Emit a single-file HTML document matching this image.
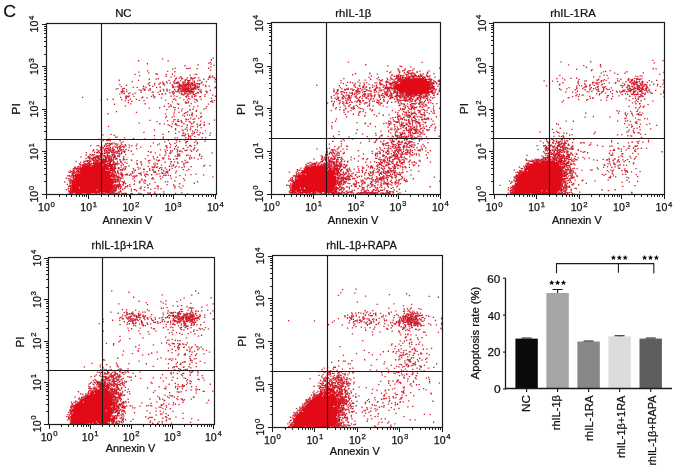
<!DOCTYPE html>
<html><head><meta charset="utf-8"><style>
html,body{margin:0;padding:0;background:#fff;}
svg{display:block;}
text{font-family:"Liberation Sans",sans-serif;fill:#111;stroke:#111;stroke-width:0.25px;}
.tx{opacity:0.999;}
</style></head><body>
<svg width="677" height="469" viewBox="0 0 677 469">
<rect width="677" height="469" fill="#fff"/>
<g class="tx"><path fill="#e30a17" d="M71 193.5L71.5 180L73 175L76 171L80.7 167.6L86 165L91 163.4L96 162L99.3 161.4L103.4 161.5L106 164L108.6 168.5L111 172L113 176L114 183L113 189L110 193.5z"/><path fill="#e30a17" shape-rendering="crispEdges" d="M186 84h1v1h-1zM185 85h2v1h-2zM186 87h1v1h-1zM185 88h3v1h-3zM185 89h3v1h-3zM105 158h1v1h-1zM103 159h3v1h-3zM102 160h4v1h-4zM102 161h4v1h-4zM110 162h1v1h-1zM110 163h1v1h-1zM109 164h4v1h-4zM108 165h5v1h-5zM109 166h3v1h-3zM110 167h2v1h-2zM110 168h3v1h-3zM110 169h3v1h-3zM110 170h3v1h-3zM114 181h2v1h-2z"/><path fill="#d0202f" d="M0 0m212.5 57.4h1.3v1.3h-1.3zm-50.6 0.8h1.3v1.3h-1.3zm48.8 0.9h1.3v1.3h-1.3zm-72.7 1h1.3v1.3h-1.3zm29.5 0.2h1.3v1.3h-1.3zm42.5 1.4h1.3v1.3h-1.3zm-1.8 0.9h1.3v1.3h-1.3zm-61.5 0.5h1.3v1.3h-1.3zm63.8 0.3h1.3v1.3h-1.3zm-13.1 0.9h1.3v1.3h-1.3zm16.1 0.4h1.3v1.3h-1.3zm-29.1 0.4h1.3v1.3h-1.3zm25.9 1.2h1.3v1.3h-1.3zm-35.7 1.5h1.3v1.3h-1.3zm11.4 0h1.3v1.3h-1.3zm3.4 -0.2h1.3v1.3h-1.3zm18.7 0h1.3v1.3h-1.3zm-36 0.9h1.3v1.3h-1.3zm15.4 -0.5h1.3v1.3h-1.3zm9 0h1.3v1.3h-1.3zm13.5 1.5h1.3v1.3h-1.3zm-63 0.8h1.3v1.3h-1.3zm20 0.4h1.3v1.3h-1.3zm-28.7 0.8h1.3v1.3h-1.3zm35.9 -0.4h1.3v1.3h-1.3zm-26.1 1.1h1.3v1.3h-1.3zm-13.8 1.5h1.3v1.3h-1.3zm21.2 -0.6h1.3v1.3h-1.3zm1.3 0.6h1.3v1.3h-1.3zm8.9 0h1.3v1.3h-1.3zm6.1 -0.1h1.3v1.3h-1.3zm22.8 0.2h1.3v1.3h-1.3zm1.6 -0.1h1.3v1.3h-1.3zm-6.7 0.8h1.3v1.3h-1.3zm-50.6 0.5h1.3v1.3h-1.3zm26.5 0.6h1.3v1.3h-1.3zm8.5 -0.1h1.3v1.3h-1.3zm35.5 -0.2h1.3v1.3h-1.3zm2.6 0.1h1.3v1.3h-1.3zm-41.5 1.1h1.3v1.3h-1.3zm9.3 -0.3h1.3v1.3h-1.3zm1 0.3h1.3v1.3h-1.3zm28 -0.4h1.3v1.3h-1.3zm2.7 0.2h1.3v1.3h-1.3zm-35.7 1.3h1.3v1.3h-1.3zm2.7 -0.2h1.3v1.3h-1.3zm8.2 -0.1h1.3v1.3h-1.3zm3.3 -0.2h1.3v1.3h-1.3zm0.6 -0.2h1.3v1.3h-1.3zm1.5 0.9h1.3v1.3h-1.3zm1 0h1.3v1.3h-1.3zm1.3 -0.7h1.3v1.3h-1.3zm3.5 0.2h1.3v1.3h-1.3zm10.5 -0.3h1.3v1.3h-1.3zm1 0h1.3v1.3h-1.3zm4 -0.1h1.3v1.3h-1.3zm0.7 0.6h1.3v1.3h-1.3zm-65.4 1.1h1.3v1.3h-1.3zm6.8 -0.2h1.3v1.3h-1.3zm2.1 -0.3h1.3v1.3h-1.3zm17.5 0h1.3v1.3h-1.3zm5.9 0h1.3v1.3h-1.3zm1 -0.2h1.3v1.3h-1.3zm3.5 0.8h1.3v1.3h-1.3zm5 -0.6h1.3v1.3h-1.3zm12.6 0.5h1.3v1.3h-1.3zm4.5 0.2h1.3v1.3h-1.3zm-89.1 0.8h1.3v1.3h-1.3zm19.4 0.1h1.3v1.3h-1.3zm30.5 0h1.3v1.3h-1.3zm5.8 -0.1h1.3v1.3h-1.3zm10.1 -0.2h1.3v1.3h-1.3zm2.5 0.4h1.3v1.3h-1.3zm2.6 0h1.3v1.3h-1.3zm2.6 -0.6h1.3v1.3h-1.3zm6.9 0.2h1.3v1.3h-1.3zm0.5 0.2h1.3v1.3h-1.3zm15.3 -0.7h1.3v1.3h-1.3zm-34.6 1.4h1.3v1.3h-1.3zm4.6 -0.3h1.3v1.3h-1.3zm2.5 0h1.3v1.3h-1.3zm0.9 -0.1h1.3v1.3h-1.3zm0.3 0.7h1.3v1.3h-1.3zm5.2 -0.1h1.3v1.3h-1.3zm3.5 -0.2h1.3v1.3h-1.3zm-65.5 0.7h1.3v1.3h-1.3zm30.5 0.4h1.3v1.3h-1.3zm3.8 -0.5h1.3v1.3h-1.3zm7.7 0.1h1.3v1.3h-1.3zm3.5 0.2h1.3v1.3h-1.3zm0.6 0.3h1.3v1.3h-1.3zm4.9 -0.3h1.3v1.3h-1.3zm1.2 0.3h1.3v1.3h-1.3zm0.8 0.2h1.3v1.3h-1.3zm2.4 0h1.3v1.3h-1.3zm0.5 -0.5h1.3v1.3h-1.3zm4.6 0.5h1.3v1.3h-1.3zm1.8 -0.4h1.3v1.3h-1.3zm7.4 0.2h1.3v1.3h-1.3zm4.5 -0.6h1.3v1.3h-1.3zm8.5 0.4h1.3v1.3h-1.3zm-65.4 0.8h1.3v1.3h-1.3zm5.2 0.6h1.3v1.3h-1.3zm5.2 -0.2h1.3v1.3h-1.3zm0.5 -0.2h1.3v1.3h-1.3zm3.3 0.2h1.3v1.3h-1.3zm3.4 -0.1h1.3v1.3h-1.3zm3.1 0.1h1.3v1.3h-1.3zm3.6 -0.4h1.3v1.3h-1.3zm2.4 0.4h1.3v1.3h-1.3zm0 -0.5h1.3v1.3h-1.3zm1.2 0.7h1.3v1.3h-1.3zm0.2 -0.2h1.3v1.3h-1.3zm0.1 -0.3h1.3v1.3h-1.3zm1.5 0.2h1.3v1.3h-1.3zm3.7 -0.3h1.3v1.3h-1.3zm0.1 0.1h1.3v1.3h-1.3zm6.2 -0.2h1.3v1.3h-1.3zm1.8 -0.1h1.3v1.3h-1.3zm0.9 0.9h1.3v1.3h-1.3zm2.8 -0.4h1.3v1.3h-1.3zm6.7 -0.3h1.3v1.3h-1.3zm-53.1 1.2h1.3v1.3h-1.3zm10.5 0.5h1.3v1.3h-1.3zm4.2 -0.9h1.3v1.3h-1.3zm11.7 0.1h1.3v1.3h-1.3zm4.6 0.6h1.3v1.3h-1.3zm3.7 -0.5h1.3v1.3h-1.3zm1.3 0.4h1.3v1.3h-1.3zm1.3 0h1.3v1.3h-1.3zm0.3 0.1h1.3v1.3h-1.3zm1.1 -0.4h1.3v1.3h-1.3zm0.1 0.6h1.3v1.3h-1.3zm0 -0.8h1.3v1.3h-1.3zm0.2 0h1.3v1.3h-1.3zm1 0.1h1.3v1.3h-1.3zm0.5 -0.1h1.3v1.3h-1.3zm0.5 0.8h1.3v1.3h-1.3zm1.6 0h1.3v1.3h-1.3zm0.2 -0.7h1.3v1.3h-1.3zm0.5 0.6h1.3v1.3h-1.3zm1.1 -0.8h1.3v1.3h-1.3zm0 0.2h1.3v1.3h-1.3zm2.2 0.7h1.3v1.3h-1.3zm1.9 -0.9h1.3v1.3h-1.3zm1.1 0.2h1.3v1.3h-1.3zm1.4 0.7h1.3v1.3h-1.3zm0.4 -0.7h1.3v1.3h-1.3zm-79.9 0.8h1.3v1.3h-1.3zm6.7 0.7h1.3v1.3h-1.3zm22.8 0.1h1.3v1.3h-1.3zm5.2 -0.4h1.3v1.3h-1.3zm9 -0.3h1.3v1.3h-1.3zm1.2 0.4h1.3v1.3h-1.3zm7.5 -0.2h1.3v1.3h-1.3zm7.8 0.1h1.3v1.3h-1.3zm0.1 -0.4h1.3v1.3h-1.3zm1.3 0.6h1.3v1.3h-1.3zm1.4 -0.5h1.3v1.3h-1.3zm0.2 0.8h1.3v1.3h-1.3zm0.9 -0.1h1.3v1.3h-1.3zm0.4 0.1h1.3v1.3h-1.3zm0.7 -0.6h1.3v1.3h-1.3zm0.8 0h1.3v1.3h-1.3zm1.6 -0.1h1.3v1.3h-1.3zm1.1 0.7h1.3v1.3h-1.3zm0.3 -0.8h1.3v1.3h-1.3zm0.1 0.4h1.3v1.3h-1.3zm1.5 0.3h1.3v1.3h-1.3zm2.6 -0.7h1.3v1.3h-1.3zm1.4 0.6h1.3v1.3h-1.3zm0.1 -0.7h1.3v1.3h-1.3zm0.4 0.4h1.3v1.3h-1.3zm0.7 0.2h1.3v1.3h-1.3zm7.5 -0.2h1.3v1.3h-1.3zm2.4 0.4h1.3v1.3h-1.3zm-62.2 0.7h1.3v1.3h-1.3zm6.5 -0.4h1.3v1.3h-1.3zm2.9 0.7h1.3v1.3h-1.3zm19.9 -0.3h1.3v1.3h-1.3zm0.8 0h1.3v1.3h-1.3zm5.1 -0.1h1.3v1.3h-1.3zm0.3 -0.3h1.3v1.3h-1.3zm0.6 0.8h1.3v1.3h-1.3zm0.6 -0.3h1.3v1.3h-1.3zm0.6 0h1.3v1.3h-1.3zm0.2 0.1h1.3v1.3h-1.3zm0.2 -0.2h1.3v1.3h-1.3zm3.9 0.2h1.3v1.3h-1.3zm3.1 0.1h1.3v1.3h-1.3zm2 -0.4h1.3v1.3h-1.3zm0.7 0.5h1.3v1.3h-1.3zm1.5 -0.5h1.3v1.3h-1.3zm0.6 -0.4h1.3v1.3h-1.3zm1.7 0.9h1.3v1.3h-1.3zm1.1 -0.5h1.3v1.3h-1.3zm1.6 0.2h1.3v1.3h-1.3zm1.9 0h1.3v1.3h-1.3zm10 0h1.3v1.3h-1.3zm-87.8 0.5h1.3v1.3h-1.3zm11.9 0.8h1.3v1.3h-1.3zm3.9 0h1.3v1.3h-1.3zm6.6 -0.7h1.3v1.3h-1.3zm2.3 0.6h1.3v1.3h-1.3zm10.6 0.1h1.3v1.3h-1.3zm3.5 -0.2h1.3v1.3h-1.3zm13.6 0h1.3v1.3h-1.3zm2.2 -0.3h1.3v1.3h-1.3zm1.7 -0.3h1.3v1.3h-1.3zm0.2 0.2h1.3v1.3h-1.3zm1.8 0.3h1.3v1.3h-1.3zm2.4 -0.6h1.3v1.3h-1.3zm0.2 0.4h1.3v1.3h-1.3zm0.5 -0.2h1.3v1.3h-1.3zm1.3 0.5h1.3v1.3h-1.3zm0.5 -0.4h1.3v1.3h-1.3zm0.6 0.2h1.3v1.3h-1.3zm0.2 -0.5h1.3v1.3h-1.3zm1.7 0h1.3v1.3h-1.3zm0.5 0.6h1.3v1.3h-1.3zm1.2 0h1.3v1.3h-1.3zm1.8 0.2h1.3v1.3h-1.3zm4.8 -0.8h1.3v1.3h-1.3zm2.1 0.2h1.3v1.3h-1.3zm1.4 0.7h1.3v1.3h-1.3zm7.2 -0.8h1.3v1.3h-1.3zm9.3 0.6h1.3v1.3h-1.3zm-90.9 1.1h1.3v1.3h-1.3zm48.3 -0.8h1.3v1.3h-1.3zm6.2 0h1.3v1.3h-1.3zm1.2 0.6h1.3v1.3h-1.3zm0.4 0.3h1.3v1.3h-1.3zm1.5 -0.8h1.3v1.3h-1.3zm0.9 0.1h1.3v1.3h-1.3zm1.1 0.1h1.3v1.3h-1.3zm0.8 0.4h1.3v1.3h-1.3zm3.9 -0.1h1.3v1.3h-1.3zm0.8 0.3h1.3v1.3h-1.3zm2 -0.2h1.3v1.3h-1.3zm0.2 0.2h1.3v1.3h-1.3zm0.6 -0.3h1.3v1.3h-1.3zm1.1 0h1.3v1.3h-1.3zm0.2 0.2h1.3v1.3h-1.3zm0.6 -0.8h1.3v1.3h-1.3zm0.6 0.9h1.3v1.3h-1.3zm0.1 -0.3h1.3v1.3h-1.3zm1 -0.5h1.3v1.3h-1.3zm1.5 0.1h1.3v1.3h-1.3zm0 -0.1h1.3v1.3h-1.3zm17.5 0.3h1.3v1.3h-1.3zm-98.8 1.2h1.3v1.3h-1.3zm1.8 -0.6h1.3v1.3h-1.3zm5 0.2h1.3v1.3h-1.3zm20.2 0h1.3v1.3h-1.3zm1.7 0.3h1.3v1.3h-1.3zm5.1 -0.5h1.3v1.3h-1.3zm13.5 0.8h1.3v1.3h-1.3zm3.4 -0.3h1.3v1.3h-1.3zm7.8 0.4h1.3v1.3h-1.3zm4.3 -0.6h1.3v1.3h-1.3zm1.2 0h1.3v1.3h-1.3zm1.8 0.3h1.3v1.3h-1.3zm0.8 -0.1h1.3v1.3h-1.3zm1.3 -0.5h1.3v1.3h-1.3zm0.5 0.9h1.3v1.3h-1.3zm3.7 -0.1h1.3v1.3h-1.3zm1.2 -0.4h1.3v1.3h-1.3zm1.4 0.3h1.3v1.3h-1.3zm0.9 -0.4h1.3v1.3h-1.3zm0.2 0.1h1.3v1.3h-1.3zm0.4 0.5h1.3v1.3h-1.3zm0.5 -0.8h1.3v1.3h-1.3zm0.5 0.6h1.3v1.3h-1.3zm1.3 -0.6h1.3v1.3h-1.3zm1.1 0h1.3v1.3h-1.3zm0 0.5h1.3v1.3h-1.3zm0.2 -0.1h1.3v1.3h-1.3zm3 0.3h1.3v1.3h-1.3zm-76.5 0.9h1.3v1.3h-1.3zm4.1 -0.7h1.3v1.3h-1.3zm12.7 0.3h1.3v1.3h-1.3zm2.1 0.6h1.3v1.3h-1.3zm2.9 -0.2h1.3v1.3h-1.3zm1 -0.3h1.3v1.3h-1.3zm3.5 0.5h1.3v1.3h-1.3zm1.6 -0.7h1.3v1.3h-1.3zm9.9 0.6h1.3v1.3h-1.3zm7.1 0h1.3v1.3h-1.3zm2.2 -0.3h1.3v1.3h-1.3zm5 -0.1h1.3v1.3h-1.3zm3.3 -0.3h1.3v1.3h-1.3zm0.8 0.4h1.3v1.3h-1.3zm2.2 -0.2h1.3v1.3h-1.3zm2.4 0.2h1.3v1.3h-1.3zm0.4 -0.1h1.3v1.3h-1.3zm1.1 0.4h1.3v1.3h-1.3zm0.5 -0.3h1.3v1.3h-1.3zm3 0.1h1.3v1.3h-1.3zm0.9 0.2h1.3v1.3h-1.3zm4.8 -0.5h1.3v1.3h-1.3zm4.4 -0.3h1.3v1.3h-1.3zm2.7 0h1.3v1.3h-1.3zm9.3 0.9h1.3v1.3h-1.3zm-86.3 0.7h1.3v1.3h-1.3zm16.8 -0.5h1.3v1.3h-1.3zm19.4 0.7h1.3v1.3h-1.3zm3.5 -0.4h1.3v1.3h-1.3zm3.4 0h1.3v1.3h-1.3zm8.5 0.2h1.3v1.3h-1.3zm3.1 -0.5h1.3v1.3h-1.3zm0.2 0.8h1.3v1.3h-1.3zm2.5 -0.7h1.3v1.3h-1.3zm0.7 0.3h1.3v1.3h-1.3zm0.4 -0.2h1.3v1.3h-1.3zm0.2 0.4h1.3v1.3h-1.3zm0.8 -0.1h1.3v1.3h-1.3zm1.5 -0.1h1.3v1.3h-1.3zm0.7 0.1h1.3v1.3h-1.3zm0.6 0h1.3v1.3h-1.3zm0.3 -0.4h1.3v1.3h-1.3zm1.1 0.1h1.3v1.3h-1.3zm0.9 0.4h1.3v1.3h-1.3zm0.3 -0.3h1.3v1.3h-1.3zm1 -0.3h1.3v1.3h-1.3zm0.2 0.6h1.3v1.3h-1.3zm0.3 -0.1h1.3v1.3h-1.3zm0.2 -0.6h1.3v1.3h-1.3zm0.4 0.7h1.3v1.3h-1.3zm0.8 -0.2h1.3v1.3h-1.3zm0.1 -0.4h1.3v1.3h-1.3zm8 0.5h1.3v1.3h-1.3zm1.1 0.3h1.3v1.3h-1.3zm5 -0.2h1.3v1.3h-1.3zm-84.9 0.5h1.3v1.3h-1.3zm1.4 0h1.3v1.3h-1.3zm4.1 -0.2h1.3v1.3h-1.3zm14.5 0.8h1.3v1.3h-1.3zm11.1 -0.3h1.3v1.3h-1.3zm1 0.1h1.3v1.3h-1.3zm4.8 0.3h1.3v1.3h-1.3zm14.3 -0.6h1.3v1.3h-1.3zm0.9 -0.3h1.3v1.3h-1.3zm0.1 0.4h1.3v1.3h-1.3zm3.6 -0.4h1.3v1.3h-1.3zm0.7 0h1.3v1.3h-1.3zm0.2 0h1.3v1.3h-1.3zm3.1 0h1.3v1.3h-1.3zm0.6 0.2h1.3v1.3h-1.3zm2.8 0.3h1.3v1.3h-1.3zm0.5 0.3h1.3v1.3h-1.3zm0.7 -0.7h1.3v1.3h-1.3zm0.9 0.2h1.3v1.3h-1.3zm1 0.1h1.3v1.3h-1.3zm2 -0.4h1.3v1.3h-1.3zm2 0h1.3v1.3h-1.3zm0.5 0.2h1.3v1.3h-1.3zm0.1 0.6h1.3v1.3h-1.3zm1 -0.7h1.3v1.3h-1.3zm0.3 0.1h1.3v1.3h-1.3zm0.5 -0.2h1.3v1.3h-1.3zm7.2 0.9h1.3v1.3h-1.3zm6 -0.9h1.3v1.3h-1.3zm-85 1.3h1.3v1.3h-1.3zm2 0.4h1.3v1.3h-1.3zm5.8 -0.3h1.3v1.3h-1.3zm5.3 0.1h1.3v1.3h-1.3zm34.8 -0.3h1.3v1.3h-1.3zm2.9 0h1.3v1.3h-1.3zm1.6 0.1h1.3v1.3h-1.3zm5 0h1.3v1.3h-1.3zm5.7 0.5h1.3v1.3h-1.3zm4 -0.6h1.3v1.3h-1.3zm0.5 -0.2h1.3v1.3h-1.3zm0.4 0.4h1.3v1.3h-1.3zm1.6 -0.4h1.3v1.3h-1.3zm1.7 0.9h1.3v1.3h-1.3zm4 -0.7h1.3v1.3h-1.3zm1 0h1.3v1.3h-1.3zm3 -0.1h1.3v1.3h-1.3zm5.6 0.2h1.3v1.3h-1.3zm-87.1 1.2h1.3v1.3h-1.3zm4.5 -0.5h1.3v1.3h-1.3zm4.2 0.1h1.3v1.3h-1.3zm4.3 0.6h1.3v1.3h-1.3zm26.5 0.2h1.3v1.3h-1.3zm2.6 0h1.3v1.3h-1.3zm0.4 -0.6h1.3v1.3h-1.3zm3.2 -0.1h1.3v1.3h-1.3zm7.7 0.4h1.3v1.3h-1.3zm8.1 -0.5h1.3v1.3h-1.3zm0.4 0.1h1.3v1.3h-1.3zm0 0.2h1.3v1.3h-1.3zm1.3 0.4h1.3v1.3h-1.3zm1.7 -0.2h1.3v1.3h-1.3zm1.2 -0.5h1.3v1.3h-1.3zm1.5 0.3h1.3v1.3h-1.3zm1.4 0.5h1.3v1.3h-1.3zm1.7 -0.8h1.3v1.3h-1.3zm2.6 0.2h1.3v1.3h-1.3zm2.8 -0.3h1.3v1.3h-1.3zm-42.9 1.4h1.3v1.3h-1.3zm28.9 -0.3h1.3v1.3h-1.3zm1.8 0.4h1.3v1.3h-1.3zm3.7 0.4h1.3v1.3h-1.3zm5.8 -0.8h1.3v1.3h-1.3zm1.4 -0.1h1.3v1.3h-1.3zm10.5 0.1h1.3v1.3h-1.3zm7.5 0.5h1.3v1.3h-1.3zm-86.3 0.7h1.3v1.3h-1.3zm0.4 0.5h1.3v1.3h-1.3zm1.2 0.1h1.3v1.3h-1.3zm1.3 -0.5h1.3v1.3h-1.3zm4.7 0.5h1.3v1.3h-1.3zm17.5 0h1.3v1.3h-1.3zm2.1 -0.3h1.3v1.3h-1.3zm17.5 0.1h1.3v1.3h-1.3zm3.2 -0.3h1.3v1.3h-1.3zm2.8 0.5h1.3v1.3h-1.3zm9.7 -0.3h1.3v1.3h-1.3zm1.9 0.3h1.3v1.3h-1.3zm3.3 -0.3h1.3v1.3h-1.3zm2.7 0.1h1.3v1.3h-1.3zm1.4 -0.4h1.3v1.3h-1.3zm8.8 0.6h1.3v1.3h-1.3zm10.5 -0.2h1.3v1.3h-1.3zm-132.8 1.2h1.3v1.3h-1.3zm38.1 0h1.3v1.3h-1.3zm4.9 -0.4h1.3v1.3h-1.3zm3 -0.3h1.3v1.3h-1.3zm14.2 0.5h1.3v1.3h-1.3zm12.3 -0.4h1.3v1.3h-1.3zm30.9 -0.1h1.3v1.3h-1.3zm0.5 0.3h1.3v1.3h-1.3zm5.7 0.2h1.3v1.3h-1.3zm7.7 -0.4h1.3v1.3h-1.3zm0.7 -0.1h1.3v1.3h-1.3zm-74.1 1h1.3v1.3h-1.3zm15.4 0.1h1.3v1.3h-1.3zm5.3 0h1.3v1.3h-1.3zm6.9 0h1.3v1.3h-1.3zm7.4 0.2h1.3v1.3h-1.3zm18.6 -0.2h1.3v1.3h-1.3zm8.4 0.6h1.3v1.3h-1.3zm23.1 0h1.3v1.3h-1.3zm-104.2 0.9h1.3v1.3h-1.3zm5.8 -0.1h1.3v1.3h-1.3zm12.8 -0.3h1.3v1.3h-1.3zm4.4 0.2h1.3v1.3h-1.3zm6 0.3h1.3v1.3h-1.3zm37.1 0h1.3v1.3h-1.3zm1.3 -0.5h1.3v1.3h-1.3zm15 0.2h1.3v1.3h-1.3zm4.8 -0.1h1.3v1.3h-1.3zm6.6 0.4h1.3v1.3h-1.3zm-99.9 0.9h1.3v1.3h-1.3zm20.4 -0.8h1.3v1.3h-1.3zm17.8 0.8h1.3v1.3h-1.3zm26.4 -0.3h1.3v1.3h-1.3zm10 0.4h1.3v1.3h-1.3zm8 -0.5h1.3v1.3h-1.3zm3.4 0.1h1.3v1.3h-1.3zm8.9 -0.5h1.3v1.3h-1.3zm0.7 0.7h1.3v1.3h-1.3zm17.6 0.1h1.3v1.3h-1.3zm-89.3 0.6h1.3v1.3h-1.3zm3.3 -0.4h1.3v1.3h-1.3zm3.4 0.9h1.3v1.3h-1.3zm12.2 -0.9h1.3v1.3h-1.3zm53.3 0.6h1.3v1.3h-1.3zm14.5 -0.4h1.3v1.3h-1.3zm-39.3 1.2h1.3v1.3h-1.3zm12.8 0.1h1.3v1.3h-1.3zm3.3 -0.1h1.3v1.3h-1.3zm6.2 0.2h1.3v1.3h-1.3zm15.9 -0.6h1.3v1.3h-1.3zm1.1 0.1h1.3v1.3h-1.3zm1.1 0.4h1.3v1.3h-1.3zm-84.6 0.5h1.3v1.3h-1.3zm57.6 0.9h1.3v1.3h-1.3zm0.6 -0.8h1.3v1.3h-1.3zm1.5 0.1h1.3v1.3h-1.3zm-73.6 1.5h1.3v1.3h-1.3zm16.2 -0.3h1.3v1.3h-1.3zm14.5 -0.2h1.3v1.3h-1.3zm23.3 -0.1h1.3v1.3h-1.3zm9.1 0.2h1.3v1.3h-1.3zm1.1 0.4h1.3v1.3h-1.3zm12.5 -0.6h1.3v1.3h-1.3zm17.3 0.4h1.3v1.3h-1.3zm-37.9 0.8h1.3v1.3h-1.3zm-45.1 1.3h1.3v1.3h-1.3zm38.8 0.1h1.3v1.3h-1.3zm7.1 0h1.3v1.3h-1.3zm18.1 -0.4h1.3v1.3h-1.3zm8.3 0.2h1.3v1.3h-1.3zm-28.7 0.7h1.3v1.3h-1.3zm4.6 0.7h1.3v1.3h-1.3zm20.2 -0.5h1.3v1.3h-1.3zm13 -0.4h1.3v1.3h-1.3zm-57.6 1.5h1.3v1.3h-1.3zm10.4 -0.3h1.3v1.3h-1.3zm15.6 -0.1h1.3v1.3h-1.3zm3.2 0.5h1.3v1.3h-1.3zm27.4 0.2h1.3v1.3h-1.3zm-23.4 0.5h1.3v1.3h-1.3zm10.6 0.4h1.3v1.3h-1.3zm11 -0.1h1.3v1.3h-1.3zm-37.1 0.5h1.3v1.3h-1.3zm7.9 0.1h1.3v1.3h-1.3zm14.9 -0.2h1.3v1.3h-1.3zm0.4 0.5h1.3v1.3h-1.3zm6.3 0.3h1.3v1.3h-1.3zm-14.8 0.6h1.3v1.3h-1.3zm14.5 0.4h1.3v1.3h-1.3zm-79.7 0.2h1.3v1.3h-1.3zm20 0.9h1.3v1.3h-1.3zm37.8 -0.4h1.3v1.3h-1.3zm4.7 0.4h1.3v1.3h-1.3zm8.7 -0.7h1.3v1.3h-1.3zm-2.5 1.3h1.3v1.3h-1.3zm1 -0.4h1.3v1.3h-1.3zm6 0.3h1.3v1.3h-1.3zm8.8 0.3h1.3v1.3h-1.3zm-93.1 0.5h1.3v1.3h-1.3zm57.7 0.3h1.3v1.3h-1.3zm8.3 0h1.3v1.3h-1.3zm10.3 -0.5h1.3v1.3h-1.3zm8.4 0.5h1.3v1.3h-1.3zm-9.7 1.4h1.3v1.3h-1.3zm4.6 -0.3h1.3v1.3h-1.3zm2.1 -0.1h1.3v1.3h-1.3zm2.1 -0.5h1.3v1.3h-1.3zm-25.2 1.8h1.3v1.3h-1.3zm7.8 0.1h1.3v1.3h-1.3zm10.4 -0.3h1.3v1.3h-1.3zm7.4 -0.2h1.3v1.3h-1.3zm4.5 -0.1h1.3v1.3h-1.3zm5 0.6h1.3v1.3h-1.3zm-29.3 0.6h1.3v1.3h-1.3zm28.4 0.2h1.3v1.3h-1.3zm-34.8 0.4h1.3v1.3h-1.3zm24.8 0.8h1.3v1.3h-1.3zm8.1 -0.1h1.3v1.3h-1.3zm-13 0.8h1.3v1.3h-1.3zm1 0.3h1.3v1.3h-1.3zm6.4 -0.1h1.3v1.3h-1.3zm1.6 -0.6h1.3v1.3h-1.3zm-44.7 1.6h1.3v1.3h-1.3zm23.9 -0.5h1.3v1.3h-1.3zm1 -0.3h1.3v1.3h-1.3zm3.3 0h1.3v1.3h-1.3zm10.3 0h1.3v1.3h-1.3zm25.9 0.6h1.3v1.3h-1.3zm-46.9 0.7h1.3v1.3h-1.3zm10.1 0.5h1.3v1.3h-1.3zm0.4 -0.2h1.3v1.3h-1.3zm3.1 -0.4h1.3v1.3h-1.3zm4.9 0.3h1.3v1.3h-1.3zm14.7 0.1h1.3v1.3h-1.3zm-43.7 0.4h1.3v1.3h-1.3zm16.3 0h1.3v1.3h-1.3zm5.5 0.1h1.3v1.3h-1.3zm2.7 0.3h1.3v1.3h-1.3zm7.8 -0.3h1.3v1.3h-1.3zm1.1 0.8h1.3v1.3h-1.3zm3.7 -0.6h1.3v1.3h-1.3zm10.2 0.5h1.3v1.3h-1.3zm-65.2 0.7h1.3v1.3h-1.3zm36.5 0.3h1.3v1.3h-1.3zm6.4 -0.8h1.3v1.3h-1.3zm11.5 0.1h1.3v1.3h-1.3zm-33.7 1.1h1.3v1.3h-1.3zm4.6 0.2h1.3v1.3h-1.3zm7.7 -0.1h1.3v1.3h-1.3zm3.1 0.5h1.3v1.3h-1.3zm0.7 -0.7h1.3v1.3h-1.3zm8 0.1h1.3v1.3h-1.3zm7.6 0h1.3v1.3h-1.3zm0.3 -0.2h1.3v1.3h-1.3zm5.3 0.7h1.3v1.3h-1.3zm3.6 -0.2h1.3v1.3h-1.3zm8.6 -0.3h1.3v1.3h-1.3zm-41.2 1h1.3v1.3h-1.3zm7.8 -0.1h1.3v1.3h-1.3zm1 0.6h1.3v1.3h-1.3zm10.4 0h1.3v1.3h-1.3zm9.9 -0.7h1.3v1.3h-1.3zm2.1 0.8h1.3v1.3h-1.3zm0.9 0.1h1.3v1.3h-1.3zm4.2 -0.7h1.3v1.3h-1.3zm-95.9 1.6h1.3v1.3h-1.3zm61.3 -0.8h1.3v1.3h-1.3zm9 0.3h1.3v1.3h-1.3zm3.1 0.6h1.3v1.3h-1.3zm9 -0.1h1.3v1.3h-1.3zm13.1 -0.7h1.3v1.3h-1.3zm-32.4 1.1h1.3v1.3h-1.3zm15.3 0.7h1.3v1.3h-1.3zm6 -0.8h1.3v1.3h-1.3zm4.5 0.1h1.3v1.3h-1.3zm-6.7 1.3h1.3v1.3h-1.3zm10.5 -0.5h1.3v1.3h-1.3zm-25.7 1h1.3v1.3h-1.3zm9.6 0.5h1.3v1.3h-1.3zm1.9 0.1h1.3v1.3h-1.3zm-32.6 0.7h1.3v1.3h-1.3zm21.1 0.1h1.3v1.3h-1.3zm6.8 0h1.3v1.3h-1.3zm7.8 -0.2h1.3v1.3h-1.3zm5.4 -0.1h1.3v1.3h-1.3zm1.9 0.6h1.3v1.3h-1.3zm-14.3 0.6h1.3v1.3h-1.3zm4.2 0h1.3v1.3h-1.3zm5.4 0.4h1.3v1.3h-1.3zm12.7 -0.4h1.3v1.3h-1.3zm-61.5 1.5h1.3v1.3h-1.3zm24.7 -0.6h1.3v1.3h-1.3zm10.5 0.1h1.3v1.3h-1.3zm15.3 0.4h1.3v1.3h-1.3zm2.6 0.1h1.3v1.3h-1.3zm-21.5 1.1h1.3v1.3h-1.3zm7.6 -0.2h1.3v1.3h-1.3zm0.8 -0.1h1.3v1.3h-1.3zm8.2 0.2h1.3v1.3h-1.3zm8 -0.6h1.3v1.3h-1.3zm2.5 0.7h1.3v1.3h-1.3zm7.8 -0.3h1.3v1.3h-1.3zm-99.4 1.2h1.3v1.3h-1.3zm52 0.1h1.3v1.3h-1.3zm22.5 -0.2h1.3v1.3h-1.3zm2.5 -0.3h1.3v1.3h-1.3zm5.8 -0.2h1.3v1.3h-1.3zm-90.9 1.2h1.3v1.3h-1.3zm11.3 0.4h1.3v1.3h-1.3zm68.8 -0.2h1.3v1.3h-1.3zm5.7 0.3h1.3v1.3h-1.3zm3.4 -0.4h1.3v1.3h-1.3zm6 -0.4h1.3v1.3h-1.3zm1.1 0.3h1.3v1.3h-1.3zm10.6 0.5h1.3v1.3h-1.3zm-55.4 0.1h1.3v1.3h-1.3zm27.7 0.1h1.3v1.3h-1.3zm2.1 0.1h1.3v1.3h-1.3zm0.6 -0.2h1.3v1.3h-1.3zm5.7 0.6h1.3v1.3h-1.3zm-74.9 1h1.3v1.3h-1.3zm1.4 -0.1h1.3v1.3h-1.3zm46.3 0h1.3v1.3h-1.3zm25.4 -0.3h1.3v1.3h-1.3zm0.3 -0.1h1.3v1.3h-1.3zm1.6 -0.1h1.3v1.3h-1.3zm4.2 0h1.3v1.3h-1.3zm-70.3 1.3h1.3v1.3h-1.3zm38.7 0.2h1.3v1.3h-1.3zm11.8 -0.1h1.3v1.3h-1.3zm2.2 -0.1h1.3v1.3h-1.3zm8.5 -0.1h1.3v1.3h-1.3zm2.6 0.6h1.3v1.3h-1.3zm2.2 0h1.3v1.3h-1.3zm11.6 -0.6h1.3v1.3h-1.3zm3.3 0.1h1.3v1.3h-1.3zm-106.3 1.4h1.3v1.3h-1.3zm10 0h1.3v1.3h-1.3zm0.3 -0.2h1.3v1.3h-1.3zm24 -0.5h1.3v1.3h-1.3zm11.5 0.4h1.3v1.3h-1.3zm9.5 0.2h1.3v1.3h-1.3zm36.7 0.3h1.3v1.3h-1.3zm0.3 -0.4h1.3v1.3h-1.3zm-88.3 0.9h1.3v1.3h-1.3zm3.6 0.5h1.3v1.3h-1.3zm0.2 -0.4h1.3v1.3h-1.3zm1.1 0.3h1.3v1.3h-1.3zm0.3 -0.7h1.3v1.3h-1.3zm0.4 0.4h1.3v1.3h-1.3zm59.7 0.3h1.3v1.3h-1.3zm7.3 -0.7h1.3v1.3h-1.3zm1.1 0.5h1.3v1.3h-1.3zm8 -0.2h1.3v1.3h-1.3zm-81.4 0.7h1.3v1.3h-1.3zm6.8 -0.1h1.3v1.3h-1.3zm9.8 0.2h1.3v1.3h-1.3zm59.6 0.5h1.3v1.3h-1.3zm7.8 0.1h1.3v1.3h-1.3zm8.6 -0.3h1.3v1.3h-1.3zm9 0.2h1.3v1.3h-1.3zm-81.9 0.4h1.3v1.3h-1.3zm41.6 0.3h1.3v1.3h-1.3zm11.8 0.1h1.3v1.3h-1.3zm9.4 0.1h1.3v1.3h-1.3zm0.3 -0.4h1.3v1.3h-1.3zm8.5 0.7h1.3v1.3h-1.3zm-87.2 0.8h1.3v1.3h-1.3zm2.3 0.2h1.3v1.3h-1.3zm2.2 -0.3h1.3v1.3h-1.3zm1.9 -0.2h1.3v1.3h-1.3zm7.3 -0.2h1.3v1.3h-1.3zm32.1 0.1h1.3v1.3h-1.3zm16.3 0.2h1.3v1.3h-1.3zm5.3 0.4h1.3v1.3h-1.3zm10.8 -0.6h1.3v1.3h-1.3zm11.7 -0.1h1.3v1.3h-1.3zm-91.5 0.9h1.3v1.3h-1.3zm0.3 0.8h1.3v1.3h-1.3zm3 -0.8h1.3v1.3h-1.3zm1.2 0.6h1.3v1.3h-1.3zm0.7 -0.4h1.3v1.3h-1.3zm1 0.2h1.3v1.3h-1.3zm3.2 -0.1h1.3v1.3h-1.3zm0.6 0.2h1.3v1.3h-1.3zm0.4 0h1.3v1.3h-1.3zm1.6 -0.1h1.3v1.3h-1.3zm3.8 0.4h1.3v1.3h-1.3zm15.3 -0.4h1.3v1.3h-1.3zm22.4 -0.1h1.3v1.3h-1.3zm37.9 -0.2h1.3v1.3h-1.3zm-92.5 1.7h1.3v1.3h-1.3zm3.2 -0.1h1.3v1.3h-1.3zm1.9 -0.6h1.3v1.3h-1.3zm10.3 0.6h1.3v1.3h-1.3zm5 -0.5h1.3v1.3h-1.3zm0.1 -0.2h1.3v1.3h-1.3zm3.9 0.4h1.3v1.3h-1.3zm28.4 -0.2h1.3v1.3h-1.3zm13 -0.2h1.3v1.3h-1.3zm5.8 0.7h1.3v1.3h-1.3zm9.6 0.1h1.3v1.3h-1.3zm4.2 0h1.3v1.3h-1.3zm4.6 -0.1h1.3v1.3h-1.3zm-104 0.2h1.3v1.3h-1.3zm6.3 0h1.3v1.3h-1.3zm1.5 0h1.3v1.3h-1.3zm3.1 0.6h1.3v1.3h-1.3zm2.7 0.1h1.3v1.3h-1.3zm2.1 0h1.3v1.3h-1.3zm0.4 -0.1h1.3v1.3h-1.3zm2.3 0h1.3v1.3h-1.3zm0.5 -0.6h1.3v1.3h-1.3zm5 0.5h1.3v1.3h-1.3zm2.3 -0.5h1.3v1.3h-1.3zm5.3 0.9h1.3v1.3h-1.3zm1.1 -0.4h1.3v1.3h-1.3zm0 0.4h1.3v1.3h-1.3zm2.5 -0.6h1.3v1.3h-1.3zm5.9 -0.1h1.3v1.3h-1.3zm4.4 0h1.3v1.3h-1.3zm14.4 0.3h1.3v1.3h-1.3zm15.5 -0.3h1.3v1.3h-1.3zm0.5 0.2h1.3v1.3h-1.3zm0.1 0.5h1.3v1.3h-1.3zm23 -0.7h1.3v1.3h-1.3zm1.6 0.6h1.3v1.3h-1.3zm-90.9 0.9h1.3v1.3h-1.3zm0.7 -0.1h1.3v1.3h-1.3zm9.2 0.3h1.3v1.3h-1.3zm2.6 -0.2h1.3v1.3h-1.3zm2.9 0h1.3v1.3h-1.3zm1.5 0.1h1.3v1.3h-1.3zm1.5 -0.6h1.3v1.3h-1.3zm0.4 0.1h1.3v1.3h-1.3zm0.4 -0.3h1.3v1.3h-1.3zm0.4 0.3h1.3v1.3h-1.3zm1.1 0.3h1.3v1.3h-1.3zm2.7 0.1h1.3v1.3h-1.3zm0.3 -0.5h1.3v1.3h-1.3zm5.2 0.6h1.3v1.3h-1.3zm11.4 -0.2h1.3v1.3h-1.3zm29.5 0.1h1.3v1.3h-1.3zm5.3 -0.7h1.3v1.3h-1.3zm2.4 0.8h1.3v1.3h-1.3zm9.9 0.1h1.3v1.3h-1.3zm-85.9 0.6h1.3v1.3h-1.3zm1.2 -0.5h1.3v1.3h-1.3zm0.5 0.5h1.3v1.3h-1.3zm2.1 0.4h1.3v1.3h-1.3zm1.4 -0.2h1.3v1.3h-1.3zm0.8 -0.2h1.3v1.3h-1.3zm0.8 -0.2h1.3v1.3h-1.3zm4.3 0.3h1.3v1.3h-1.3zm7 -0.2h1.3v1.3h-1.3zm46.8 -0.2h1.3v1.3h-1.3zm16.7 0.6h1.3v1.3h-1.3zm11.1 -0.8h1.3v1.3h-1.3zm-94 1.7h1.3v1.3h-1.3zm4.8 -0.4h1.3v1.3h-1.3zm0.5 -0.3h1.3v1.3h-1.3zm3 0.5h1.3v1.3h-1.3zm0.4 0h1.3v1.3h-1.3zm1.4 0.3h1.3v1.3h-1.3zm0.1 -0.5h1.3v1.3h-1.3zm1.8 0.1h1.3v1.3h-1.3zm5 -0.2h1.3v1.3h-1.3zm2 -0.2h1.3v1.3h-1.3zm0.9 0.5h1.3v1.3h-1.3zm3 0.4h1.3v1.3h-1.3zm2.4 0h1.3v1.3h-1.3zm10.8 -0.9h1.3v1.3h-1.3zm37.9 0.2h1.3v1.3h-1.3zm2.4 0.7h1.3v1.3h-1.3zm6 -0.9h1.3v1.3h-1.3zm11.2 0.3h1.3v1.3h-1.3zm-100.6 1.2h1.3v1.3h-1.3zm0.1 -0.4h1.3v1.3h-1.3zm3.3 0.1h1.3v1.3h-1.3zm4 0h1.3v1.3h-1.3zm1 0.5h1.3v1.3h-1.3zm2.2 -0.3h1.3v1.3h-1.3zm0.7 -0.3h1.3v1.3h-1.3zm1.9 0.6h1.3v1.3h-1.3zm1.7 0h1.3v1.3h-1.3zm1.7 -0.1h1.3v1.3h-1.3zm2.8 -0.1h1.3v1.3h-1.3zm0.8 -0.2h1.3v1.3h-1.3zm0.5 -0.3h1.3v1.3h-1.3zm4.7 0.5h1.3v1.3h-1.3zm2.6 -0.5h1.3v1.3h-1.3zm6.8 0.9h1.3v1.3h-1.3zm32 -0.6h1.3v1.3h-1.3zm4.6 0.1h1.3v1.3h-1.3zm2.1 0.4h1.3v1.3h-1.3zm10.5 -0.2h1.3v1.3h-1.3zm7.4 0.3h1.3v1.3h-1.3zm2.1 -0.4h1.3v1.3h-1.3zm3.4 0.1h1.3v1.3h-1.3zm3.1 -0.4h1.3v1.3h-1.3zm4.1 0.2h1.3v1.3h-1.3zm-104.9 0.9h1.3v1.3h-1.3zm5.9 -0.1h1.3v1.3h-1.3zm0.1 0.5h1.3v1.3h-1.3zm2.3 -0.2h1.3v1.3h-1.3zm0.6 -0.2h1.3v1.3h-1.3zm2.6 0.1h1.3v1.3h-1.3zm1.9 -0.2h1.3v1.3h-1.3zm3.4 0.2h1.3v1.3h-1.3zm0.6 0.2h1.3v1.3h-1.3zm0.1 -0.3h1.3v1.3h-1.3zm0.4 -0.3h1.3v1.3h-1.3zm0.3 0.7h1.3v1.3h-1.3zm1.5 -0.7h1.3v1.3h-1.3zm1.2 0.9h1.3v1.3h-1.3zm2.1 -0.3h1.3v1.3h-1.3zm2.2 -0.6h1.3v1.3h-1.3zm0.7 0.6h1.3v1.3h-1.3zm2.2 -0.4h1.3v1.3h-1.3zm0.7 0.2h1.3v1.3h-1.3zm2.4 0.3h1.3v1.3h-1.3zm0.9 -0.2h1.3v1.3h-1.3zm6.3 0.2h1.3v1.3h-1.3zm17.1 0.2h1.3v1.3h-1.3zm22.1 -0.6h1.3v1.3h-1.3zm1.9 0.1h1.3v1.3h-1.3zm7.3 0.3h1.3v1.3h-1.3zm1.2 -0.3h1.3v1.3h-1.3zm5.2 -0.3h1.3v1.3h-1.3zm5.6 0.6h1.3v1.3h-1.3zm5 -0.2h1.3v1.3h-1.3zm-102.1 1.2h1.3v1.3h-1.3zm2.9 -0.1h1.3v1.3h-1.3zm1.8 0.3h1.3v1.3h-1.3zm2.9 -0.5h1.3v1.3h-1.3zm2.6 -0.3h1.3v1.3h-1.3zm2.3 -0.1h1.3v1.3h-1.3zm0.8 0.8h1.3v1.3h-1.3zm0.3 -0.1h1.3v1.3h-1.3zm3.4 0h1.3v1.3h-1.3zm1.3 0h1.3v1.3h-1.3zm1.4 -0.2h1.3v1.3h-1.3zm1.9 -0.4h1.3v1.3h-1.3zm0.9 0.5h1.3v1.3h-1.3zm0.7 -0.3h1.3v1.3h-1.3zm1.5 -0.1h1.3v1.3h-1.3zm4 -0.2h1.3v1.3h-1.3zm1.5 0.8h1.3v1.3h-1.3zm25.8 0h1.3v1.3h-1.3zm0.5 -0.4h1.3v1.3h-1.3zm14.5 -0.3h1.3v1.3h-1.3zm5.7 0.4h1.3v1.3h-1.3zm6.2 -0.1h1.3v1.3h-1.3zm0.1 -0.2h1.3v1.3h-1.3zm4.7 0.2h1.3v1.3h-1.3zm-96 0.8h1.3v1.3h-1.3zm10.4 0.1h1.3v1.3h-1.3zm1.2 -0.3h1.3v1.3h-1.3zm2.6 0.8h1.3v1.3h-1.3zm0.9 -0.6h1.3v1.3h-1.3zm2.8 0.4h1.3v1.3h-1.3zm0.4 0.2h1.3v1.3h-1.3zm1 -0.1h1.3v1.3h-1.3zm1.2 -0.6h1.3v1.3h-1.3zm2.4 -0.1h1.3v1.3h-1.3zm0.2 0.2h1.3v1.3h-1.3zm2.6 0.1h1.3v1.3h-1.3zm2.8 -0.1h1.3v1.3h-1.3zm0.4 0.2h1.3v1.3h-1.3zm1.7 0.5h1.3v1.3h-1.3zm4.8 -0.9h1.3v1.3h-1.3zm33.6 0.4h1.3v1.3h-1.3zm10.8 0.1h1.3v1.3h-1.3zm3.8 -0.2h1.3v1.3h-1.3zm42.3 0h1.3v1.3h-1.3zm-111.5 1.6h1.3v1.3h-1.3zm0.6 -0.4h1.3v1.3h-1.3zm0.9 -0.1h1.3v1.3h-1.3zm0.4 -0.2h1.3v1.3h-1.3zm4.9 0.3h1.3v1.3h-1.3zm1.4 -0.4h1.3v1.3h-1.3zm4.5 0.3h1.3v1.3h-1.3zm5.1 -0.3h1.3v1.3h-1.3zm1.4 -0.1h1.3v1.3h-1.3zm0.1 0.3h1.3v1.3h-1.3zm1.6 -0.3h1.3v1.3h-1.3zm11.4 0.9h1.3v1.3h-1.3zm37.5 -0.9h1.3v1.3h-1.3zm7.4 0.6h1.3v1.3h-1.3zm1.9 -0.3h1.3v1.3h-1.3zm20 0.3h1.3v1.3h-1.3zm-113.6 1h1.3v1.3h-1.3zm3.9 -0.4h1.3v1.3h-1.3zm1.5 0.5h1.3v1.3h-1.3zm1.3 -0.7h1.3v1.3h-1.3zm1.7 0h1.3v1.3h-1.3zm5.9 0.6h1.3v1.3h-1.3zm2 -0.5h1.3v1.3h-1.3zm2.1 0.7h1.3v1.3h-1.3zm2.7 -0.7h1.3v1.3h-1.3zm0.1 0.4h1.3v1.3h-1.3zm4.7 -0.4h1.3v1.3h-1.3zm1.1 0.5h1.3v1.3h-1.3zm1.4 0.2h1.3v1.3h-1.3zm0 -0.6h1.3v1.3h-1.3zm5 0.6h1.3v1.3h-1.3zm6.1 -0.8h1.3v1.3h-1.3zm34.2 0.4h1.3v1.3h-1.3zm5.2 0.3h1.3v1.3h-1.3zm12.9 -0.7h1.3v1.3h-1.3zm1 0h1.3v1.3h-1.3zm7.7 0.9h1.3v1.3h-1.3zm1.2 -0.4h1.3v1.3h-1.3zm11.7 0.2h1.3v1.3h-1.3zm-110.9 1.1h1.3v1.3h-1.3zm4.6 -0.5h1.3v1.3h-1.3zm2.9 0.2h1.3v1.3h-1.3zm0.3 -0.2h1.3v1.3h-1.3zm1.5 -0.1h1.3v1.3h-1.3zm0.8 0.3h1.3v1.3h-1.3zm0.9 0h1.3v1.3h-1.3zm0.4 0.1h1.3v1.3h-1.3zm0.2 0.3h1.3v1.3h-1.3zm0 0h1.3v1.3h-1.3zm3.4 -0.8h1.3v1.3h-1.3zm0.2 0.5h1.3v1.3h-1.3zm1.2 -0.6h1.3v1.3h-1.3zm2.5 0.8h1.3v1.3h-1.3zm0.4 -0.8h1.3v1.3h-1.3zm1.4 0.3h1.3v1.3h-1.3zm0.8 0.1h1.3v1.3h-1.3zm2.1 -0.4h1.3v1.3h-1.3zm2.6 0.3h1.3v1.3h-1.3zm0.5 0.6h1.3v1.3h-1.3zm2.3 -0.4h1.3v1.3h-1.3zm0.2 -0.5h1.3v1.3h-1.3zm30.3 0h1.3v1.3h-1.3zm20.6 0.6h1.3v1.3h-1.3zm6.7 -0.1h1.3v1.3h-1.3zm1.9 0.2h1.3v1.3h-1.3zm1 -0.7h1.3v1.3h-1.3zm1.4 0.2h1.3v1.3h-1.3zm10.5 0h1.3v1.3h-1.3zm11.5 0.6h1.3v1.3h-1.3zm-120.8 0.6h1.3v1.3h-1.3zm6.8 0.4h1.3v1.3h-1.3zm2.2 -0.3h1.3v1.3h-1.3zm4.4 0.4h1.3v1.3h-1.3zm1 -0.6h1.3v1.3h-1.3zm1.3 0.4h1.3v1.3h-1.3zm0.4 -0.7h1.3v1.3h-1.3zm0.4 0.1h1.3v1.3h-1.3zm0.5 0.3h1.3v1.3h-1.3zm0.8 0.5h1.3v1.3h-1.3zm1.9 -0.1h1.3v1.3h-1.3zm0.4 -0.1h1.3v1.3h-1.3zm0.9 -0.4h1.3v1.3h-1.3zm3.1 0.2h1.3v1.3h-1.3zm0.1 0.3h1.3v1.3h-1.3zm1.1 -0.7h1.3v1.3h-1.3zm2.2 0.8h1.3v1.3h-1.3zm0.7 -0.5h1.3v1.3h-1.3zm2 -0.1h1.3v1.3h-1.3zm2 0.1h1.3v1.3h-1.3zm0.8 0h1.3v1.3h-1.3zm0.7 0.4h1.3v1.3h-1.3zm0.1 -0.1h1.3v1.3h-1.3zm4.4 -0.5h1.3v1.3h-1.3zm4.6 -0.2h1.3v1.3h-1.3zm29.6 0.2h1.3v1.3h-1.3zm4 0.5h1.3v1.3h-1.3zm-69.4 0.4h1.3v1.3h-1.3zm1.1 0h1.3v1.3h-1.3zm0.3 0.8h1.3v1.3h-1.3zm1.8 -0.3h1.3v1.3h-1.3zm2.1 -0.5h1.3v1.3h-1.3zm1.4 0.3h1.3v1.3h-1.3zm0.8 0.3h1.3v1.3h-1.3zm0.8 -0.7h1.3v1.3h-1.3zm1.4 0.6h1.3v1.3h-1.3zm2.2 0.1h1.3v1.3h-1.3zm1.9 -0.4h1.3v1.3h-1.3zm1.9 0.5h1.3v1.3h-1.3zm2.2 -0.5h1.3v1.3h-1.3zm0.7 -0.2h1.3v1.3h-1.3zm0.1 0.1h1.3v1.3h-1.3zm0.1 0.4h1.3v1.3h-1.3zm0.3 0.2h1.3v1.3h-1.3zm1.8 0.1h1.3v1.3h-1.3zm0.5 -0.4h1.3v1.3h-1.3zm1.7 -0.4h1.3v1.3h-1.3zm0.4 0.4h1.3v1.3h-1.3zm2.2 -0.3h1.3v1.3h-1.3zm2.1 0.4h1.3v1.3h-1.3zm0.6 -0.1h1.3v1.3h-1.3zm7.3 0.1h1.3v1.3h-1.3zm38.7 0h1.3v1.3h-1.3zm1.6 -0.4h1.3v1.3h-1.3zm25.8 0h1.3v1.3h-1.3zm1.9 0h1.3v1.3h-1.3zm2.7 0.1h1.3v1.3h-1.3zm6.9 0.6h1.3v1.3h-1.3zm-115.2 0.2h1.3v1.3h-1.3zm3.7 0.5h1.3v1.3h-1.3zm0.2 0h1.3v1.3h-1.3zm1.5 -0.6h1.3v1.3h-1.3zm0.6 0.5h1.3v1.3h-1.3zm1 -0.1h1.3v1.3h-1.3zm1 -0.1h1.3v1.3h-1.3zm4.3 -0.2h1.3v1.3h-1.3zm1.3 0.6h1.3v1.3h-1.3zm0.1 -0.1h1.3v1.3h-1.3zm1.2 0.2h1.3v1.3h-1.3zm5.4 -0.6h1.3v1.3h-1.3zm0.1 -0.1h1.3v1.3h-1.3zm2.1 -0.1h1.3v1.3h-1.3zm0.1 0.5h1.3v1.3h-1.3zm0.9 0h1.3v1.3h-1.3zm0.1 -0.3h1.3v1.3h-1.3zm1 0.6h1.3v1.3h-1.3zm1 0.1h1.3v1.3h-1.3zm2.2 -0.4h1.3v1.3h-1.3zm2.1 0.2h1.3v1.3h-1.3zm1.1 -0.7h1.3v1.3h-1.3zm0 0.2h1.3v1.3h-1.3zm6.5 0.7h1.3v1.3h-1.3zm3.3 -0.1h1.3v1.3h-1.3zm18.6 -0.5h1.3v1.3h-1.3zm8.6 -0.1h1.3v1.3h-1.3zm9.2 0.4h1.3v1.3h-1.3zm5.5 -0.4h1.3v1.3h-1.3zm1.6 0.7h1.3v1.3h-1.3zm3.3 -0.1h1.3v1.3h-1.3zm2.6 -0.8h1.3v1.3h-1.3zm0.3 0.3h1.3v1.3h-1.3zm0.5 -0.3h1.3v1.3h-1.3zm0.2 0.3h1.3v1.3h-1.3zm12.5 0h1.3v1.3h-1.3zm0.3 0h1.3v1.3h-1.3zm8 0.2h1.3v1.3h-1.3zm-105.7 0.8h1.3v1.3h-1.3zm1 0.4h1.3v1.3h-1.3zm2.2 -0.5h1.3v1.3h-1.3zm1.4 0.1h1.3v1.3h-1.3zm1.3 0.6h1.3v1.3h-1.3zm0.8 -0.7h1.3v1.3h-1.3zm2.2 0.5h1.3v1.3h-1.3zm0.6 -0.4h1.3v1.3h-1.3zm0.7 -0.1h1.3v1.3h-1.3zm0.4 0.2h1.3v1.3h-1.3zm3.6 -0.3h1.3v1.3h-1.3zm2.1 0.6h1.3v1.3h-1.3zm1.3 -0.7h1.3v1.3h-1.3zm0.9 0.6h1.3v1.3h-1.3zm1 -0.4h1.3v1.3h-1.3zm0.5 0.7h1.3v1.3h-1.3zm0.5 -0.1h1.3v1.3h-1.3zm0.1 -0.2h1.3v1.3h-1.3zm6.8 -0.2h1.3v1.3h-1.3zm0.3 -0.4h1.3v1.3h-1.3zm3.2 0.3h1.3v1.3h-1.3zm1.4 -0.2h1.3v1.3h-1.3zm7 0.6h1.3v1.3h-1.3zm18.3 0.2h1.3v1.3h-1.3zm6.4 -0.6h1.3v1.3h-1.3zm2.6 0.3h1.3v1.3h-1.3zm0.6 0.3h1.3v1.3h-1.3zm25.6 -0.1h1.3v1.3h-1.3zm-109.1 1.1h1.3v1.3h-1.3zm8 -0.1h1.3v1.3h-1.3zm1.3 -0.2h1.3v1.3h-1.3zm1.1 -0.1h1.3v1.3h-1.3zm1 -0.4h1.3v1.3h-1.3zm1 0h1.3v1.3h-1.3zm1.1 0.6h1.3v1.3h-1.3zm0.4 -0.4h1.3v1.3h-1.3zm0.9 0.2h1.3v1.3h-1.3zm3.2 -0.1h1.3v1.3h-1.3zm0.5 -0.4h1.3v1.3h-1.3zm0.2 0.2h1.3v1.3h-1.3zm0 0h1.3v1.3h-1.3zm1.7 0h1.3v1.3h-1.3zm0.1 -0.1h1.3v1.3h-1.3zm0.4 0.1h1.3v1.3h-1.3zm0.8 0.3h1.3v1.3h-1.3zm0.9 0.2h1.3v1.3h-1.3zm0.9 0.1h1.3v1.3h-1.3zm0.9 0h1.3v1.3h-1.3zm0.9 -0.3h1.3v1.3h-1.3zm0.4 -0.2h1.3v1.3h-1.3zm5 0h1.3v1.3h-1.3zm0.7 0.5h1.3v1.3h-1.3zm0.8 -0.1h1.3v1.3h-1.3zm1.3 -0.6h1.3v1.3h-1.3zm0.7 0.4h1.3v1.3h-1.3zm0.9 0.2h1.3v1.3h-1.3zm0.3 0h1.3v1.3h-1.3zm1.9 0.1h1.3v1.3h-1.3zm4.1 0h1.3v1.3h-1.3zm3.5 -0.3h1.3v1.3h-1.3zm16.1 -0.5h1.3v1.3h-1.3zm11.5 0.2h1.3v1.3h-1.3zm9.6 -0.2h1.3v1.3h-1.3zm0 0.5h1.3v1.3h-1.3zm-77.4 1.4h1.3v1.3h-1.3zm3 0h1.3v1.3h-1.3zm3.7 -0.9h1.3v1.3h-1.3zm2.4 0.4h1.3v1.3h-1.3zm1 -0.2h1.3v1.3h-1.3zm2.7 0.7h1.3v1.3h-1.3zm0.3 -0.4h1.3v1.3h-1.3zm1.7 -0.4h1.3v1.3h-1.3zm0.5 0.2h1.3v1.3h-1.3zm0.7 0h1.3v1.3h-1.3zm0.3 -0.1h1.3v1.3h-1.3zm0.5 -0.2h1.3v1.3h-1.3zm7.2 0.8h1.3v1.3h-1.3zm1.4 -0.5h1.3v1.3h-1.3zm0.4 0.1h1.3v1.3h-1.3zm3.2 -0.2h1.3v1.3h-1.3zm1.2 0h1.3v1.3h-1.3zm3.1 0h1.3v1.3h-1.3zm6.6 0.4h1.3v1.3h-1.3zm0.8 0h1.3v1.3h-1.3zm3.6 0h1.3v1.3h-1.3zm15.9 -0.6h1.3v1.3h-1.3zm24.2 0.7h1.3v1.3h-1.3zm5.9 -0.5h1.3v1.3h-1.3zm0.4 -0.2h1.3v1.3h-1.3zm3.1 0.3h1.3v1.3h-1.3zm3 0.3h1.3v1.3h-1.3zm4.6 -0.4h1.3v1.3h-1.3zm4.9 0.2h1.3v1.3h-1.3zm0.8 0.5h1.3v1.3h-1.3zm-100.6 1h1.3v1.3h-1.3zm1.4 -0.7h1.3v1.3h-1.3zm0.5 -0.1h1.3v1.3h-1.3zm16.6 0h1.3v1.3h-1.3zm1.7 0.6h1.3v1.3h-1.3zm1.7 -0.3h1.3v1.3h-1.3zm0.2 -0.4h1.3v1.3h-1.3zm3.7 0.8h1.3v1.3h-1.3zm0.1 -0.3h1.3v1.3h-1.3zm0.4 -0.3h1.3v1.3h-1.3zm0.5 0.1h1.3v1.3h-1.3zm1.8 0.3h1.3v1.3h-1.3zm0.3 0.3h1.3v1.3h-1.3zm1.2 0h1.3v1.3h-1.3zm0.4 -0.4h1.3v1.3h-1.3zm9.2 0h1.3v1.3h-1.3zm9.9 0.1h1.3v1.3h-1.3zm4.2 -0.2h1.3v1.3h-1.3zm8.1 0h1.3v1.3h-1.3zm5.9 0h1.3v1.3h-1.3zm22.9 0.5h1.3v1.3h-1.3zm5.9 -0.1h1.3v1.3h-1.3zm2 -0.6h1.3v1.3h-1.3zm-106.3 1h1.3v1.3h-1.3zm0.8 0.6h1.3v1.3h-1.3zm2.6 0.1h1.3v1.3h-1.3zm1.6 -0.4h1.3v1.3h-1.3zm0.2 -0.5h1.3v1.3h-1.3zm0.5 0h1.3v1.3h-1.3zm0.9 0.6h1.3v1.3h-1.3zm0.8 0h1.3v1.3h-1.3zm1.6 -0.3h1.3v1.3h-1.3zm0.5 0h1.3v1.3h-1.3zm0.5 -0.3h1.3v1.3h-1.3zm18.2 0.5h1.3v1.3h-1.3zm0.9 -0.4h1.3v1.3h-1.3zm0.8 0.1h1.3v1.3h-1.3zm4.6 -0.2h1.3v1.3h-1.3zm0.9 0.9h1.3v1.3h-1.3zm1.7 -0.8h1.3v1.3h-1.3zm2.3 0.3h1.3v1.3h-1.3zm3.2 -0.3h1.3v1.3h-1.3zm15.1 0.6h1.3v1.3h-1.3zm16.5 -0.2h1.3v1.3h-1.3zm3.5 -0.3h1.3v1.3h-1.3zm0.2 0h1.3v1.3h-1.3zm13.1 0.2h1.3v1.3h-1.3zm2.7 0.5h1.3v1.3h-1.3zm-91.2 0.5h1.3v1.3h-1.3zm1.2 0.4h1.3v1.3h-1.3zm0.5 0h1.3v1.3h-1.3zm0.5 -0.3h1.3v1.3h-1.3zm0.6 0.3h1.3v1.3h-1.3zm0.4 -0.7h1.3v1.3h-1.3zm0 0.3h1.3v1.3h-1.3zm0.3 -0.3h1.3v1.3h-1.3zm1 0.1h1.3v1.3h-1.3zm0.1 -0.2h1.3v1.3h-1.3zm19.8 0h1.3v1.3h-1.3zm0.6 0.8h1.3v1.3h-1.3zm0.4 -0.2h1.3v1.3h-1.3zm0.1 0.3h1.3v1.3h-1.3zm0.3 -0.4h1.3v1.3h-1.3zm5.8 -0.5h1.3v1.3h-1.3zm1 0.6h1.3v1.3h-1.3zm0.3 -0.3h1.3v1.3h-1.3zm0.5 -0.3h1.3v1.3h-1.3zm1.7 0.2h1.3v1.3h-1.3zm4 0.7h1.3v1.3h-1.3zm2.1 -0.9h1.3v1.3h-1.3zm0 0.2h1.3v1.3h-1.3zm18.3 0h1.3v1.3h-1.3zm13.7 0.5h1.3v1.3h-1.3zm6.3 -0.2h1.3v1.3h-1.3zm22.4 -0.3h1.3v1.3h-1.3zm20.7 0.7h1.3v1.3h-1.3zm-126.1 0.9h1.3v1.3h-1.3zm1.7 -0.2h1.3v1.3h-1.3zm0.6 -0.2h1.3v1.3h-1.3zm1.9 0.2h1.3v1.3h-1.3zm0.4 0.2h1.3v1.3h-1.3zm24.2 -0.4h1.3v1.3h-1.3zm1.2 0.2h1.3v1.3h-1.3zm6.1 -0.5h1.3v1.3h-1.3zm0.6 0.8h1.3v1.3h-1.3zm13.7 -0.6h1.3v1.3h-1.3zm19.2 0.6h1.3v1.3h-1.3zm21.3 -0.2h1.3v1.3h-1.3zm2.2 -0.2h1.3v1.3h-1.3zm1.8 -0.3h1.3v1.3h-1.3zm2.8 0.3h1.3v1.3h-1.3zm27.5 0h1.3v1.3h-1.3zm6.3 -0.5h1.3v1.3h-1.3zm-135.3 1.7h1.3v1.3h-1.3zm0.4 -0.1h1.3v1.3h-1.3zm2.6 -0.2h1.3v1.3h-1.3zm30.1 -0.1h1.3v1.3h-1.3zm0.2 -0.3h1.3v1.3h-1.3zm0.4 0.2h1.3v1.3h-1.3zm3.8 0.2h1.3v1.3h-1.3zm0.8 -0.3h1.3v1.3h-1.3zm1.9 0.3h1.3v1.3h-1.3zm6.2 0.2h1.3v1.3h-1.3zm4 -0.4h1.3v1.3h-1.3zm1.1 0.1h1.3v1.3h-1.3zm11.7 0.6h1.3v1.3h-1.3zm14.2 -0.5h1.3v1.3h-1.3zm2 -0.3h1.3v1.3h-1.3zm2.1 0.6h1.3v1.3h-1.3zm1.2 -0.4h1.3v1.3h-1.3zm17.8 0.6h1.3v1.3h-1.3zm3.8 -0.6h1.3v1.3h-1.3zm5.2 -0.1h1.3v1.3h-1.3zm7 -0.2h1.3v1.3h-1.3zm-115.7 1.1h1.3v1.3h-1.3zm0.1 0.8h1.3v1.3h-1.3zm2.2 0h1.3v1.3h-1.3zm0 -0.8h1.3v1.3h-1.3zm1.6 0.5h1.3v1.3h-1.3zm0.7 -0.6h1.3v1.3h-1.3zm28.6 0.9h1.3v1.3h-1.3zm4.1 -0.6h1.3v1.3h-1.3zm0.6 0.4h1.3v1.3h-1.3zm0.4 -0.7h1.3v1.3h-1.3zm1.3 0.5h1.3v1.3h-1.3zm0.7 0.2h1.3v1.3h-1.3zm2.7 -0.7h1.3v1.3h-1.3zm0.7 0.6h1.3v1.3h-1.3zm4.3 0h1.3v1.3h-1.3zm16.7 0h1.3v1.3h-1.3zm12.9 -0.5h1.3v1.3h-1.3zm1 -0.1h1.3v1.3h-1.3zm5.2 0.9h1.3v1.3h-1.3zm1.1 -0.9h1.3v1.3h-1.3zm1.3 0.4h1.3v1.3h-1.3zm3.5 0h1.3v1.3h-1.3zm6.8 0.5h1.3v1.3h-1.3zm9.8 -0.9h1.3v1.3h-1.3zm-108.5 1h1.3v1.3h-1.3zm1.2 0.3h1.3v1.3h-1.3zm1.7 0h1.3v1.3h-1.3zm0.4 -0.1h1.3v1.3h-1.3zm2.1 -0.2h1.3v1.3h-1.3zm31.1 0.2h1.3v1.3h-1.3zm3.2 0.4h1.3v1.3h-1.3zm1 0h1.3v1.3h-1.3zm0.6 -0.4h1.3v1.3h-1.3zm3.7 0h1.3v1.3h-1.3zm4.2 0.3h1.3v1.3h-1.3zm2.9 -0.3h1.3v1.3h-1.3zm7.9 -0.2h1.3v1.3h-1.3zm5.2 0.6h1.3v1.3h-1.3zm5 0.1h1.3v1.3h-1.3zm0.9 0.2h1.3v1.3h-1.3zm5.1 -0.9h1.3v1.3h-1.3zm17 0.9h1.3v1.3h-1.3zm3 -0.1h1.3v1.3h-1.3zm19.1 0.1h1.3v1.3h-1.3zm-114.8 0.9h1.3v1.3h-1.3zm0.2 -0.5h1.3v1.3h-1.3zm2.3 0.6h1.3v1.3h-1.3zm0.2 -0.7h1.3v1.3h-1.3zm0.6 0.2h1.3v1.3h-1.3zm36 0.1h1.3v1.3h-1.3zm1.5 0.1h1.3v1.3h-1.3zm5.6 -0.3h1.3v1.3h-1.3zm0.1 0.2h1.3v1.3h-1.3zm0.2 -0.4h1.3v1.3h-1.3zm0.5 -0.1h1.3v1.3h-1.3zm1.2 0.7h1.3v1.3h-1.3zm2.2 -0.5h1.3v1.3h-1.3zm9.5 0.3h1.3v1.3h-1.3zm1.6 0.2h1.3v1.3h-1.3zm14.3 0h1.3v1.3h-1.3zm2.7 -0.5h1.3v1.3h-1.3zm0.3 -0.2h1.3v1.3h-1.3zm8.8 0.2h1.3v1.3h-1.3zm7.7 0.7h1.3v1.3h-1.3zm14.1 -0.8h1.3v1.3h-1.3zm-113.2 1h1.3v1.3h-1.3zm2.7 0h1.3v1.3h-1.3zm39.2 0.7h1.3v1.3h-1.3zm1.6 -0.5h1.3v1.3h-1.3zm0.5 0.2h1.3v1.3h-1.3zm0.3 -0.3h1.3v1.3h-1.3zm3.3 0.2h1.3v1.3h-1.3zm35.8 -0.1h1.3v1.3h-1.3zm4.9 -0.1h1.3v1.3h-1.3zm5.1 0h1.3v1.3h-1.3zm4 0.6h1.3v1.3h-1.3zm8.7 -0.2h1.3v1.3h-1.3zm10.7 -0.6h1.3v1.3h-1.3zm-118 1.7h1.3v1.3h-1.3zm1.7 0h1.3v1.3h-1.3zm0.7 -0.6h1.3v1.3h-1.3zm1.3 0.5h1.3v1.3h-1.3zm1.4 -0.5h1.3v1.3h-1.3zm0.3 0.3h1.3v1.3h-1.3zm38.2 0h1.3v1.3h-1.3zm0.3 0.4h1.3v1.3h-1.3zm1.9 -0.4h1.3v1.3h-1.3zm0.4 0.5h1.3v1.3h-1.3zm0.2 -0.8h1.3v1.3h-1.3zm2 0.1h1.3v1.3h-1.3zm0.1 0h1.3v1.3h-1.3zm0.3 0.4h1.3v1.3h-1.3zm3.3 0.2h1.3v1.3h-1.3zm11.1 -0.6h1.3v1.3h-1.3zm2 0.4h1.3v1.3h-1.3zm9.6 0h1.3v1.3h-1.3zm3.3 -0.6h1.3v1.3h-1.3zm6.9 0.9h1.3v1.3h-1.3zm0.7 -0.2h1.3v1.3h-1.3zm0.8 0h1.3v1.3h-1.3zm0 -0.5h1.3v1.3h-1.3zm10.5 -0.1h1.3v1.3h-1.3zm0.2 0.3h1.3v1.3h-1.3zm1 0h1.3v1.3h-1.3zm-94.3 0.8h1.3v1.3h-1.3zm0.4 0.6h1.3v1.3h-1.3zm0.1 -0.5h1.3v1.3h-1.3zm0.6 0.3h1.3v1.3h-1.3zm37.7 -0.3h1.3v1.3h-1.3zm0.1 0.2h1.3v1.3h-1.3zm1.1 0.4h1.3v1.3h-1.3zm2.2 -0.3h1.3v1.3h-1.3zm3.1 -0.5h1.3v1.3h-1.3zm0 0.5h1.3v1.3h-1.3zm3 -0.2h1.3v1.3h-1.3zm11.4 0.5h1.3v1.3h-1.3zm6.2 0h1.3v1.3h-1.3zm2.1 -0.5h1.3v1.3h-1.3zm20.6 0.1h1.3v1.3h-1.3zm1.1 0.2h1.3v1.3h-1.3zm0.2 -0.4h1.3v1.3h-1.3zm2.3 0.6h1.3v1.3h-1.3zm1.8 -0.8h1.3v1.3h-1.3zm0.7 0.1h1.3v1.3h-1.3zm8.1 0.1h1.3v1.3h-1.3zm-103.7 1h1.3v1.3h-1.3zm0.5 0.4h1.3v1.3h-1.3zm0.8 -0.3h1.3v1.3h-1.3zm38.8 0h1.3v1.3h-1.3zm0.5 -0.2h1.3v1.3h-1.3zm0.3 0.1h1.3v1.3h-1.3zm0.4 0.4h1.3v1.3h-1.3zm0.9 0.2h1.3v1.3h-1.3zm0 -0.2h1.3v1.3h-1.3zm2.3 -0.3h1.3v1.3h-1.3zm2.3 -0.1h1.3v1.3h-1.3zm1.7 0.3h1.3v1.3h-1.3zm1.8 -0.2h1.3v1.3h-1.3zm4.6 0h1.3v1.3h-1.3zm3.6 0.3h1.3v1.3h-1.3zm9.3 -0.4h1.3v1.3h-1.3zm0.9 0.1h1.3v1.3h-1.3zm4.4 0.4h1.3v1.3h-1.3zm1.4 -0.2h1.3v1.3h-1.3zm0.2 0.1h1.3v1.3h-1.3zm10.1 0h1.3v1.3h-1.3zm2.2 -0.4h1.3v1.3h-1.3zm36.9 0.2h1.3v1.3h-1.3zm-124 1.4h1.3v1.3h-1.3zm0.7 0h1.3v1.3h-1.3zm40.1 -0.8h1.3v1.3h-1.3zm0.3 0.1h1.3v1.3h-1.3zm0.6 0.7h1.3v1.3h-1.3zm0.1 -0.3h1.3v1.3h-1.3zm0 0.1h1.3v1.3h-1.3zm1 0h1.3v1.3h-1.3zm1.7 0.1h1.3v1.3h-1.3zm4.9 -0.7h1.3v1.3h-1.3zm0.7 0.7h1.3v1.3h-1.3zm0.7 -0.1h1.3v1.3h-1.3zm0.1 -0.4h1.3v1.3h-1.3zm2.4 -0.3h1.3v1.3h-1.3zm0.7 0.2h1.3v1.3h-1.3zm1.5 0h1.3v1.3h-1.3zm1.9 0.6h1.3v1.3h-1.3zm2 -0.2h1.3v1.3h-1.3zm10 -0.1h1.3v1.3h-1.3zm3.4 0.3h1.3v1.3h-1.3zm3.2 -0.4h1.3v1.3h-1.3zm3.7 -0.2h1.3v1.3h-1.3zm12 0.5h1.3v1.3h-1.3zm1.6 0.1h1.3v1.3h-1.3zm0.9 -0.2h1.3v1.3h-1.3zm2.2 0h1.3v1.3h-1.3zm17.1 -0.2h1.3v1.3h-1.3zm5.5 -0.4h1.3v1.3h-1.3zm12.7 0.3h1.3v1.3h-1.3zm-136 1.1h1.3v1.3h-1.3zm0.3 0h1.3v1.3h-1.3zm1.4 -0.3h1.3v1.3h-1.3zm0.8 0.6h1.3v1.3h-1.3zm44.1 0.2h1.3v1.3h-1.3zm1 -0.9h1.3v1.3h-1.3zm1.9 0.9h1.3v1.3h-1.3zm1.6 -0.2h1.3v1.3h-1.3zm2.9 -0.5h1.3v1.3h-1.3zm12 0.4h1.3v1.3h-1.3zm1.3 -0.1h1.3v1.3h-1.3zm0.8 0h1.3v1.3h-1.3zm1.2 -0.3h1.3v1.3h-1.3zm0.2 -0.1h1.3v1.3h-1.3zm23 0.6h1.3v1.3h-1.3zm10.3 -0.5h1.3v1.3h-1.3zm9.5 -0.1h1.3v1.3h-1.3zm-108.5 1.5h1.3v1.3h-1.3zm41.7 -0.6h1.3v1.3h-1.3zm0.3 0.4h1.3v1.3h-1.3zm0.5 0.2h1.3v1.3h-1.3zm0.2 0.2h1.3v1.3h-1.3zm0.4 -0.7h1.3v1.3h-1.3zm1.2 0.5h1.3v1.3h-1.3zm0.7 -0.1h1.3v1.3h-1.3zm0.5 0.4h1.3v1.3h-1.3zm0.4 -0.4h1.3v1.3h-1.3zm0.5 -0.1h1.3v1.3h-1.3zm2 0.5h1.3v1.3h-1.3zm2.5 -0.9h1.3v1.3h-1.3zm10.8 0h1.3v1.3h-1.3zm12.4 0.1h1.3v1.3h-1.3zm17.1 0.5h1.3v1.3h-1.3zm13.4 0h1.3v1.3h-1.3zm36.8 -0.2h1.3v1.3h-1.3zm-146.6 1.3h1.3v1.3h-1.3zm47.1 0.2h1.3v1.3h-1.3zm5.3 -0.2h1.3v1.3h-1.3zm0.1 0.2h1.3v1.3h-1.3zm0 -0.9h1.3v1.3h-1.3zm1.9 0.7h1.3v1.3h-1.3zm0.6 0.1h1.3v1.3h-1.3zm1.8 -0.3h1.3v1.3h-1.3zm11.5 -0.1h1.3v1.3h-1.3zm18.2 -0.2h1.3v1.3h-1.3zm18.4 0.6h1.3v1.3h-1.3zm-102.8 0.5h1.3v1.3h-1.3zm1.3 0h1.3v1.3h-1.3zm0.8 0.2h1.3v1.3h-1.3zm44.2 -0.5h1.3v1.3h-1.3zm0.3 0.7h1.3v1.3h-1.3zm0.8 -0.2h1.3v1.3h-1.3zm1.8 -0.2h1.3v1.3h-1.3zm0.6 0.4h1.3v1.3h-1.3zm0.1 0.1h1.3v1.3h-1.3zm14.7 -0.5h1.3v1.3h-1.3zm8.9 0.4h1.3v1.3h-1.3zm10.1 -0.5h1.3v1.3h-1.3zm1.6 0.4h1.3v1.3h-1.3zm7.2 -0.4h1.3v1.3h-1.3zm22.9 -0.1h1.3v1.3h-1.3zm-112.4 1.4h1.3v1.3h-1.3zm42.3 -0.5h1.3v1.3h-1.3zm0.4 0.1h1.3v1.3h-1.3zm1.7 0.6h1.3v1.3h-1.3zm0.3 -0.6h1.3v1.3h-1.3zm1.1 0h1.3v1.3h-1.3zm3 0h1.3v1.3h-1.3zm21.9 0.4h1.3v1.3h-1.3zm2.4 0h1.3v1.3h-1.3zm40.2 0.3h1.3v1.3h-1.3zm-115.3 0.2h1.3v1.3h-1.3zm0.7 0.5h1.3v1.3h-1.3zm0.5 0.1h1.3v1.3h-1.3zm0.6 -0.4h1.3v1.3h-1.3zm0.3 -0.1h1.3v1.3h-1.3zm42.6 0.2h1.3v1.3h-1.3zm1.7 -0.1h1.3v1.3h-1.3zm1.7 0.7h1.3v1.3h-1.3zm0.2 -0.5h1.3v1.3h-1.3zm0.2 -0.2h1.3v1.3h-1.3zm0.7 0.1h1.3v1.3h-1.3zm0.5 0.3h1.3v1.3h-1.3zm1.3 -0.5h1.3v1.3h-1.3zm4 0.4h1.3v1.3h-1.3zm10.3 -0.3h1.3v1.3h-1.3zm5.5 0.5h1.3v1.3h-1.3zm5.5 -0.5h1.3v1.3h-1.3zm29.3 0.1h1.3v1.3h-1.3zm-110.2 1.1h1.3v1.3h-1.3zm5.4 0.1h1.3v1.3h-1.3zm44.1 0.3h1.3v1.3h-1.3zm2.8 -0.4h1.3v1.3h-1.3zm2.1 0h1.3v1.3h-1.3zm3 -0.3h1.3v1.3h-1.3zm1.1 0.8h1.3v1.3h-1.3zm1 -0.3h1.3v1.3h-1.3zm15.3 0.1h1.3v1.3h-1.3zm4.3 -0.1h1.3v1.3h-1.3zm11.3 0.2h1.3v1.3h-1.3zm10.4 -0.4h1.3v1.3h-1.3zm2.3 0h1.3v1.3h-1.3zm29.8 -0.2h1.3v1.3h-1.3zm-127.6 1.4h1.3v1.3h-1.3zm1.2 -0.1h1.3v1.3h-1.3zm44.4 -0.5h1.3v1.3h-1.3zm3.7 0.6h1.3v1.3h-1.3zm4.3 0.2h1.3v1.3h-1.3zm1 -0.7h1.3v1.3h-1.3zm15.2 0.2h1.3v1.3h-1.3zm5.3 0.5h1.3v1.3h-1.3zm49.2 -0.1h1.3v1.3h-1.3zm-126.9 1.2h1.3v1.3h-1.3zm52.3 -0.4h1.3v1.3h-1.3zm3.7 0h1.3v1.3h-1.3zm2.3 -0.5h1.3v1.3h-1.3zm8.5 0.7h1.3v1.3h-1.3zm15.5 -0.3h1.3v1.3h-1.3zm30.1 -0.2h1.3v1.3h-1.3zm-109.8 1.3h1.3v1.3h-1.3zm43.9 -0.3h1.3v1.3h-1.3zm0.5 0.6h1.3v1.3h-1.3zm0.6 -0.6h1.3v1.3h-1.3zm0.7 0.6h1.3v1.3h-1.3zm0.2 -0.3h1.3v1.3h-1.3zm1 0.1h1.3v1.3h-1.3zm0.7 -0.3h1.3v1.3h-1.3zm0.3 -0.1h1.3v1.3h-1.3zm1.1 0.1h1.3v1.3h-1.3zm0.7 -0.3h1.3v1.3h-1.3zm0.1 0.4h1.3v1.3h-1.3zm0.7 -0.2h1.3v1.3h-1.3zm2.5 0.4h1.3v1.3h-1.3zm0.2 -0.5h1.3v1.3h-1.3zm6.6 0h1.3v1.3h-1.3zm17.7 0.4h1.3v1.3h-1.3zm0.5 0.2h1.3v1.3h-1.3zm19.2 -0.6h1.3v1.3h-1.3zm6.5 0.2h1.3v1.3h-1.3zm-104.8 1.4h1.3v1.3h-1.3zm0.6 -0.2h1.3v1.3h-1.3zm0.7 0.2h1.3v1.3h-1.3zm0.7 -0.7h1.3v1.3h-1.3zm43.1 0h1.3v1.3h-1.3zm2.4 0.1h1.3v1.3h-1.3zm1.3 0.8h1.3v1.3h-1.3zm0.3 -0.8h1.3v1.3h-1.3zm0.1 0.6h1.3v1.3h-1.3zm1 0.2h1.3v1.3h-1.3zm0.2 -0.6h1.3v1.3h-1.3zm1.1 0.5h1.3v1.3h-1.3zm0.8 0h1.3v1.3h-1.3zm4.4 0.1h1.3v1.3h-1.3zm2.1 -0.7h1.3v1.3h-1.3zm2.5 0.6h1.3v1.3h-1.3zm27.1 -0.1h1.3v1.3h-1.3zm0.9 0h1.3v1.3h-1.3zm15.8 -0.6h1.3v1.3h-1.3zm9 0.2h1.3v1.3h-1.3zm-112.2 0.7h1.3v1.3h-1.3zm42.9 0.7h1.3v1.3h-1.3zm0.8 -0.7h1.3v1.3h-1.3zm0.2 0.8h1.3v1.3h-1.3zm0.8 -0.3h1.3v1.3h-1.3zm1 -0.4h1.3v1.3h-1.3zm0.1 0.7h1.3v1.3h-1.3zm1.1 -0.2h1.3v1.3h-1.3zm3.2 0h1.3v1.3h-1.3zm0.1 0.2h1.3v1.3h-1.3zm4.6 -0.5h1.3v1.3h-1.3zm1.5 0.1h1.3v1.3h-1.3zm14.2 0h1.3v1.3h-1.3zm3.5 0.4h1.3v1.3h-1.3zm30.4 -0.7h1.3v1.3h-1.3zm4 -0.1h1.3v1.3h-1.3zm-110.8 1.7h1.3v1.3h-1.3zm2.5 -0.6h1.3v1.3h-1.3zm0.2 0.3h1.3v1.3h-1.3zm42.8 0.2h1.3v1.3h-1.3zm1.1 0.2h1.3v1.3h-1.3zm0.4 -0.4h1.3v1.3h-1.3zm3.3 -0.2h1.3v1.3h-1.3zm6 0.6h1.3v1.3h-1.3zm15.4 -0.1h1.3v1.3h-1.3zm7.9 -0.7h1.3v1.3h-1.3zm0.4 0h1.3v1.3h-1.3zm6.7 0.8h1.3v1.3h-1.3zm3.1 -0.3h1.3v1.3h-1.3zm16.6 0h1.3v1.3h-1.3zm6.2 0.1h1.3v1.3h-1.3zm-110.8 0.6h1.3v1.3h-1.3zm0.9 -0.1h1.3v1.3h-1.3zm42.1 0.6h1.3v1.3h-1.3zm0.8 -0.3h1.3v1.3h-1.3zm1 0.4h1.3v1.3h-1.3zm0.3 -0.5h1.3v1.3h-1.3zm0.9 0.6h1.3v1.3h-1.3zm0.3 -0.5h1.3v1.3h-1.3zm2.4 -0.2h1.3v1.3h-1.3zm1.8 -0.2h1.3v1.3h-1.3zm2.2 0.7h1.3v1.3h-1.3zm8.5 -0.2h1.3v1.3h-1.3zm9.5 -0.3h1.3v1.3h-1.3zm9.9 0.6h1.3v1.3h-1.3zm7.4 -0.5h1.3v1.3h-1.3zm2.8 -0.3h1.3v1.3h-1.3zm-94.6 1.1h1.3v1.3h-1.3zm2 0.5h1.3v1.3h-1.3zm2.2 -0.5h1.3v1.3h-1.3zm42.4 0.5h1.3v1.3h-1.3zm0.4 0.1h1.3v1.3h-1.3zm0.8 0.2h1.3v1.3h-1.3zm1.2 -0.9h1.3v1.3h-1.3zm0.8 0.7h1.3v1.3h-1.3zm6.6 -0.6h1.3v1.3h-1.3zm11.6 0h1.3v1.3h-1.3zm0.9 0h1.3v1.3h-1.3zm8.9 0.6h1.3v1.3h-1.3zm-74.5 1h1.3v1.3h-1.3zm0.6 -0.3h1.3v1.3h-1.3zm0.5 -0.2h1.3v1.3h-1.3zm41.1 0.5h1.3v1.3h-1.3zm0.6 0.2h1.3v1.3h-1.3zm0.6 -0.2h1.3v1.3h-1.3zm0.4 -0.1h1.3v1.3h-1.3zm0.3 0.2h1.3v1.3h-1.3zm1.2 -0.7h1.3v1.3h-1.3zm0.4 0.5h1.3v1.3h-1.3zm0.1 -0.4h1.3v1.3h-1.3zm5 -0.1h1.3v1.3h-1.3zm10.9 0.3h1.3v1.3h-1.3zm5.2 -0.2h1.3v1.3h-1.3zm-67.6 0.9h1.3v1.3h-1.3zm2 0.3h1.3v1.3h-1.3zm40.4 0.4h1.3v1.3h-1.3zm0.8 -0.2h1.3v1.3h-1.3zm1 -0.3h1.3v1.3h-1.3zm1.1 0.5h1.3v1.3h-1.3zm4.8 -0.1h1.3v1.3h-1.3zm0.9 -0.4h1.3v1.3h-1.3zm1 0h1.3v1.3h-1.3zm33.7 0.3h1.3v1.3h-1.3zm9.1 -0.3h1.3v1.3h-1.3zm-94 0.8h1.3v1.3h-1.3zm0.1 0.8h1.3v1.3h-1.3zm1.2 -0.2h1.3v1.3h-1.3zm39.4 0h1.3v1.3h-1.3zm1.8 -0.1h1.3v1.3h-1.3zm0.5 -0.1h1.3v1.3h-1.3zm1.4 0h1.3v1.3h-1.3zm1.8 0.4h1.3v1.3h-1.3zm1.3 -0.4h1.3v1.3h-1.3zm0.3 0.4h1.3v1.3h-1.3zm4.4 0h1.3v1.3h-1.3zm2.2 -0.1h1.3v1.3h-1.3zm1.2 0.1h1.3v1.3h-1.3zm1.1 -0.1h1.3v1.3h-1.3zm4.7 0.1h1.3v1.3h-1.3zm7.6 -0.3h1.3v1.3h-1.3zm9.1 -0.2h1.3v1.3h-1.3zm2.4 -0.3h1.3v1.3h-1.3zm25.3 0.8h1.3v1.3h-1.3zm6.3 -0.6h1.3v1.3h-1.3zm-113.6 1.3h1.3v1.3h-1.3zm2.1 -0.4h1.3v1.3h-1.3zm2.4 -0.1h1.3v1.3h-1.3zm0.4 0.4h1.3v1.3h-1.3zm2.7 0h1.3v1.3h-1.3zm0.9 -0.3h1.3v1.3h-1.3zm0.3 0h1.3v1.3h-1.3zm0.6 0h1.3v1.3h-1.3zm0.8 0.1h1.3v1.3h-1.3zm0.6 -0.3h1.3v1.3h-1.3zm1.5 0.1h1.3v1.3h-1.3zm1.5 0.1h1.3v1.3h-1.3zm4.3 0.1h1.3v1.3h-1.3zm1.1 -0.3h1.3v1.3h-1.3zm1.1 0.1h1.3v1.3h-1.3zm0.5 0h1.3v1.3h-1.3zm1 0.5h1.3v1.3h-1.3zm3.1 -0.4h1.3v1.3h-1.3zm0.2 0h1.3v1.3h-1.3zm0.2 -0.1h1.3v1.3h-1.3zm2.5 0.1h1.3v1.3h-1.3zm0.2 0h1.3v1.3h-1.3zm0.1 0.3h1.3v1.3h-1.3zm3.5 -0.5h1.3v1.3h-1.3zm0.8 0h1.3v1.3h-1.3zm1.2 0.2h1.3v1.3h-1.3zm0.3 0.3h1.3v1.3h-1.3zm1.6 -0.2h1.3v1.3h-1.3zm0.2 0.2h1.3v1.3h-1.3zm0.3 -0.5h1.3v1.3h-1.3zm0.3 0.5h1.3v1.3h-1.3zm0.4 -0.2h1.3v1.3h-1.3zm3 0.3h1.3v1.3h-1.3zm1.4 0h1.3v1.3h-1.3zm0 -0.5h1.3v1.3h-1.3zm1.9 0.1h1.3v1.3h-1.3zm0.9 -0.1h1.3v1.3h-1.3zm2.4 0.2h1.3v1.3h-1.3zm0.5 0.3h1.3v1.3h-1.3zm0.4 -0.3h1.3v1.3h-1.3zm0 -0.1h1.3v1.3h-1.3zm0.4 0.1h1.3v1.3h-1.3zm0.4 0.2h1.3v1.3h-1.3zm2.4 0.1h1.3v1.3h-1.3zm0.7 -0.2h1.3v1.3h-1.3zm3.5 -0.4h1.3v1.3h-1.3zm9.3 0h1.3v1.3h-1.3zm8.2 0.1h1.3v1.3h-1.3zm1 0.5h1.3v1.3h-1.3zm7.3 -0.1h1.3v1.3h-1.3zm0.9 -0.3h1.3v1.3h-1.3zm4.7 0.1h1.3v1.3h-1.3zm0.7 -0.1h1.3v1.3h-1.3zm1.5 0.4h1.3v1.3h-1.3zm3.5 -0.3h1.3v1.3h-1.3zm4 -0.1h1.3v1.3h-1.3zm23.4 -0.2h1.3v1.3h-1.3z"/><path fill="#fbe6e8" d="M0 0m98.6 161.4h1v1h-1zm-6.8 2.5h1v1h-1zm0.7 0.4h1v1h-1zm9.9 0.1h1v1h-1zm-11.8 1.2h1v1h-1zm-11.4 4.1h1v1h-1zm26.3 0.1h1v1h-1zm1.8 0.1h1v1h-1zm-31 0.4h1v1h-1zm-1.2 2.4h1v1h-1zm1.4 -0.3h1v1h-1zm2.1 0.2h1v1h-1zm-4.7 1.3h1v1h-1zm36 -0.3h1v1h-1zm-35.8 3.1h1v1h-1zm-1.9 1.2h1v1h-1zm38.5 -0.7h1v1h-1zm0.8 0h1v1h-1zm1.2 0.6h1v1h-1zm-40.3 1.5h1v1h-1zm40.4 4.4h1v1h-1zm-33.8 3.5h1v1h-1zm17.4 2.4h1v1h-1zm-23.1 3.2h1v1h-1zm20.1 0.1h1v1h-1zm6.6 -0.4h1v1h-1zm0.6 -0.4h1v1h-1zm3 0.1h1v1h-1z"/><path stroke="#1a1a1a" stroke-width="1.15" fill="none" d="M101.5 23.5V194.5M46.5 139.5H216.5"/><rect x="46.5" y="23.5" width="170" height="171" fill="none" stroke="#1a1a1a" stroke-width="1.2"/><path stroke="#1a1a1a" stroke-width="1" fill="none" d="M46.5 194.5v4.5M46.5 194.5h-4.5M59.5 194.5v2.4M46.5 181.5h-2.4M66.5 194.5v2.4M46.5 174.5h-2.4M71.5 194.5v2.4M46.5 168.5h-2.4M76.5 194.5v2.4M46.5 164.5h-2.4M79.5 194.5v2.4M46.5 161.5h-2.4M82.5 194.5v2.4M46.5 158.5h-2.4M84.5 194.5v2.4M46.5 156.5h-2.4M86.5 194.5v2.4M46.5 153.5h-2.4M88.5 194.5v4.5M46.5 151.5h-4.5M101.5 194.5v2.4M46.5 139.5h-2.4M108.5 194.5v2.4M46.5 131.5h-2.4M114.5 194.5v2.4M46.5 126.5h-2.4M118.5 194.5v2.4M46.5 122.5h-2.4M121.5 194.5v2.4M46.5 118.5h-2.4M124.5 194.5v2.4M46.5 115.5h-2.4M126.5 194.5v2.4M46.5 113.5h-2.4M129.5 194.5v2.4M46.5 111.5h-2.4M130.5 194.5v4.5M46.5 109.5h-4.5M143.5 194.5v2.4M46.5 96.5h-2.4M151.5 194.5v2.4M46.5 89.5h-2.4M156.5 194.5v2.4M46.5 83.5h-2.4M160.5 194.5v2.4M46.5 79.5h-2.4M163.5 194.5v2.4M46.5 76.5h-2.4M166.5 194.5v2.4M46.5 73.5h-2.4M169.5 194.5v2.4M46.5 70.5h-2.4M171.5 194.5v2.4M46.5 68.5h-2.4M173.5 194.5v4.5M46.5 66.5h-4.5M185.5 194.5v2.4M46.5 54.5h-2.4M193.5 194.5v2.4M46.5 46.5h-2.4M198.5 194.5v2.4M46.5 41.5h-2.4M202.5 194.5v2.4M46.5 37.5h-2.4M206.5 194.5v2.4M46.5 33.5h-2.4M208.5 194.5v2.4M46.5 30.5h-2.4M211.5 194.5v2.4M46.5 28.5h-2.4M213.5 194.5v2.4M46.5 26.5h-2.4M215.5 194.5v4.5M46.5 24.5h-4.5"/><text x="46.5" y="211" font-size="10.6" text-anchor="middle">10<tspan font-size="7.8" dx="0.7" dy="-4.4">0</tspan></text><text x="88.7" y="211" font-size="10.6" text-anchor="middle">10<tspan font-size="7.8" dx="0.7" dy="-4.4">1</tspan></text><text x="130.9" y="211" font-size="10.6" text-anchor="middle">10<tspan font-size="7.8" dx="0.7" dy="-4.4">2</tspan></text><text x="173.2" y="211" font-size="10.6" text-anchor="middle">10<tspan font-size="7.8" dx="0.7" dy="-4.4">3</tspan></text><text x="215.4" y="211" font-size="10.6" text-anchor="middle">10<tspan font-size="7.8" dx="0.7" dy="-4.4">4</tspan></text><g transform="translate(38 194.5) rotate(-90)"><text x="0.3" y="0" font-size="10.6" text-anchor="middle">10<tspan font-size="7.8" dx="0.7" dy="-4.4">0</tspan></text></g><g transform="translate(38 151.9) rotate(-90)"><text x="0.3" y="0" font-size="10.6" text-anchor="middle">10<tspan font-size="7.8" dx="0.7" dy="-4.4">1</tspan></text></g><g transform="translate(38 109.4) rotate(-90)"><text x="0.3" y="0" font-size="10.6" text-anchor="middle">10<tspan font-size="7.8" dx="0.7" dy="-4.4">2</tspan></text></g><g transform="translate(38 66.9) rotate(-90)"><text x="0.3" y="0" font-size="10.6" text-anchor="middle">10<tspan font-size="7.8" dx="0.7" dy="-4.4">3</tspan></text></g><g transform="translate(38 24.3) rotate(-90)"><text x="0.3" y="0" font-size="10.6" text-anchor="middle">10<tspan font-size="7.8" dx="0.7" dy="-4.4">4</tspan></text></g>
<path fill="#e30a17" d="M291 193.5L291.5 186L293.5 181L297.5 175.5L302 171L306.5 167.5L312 166L318 165.5L326 165.8L331 167.5L335 171L336.5 177L336 185L334 190L330 193.5z"/><path fill="#e30a17" shape-rendering="crispEdges" d="M413 77h1v1h-1zM406 78h4v1h-4zM413 78h3v1h-3zM419 78h5v1h-5zM399 79h1v1h-1zM403 79h24v1h-24zM401 80h26v1h-26zM401 81h27v1h-27zM400 82h29v1h-29zM400 83h30v1h-30zM396 84h34v1h-34zM395 85h35v1h-35zM394 86h36v1h-36zM394 87h37v1h-37zM396 88h34v1h-34zM398 89h32v1h-32zM398 90h31v1h-31zM399 91h30v1h-30zM400 92h3v1h-3zM405 92h23v1h-23zM406 93h17v1h-17zM426 93h2v1h-2zM406 94h7v1h-7zM415 94h2v1h-2zM407 95h1v1h-1zM409 95h3v1h-3zM335 168h3v1h-3zM334 169h4v1h-4zM336 170h3v1h-3zM337 171h2v1h-2zM337 172h2v1h-2zM336 173h3v1h-3zM337 174h1v1h-1zM337 182h1v1h-1zM334 191h2v1h-2zM333 192h3v1h-3zM333 193h2v1h-2z"/><path fill="#d0202f" d="M0 0m347.8 61.4h1.3v1.3h-1.3zm73.6 0.4h1.3v1.3h-1.3zm-56.3 2.3h1.3v1.3h-1.3zm22.1 1.1h1.3v1.3h-1.3zm12.3 0.4h1.3v1.3h-1.3zm1.5 0.4h1.3v1.3h-1.3zm9.1 0.3h1.3v1.3h-1.3zm29 1.3h1.3v1.3h-1.3zm-41.8 0.3h1.3v1.3h-1.3zm7.4 0.3h1.3v1.3h-1.3zm8.6 0.1h1.3v1.3h-1.3zm-15.1 1h1.3v1.3h-1.3zm5.9 -0.1h1.3v1.3h-1.3zm7.8 0.4h1.3v1.3h-1.3zm-25.4 1.1h1.3v1.3h-1.3zm11.3 -0.7h1.3v1.3h-1.3zm4.3 0.1h1.3v1.3h-1.3zm1.4 -0.2h1.3v1.3h-1.3zm3.4 0.9h1.3v1.3h-1.3zm1.5 -0.7h1.3v1.3h-1.3zm0.9 0h1.3v1.3h-1.3zm10 0.4h1.3v1.3h-1.3zm9.2 -0.2h1.3v1.3h-1.3zm-38.3 0.9h1.3v1.3h-1.3zm8.8 -0.1h1.3v1.3h-1.3zm7.7 0.5h1.3v1.3h-1.3zm0.7 0.1h1.3v1.3h-1.3zm8.9 0h1.3v1.3h-1.3zm0.2 -0.6h1.3v1.3h-1.3zm10.3 0.5h1.3v1.3h-1.3zm0.3 0.2h1.3v1.3h-1.3zm-57.9 0.7h1.3v1.3h-1.3zm20 -0.4h1.3v1.3h-1.3zm9.6 0.1h1.3v1.3h-1.3zm0.2 -0.2h1.3v1.3h-1.3zm4.7 0.1h1.3v1.3h-1.3zm4.3 0.5h1.3v1.3h-1.3zm1.1 -0.1h1.3v1.3h-1.3zm2.2 -0.6h1.3v1.3h-1.3zm1.1 0.7h1.3v1.3h-1.3zm0.9 -0.2h1.3v1.3h-1.3zm13.5 0.4h1.3v1.3h-1.3zm-71.9 0.3h1.3v1.3h-1.3zm14.4 -0.1h1.3v1.3h-1.3zm7.4 0.5h1.3v1.3h-1.3zm28.4 -0.1h1.3v1.3h-1.3zm0.5 0.4h1.3v1.3h-1.3zm1.8 -0.2h1.3v1.3h-1.3zm2.5 -0.2h1.3v1.3h-1.3zm0.4 -0.3h1.3v1.3h-1.3zm4.2 0.4h1.3v1.3h-1.3zm5.4 0h1.3v1.3h-1.3zm2.7 -0.2h1.3v1.3h-1.3zm10.6 -0.3h1.3v1.3h-1.3zm-81.2 0.9h1.3v1.3h-1.3zm38.8 0.5h1.3v1.3h-1.3zm1 -0.1h1.3v1.3h-1.3zm4.1 0.4h1.3v1.3h-1.3zm2.4 -0.7h1.3v1.3h-1.3zm1.6 0.7h1.3v1.3h-1.3zm3.2 0h1.3v1.3h-1.3zm3.1 -0.1h1.3v1.3h-1.3zm5.2 -0.4h1.3v1.3h-1.3zm1.8 0.2h1.3v1.3h-1.3zm1.5 0.1h1.3v1.3h-1.3zm5.3 0h1.3v1.3h-1.3zm1.5 0.3h1.3v1.3h-1.3zm4.4 -0.6h1.3v1.3h-1.3zm0.5 0.6h1.3v1.3h-1.3zm-55.7 0.7h1.3v1.3h-1.3zm23 0.1h1.3v1.3h-1.3zm2.8 -0.2h1.3v1.3h-1.3zm0.8 -0.5h1.3v1.3h-1.3zm0.6 0.4h1.3v1.3h-1.3zm1.8 0.4h1.3v1.3h-1.3zm0.9 -0.7h1.3v1.3h-1.3zm0.6 -0.1h1.3v1.3h-1.3zm5 0.6h1.3v1.3h-1.3zm1.7 0h1.3v1.3h-1.3zm1.7 0.3h1.3v1.3h-1.3zm1.1 -0.6h1.3v1.3h-1.3zm0.6 -0.2h1.3v1.3h-1.3zm0 0.8h1.3v1.3h-1.3zm1.2 -0.1h1.3v1.3h-1.3zm1.5 -0.3h1.3v1.3h-1.3zm1.1 -0.4h1.3v1.3h-1.3zm0.4 0h1.3v1.3h-1.3zm2.6 0.1h1.3v1.3h-1.3zm0 0.4h1.3v1.3h-1.3zm0.7 -0.1h1.3v1.3h-1.3zm0.1 0.4h1.3v1.3h-1.3zm1.3 -0.4h1.3v1.3h-1.3zm0.6 0.3h1.3v1.3h-1.3zm5.5 0.1h1.3v1.3h-1.3zm2.9 -0.5h1.3v1.3h-1.3zm-60.8 1.5h1.3v1.3h-1.3zm9.5 0h1.3v1.3h-1.3zm12.2 -0.2h1.3v1.3h-1.3zm5.4 -0.6h1.3v1.3h-1.3zm1.4 0.4h1.3v1.3h-1.3zm1.1 -0.3h1.3v1.3h-1.3zm3.9 -0.2h1.3v1.3h-1.3zm1.1 0.8h1.3v1.3h-1.3zm2.8 0.1h1.3v1.3h-1.3zm1.7 -0.2h1.3v1.3h-1.3zm1 0h1.3v1.3h-1.3zm0.5 0.2h1.3v1.3h-1.3zm3.6 -0.7h1.3v1.3h-1.3zm0.2 0.1h1.3v1.3h-1.3zm0.4 -0.1h1.3v1.3h-1.3zm1.2 0.1h1.3v1.3h-1.3zm1.6 -0.2h1.3v1.3h-1.3zm1.3 0.2h1.3v1.3h-1.3zm1.5 0.1h1.3v1.3h-1.3zm3.2 0.4h1.3v1.3h-1.3zm0.2 -0.3h1.3v1.3h-1.3zm0.5 0.4h1.3v1.3h-1.3zm0.2 -0.5h1.3v1.3h-1.3zm1.1 0.1h1.3v1.3h-1.3zm0.4 0.3h1.3v1.3h-1.3zm2.7 -0.7h1.3v1.3h-1.3zm1.4 0.1h1.3v1.3h-1.3zm5.9 0.3h1.3v1.3h-1.3zm-47.8 1.4h1.3v1.3h-1.3zm9.5 -0.7h1.3v1.3h-1.3zm0.1 0.5h1.3v1.3h-1.3zm0.5 -0.4h1.3v1.3h-1.3zm1.2 0.1h1.3v1.3h-1.3zm1.2 0.2h1.3v1.3h-1.3zm0.8 -0.4h1.3v1.3h-1.3zm1.9 -0.2h1.3v1.3h-1.3zm0.3 0.7h1.3v1.3h-1.3zm0.8 -0.3h1.3v1.3h-1.3zm0.5 -0.1h1.3v1.3h-1.3zm1.5 0.6h1.3v1.3h-1.3zm0 -0.8h1.3v1.3h-1.3zm4.2 0.1h1.3v1.3h-1.3zm1.4 0.3h1.3v1.3h-1.3zm0.8 0h1.3v1.3h-1.3zm0.8 -0.4h1.3v1.3h-1.3zm0.1 0h1.3v1.3h-1.3zm3.8 0.7h1.3v1.3h-1.3zm1.6 0.1h1.3v1.3h-1.3zm0 0h1.3v1.3h-1.3zm1.7 -0.7h1.3v1.3h-1.3zm3.9 -0.2h1.3v1.3h-1.3zm1.2 0.8h1.3v1.3h-1.3zm-81.2 0.3h1.3v1.3h-1.3zm26.9 0.6h1.3v1.3h-1.3zm6.3 -0.7h1.3v1.3h-1.3zm14.1 0h1.3v1.3h-1.3zm0.7 0.5h1.3v1.3h-1.3zm0.5 0h1.3v1.3h-1.3zm3.3 -0.3h1.3v1.3h-1.3zm3.1 0.2h1.3v1.3h-1.3zm0.1 -0.2h1.3v1.3h-1.3zm1.4 0.6h1.3v1.3h-1.3zm0.4 -0.4h1.3v1.3h-1.3zm1.3 -0.3h1.3v1.3h-1.3zm15.9 0.2h1.3v1.3h-1.3zm7.2 0h1.3v1.3h-1.3zm0.4 -0.3h1.3v1.3h-1.3zm2.4 0.8h1.3v1.3h-1.3zm0.7 -0.1h1.3v1.3h-1.3zm1.5 -0.6h1.3v1.3h-1.3zm1.4 0.8h1.3v1.3h-1.3zm-72.2 0.7h1.3v1.3h-1.3zm6 -0.1h1.3v1.3h-1.3zm13.9 -0.3h1.3v1.3h-1.3zm3.1 0h1.3v1.3h-1.3zm5.3 -0.2h1.3v1.3h-1.3zm2.4 0.6h1.3v1.3h-1.3zm4 -0.5h1.3v1.3h-1.3zm0.2 0.8h1.3v1.3h-1.3zm3.1 -0.6h1.3v1.3h-1.3zm0.4 0.6h1.3v1.3h-1.3zm0.9 -0.8h1.3v1.3h-1.3zm0.2 0.3h1.3v1.3h-1.3zm1.9 0.4h1.3v1.3h-1.3zm1.4 -0.7h1.3v1.3h-1.3zm0.9 0.1h1.3v1.3h-1.3zm26.5 0h1.3v1.3h-1.3zm1 0h1.3v1.3h-1.3zm1.3 -0.1h1.3v1.3h-1.3zm2 0.7h1.3v1.3h-1.3zm4.6 0.1h1.3v1.3h-1.3zm1.4 -0.2h1.3v1.3h-1.3zm0.4 0.2h1.3v1.3h-1.3zm-99.2 0.1h1.3v1.3h-1.3zm39.7 0.1h1.3v1.3h-1.3zm1.1 0.3h1.3v1.3h-1.3zm4.9 0.2h1.3v1.3h-1.3zm0.4 0.2h1.3v1.3h-1.3zm11.5 -0.6h1.3v1.3h-1.3zm0.8 0.5h1.3v1.3h-1.3zm0.6 -0.3h1.3v1.3h-1.3zm28.7 0.4h1.3v1.3h-1.3zm0.2 0h1.3v1.3h-1.3zm0.6 0.1h1.3v1.3h-1.3zm1.4 -0.8h1.3v1.3h-1.3zm0.1 0.7h1.3v1.3h-1.3zm0.1 -0.5h1.3v1.3h-1.3zm7.3 0.6h1.3v1.3h-1.3zm-90.7 1h1.3v1.3h-1.3zm2.8 -0.2h1.3v1.3h-1.3zm7.6 -0.1h1.3v1.3h-1.3zm21.6 -0.1h1.3v1.3h-1.3zm6.3 -0.5h1.3v1.3h-1.3zm1.6 0.8h1.3v1.3h-1.3zm0.7 -0.3h1.3v1.3h-1.3zm4.6 -0.2h1.3v1.3h-1.3zm0.3 0.4h1.3v1.3h-1.3zm0.9 0.1h1.3v1.3h-1.3zm0.6 -0.5h1.3v1.3h-1.3zm1.1 0.1h1.3v1.3h-1.3zm0.3 -0.3h1.3v1.3h-1.3zm1.1 0.6h1.3v1.3h-1.3zm0.6 -0.1h1.3v1.3h-1.3zm0.4 0.2h1.3v1.3h-1.3zm2.3 -0.4h1.3v1.3h-1.3zm29.3 0.3h1.3v1.3h-1.3zm0.5 -0.2h1.3v1.3h-1.3zm0.6 0.3h1.3v1.3h-1.3zm2.3 0.1h1.3v1.3h-1.3zm0.9 -0.5h1.3v1.3h-1.3zm1.2 -0.3h1.3v1.3h-1.3zm0.6 0.7h1.3v1.3h-1.3zm3.8 -0.7h1.3v1.3h-1.3zm-98.7 1.2h1.3v1.3h-1.3zm11.6 0h1.3v1.3h-1.3zm2.6 0.6h1.3v1.3h-1.3zm5 -0.4h1.3v1.3h-1.3zm3.8 0h1.3v1.3h-1.3zm2.6 -0.4h1.3v1.3h-1.3zm8.6 0.2h1.3v1.3h-1.3zm1.8 0h1.3v1.3h-1.3zm3.1 0h1.3v1.3h-1.3zm6.2 -0.1h1.3v1.3h-1.3zm3.1 0.5h1.3v1.3h-1.3zm1.2 -0.3h1.3v1.3h-1.3zm1.2 0.5h1.3v1.3h-1.3zm0.6 -0.4h1.3v1.3h-1.3zm2.5 0.4h1.3v1.3h-1.3zm0.1 -0.7h1.3v1.3h-1.3zm0.7 -0.1h1.3v1.3h-1.3zm0.8 0.4h1.3v1.3h-1.3zm0.7 -0.1h1.3v1.3h-1.3zm0.8 -0.1h1.3v1.3h-1.3zm34.3 0h1.3v1.3h-1.3zm1 0h1.3v1.3h-1.3zm3.4 0.6h1.3v1.3h-1.3zm3.8 -0.4h1.3v1.3h-1.3zm-97 0.5h1.3v1.3h-1.3zm25.6 0.9h1.3v1.3h-1.3zm10.4 -0.4h1.3v1.3h-1.3zm0.9 0.1h1.3v1.3h-1.3zm1.3 0h1.3v1.3h-1.3zm0.6 0.3h1.3v1.3h-1.3zm7.1 -0.1h1.3v1.3h-1.3zm0.8 0.1h1.3v1.3h-1.3zm1.3 -0.9h1.3v1.3h-1.3zm0.1 0.4h1.3v1.3h-1.3zm0.1 0.4h1.3v1.3h-1.3zm1.5 -0.5h1.3v1.3h-1.3zm2.2 0.6h1.3v1.3h-1.3zm0.1 -0.6h1.3v1.3h-1.3zm1.4 -0.1h1.3v1.3h-1.3zm3.1 0h1.3v1.3h-1.3zm30.7 0.2h1.3v1.3h-1.3zm0.6 -0.2h1.3v1.3h-1.3zm0.4 0.1h1.3v1.3h-1.3zm0.3 -0.1h1.3v1.3h-1.3zm0.5 -0.1h1.3v1.3h-1.3zm0.5 0.1h1.3v1.3h-1.3zm0.9 0h1.3v1.3h-1.3zm2.9 0.2h1.3v1.3h-1.3zm2.4 -0.1h1.3v1.3h-1.3zm0.2 0.5h1.3v1.3h-1.3zm0.6 -0.1h1.3v1.3h-1.3zm-123.2 1h1.3v1.3h-1.3zm29.7 0.1h1.3v1.3h-1.3zm7.7 -0.4h1.3v1.3h-1.3zm0.7 -0.1h1.3v1.3h-1.3zm4.7 0.6h1.3v1.3h-1.3zm4.9 -0.7h1.3v1.3h-1.3zm7.8 0.4h1.3v1.3h-1.3zm4.3 0.1h1.3v1.3h-1.3zm4.3 -0.5h1.3v1.3h-1.3zm2.8 0.6h1.3v1.3h-1.3zm2.8 -0.6h1.3v1.3h-1.3zm4.3 0.7h1.3v1.3h-1.3zm0.3 -0.4h1.3v1.3h-1.3zm0.4 -0.1h1.3v1.3h-1.3zm2.4 0.2h1.3v1.3h-1.3zm1.1 -0.5h1.3v1.3h-1.3zm35.3 0.3h1.3v1.3h-1.3zm0.5 -0.1h1.3v1.3h-1.3zm0.3 0.1h1.3v1.3h-1.3zm1.1 -0.3h1.3v1.3h-1.3zm-92.8 0.9h1.3v1.3h-1.3zm14.7 0.4h1.3v1.3h-1.3zm5.1 -0.3h1.3v1.3h-1.3zm0.7 0.5h1.3v1.3h-1.3zm3.5 0.1h1.3v1.3h-1.3zm10.7 -0.2h1.3v1.3h-1.3zm2.2 -0.1h1.3v1.3h-1.3zm8.5 0h1.3v1.3h-1.3zm1.9 -0.1h1.3v1.3h-1.3zm6.3 0.1h1.3v1.3h-1.3zm0.7 0.2h1.3v1.3h-1.3zm0.2 -0.3h1.3v1.3h-1.3zm36.3 -0.1h1.3v1.3h-1.3zm2 0.2h1.3v1.3h-1.3zm0.8 0.2h1.3v1.3h-1.3zm5 -0.1h1.3v1.3h-1.3zm2.2 0h1.3v1.3h-1.3zm-84.9 1.2h1.3v1.3h-1.3zm7.5 0.1h1.3v1.3h-1.3zm1 -0.7h1.3v1.3h-1.3zm0 0.8h1.3v1.3h-1.3zm2.3 -0.1h1.3v1.3h-1.3zm0.6 -0.5h1.3v1.3h-1.3zm5.9 0.5h1.3v1.3h-1.3zm4.3 -0.4h1.3v1.3h-1.3zm6.4 0.3h1.3v1.3h-1.3zm2.4 0.1h1.3v1.3h-1.3zm0.5 0.1h1.3v1.3h-1.3zm1.3 -0.3h1.3v1.3h-1.3zm2 0h1.3v1.3h-1.3zm0.9 -0.1h1.3v1.3h-1.3zm1.1 0.2h1.3v1.3h-1.3zm39.9 -0.7h1.3v1.3h-1.3zm0.2 0.6h1.3v1.3h-1.3zm0.6 0.1h1.3v1.3h-1.3zm1.2 -0.1h1.3v1.3h-1.3zm0.8 -0.5h1.3v1.3h-1.3zm-93.9 0.9h1.3v1.3h-1.3zm8 0.6h1.3v1.3h-1.3zm9 -0.2h1.3v1.3h-1.3zm3.1 0.5h1.3v1.3h-1.3zm9.6 -0.9h1.3v1.3h-1.3zm5.8 0.9h1.3v1.3h-1.3zm0.7 -0.3h1.3v1.3h-1.3zm1.3 -0.2h1.3v1.3h-1.3zm1.6 -0.1h1.3v1.3h-1.3zm0.7 0.3h1.3v1.3h-1.3zm4.6 0h1.3v1.3h-1.3zm2.1 -0.2h1.3v1.3h-1.3zm1.4 -0.2h1.3v1.3h-1.3zm1.6 -0.2h1.3v1.3h-1.3zm0.1 0.7h1.3v1.3h-1.3zm1.3 -0.5h1.3v1.3h-1.3zm1.3 0.7h1.3v1.3h-1.3zm1 -0.5h1.3v1.3h-1.3zm0.1 -0.4h1.3v1.3h-1.3zm0 0.8h1.3v1.3h-1.3zm1.4 -0.1h1.3v1.3h-1.3zm0.1 0h1.3v1.3h-1.3zm0.2 0h1.3v1.3h-1.3zm36.3 -0.7h1.3v1.3h-1.3zm0.2 0.9h1.3v1.3h-1.3zm0.1 -0.5h1.3v1.3h-1.3zm1.3 0.5h1.3v1.3h-1.3zm0.5 -0.2h1.3v1.3h-1.3zm0.5 0.2h1.3v1.3h-1.3zm5.7 -0.3h1.3v1.3h-1.3zm-105.8 0.9h1.3v1.3h-1.3zm7.8 -0.1h1.3v1.3h-1.3zm2.8 0.5h1.3v1.3h-1.3zm2 -0.3h1.3v1.3h-1.3zm0.7 0.1h1.3v1.3h-1.3zm1 -0.2h1.3v1.3h-1.3zm2.5 0.1h1.3v1.3h-1.3zm1.1 -0.2h1.3v1.3h-1.3zm6.6 -0.2h1.3v1.3h-1.3zm4.4 0.4h1.3v1.3h-1.3zm2 -0.3h1.3v1.3h-1.3zm4.8 -0.3h1.3v1.3h-1.3zm5.6 0.7h1.3v1.3h-1.3zm10.5 -0.6h1.3v1.3h-1.3zm1.3 0.2h1.3v1.3h-1.3zm0.2 -0.3h1.3v1.3h-1.3zm0.4 0.8h1.3v1.3h-1.3zm0.8 -0.8h1.3v1.3h-1.3zm0.6 0h1.3v1.3h-1.3zm2.4 0h1.3v1.3h-1.3zm0.5 0h1.3v1.3h-1.3zm2.1 0.7h1.3v1.3h-1.3zm1.2 -0.7h1.3v1.3h-1.3zm0.5 0.7h1.3v1.3h-1.3zm1.4 0.2h1.3v1.3h-1.3zm0.4 -0.1h1.3v1.3h-1.3zm32.7 -0.7h1.3v1.3h-1.3zm0.4 0.5h1.3v1.3h-1.3zm3 0.2h1.3v1.3h-1.3zm0.9 -0.6h1.3v1.3h-1.3zm1.6 0.7h1.3v1.3h-1.3zm3.6 -0.7h1.3v1.3h-1.3zm-102.5 1.5h1.3v1.3h-1.3zm0.6 -0.5h1.3v1.3h-1.3zm0.5 0.4h1.3v1.3h-1.3zm6.3 0h1.3v1.3h-1.3zm0.9 -0.5h1.3v1.3h-1.3zm7.1 0.5h1.3v1.3h-1.3zm0.3 0.3h1.3v1.3h-1.3zm1 -0.8h1.3v1.3h-1.3zm3.3 0.6h1.3v1.3h-1.3zm0.3 -0.6h1.3v1.3h-1.3zm4.2 0.4h1.3v1.3h-1.3zm4.7 0.4h1.3v1.3h-1.3zm0 -0.6h1.3v1.3h-1.3zm0.6 0.1h1.3v1.3h-1.3zm7 -0.3h1.3v1.3h-1.3zm0.4 0.6h1.3v1.3h-1.3zm1.3 0.2h1.3v1.3h-1.3zm3.4 0h1.3v1.3h-1.3zm1.8 -0.9h1.3v1.3h-1.3zm2.4 0.4h1.3v1.3h-1.3zm0.7 0h1.3v1.3h-1.3zm3.3 0.3h1.3v1.3h-1.3zm1.6 0.1h1.3v1.3h-1.3zm0.2 -0.6h1.3v1.3h-1.3zm2.8 -0.1h1.3v1.3h-1.3zm2.2 0.8h1.3v1.3h-1.3zm1.1 -0.5h1.3v1.3h-1.3zm2 0.2h1.3v1.3h-1.3zm34.1 0.1h1.3v1.3h-1.3zm0.5 -0.2h1.3v1.3h-1.3zm1 0h1.3v1.3h-1.3zm6.2 0.3h1.3v1.3h-1.3zm-105.3 0.4h1.3v1.3h-1.3zm3.5 0.6h1.3v1.3h-1.3zm18.5 -0.8h1.3v1.3h-1.3zm1.7 0.5h1.3v1.3h-1.3zm0.6 -0.4h1.3v1.3h-1.3zm1.6 0.8h1.3v1.3h-1.3zm0.1 -0.1h1.3v1.3h-1.3zm4.1 0.1h1.3v1.3h-1.3zm1.5 -0.1h1.3v1.3h-1.3zm3 -0.5h1.3v1.3h-1.3zm1.3 0.1h1.3v1.3h-1.3zm1.1 -0.1h1.3v1.3h-1.3zm10.1 0h1.3v1.3h-1.3zm0.7 -0.3h1.3v1.3h-1.3zm8.5 0.9h1.3v1.3h-1.3zm0.1 -0.4h1.3v1.3h-1.3zm3.8 0.2h1.3v1.3h-1.3zm0.6 0.2h1.3v1.3h-1.3zm0.3 0h1.3v1.3h-1.3zm2.3 -0.1h1.3v1.3h-1.3zm32 0.1h1.3v1.3h-1.3zm1.5 -0.6h1.3v1.3h-1.3zm0.1 0h1.3v1.3h-1.3zm0.9 -0.1h1.3v1.3h-1.3zm0.6 0.3h1.3v1.3h-1.3zm0.3 0.3h1.3v1.3h-1.3zm2.8 -0.7h1.3v1.3h-1.3zm3.9 0.6h1.3v1.3h-1.3zm-105.2 0.5h1.3v1.3h-1.3zm6.7 0.3h1.3v1.3h-1.3zm0.9 -0.5h1.3v1.3h-1.3zm1.3 0.2h1.3v1.3h-1.3zm9.2 0.6h1.3v1.3h-1.3zm4 -0.7h1.3v1.3h-1.3zm0.9 0.1h1.3v1.3h-1.3zm1.5 -0.2h1.3v1.3h-1.3zm4.1 0.5h1.3v1.3h-1.3zm1.7 -0.3h1.3v1.3h-1.3zm6.8 -0.2h1.3v1.3h-1.3zm3.1 0.8h1.3v1.3h-1.3zm0.3 -0.1h1.3v1.3h-1.3zm1.9 -0.4h1.3v1.3h-1.3zm2.4 0.2h1.3v1.3h-1.3zm5.8 -0.3h1.3v1.3h-1.3zm1.6 0.1h1.3v1.3h-1.3zm0.8 0.1h1.3v1.3h-1.3zm1.1 -0.1h1.3v1.3h-1.3zm2.6 0.5h1.3v1.3h-1.3zm3.2 -0.5h1.3v1.3h-1.3zm1.3 -0.3h1.3v1.3h-1.3zm0 0.7h1.3v1.3h-1.3zm1.4 -0.2h1.3v1.3h-1.3zm1 0.2h1.3v1.3h-1.3zm0 -0.4h1.3v1.3h-1.3zm6.5 0.2h1.3v1.3h-1.3zm0.3 0.1h1.3v1.3h-1.3zm24.9 0h1.3v1.3h-1.3zm1.3 0.1h1.3v1.3h-1.3zm0.7 -0.4h1.3v1.3h-1.3zm0.4 0.3h1.3v1.3h-1.3zm0.4 -0.2h1.3v1.3h-1.3zm2.7 0.3h1.3v1.3h-1.3zm-98.5 0.3h1.3v1.3h-1.3zm8.1 0.2h1.3v1.3h-1.3zm1.9 0h1.3v1.3h-1.3zm3.1 0.2h1.3v1.3h-1.3zm1.6 0.4h1.3v1.3h-1.3zm1.4 -0.1h1.3v1.3h-1.3zm2.2 0.1h1.3v1.3h-1.3zm1.5 -0.4h1.3v1.3h-1.3zm1 -0.3h1.3v1.3h-1.3zm2.7 0.3h1.3v1.3h-1.3zm22.9 0.4h1.3v1.3h-1.3zm2.6 -0.8h1.3v1.3h-1.3zm1.1 0.3h1.3v1.3h-1.3zm3.9 0.2h1.3v1.3h-1.3zm2.9 0.3h1.3v1.3h-1.3zm0.7 -0.5h1.3v1.3h-1.3zm2.4 0.3h1.3v1.3h-1.3zm0.6 -0.1h1.3v1.3h-1.3zm0.4 0.1h1.3v1.3h-1.3zm1.9 -0.3h1.3v1.3h-1.3zm0.8 0.5h1.3v1.3h-1.3zm1.7 0.1h1.3v1.3h-1.3zm0.9 -0.3h1.3v1.3h-1.3zm0.8 -0.3h1.3v1.3h-1.3zm20.1 0.2h1.3v1.3h-1.3zm4.6 -0.1h1.3v1.3h-1.3zm0.1 -0.3h1.3v1.3h-1.3zm0.5 0.3h1.3v1.3h-1.3zm2.9 -0.3h1.3v1.3h-1.3zm1 0.2h1.3v1.3h-1.3zm1.1 0.4h1.3v1.3h-1.3zm4.2 0.2h1.3v1.3h-1.3zm-102.2 0.3h1.3v1.3h-1.3zm2 0h1.3v1.3h-1.3zm3.8 0.3h1.3v1.3h-1.3zm11 0.2h1.3v1.3h-1.3zm2.1 0.2h1.3v1.3h-1.3zm4.1 -0.9h1.3v1.3h-1.3zm5.3 0.6h1.3v1.3h-1.3zm0.7 -0.6h1.3v1.3h-1.3zm0.4 0.2h1.3v1.3h-1.3zm2.8 -0.2h1.3v1.3h-1.3zm2.2 0.3h1.3v1.3h-1.3zm0.9 -0.2h1.3v1.3h-1.3zm6.9 0.4h1.3v1.3h-1.3zm4.5 -0.5h1.3v1.3h-1.3zm2.3 0.4h1.3v1.3h-1.3zm0.4 0.3h1.3v1.3h-1.3zm1.8 0h1.3v1.3h-1.3zm0.8 -0.4h1.3v1.3h-1.3zm3.5 -0.2h1.3v1.3h-1.3zm0 0.6h1.3v1.3h-1.3zm0.4 0.2h1.3v1.3h-1.3zm5.8 0h1.3v1.3h-1.3zm2.1 -0.9h1.3v1.3h-1.3zm1.3 0.5h1.3v1.3h-1.3zm0.7 0.4h1.3v1.3h-1.3zm0.7 -0.9h1.3v1.3h-1.3zm0.4 0.7h1.3v1.3h-1.3zm0.5 -0.3h1.3v1.3h-1.3zm0.6 -0.4h1.3v1.3h-1.3zm1.3 0.4h1.3v1.3h-1.3zm9.5 0.2h1.3v1.3h-1.3zm6.2 0.3h1.3v1.3h-1.3zm1 -0.4h1.3v1.3h-1.3zm1.2 -0.5h1.3v1.3h-1.3zm1.5 0.1h1.3v1.3h-1.3zm0.8 0.4h1.3v1.3h-1.3zm1.5 0.4h1.3v1.3h-1.3zm1.9 -0.3h1.3v1.3h-1.3zm3.8 -0.5h1.3v1.3h-1.3zm4.7 0.7h1.3v1.3h-1.3zm0.3 0h1.3v1.3h-1.3zm-103.5 1.1h1.3v1.3h-1.3zm8.1 -0.9h1.3v1.3h-1.3zm4.9 0.3h1.3v1.3h-1.3zm1.7 0.4h1.3v1.3h-1.3zm8.4 -0.6h1.3v1.3h-1.3zm6 -0.1h1.3v1.3h-1.3zm1.7 0.6h1.3v1.3h-1.3zm0.6 -0.5h1.3v1.3h-1.3zm2.9 0.6h1.3v1.3h-1.3zm1.7 -0.4h1.3v1.3h-1.3zm1.1 0.6h1.3v1.3h-1.3zm3.3 0h1.3v1.3h-1.3zm0.7 -0.6h1.3v1.3h-1.3zm4.5 0.4h1.3v1.3h-1.3zm1.8 0h1.3v1.3h-1.3zm1.4 0.1h1.3v1.3h-1.3zm3.7 -0.7h1.3v1.3h-1.3zm0.6 0h1.3v1.3h-1.3zm2.5 0.5h1.3v1.3h-1.3zm1.2 -0.1h1.3v1.3h-1.3zm1.2 0.3h1.3v1.3h-1.3zm4.3 -0.2h1.3v1.3h-1.3zm0.3 -0.6h1.3v1.3h-1.3zm1.4 0.8h1.3v1.3h-1.3zm2.8 -0.3h1.3v1.3h-1.3zm0.1 0.4h1.3v1.3h-1.3zm1.8 -0.2h1.3v1.3h-1.3zm2.8 -0.2h1.3v1.3h-1.3zm0.2 -0.4h1.3v1.3h-1.3zm0.2 0.3h1.3v1.3h-1.3zm0.4 0.2h1.3v1.3h-1.3zm0.4 0.1h1.3v1.3h-1.3zm1.7 -0.2h1.3v1.3h-1.3zm5.2 -0.4h1.3v1.3h-1.3zm1.3 0.4h1.3v1.3h-1.3zm0.6 0h1.3v1.3h-1.3zm0.3 0.1h1.3v1.3h-1.3zm0.9 0h1.3v1.3h-1.3zm1 -0.3h1.3v1.3h-1.3zm0.1 -0.1h1.3v1.3h-1.3zm1.9 -0.1h1.3v1.3h-1.3zm1.8 0.2h1.3v1.3h-1.3zm0.5 -0.3h1.3v1.3h-1.3zm3.7 0.8h1.3v1.3h-1.3zm0.9 -0.8h1.3v1.3h-1.3zm0.1 0.6h1.3v1.3h-1.3zm2.7 -0.4h1.3v1.3h-1.3zm4.2 0.6h1.3v1.3h-1.3zm0.6 -0.3h1.3v1.3h-1.3zm-97.1 1h1.3v1.3h-1.3zm6.4 -0.3h1.3v1.3h-1.3zm2.5 0.1h1.3v1.3h-1.3zm2.4 -0.2h1.3v1.3h-1.3zm0.6 0.5h1.3v1.3h-1.3zm0.5 -0.2h1.3v1.3h-1.3zm2 -0.2h1.3v1.3h-1.3zm3.6 0.5h1.3v1.3h-1.3zm1.1 -0.2h1.3v1.3h-1.3zm6.3 -0.5h1.3v1.3h-1.3zm2.1 0.3h1.3v1.3h-1.3zm2.8 0.2h1.3v1.3h-1.3zm0.8 -0.3h1.3v1.3h-1.3zm0 0.7h1.3v1.3h-1.3zm0.1 -0.4h1.3v1.3h-1.3zm3.9 -0.2h1.3v1.3h-1.3zm2.2 0.6h1.3v1.3h-1.3zm4.3 -0.5h1.3v1.3h-1.3zm5.1 0.2h1.3v1.3h-1.3zm2.6 -0.6h1.3v1.3h-1.3zm1 0h1.3v1.3h-1.3zm2.4 0.2h1.3v1.3h-1.3zm2 0.4h1.3v1.3h-1.3zm3.1 0.2h1.3v1.3h-1.3zm0.5 -0.3h1.3v1.3h-1.3zm1.3 -0.3h1.3v1.3h-1.3zm1.7 0.5h1.3v1.3h-1.3zm0.4 0.2h1.3v1.3h-1.3zm0.3 -0.7h1.3v1.3h-1.3zm0.2 0.7h1.3v1.3h-1.3zm0.1 -0.3h1.3v1.3h-1.3zm1.2 -0.4h1.3v1.3h-1.3zm2.6 0h1.3v1.3h-1.3zm1 0.3h1.3v1.3h-1.3zm0.9 0h1.3v1.3h-1.3zm0.4 -0.4h1.3v1.3h-1.3zm0.6 0.4h1.3v1.3h-1.3zm1.5 0.1h1.3v1.3h-1.3zm0.3 -0.1h1.3v1.3h-1.3zm0.6 -0.3h1.3v1.3h-1.3zm2.5 0.5h1.3v1.3h-1.3zm0.4 -0.1h1.3v1.3h-1.3zm0.5 0h1.3v1.3h-1.3zm0.7 0h1.3v1.3h-1.3zm0.6 -0.2h1.3v1.3h-1.3zm1.1 0.1h1.3v1.3h-1.3zm0.7 -0.3h1.3v1.3h-1.3zm1.5 0.2h1.3v1.3h-1.3zm1.9 -0.4h1.3v1.3h-1.3zm0.7 0.3h1.3v1.3h-1.3zm0.3 0.1h1.3v1.3h-1.3zm1 -0.1h1.3v1.3h-1.3zm0.5 0.2h1.3v1.3h-1.3zm2.9 -0.5h1.3v1.3h-1.3zm0.1 0.7h1.3v1.3h-1.3zm2.4 -0.7h1.3v1.3h-1.3zm0.4 0.6h1.3v1.3h-1.3zm0.1 0.1h1.3v1.3h-1.3zm1.2 -0.3h1.3v1.3h-1.3zm-96.7 0.7h1.3v1.3h-1.3zm7.3 0.8h1.3v1.3h-1.3zm3.8 -0.4h1.3v1.3h-1.3zm1.3 -0.4h1.3v1.3h-1.3zm1 0.7h1.3v1.3h-1.3zm3.9 -0.7h1.3v1.3h-1.3zm1.2 0.3h1.3v1.3h-1.3zm5.9 0.4h1.3v1.3h-1.3zm4.5 -0.6h1.3v1.3h-1.3zm2.6 -0.2h1.3v1.3h-1.3zm2.1 0h1.3v1.3h-1.3zm6.2 0.2h1.3v1.3h-1.3zm3.2 0h1.3v1.3h-1.3zm5.3 0h1.3v1.3h-1.3zm3 0.6h1.3v1.3h-1.3zm1.9 -0.1h1.3v1.3h-1.3zm4 -0.7h1.3v1.3h-1.3zm2.1 0.6h1.3v1.3h-1.3zm0.4 0.3h1.3v1.3h-1.3zm0.6 -0.2h1.3v1.3h-1.3zm1.4 0.2h1.3v1.3h-1.3zm3.3 0h1.3v1.3h-1.3zm0.3 -0.9h1.3v1.3h-1.3zm3.1 0.6h1.3v1.3h-1.3zm1.5 -0.2h1.3v1.3h-1.3zm1.2 -0.1h1.3v1.3h-1.3zm1.7 0.2h1.3v1.3h-1.3zm3.5 -0.1h1.3v1.3h-1.3zm0.7 0.2h1.3v1.3h-1.3zm2.1 -0.4h1.3v1.3h-1.3zm2.5 -0.1h1.3v1.3h-1.3zm0.9 0.4h1.3v1.3h-1.3zm5.6 -0.3h1.3v1.3h-1.3zm1.2 0.6h1.3v1.3h-1.3zm0.6 -0.1h1.3v1.3h-1.3zm0.1 -0.6h1.3v1.3h-1.3zm1.9 0.2h1.3v1.3h-1.3zm1.6 0.1h1.3v1.3h-1.3zm0.4 -0.4h1.3v1.3h-1.3zm0.6 0.1h1.3v1.3h-1.3zm0.3 0.3h1.3v1.3h-1.3zm4.6 0.3h1.3v1.3h-1.3zm3.7 0.1h1.3v1.3h-1.3zm-102.8 0.8h1.3v1.3h-1.3zm3.5 -0.1h1.3v1.3h-1.3zm2.5 0.1h1.3v1.3h-1.3zm4.9 0.1h1.3v1.3h-1.3zm5.3 -0.2h1.3v1.3h-1.3zm1 -0.2h1.3v1.3h-1.3zm0.7 0.5h1.3v1.3h-1.3zm1.4 -0.4h1.3v1.3h-1.3zm5.8 0.4h1.3v1.3h-1.3zm0.8 -0.2h1.3v1.3h-1.3zm1.9 -0.3h1.3v1.3h-1.3zm6.5 0.1h1.3v1.3h-1.3zm0.5 0.5h1.3v1.3h-1.3zm0.4 -0.9h1.3v1.3h-1.3zm13 0.1h1.3v1.3h-1.3zm11 0.7h1.3v1.3h-1.3zm1.7 -0.4h1.3v1.3h-1.3zm4.7 0.1h1.3v1.3h-1.3zm2.9 0.1h1.3v1.3h-1.3zm0.8 -0.3h1.3v1.3h-1.3zm2.9 0.5h1.3v1.3h-1.3zm0.5 -0.8h1.3v1.3h-1.3zm0.5 0.9h1.3v1.3h-1.3zm0.4 -0.9h1.3v1.3h-1.3zm1.6 0h1.3v1.3h-1.3zm2.7 0.5h1.3v1.3h-1.3zm0.7 -0.3h1.3v1.3h-1.3zm0.4 0.5h1.3v1.3h-1.3zm0.5 -0.4h1.3v1.3h-1.3zm0.1 -0.3h1.3v1.3h-1.3zm6.1 0.6h1.3v1.3h-1.3zm0.3 -0.5h1.3v1.3h-1.3zm0.7 0.3h1.3v1.3h-1.3zm0.5 0h1.3v1.3h-1.3zm1.8 -0.1h1.3v1.3h-1.3zm2.1 0h1.3v1.3h-1.3zm1.3 0.2h1.3v1.3h-1.3zm3.5 -0.2h1.3v1.3h-1.3zm5.1 0.4h1.3v1.3h-1.3zm-96.1 1h1.3v1.3h-1.3zm0.2 -0.1h1.3v1.3h-1.3zm1.6 -0.4h1.3v1.3h-1.3zm3.8 0.1h1.3v1.3h-1.3zm0.9 -0.1h1.3v1.3h-1.3zm0.2 -0.1h1.3v1.3h-1.3zm2.5 0h1.3v1.3h-1.3zm4.2 0.2h1.3v1.3h-1.3zm12.2 -0.3h1.3v1.3h-1.3zm6.3 0.3h1.3v1.3h-1.3zm2.5 -0.3h1.3v1.3h-1.3zm2.3 0.2h1.3v1.3h-1.3zm7.1 0.7h1.3v1.3h-1.3zm3.3 0h1.3v1.3h-1.3zm6.1 -0.7h1.3v1.3h-1.3zm5 0.5h1.3v1.3h-1.3zm2.3 0.2h1.3v1.3h-1.3zm9.5 -0.6h1.3v1.3h-1.3zm2.6 0.2h1.3v1.3h-1.3zm0.8 -0.1h1.3v1.3h-1.3zm1.6 -0.1h1.3v1.3h-1.3zm0.9 0.6h1.3v1.3h-1.3zm0.8 -0.4h1.3v1.3h-1.3zm3.2 -0.1h1.3v1.3h-1.3zm0.5 0h1.3v1.3h-1.3zm0.8 0.5h1.3v1.3h-1.3zm0.4 -0.3h1.3v1.3h-1.3zm2.4 -0.2h1.3v1.3h-1.3zm5.8 -0.3h1.3v1.3h-1.3zm1.4 0.6h1.3v1.3h-1.3zm-89 1.2h1.3v1.3h-1.3zm8.5 -0.7h1.3v1.3h-1.3zm1.2 0.3h1.3v1.3h-1.3zm2 0.3h1.3v1.3h-1.3zm7.7 0.1h1.3v1.3h-1.3zm0.6 -0.7h1.3v1.3h-1.3zm0.9 0.7h1.3v1.3h-1.3zm10.6 -0.5h1.3v1.3h-1.3zm0.3 -0.2h1.3v1.3h-1.3zm6.6 0.3h1.3v1.3h-1.3zm7 0.3h1.3v1.3h-1.3zm13.6 -0.4h1.3v1.3h-1.3zm1.1 0h1.3v1.3h-1.3zm1.3 0.5h1.3v1.3h-1.3zm1 0h1.3v1.3h-1.3zm1.7 -0.2h1.3v1.3h-1.3zm1.2 0.1h1.3v1.3h-1.3zm0.9 -0.6h1.3v1.3h-1.3zm0.7 0.6h1.3v1.3h-1.3zm0.5 -0.3h1.3v1.3h-1.3zm2.3 -0.5h1.3v1.3h-1.3zm0.3 0.1h1.3v1.3h-1.3zm1.4 0.1h1.3v1.3h-1.3zm2.3 0.1h1.3v1.3h-1.3zm3.2 0.4h1.3v1.3h-1.3zm0.3 0.2h1.3v1.3h-1.3zm3.7 -0.1h1.3v1.3h-1.3zm1 -0.7h1.3v1.3h-1.3zm4.7 0.8h1.3v1.3h-1.3zm2.2 0h1.3v1.3h-1.3zm2.3 -0.5h1.3v1.3h-1.3zm-98.2 1.3h1.3v1.3h-1.3zm8.5 -0.5h1.3v1.3h-1.3zm5.8 0.1h1.3v1.3h-1.3zm9 0.6h1.3v1.3h-1.3zm2.4 -0.4h1.3v1.3h-1.3zm1.9 0h1.3v1.3h-1.3zm1.3 -0.2h1.3v1.3h-1.3zm2.2 -0.3h1.3v1.3h-1.3zm0.9 0.4h1.3v1.3h-1.3zm0 -0.4h1.3v1.3h-1.3zm5.7 0.7h1.3v1.3h-1.3zm3.3 0.1h1.3v1.3h-1.3zm1.7 -0.2h1.3v1.3h-1.3zm3.6 -0.5h1.3v1.3h-1.3zm1.2 0.3h1.3v1.3h-1.3zm4.8 0.4h1.3v1.3h-1.3zm4.2 -0.3h1.3v1.3h-1.3zm9 0.1h1.3v1.3h-1.3zm1.9 0.2h1.3v1.3h-1.3zm6.3 0.1h1.3v1.3h-1.3zm1.2 -0.9h1.3v1.3h-1.3zm1 0.1h1.3v1.3h-1.3zm0.4 0.4h1.3v1.3h-1.3zm2.4 -0.4h1.3v1.3h-1.3zm1.9 0h1.3v1.3h-1.3zm2.6 0.4h1.3v1.3h-1.3zm0.4 0.2h1.3v1.3h-1.3zm0.1 0.1h1.3v1.3h-1.3zm0 -0.6h1.3v1.3h-1.3zm4.2 0.1h1.3v1.3h-1.3zm11.1 -0.2h1.3v1.3h-1.3zm-96.3 1.1h1.3v1.3h-1.3zm8.4 -0.1h1.3v1.3h-1.3zm4 0.4h1.3v1.3h-1.3zm0.1 0.2h1.3v1.3h-1.3zm2.7 0.1h1.3v1.3h-1.3zm1.8 -0.2h1.3v1.3h-1.3zm0.8 0.3h1.3v1.3h-1.3zm4.7 -0.3h1.3v1.3h-1.3zm2.9 -0.4h1.3v1.3h-1.3zm0.3 -0.2h1.3v1.3h-1.3zm16.6 0.8h1.3v1.3h-1.3zm2.2 0h1.3v1.3h-1.3zm8.5 0h1.3v1.3h-1.3zm4.4 0h1.3v1.3h-1.3zm3.5 -0.4h1.3v1.3h-1.3zm5.6 0.1h1.3v1.3h-1.3zm9.2 0h1.3v1.3h-1.3zm1.6 -0.5h1.3v1.3h-1.3zm0.2 0h1.3v1.3h-1.3zm8.3 0.6h1.3v1.3h-1.3zm0.6 -0.2h1.3v1.3h-1.3zm1.4 -0.1h1.3v1.3h-1.3zm2.5 -0.2h1.3v1.3h-1.3zm4 0.3h1.3v1.3h-1.3zm-101 1.2h1.3v1.3h-1.3zm12.3 -0.5h1.3v1.3h-1.3zm2.8 0.7h1.3v1.3h-1.3zm1.1 -0.4h1.3v1.3h-1.3zm2.4 0.5h1.3v1.3h-1.3zm0.4 -0.7h1.3v1.3h-1.3zm14.2 -0.1h1.3v1.3h-1.3zm4.6 0.1h1.3v1.3h-1.3zm0.6 0.1h1.3v1.3h-1.3zm1 0.1h1.3v1.3h-1.3zm2.6 0.1h1.3v1.3h-1.3zm8 -0.3h1.3v1.3h-1.3zm2.9 0.4h1.3v1.3h-1.3zm1.2 0.1h1.3v1.3h-1.3zm5.5 0h1.3v1.3h-1.3zm11.1 -0.5h1.3v1.3h-1.3zm16.1 0.7h1.3v1.3h-1.3zm1.7 -0.2h1.3v1.3h-1.3zm3.2 -0.3h1.3v1.3h-1.3zm1.5 -0.4h1.3v1.3h-1.3zm2.9 0.2h1.3v1.3h-1.3zm4.6 0h1.3v1.3h-1.3zm2.5 0.2h1.3v1.3h-1.3zm-97.3 0.8h1.3v1.3h-1.3zm5.7 0h1.3v1.3h-1.3zm8.3 -0.1h1.3v1.3h-1.3zm12.2 0.6h1.3v1.3h-1.3zm4.8 -0.3h1.3v1.3h-1.3zm14.3 -0.1h1.3v1.3h-1.3zm21.1 0h1.3v1.3h-1.3zm1.7 -0.1h1.3v1.3h-1.3zm1.8 0.1h1.3v1.3h-1.3zm0.7 0.5h1.3v1.3h-1.3zm0.2 -0.1h1.3v1.3h-1.3zm3.2 -0.4h1.3v1.3h-1.3zm3.9 0h1.3v1.3h-1.3zm0.7 -0.3h1.3v1.3h-1.3zm0.6 0.3h1.3v1.3h-1.3zm1.1 -0.3h1.3v1.3h-1.3zm1.3 0.6h1.3v1.3h-1.3zm3.6 -0.4h1.3v1.3h-1.3zm1 -0.2h1.3v1.3h-1.3zm0 0.7h1.3v1.3h-1.3zm2 -0.2h1.3v1.3h-1.3zm0.9 0.2h1.3v1.3h-1.3zm2.6 0.1h1.3v1.3h-1.3zm7.5 -0.8h1.3v1.3h-1.3zm4.2 0h1.3v1.3h-1.3zm-103.9 1.3h1.3v1.3h-1.3zm10.8 0.1h1.3v1.3h-1.3zm6.6 -0.3h1.3v1.3h-1.3zm5.7 0.8h1.3v1.3h-1.3zm13.3 -0.9h1.3v1.3h-1.3zm10.7 0.6h1.3v1.3h-1.3zm0.1 -0.2h1.3v1.3h-1.3zm19.6 0.5h1.3v1.3h-1.3zm10.4 -0.9h1.3v1.3h-1.3zm0.2 0h1.3v1.3h-1.3zm0.6 0.8h1.3v1.3h-1.3zm15.5 -0.2h1.3v1.3h-1.3zm-93.3 0.8h1.3v1.3h-1.3zm11.9 0.2h1.3v1.3h-1.3zm4.1 -0.5h1.3v1.3h-1.3zm4.6 0.5h1.3v1.3h-1.3zm3.7 0.2h1.3v1.3h-1.3zm10.1 -0.3h1.3v1.3h-1.3zm1.7 -0.3h1.3v1.3h-1.3zm3.7 0.1h1.3v1.3h-1.3zm10.1 0h1.3v1.3h-1.3zm15.9 -0.2h1.3v1.3h-1.3zm4.8 0.6h1.3v1.3h-1.3zm2.1 -0.6h1.3v1.3h-1.3zm4.8 0.4h1.3v1.3h-1.3zm1.7 0.1h1.3v1.3h-1.3zm0.8 -0.3h1.3v1.3h-1.3zm7.1 0.4h1.3v1.3h-1.3zm3 -0.7h1.3v1.3h-1.3zm1.7 0.7h1.3v1.3h-1.3zm1.5 -0.7h1.3v1.3h-1.3zm7.2 0.5h1.3v1.3h-1.3zm-93.7 1.1h1.3v1.3h-1.3zm8.8 -0.6h1.3v1.3h-1.3zm4.8 0.8h1.3v1.3h-1.3zm33.3 -0.2h1.3v1.3h-1.3zm18.6 0h1.3v1.3h-1.3zm2.2 -0.5h1.3v1.3h-1.3zm3.8 0.5h1.3v1.3h-1.3zm2.8 0.1h1.3v1.3h-1.3zm2.4 0h1.3v1.3h-1.3zm2.9 -0.5h1.3v1.3h-1.3zm0.4 -0.1h1.3v1.3h-1.3zm1.8 0.4h1.3v1.3h-1.3zm0.8 0h1.3v1.3h-1.3zm-86.4 0.5h1.3v1.3h-1.3zm9.7 0.7h1.3v1.3h-1.3zm5.3 0h1.3v1.3h-1.3zm0.8 -0.6h1.3v1.3h-1.3zm2.3 0.8h1.3v1.3h-1.3zm4.5 -0.6h1.3v1.3h-1.3zm1.5 0.6h1.3v1.3h-1.3zm40.1 0h1.3v1.3h-1.3zm4.6 -0.4h1.3v1.3h-1.3zm3.7 0.2h1.3v1.3h-1.3zm2.7 0.2h1.3v1.3h-1.3zm0.9 -0.7h1.3v1.3h-1.3zm0.7 0.4h1.3v1.3h-1.3zm1.1 -0.4h1.3v1.3h-1.3zm0.3 -0.2h1.3v1.3h-1.3zm0.9 0h1.3v1.3h-1.3zm0.5 0.4h1.3v1.3h-1.3zm12.1 0.1h1.3v1.3h-1.3zm1 -0.4h1.3v1.3h-1.3zm4.3 0.4h1.3v1.3h-1.3zm6.4 0.4h1.3v1.3h-1.3zm-104 0.5h1.3v1.3h-1.3zm9.8 0.1h1.3v1.3h-1.3zm7.6 0.1h1.3v1.3h-1.3zm0.6 -0.4h1.3v1.3h-1.3zm8.4 -0.1h1.3v1.3h-1.3zm8.1 0.6h1.3v1.3h-1.3zm32.5 -0.5h1.3v1.3h-1.3zm0.5 0.6h1.3v1.3h-1.3zm1.3 0.1h1.3v1.3h-1.3zm5.3 -0.1h1.3v1.3h-1.3zm4.1 -0.6h1.3v1.3h-1.3zm8.1 0.6h1.3v1.3h-1.3zm1.6 0h1.3v1.3h-1.3zm-83.7 0.3h1.3v1.3h-1.3zm4 0.6h1.3v1.3h-1.3zm19.7 -0.4h1.3v1.3h-1.3zm8.9 0.4h1.3v1.3h-1.3zm28.5 -0.7h1.3v1.3h-1.3zm1.7 0.1h1.3v1.3h-1.3zm8.7 0h1.3v1.3h-1.3zm3.2 0.3h1.3v1.3h-1.3zm3.6 0.3h1.3v1.3h-1.3zm6.4 0h1.3v1.3h-1.3zm2.5 0.2h1.3v1.3h-1.3zm6.7 -0.5h1.3v1.3h-1.3zm-102.6 0.6h1.3v1.3h-1.3zm19.9 0.1h1.3v1.3h-1.3zm20.7 0.2h1.3v1.3h-1.3zm20.6 -0.3h1.3v1.3h-1.3zm6.6 0.1h1.3v1.3h-1.3zm9.1 0h1.3v1.3h-1.3zm10 -0.1h1.3v1.3h-1.3zm1.3 0.6h1.3v1.3h-1.3zm0.8 -0.4h1.3v1.3h-1.3zm4.9 0.2h1.3v1.3h-1.3zm6.2 0.4h1.3v1.3h-1.3zm2.7 -0.3h1.3v1.3h-1.3zm-89.9 1.2h1.3v1.3h-1.3zm4.1 -0.5h1.3v1.3h-1.3zm11.1 0.5h1.3v1.3h-1.3zm1 -0.5h1.3v1.3h-1.3zm2.9 -0.1h1.3v1.3h-1.3zm32.5 0.5h1.3v1.3h-1.3zm7.8 -0.6h1.3v1.3h-1.3zm1.5 0.7h1.3v1.3h-1.3zm1.6 -0.1h1.3v1.3h-1.3zm2.2 0.1h1.3v1.3h-1.3zm2.6 -0.2h1.3v1.3h-1.3zm3.2 0h1.3v1.3h-1.3zm5.4 0h1.3v1.3h-1.3zm7.2 0.3h1.3v1.3h-1.3zm-61.4 0.5h1.3v1.3h-1.3zm13.4 0.6h1.3v1.3h-1.3zm18.8 -0.7h1.3v1.3h-1.3zm8.2 0.6h1.3v1.3h-1.3zm0.5 -0.8h1.3v1.3h-1.3zm2.7 0.1h1.3v1.3h-1.3zm3.3 0.7h1.3v1.3h-1.3zm1.2 -0.1h1.3v1.3h-1.3zm0.2 -0.3h1.3v1.3h-1.3zm0.6 0.2h1.3v1.3h-1.3zm4.3 -0.6h1.3v1.3h-1.3zm5.3 0h1.3v1.3h-1.3zm8.7 0.5h1.3v1.3h-1.3zm1.5 0.2h1.3v1.3h-1.3zm-89 1.1h1.3v1.3h-1.3zm7.9 -0.1h1.3v1.3h-1.3zm5.3 -0.4h1.3v1.3h-1.3zm44 0.3h1.3v1.3h-1.3zm8.7 -0.5h1.3v1.3h-1.3zm0.2 0.4h1.3v1.3h-1.3zm4.2 -0.5h1.3v1.3h-1.3zm5.1 0.3h1.3v1.3h-1.3zm3.3 0.3h1.3v1.3h-1.3zm5.2 -0.5h1.3v1.3h-1.3zm-70.6 1.8h1.3v1.3h-1.3zm15.6 -0.9h1.3v1.3h-1.3zm9 0.7h1.3v1.3h-1.3zm5.7 -0.4h1.3v1.3h-1.3zm8.4 -0.3h1.3v1.3h-1.3zm1.4 0.8h1.3v1.3h-1.3zm5.9 -0.4h1.3v1.3h-1.3zm1.8 0.3h1.3v1.3h-1.3zm0.7 -0.3h1.3v1.3h-1.3zm1.7 -0.2h1.3v1.3h-1.3zm0.1 0.7h1.3v1.3h-1.3zm2.8 -0.8h1.3v1.3h-1.3zm4.4 0.3h1.3v1.3h-1.3zm4.8 -0.3h1.3v1.3h-1.3zm1.3 0h1.3v1.3h-1.3zm0.7 0.5h1.3v1.3h-1.3zm1.9 -0.3h1.3v1.3h-1.3zm-60.2 0.8h1.3v1.3h-1.3zm0.1 0.5h1.3v1.3h-1.3zm11.9 0h1.3v1.3h-1.3zm23.4 -0.1h1.3v1.3h-1.3zm6 -0.2h1.3v1.3h-1.3zm2.1 -0.2h1.3v1.3h-1.3zm1.7 0.2h1.3v1.3h-1.3zm0.4 -0.3h1.3v1.3h-1.3zm0 0.8h1.3v1.3h-1.3zm0.2 -0.3h1.3v1.3h-1.3zm3.7 -0.2h1.3v1.3h-1.3zm10.4 -0.1h1.3v1.3h-1.3zm-78.1 1.2h1.3v1.3h-1.3zm48.8 0.5h1.3v1.3h-1.3zm2.1 -0.2h1.3v1.3h-1.3zm0.6 -0.7h1.3v1.3h-1.3zm1 0.1h1.3v1.3h-1.3zm4.6 0.8h1.3v1.3h-1.3zm0.5 -0.1h1.3v1.3h-1.3zm3.2 -0.4h1.3v1.3h-1.3zm1.2 0.2h1.3v1.3h-1.3zm1.5 -0.5h1.3v1.3h-1.3zm3.5 0.8h1.3v1.3h-1.3zm0.3 -0.7h1.3v1.3h-1.3zm0.9 0h1.3v1.3h-1.3zm2.4 0.2h1.3v1.3h-1.3zm1.9 -0.3h1.3v1.3h-1.3zm1.6 0.4h1.3v1.3h-1.3zm1.2 0.2h1.3v1.3h-1.3zm14.6 -0.5h1.3v1.3h-1.3zm-45.9 1.7h1.3v1.3h-1.3zm2.4 -0.7h1.3v1.3h-1.3zm8 0.2h1.3v1.3h-1.3zm8.6 -0.3h1.3v1.3h-1.3zm2.3 0.4h1.3v1.3h-1.3zm2.4 -0.3h1.3v1.3h-1.3zm10.6 0.6h1.3v1.3h-1.3zm3.2 -0.7h1.3v1.3h-1.3zm-91.6 1.3h1.3v1.3h-1.3zm61.4 0h1.3v1.3h-1.3zm0.6 0.3h1.3v1.3h-1.3zm1.7 -0.1h1.3v1.3h-1.3zm1.2 -0.2h1.3v1.3h-1.3zm1.2 0.4h1.3v1.3h-1.3zm0.2 -0.6h1.3v1.3h-1.3zm2 0.7h1.3v1.3h-1.3zm10.5 -0.9h1.3v1.3h-1.3zm6.5 0.9h1.3v1.3h-1.3zm0.9 0h1.3v1.3h-1.3zm1.6 -0.2h1.3v1.3h-1.3zm1.5 0.2h1.3v1.3h-1.3zm0.3 -0.2h1.3v1.3h-1.3zm1.1 -0.4h1.3v1.3h-1.3zm0.7 0.3h1.3v1.3h-1.3zm1 -0.2h1.3v1.3h-1.3zm2.5 0.1h1.3v1.3h-1.3zm-38 0.8h1.3v1.3h-1.3zm11.3 0.1h1.3v1.3h-1.3zm1.6 0.4h1.3v1.3h-1.3zm0.5 -0.3h1.3v1.3h-1.3zm1.9 -0.3h1.3v1.3h-1.3zm0.4 0.6h1.3v1.3h-1.3zm2.6 -0.5h1.3v1.3h-1.3zm1.2 0.5h1.3v1.3h-1.3zm3.2 -0.6h1.3v1.3h-1.3zm2.8 0.1h1.3v1.3h-1.3zm3.2 0.3h1.3v1.3h-1.3zm-86.5 1.1h1.3v1.3h-1.3zm53 -0.2h1.3v1.3h-1.3zm1.3 0.3h1.3v1.3h-1.3zm4.4 -0.1h1.3v1.3h-1.3zm4.8 -0.5h1.3v1.3h-1.3zm9.6 0.6h1.3v1.3h-1.3zm3.7 0.1h1.3v1.3h-1.3zm1.9 -0.8h1.3v1.3h-1.3zm0.1 0.3h1.3v1.3h-1.3zm0.5 -0.1h1.3v1.3h-1.3zm1 0.5h1.3v1.3h-1.3zm17.3 -0.2h1.3v1.3h-1.3zm-42.3 1.1h1.3v1.3h-1.3zm4.8 -0.7h1.3v1.3h-1.3zm0.6 0.8h1.3v1.3h-1.3zm1.2 -0.7h1.3v1.3h-1.3zm0.1 0.6h1.3v1.3h-1.3zm1 -0.4h1.3v1.3h-1.3zm3.3 0.3h1.3v1.3h-1.3zm7.9 -0.2h1.3v1.3h-1.3zm6.2 0.1h1.3v1.3h-1.3zm1.1 -0.5h1.3v1.3h-1.3zm0.7 0.7h1.3v1.3h-1.3zm0.5 0.2h1.3v1.3h-1.3zm0.5 0h1.3v1.3h-1.3zm4.6 -0.6h1.3v1.3h-1.3zm2.4 0.2h1.3v1.3h-1.3zm-93.5 0.6h1.3v1.3h-1.3zm24.8 -0.1h1.3v1.3h-1.3zm8.5 0.7h1.3v1.3h-1.3zm5 0.1h1.3v1.3h-1.3zm15.8 -0.3h1.3v1.3h-1.3zm2 0h1.3v1.3h-1.3zm11.2 0h1.3v1.3h-1.3zm2.3 0.2h1.3v1.3h-1.3zm1.7 -0.1h1.3v1.3h-1.3zm2.8 0.2h1.3v1.3h-1.3zm1.9 -0.4h1.3v1.3h-1.3zm1 -0.1h1.3v1.3h-1.3zm3.4 -0.2h1.3v1.3h-1.3zm3.2 0.4h1.3v1.3h-1.3zm2.4 0.1h1.3v1.3h-1.3zm0.2 0.2h1.3v1.3h-1.3zm0.3 -0.1h1.3v1.3h-1.3zm0.7 -0.1h1.3v1.3h-1.3zm0.3 -0.4h1.3v1.3h-1.3zm5.2 -0.1h1.3v1.3h-1.3zm0.4 0.1h1.3v1.3h-1.3zm-60.4 0.9h1.3v1.3h-1.3zm5.2 0.4h1.3v1.3h-1.3zm13.6 -0.5h1.3v1.3h-1.3zm5.9 0.1h1.3v1.3h-1.3zm1.4 0.2h1.3v1.3h-1.3zm10.3 0.6h1.3v1.3h-1.3zm5.6 0h1.3v1.3h-1.3zm2.9 -0.4h1.3v1.3h-1.3zm0.1 -0.3h1.3v1.3h-1.3zm0.4 -0.2h1.3v1.3h-1.3zm2 0.5h1.3v1.3h-1.3zm20 0.4h1.3v1.3h-1.3zm2.2 -0.3h1.3v1.3h-1.3zm-45.5 0.6h1.3v1.3h-1.3zm0.1 0.6h1.3v1.3h-1.3zm5 -0.5h1.3v1.3h-1.3zm0.4 -0.1h1.3v1.3h-1.3zm5.5 0.4h1.3v1.3h-1.3zm1.2 0h1.3v1.3h-1.3zm0.9 -0.6h1.3v1.3h-1.3zm1.4 0.9h1.3v1.3h-1.3zm2.4 -0.5h1.3v1.3h-1.3zm1.3 0h1.3v1.3h-1.3zm9.5 0.2h1.3v1.3h-1.3zm3 -0.5h1.3v1.3h-1.3zm0.6 0.3h1.3v1.3h-1.3zm2.7 -0.3h1.3v1.3h-1.3zm-91.3 1.6h1.3v1.3h-1.3zm36.3 -0.1h1.3v1.3h-1.3zm34 -0.5h1.3v1.3h-1.3zm1.5 0.6h1.3v1.3h-1.3zm1 -0.7h1.3v1.3h-1.3zm3.9 0.4h1.3v1.3h-1.3zm1.8 0.4h1.3v1.3h-1.3zm2.2 -0.5h1.3v1.3h-1.3zm7.3 0.3h1.3v1.3h-1.3zm6.6 0.1h1.3v1.3h-1.3zm4.8 -0.5h1.3v1.3h-1.3zm-55.7 0.9h1.3v1.3h-1.3zm12.7 0.6h1.3v1.3h-1.3zm6.5 -0.3h1.3v1.3h-1.3zm2.7 0.1h1.3v1.3h-1.3zm3.4 -0.4h1.3v1.3h-1.3zm2.2 0.7h1.3v1.3h-1.3zm0.8 -0.8h1.3v1.3h-1.3zm4.9 0h1.3v1.3h-1.3zm1.8 0.4h1.3v1.3h-1.3zm0.5 0.2h1.3v1.3h-1.3zm2.9 0.1h1.3v1.3h-1.3zm1.1 -0.3h1.3v1.3h-1.3zm1.7 0.2h1.3v1.3h-1.3zm0.5 -0.3h1.3v1.3h-1.3zm3.2 -0.2h1.3v1.3h-1.3zm3.4 0.3h1.3v1.3h-1.3zm6 0.5h1.3v1.3h-1.3zm5.9 -0.3h1.3v1.3h-1.3zm-103.7 0.9h1.3v1.3h-1.3zm59.8 0h1.3v1.3h-1.3zm14.3 -0.4h1.3v1.3h-1.3zm0.4 0h1.3v1.3h-1.3zm5.5 0.4h1.3v1.3h-1.3zm0.6 0.3h1.3v1.3h-1.3zm1.8 -0.8h1.3v1.3h-1.3zm7.9 0.6h1.3v1.3h-1.3zm2 0.3h1.3v1.3h-1.3zm10.9 -0.2h1.3v1.3h-1.3zm-44.8 1.1h1.3v1.3h-1.3zm4.9 -0.8h1.3v1.3h-1.3zm2.9 0.1h1.3v1.3h-1.3zm0 0.6h1.3v1.3h-1.3zm0.8 0.1h1.3v1.3h-1.3zm2 -0.8h1.3v1.3h-1.3zm4.3 0h1.3v1.3h-1.3zm1.4 0.6h1.3v1.3h-1.3zm2.5 0h1.3v1.3h-1.3zm1.2 -0.3h1.3v1.3h-1.3zm1 0.6h1.3v1.3h-1.3zm2.2 -0.4h1.3v1.3h-1.3zm1.8 0.2h1.3v1.3h-1.3zm1 -0.3h1.3v1.3h-1.3zm0.6 0.5h1.3v1.3h-1.3zm3.4 -0.4h1.3v1.3h-1.3zm0.7 -0.5h1.3v1.3h-1.3zm3.3 0.1h1.3v1.3h-1.3zm-67.2 1.1h1.3v1.3h-1.3zm34.7 -0.2h1.3v1.3h-1.3zm2.6 0.4h1.3v1.3h-1.3zm2.5 0.1h1.3v1.3h-1.3zm9.6 0.4h1.3v1.3h-1.3zm1.9 0h1.3v1.3h-1.3zm1.2 -0.4h1.3v1.3h-1.3zm1.6 -0.1h1.3v1.3h-1.3zm0.6 0.1h1.3v1.3h-1.3zm2 -0.5h1.3v1.3h-1.3zm0.8 0.4h1.3v1.3h-1.3zm0.2 -0.1h1.3v1.3h-1.3zm0.7 0.4h1.3v1.3h-1.3zm0.3 -0.7h1.3v1.3h-1.3zm2.2 0.6h1.3v1.3h-1.3zm5 0.2h1.3v1.3h-1.3zm3.7 -0.6h1.3v1.3h-1.3zm0.1 0.4h1.3v1.3h-1.3zm1.3 0.3h1.3v1.3h-1.3zm1.1 -0.8h1.3v1.3h-1.3zm5.6 0.7h1.3v1.3h-1.3zm-53.9 0.7h1.3v1.3h-1.3zm7.5 -0.1h1.3v1.3h-1.3zm7.6 0.4h1.3v1.3h-1.3zm0.2 -0.1h1.3v1.3h-1.3zm7.5 -0.5h1.3v1.3h-1.3zm0.3 0.2h1.3v1.3h-1.3zm3.9 -0.1h1.3v1.3h-1.3zm3.1 -0.2h1.3v1.3h-1.3zm3.9 0.3h1.3v1.3h-1.3zm1.5 0h1.3v1.3h-1.3zm3 -0.1h1.3v1.3h-1.3zm-80.4 0.8h1.3v1.3h-1.3zm49.8 0.3h1.3v1.3h-1.3zm8.4 0.1h1.3v1.3h-1.3zm5.2 0.4h1.3v1.3h-1.3zm6.2 -0.1h1.3v1.3h-1.3zm0.7 -0.4h1.3v1.3h-1.3zm1.2 -0.1h1.3v1.3h-1.3zm5.4 0.1h1.3v1.3h-1.3zm0.9 -0.4h1.3v1.3h-1.3zm2.9 0.2h1.3v1.3h-1.3zm1.2 0.6h1.3v1.3h-1.3zm2 -0.4h1.3v1.3h-1.3zm-66.9 1.5h1.3v1.3h-1.3zm19.7 0h1.3v1.3h-1.3zm15 -0.3h1.3v1.3h-1.3zm4.6 -0.6h1.3v1.3h-1.3zm4.6 0.1h1.3v1.3h-1.3zm4.3 0.8h1.3v1.3h-1.3zm0.3 -0.5h1.3v1.3h-1.3zm4.3 0h1.3v1.3h-1.3zm1.7 -0.2h1.3v1.3h-1.3zm2 -0.1h1.3v1.3h-1.3zm2.4 0.6h1.3v1.3h-1.3zm0.3 -0.3h1.3v1.3h-1.3zm0.7 0.4h1.3v1.3h-1.3zm1.6 -0.5h1.3v1.3h-1.3zm0.9 0h1.3v1.3h-1.3zm3.3 0.2h1.3v1.3h-1.3zm-59.2 1h1.3v1.3h-1.3zm32.9 0.3h1.3v1.3h-1.3zm5 0.1h1.3v1.3h-1.3zm0.3 -0.5h1.3v1.3h-1.3zm0.5 0h1.3v1.3h-1.3zm0.2 0.5h1.3v1.3h-1.3zm1.1 -0.7h1.3v1.3h-1.3zm0.2 0.3h1.3v1.3h-1.3zm2.3 -0.2h1.3v1.3h-1.3zm5.4 0.4h1.3v1.3h-1.3zm2.7 -0.5h1.3v1.3h-1.3zm1.4 -0.1h1.3v1.3h-1.3zm5.9 0.4h1.3v1.3h-1.3zm2.6 0.1h1.3v1.3h-1.3zm1.5 0.2h1.3v1.3h-1.3zm-85.5 0.3h1.3v1.3h-1.3zm37 0.7h1.3v1.3h-1.3zm6 -0.4h1.3v1.3h-1.3zm15.8 0.5h1.3v1.3h-1.3zm3.5 0h1.3v1.3h-1.3zm7.2 -0.3h1.3v1.3h-1.3zm2.6 -0.2h1.3v1.3h-1.3zm8.9 -0.2h1.3v1.3h-1.3zm-86.7 1.5h1.3v1.3h-1.3zm47.7 -0.5h1.3v1.3h-1.3zm0.9 0.1h1.3v1.3h-1.3zm6.2 0.5h1.3v1.3h-1.3zm4.2 -0.2h1.3v1.3h-1.3zm3.2 -0.5h1.3v1.3h-1.3zm0.8 0.4h1.3v1.3h-1.3zm0.1 -0.3h1.3v1.3h-1.3zm1.5 0.1h1.3v1.3h-1.3zm1.3 0.2h1.3v1.3h-1.3zm1.4 -0.5h1.3v1.3h-1.3zm0.2 0.2h1.3v1.3h-1.3zm3.8 0.4h1.3v1.3h-1.3zm1.9 0.2h1.3v1.3h-1.3zm3.9 -0.5h1.3v1.3h-1.3zm1.6 -0.1h1.3v1.3h-1.3zm0.7 0.4h1.3v1.3h-1.3zm5.3 0h1.3v1.3h-1.3zm1 0.2h1.3v1.3h-1.3zm20.2 -0.1h1.3v1.3h-1.3zm-90.2 0.6h1.3v1.3h-1.3zm18.2 -0.2h1.3v1.3h-1.3zm12.3 0.4h1.3v1.3h-1.3zm13.8 -0.3h1.3v1.3h-1.3zm3.9 0.1h1.3v1.3h-1.3zm0 0.4h1.3v1.3h-1.3zm4.1 -0.3h1.3v1.3h-1.3zm0.7 0.1h1.3v1.3h-1.3zm0.9 -0.3h1.3v1.3h-1.3zm0.9 0.3h1.3v1.3h-1.3zm1.6 0h1.3v1.3h-1.3zm1.4 -0.2h1.3v1.3h-1.3zm1.6 -0.2h1.3v1.3h-1.3zm2.5 0.7h1.3v1.3h-1.3zm3.5 -0.2h1.3v1.3h-1.3zm6.7 -0.3h1.3v1.3h-1.3zm5.3 0h1.3v1.3h-1.3zm-91.9 1h1.3v1.3h-1.3zm56.6 0.3h1.3v1.3h-1.3zm7.9 -0.6h1.3v1.3h-1.3zm1.3 0.4h1.3v1.3h-1.3zm1.1 0.3h1.3v1.3h-1.3zm4.1 0.2h1.3v1.3h-1.3zm1.1 -0.4h1.3v1.3h-1.3zm0.3 -0.1h1.3v1.3h-1.3zm3.3 0.5h1.3v1.3h-1.3zm1.8 -0.8h1.3v1.3h-1.3zm0 0.7h1.3v1.3h-1.3zm3 -0.6h1.3v1.3h-1.3zm1.9 -0.2h1.3v1.3h-1.3zm-73.9 1.8h1.3v1.3h-1.3zm9.4 -0.3h1.3v1.3h-1.3zm16.7 0.1h1.3v1.3h-1.3zm2.4 -0.5h1.3v1.3h-1.3zm17.2 -0.1h1.3v1.3h-1.3zm3.4 0.5h1.3v1.3h-1.3zm3.5 -0.5h1.3v1.3h-1.3zm9.2 0.5h1.3v1.3h-1.3zm1.6 0.3h1.3v1.3h-1.3zm0 -0.2h1.3v1.3h-1.3zm0.9 0.3h1.3v1.3h-1.3zm4.7 -0.2h1.3v1.3h-1.3zm1.2 -0.5h1.3v1.3h-1.3zm1.3 0h1.3v1.3h-1.3zm1.2 -0.1h1.3v1.3h-1.3zm3.5 0.8h1.3v1.3h-1.3zm2.5 -0.5h1.3v1.3h-1.3zm0.1 0.4h1.3v1.3h-1.3zm3.6 -0.7h1.3v1.3h-1.3zm2.5 0.1h1.3v1.3h-1.3zm-51.3 1h1.3v1.3h-1.3zm13.6 0.3h1.3v1.3h-1.3zm2.2 -0.1h1.3v1.3h-1.3zm4 -0.3h1.3v1.3h-1.3zm8 0.4h1.3v1.3h-1.3zm2.3 -0.4h1.3v1.3h-1.3zm13.1 0.3h1.3v1.3h-1.3zm-87.2 1.4h1.3v1.3h-1.3zm8.6 -0.1h1.3v1.3h-1.3zm3 -0.7h1.3v1.3h-1.3zm25.1 0.9h1.3v1.3h-1.3zm6.5 -0.7h1.3v1.3h-1.3zm8 0h1.3v1.3h-1.3zm8.1 0.7h1.3v1.3h-1.3zm1 -0.3h1.3v1.3h-1.3zm1.3 -0.1h1.3v1.3h-1.3zm4.1 0.2h1.3v1.3h-1.3zm0.9 0h1.3v1.3h-1.3zm7.6 -0.1h1.3v1.3h-1.3zm2.5 0h1.3v1.3h-1.3zm10 0h1.3v1.3h-1.3zm-44.9 1.3h1.3v1.3h-1.3zm0.7 0h1.3v1.3h-1.3zm5.7 -0.7h1.3v1.3h-1.3zm10.3 0.5h1.3v1.3h-1.3zm0.3 -0.1h1.3v1.3h-1.3zm0.4 0h1.3v1.3h-1.3zm1.7 -0.4h1.3v1.3h-1.3zm6 -0.1h1.3v1.3h-1.3zm0.1 0.3h1.3v1.3h-1.3zm1.6 0.2h1.3v1.3h-1.3zm0.2 0.3h1.3v1.3h-1.3zm1 -0.8h1.3v1.3h-1.3zm3 0.8h1.3v1.3h-1.3zm3.4 -0.2h1.3v1.3h-1.3zm0.1 -0.6h1.3v1.3h-1.3zm1.7 0.3h1.3v1.3h-1.3zm0.1 -0.4h1.3v1.3h-1.3zm0.1 0.9h1.3v1.3h-1.3zm1.2 -0.8h1.3v1.3h-1.3zm-51.5 1.3h1.3v1.3h-1.3zm22.4 0.3h1.3v1.3h-1.3zm3.7 0h1.3v1.3h-1.3zm0.9 0.2h1.3v1.3h-1.3zm0.5 -0.9h1.3v1.3h-1.3zm10 0.3h1.3v1.3h-1.3zm0.6 -0.2h1.3v1.3h-1.3zm3.5 0h1.3v1.3h-1.3zm2.7 0.6h1.3v1.3h-1.3zm0.5 0.1h1.3v1.3h-1.3zm0.1 -0.4h1.3v1.3h-1.3zm1.1 0.4h1.3v1.3h-1.3zm2.4 0h1.3v1.3h-1.3zm0.4 -0.3h1.3v1.3h-1.3zm4.6 -0.4h1.3v1.3h-1.3zm14 -0.1h1.3v1.3h-1.3zm-98.6 1.5h1.3v1.3h-1.3zm12.1 -0.1h1.3v1.3h-1.3zm41.1 0.1h1.3v1.3h-1.3zm1.1 0.2h1.3v1.3h-1.3zm1.6 -0.3h1.3v1.3h-1.3zm6.6 -0.1h1.3v1.3h-1.3zm0.7 0h1.3v1.3h-1.3zm4.7 0h1.3v1.3h-1.3zm2.7 0.4h1.3v1.3h-1.3zm0.9 0.2h1.3v1.3h-1.3zm6.8 -0.3h1.3v1.3h-1.3zm4.5 0.2h1.3v1.3h-1.3zm5.9 -0.7h1.3v1.3h-1.3zm4.9 0.8h1.3v1.3h-1.3zm-39.3 0.8h1.3v1.3h-1.3zm2.5 0.2h1.3v1.3h-1.3zm2.9 -0.1h1.3v1.3h-1.3zm3.9 -0.7h1.3v1.3h-1.3zm0.8 -0.1h1.3v1.3h-1.3zm1.4 0h1.3v1.3h-1.3zm3.3 0.7h1.3v1.3h-1.3zm0.2 -0.7h1.3v1.3h-1.3zm5.2 0.5h1.3v1.3h-1.3zm2.5 0.1h1.3v1.3h-1.3zm0.9 -0.1h1.3v1.3h-1.3zm2.4 0.1h1.3v1.3h-1.3zm4.3 -0.3h1.3v1.3h-1.3zm1.1 0.3h1.3v1.3h-1.3zm-73.8 1h1.3v1.3h-1.3zm5.5 0.1h1.3v1.3h-1.3zm0.8 0.1h1.3v1.3h-1.3zm40.6 -0.6h1.3v1.3h-1.3zm4.7 0.6h1.3v1.3h-1.3zm0.9 -0.1h1.3v1.3h-1.3zm2.4 -0.6h1.3v1.3h-1.3zm2.7 0.8h1.3v1.3h-1.3zm0.1 -0.7h1.3v1.3h-1.3zm5.1 -0.2h1.3v1.3h-1.3zm0.2 0.6h1.3v1.3h-1.3zm5.9 -0.3h1.3v1.3h-1.3zm1.2 0.3h1.3v1.3h-1.3zm0.4 -0.6h1.3v1.3h-1.3zm9.5 0.6h1.3v1.3h-1.3zm2.7 0h1.3v1.3h-1.3zm0.4 -0.2h1.3v1.3h-1.3zm-89.6 0.6h1.3v1.3h-1.3zm4.4 0.4h1.3v1.3h-1.3zm51.6 -0.3h1.3v1.3h-1.3zm1.9 0.5h1.3v1.3h-1.3zm2.8 -0.3h1.3v1.3h-1.3zm2.4 0.3h1.3v1.3h-1.3zm2.2 0.3h1.3v1.3h-1.3zm3 -0.7h1.3v1.3h-1.3zm1.4 0.1h1.3v1.3h-1.3zm0.6 0h1.3v1.3h-1.3zm1.5 0h1.3v1.3h-1.3zm1.3 0.3h1.3v1.3h-1.3zm1.4 0.3h1.3v1.3h-1.3zm2.1 -0.9h1.3v1.3h-1.3zm0.8 0.6h1.3v1.3h-1.3zm1.6 0.1h1.3v1.3h-1.3zm-84.3 1.1h1.3v1.3h-1.3zm9 -0.2h1.3v1.3h-1.3zm41.5 -0.4h1.3v1.3h-1.3zm4.6 0.6h1.3v1.3h-1.3zm4.2 -0.8h1.3v1.3h-1.3zm5.3 0.8h1.3v1.3h-1.3zm1.8 -0.3h1.3v1.3h-1.3zm0.2 -0.4h1.3v1.3h-1.3zm1.9 0.5h1.3v1.3h-1.3zm1 -0.6h1.3v1.3h-1.3zm0.6 0.3h1.3v1.3h-1.3zm4.2 0.1h1.3v1.3h-1.3zm13.2 -0.4h1.3v1.3h-1.3zm5 0.7h1.3v1.3h-1.3zm3.8 -0.3h1.3v1.3h-1.3zm-108.7 1h1.3v1.3h-1.3zm10.1 -0.1h1.3v1.3h-1.3zm10.3 0.4h1.3v1.3h-1.3zm5.7 -0.1h1.3v1.3h-1.3zm3.7 -0.1h1.3v1.3h-1.3zm30 -0.1h1.3v1.3h-1.3zm10.4 -0.1h1.3v1.3h-1.3zm1.7 -0.3h1.3v1.3h-1.3zm1.9 0.1h1.3v1.3h-1.3zm5.5 0.4h1.3v1.3h-1.3zm3.9 0h1.3v1.3h-1.3zm3.2 0.1h1.3v1.3h-1.3zm3.1 0.2h1.3v1.3h-1.3zm4 0h1.3v1.3h-1.3zm-79.1 0.6h1.3v1.3h-1.3zm1 -0.4h1.3v1.3h-1.3zm1.4 0.3h1.3v1.3h-1.3zm0.7 0h1.3v1.3h-1.3zm46.1 -0.2h1.3v1.3h-1.3zm1.8 0.7h1.3v1.3h-1.3zm5.8 0h1.3v1.3h-1.3zm7 0.1h1.3v1.3h-1.3zm1.5 -0.5h1.3v1.3h-1.3zm0.1 0.5h1.3v1.3h-1.3zm1.2 -0.5h1.3v1.3h-1.3zm1.5 0h1.3v1.3h-1.3zm0.1 -0.4h1.3v1.3h-1.3zm1.8 0.4h1.3v1.3h-1.3zm4.5 0.5h1.3v1.3h-1.3zm2 -0.6h1.3v1.3h-1.3zm6.8 -0.2h1.3v1.3h-1.3zm3.1 0.8h1.3v1.3h-1.3zm1 -0.2h1.3v1.3h-1.3zm1.4 -0.7h1.3v1.3h-1.3zm2 0.2h1.3v1.3h-1.3zm-95.4 0.8h1.3v1.3h-1.3zm5.8 0.4h1.3v1.3h-1.3zm3.1 0h1.3v1.3h-1.3zm5 0.1h1.3v1.3h-1.3zm17.6 -0.5h1.3v1.3h-1.3zm13.9 0.8h1.3v1.3h-1.3zm6.8 0.1h1.3v1.3h-1.3zm4.5 -0.4h1.3v1.3h-1.3zm3.8 0.3h1.3v1.3h-1.3zm0.1 -0.5h1.3v1.3h-1.3zm4.6 0.1h1.3v1.3h-1.3zm2.9 -0.4h1.3v1.3h-1.3zm0.5 0.8h1.3v1.3h-1.3zm3.3 -0.6h1.3v1.3h-1.3zm1.5 -0.1h1.3v1.3h-1.3zm3.4 0.6h1.3v1.3h-1.3zm4.1 -0.7h1.3v1.3h-1.3zm0.3 0.4h1.3v1.3h-1.3zm2.1 -0.4h1.3v1.3h-1.3zm0.5 0.6h1.3v1.3h-1.3zm1.7 -0.5h1.3v1.3h-1.3zm7.8 0.5h1.3v1.3h-1.3zm5.8 -0.3h1.3v1.3h-1.3zm4.5 -0.1h1.3v1.3h-1.3zm-103.8 0.8h1.3v1.3h-1.3zm0.6 0.3h1.3v1.3h-1.3zm2.9 0.4h1.3v1.3h-1.3zm1.1 0.1h1.3v1.3h-1.3zm0.4 0.1h1.3v1.3h-1.3zm1.7 -0.4h1.3v1.3h-1.3zm4 0h1.3v1.3h-1.3zm1.4 0.4h1.3v1.3h-1.3zm5.5 -0.1h1.3v1.3h-1.3zm35.6 -0.3h1.3v1.3h-1.3zm3.6 -0.3h1.3v1.3h-1.3zm2.3 0.3h1.3v1.3h-1.3zm3.1 -0.4h1.3v1.3h-1.3zm4.7 0.7h1.3v1.3h-1.3zm1.2 -0.3h1.3v1.3h-1.3zm0.3 0.3h1.3v1.3h-1.3zm2.5 -0.6h1.3v1.3h-1.3zm0.6 0.3h1.3v1.3h-1.3zm0.3 0h1.3v1.3h-1.3zm0.4 -0.5h1.3v1.3h-1.3zm2.7 0.4h1.3v1.3h-1.3zm5.2 0.5h1.3v1.3h-1.3zm0.9 -0.9h1.3v1.3h-1.3zm1.9 0.9h1.3v1.3h-1.3zm-82 0.1h1.3v1.3h-1.3zm2.2 0.8h1.3v1.3h-1.3zm3.6 -0.2h1.3v1.3h-1.3zm1.4 0.3h1.3v1.3h-1.3zm0 -0.4h1.3v1.3h-1.3zm9.2 0.4h1.3v1.3h-1.3zm28.4 -0.1h1.3v1.3h-1.3zm3.5 0.1h1.3v1.3h-1.3zm1.4 -0.2h1.3v1.3h-1.3zm2.4 0.1h1.3v1.3h-1.3zm0.1 -0.3h1.3v1.3h-1.3zm0.7 0.3h1.3v1.3h-1.3zm5.6 -0.6h1.3v1.3h-1.3zm0.2 -0.1h1.3v1.3h-1.3zm2.7 0.5h1.3v1.3h-1.3zm9.6 -0.1h1.3v1.3h-1.3zm3.9 0.1h1.3v1.3h-1.3zm0.2 -0.4h1.3v1.3h-1.3zm2.8 0.2h1.3v1.3h-1.3zm2.6 0h1.3v1.3h-1.3zm1.7 0.4h1.3v1.3h-1.3zm0.5 -0.1h1.3v1.3h-1.3zm2.3 -0.7h1.3v1.3h-1.3zm15.5 0.2h1.3v1.3h-1.3zm-102.2 1.4h1.3v1.3h-1.3zm3.4 0.3h1.3v1.3h-1.3zm2.4 -0.9h1.3v1.3h-1.3zm3 0.4h1.3v1.3h-1.3zm1.9 0.2h1.3v1.3h-1.3zm1 -0.2h1.3v1.3h-1.3zm1.7 -0.3h1.3v1.3h-1.3zm0 0.3h1.3v1.3h-1.3zm3.9 0h1.3v1.3h-1.3zm20.3 0h1.3v1.3h-1.3zm12.3 0.5h1.3v1.3h-1.3zm2 -0.5h1.3v1.3h-1.3zm9.6 0.3h1.3v1.3h-1.3zm0.3 -0.5h1.3v1.3h-1.3zm0.2 0.1h1.3v1.3h-1.3zm0.8 -0.3h1.3v1.3h-1.3zm2.6 0.1h1.3v1.3h-1.3zm2.9 0h1.3v1.3h-1.3zm2.1 0.1h1.3v1.3h-1.3zm0.2 0.4h1.3v1.3h-1.3zm3.6 -0.1h1.3v1.3h-1.3zm1.4 0.1h1.3v1.3h-1.3zm1.6 0h1.3v1.3h-1.3zm2 -0.3h1.3v1.3h-1.3zm0.5 0.2h1.3v1.3h-1.3zm0.5 -0.1h1.3v1.3h-1.3zm1.1 0.5h1.3v1.3h-1.3zm2.9 -0.7h1.3v1.3h-1.3zm4.4 0.3h1.3v1.3h-1.3zm2 -0.5h1.3v1.3h-1.3zm2.5 0.5h1.3v1.3h-1.3zm-93.3 1h1.3v1.3h-1.3zm1.1 0.2h1.3v1.3h-1.3zm0.6 -0.5h1.3v1.3h-1.3zm5.4 0.4h1.3v1.3h-1.3zm6.1 0.3h1.3v1.3h-1.3zm36.5 -0.5h1.3v1.3h-1.3zm7.9 -0.2h1.3v1.3h-1.3zm0.3 0h1.3v1.3h-1.3zm9.9 0.4h1.3v1.3h-1.3zm0.2 -0.4h1.3v1.3h-1.3zm0.7 0.5h1.3v1.3h-1.3zm1.3 -0.2h1.3v1.3h-1.3zm0.2 -0.4h1.3v1.3h-1.3zm1.7 0.1h1.3v1.3h-1.3zm3.9 -0.1h1.3v1.3h-1.3zm0.9 0h1.3v1.3h-1.3zm8.6 0.3h1.3v1.3h-1.3zm1.1 0.2h1.3v1.3h-1.3zm0.7 -0.3h1.3v1.3h-1.3zm3.7 0.2h1.3v1.3h-1.3zm9.9 -0.1h1.3v1.3h-1.3zm-105.1 1h1.3v1.3h-1.3zm1.3 0.4h1.3v1.3h-1.3zm10.3 -0.5h1.3v1.3h-1.3zm2 0.5h1.3v1.3h-1.3zm0.9 -0.8h1.3v1.3h-1.3zm1.6 0.4h1.3v1.3h-1.3zm21.5 0h1.3v1.3h-1.3zm16.8 0h1.3v1.3h-1.3zm1.8 0.1h1.3v1.3h-1.3zm5 0h1.3v1.3h-1.3zm1.1 0.4h1.3v1.3h-1.3zm0.8 -0.8h1.3v1.3h-1.3zm7.7 0.1h1.3v1.3h-1.3zm1.7 0.3h1.3v1.3h-1.3zm2.7 0.2h1.3v1.3h-1.3zm1.2 0h1.3v1.3h-1.3zm3.4 -0.7h1.3v1.3h-1.3zm18.4 0.4h1.3v1.3h-1.3zm-97.2 1.4h1.3v1.3h-1.3zm0.3 0h1.3v1.3h-1.3zm2.2 0h1.3v1.3h-1.3zm0.7 -0.5h1.3v1.3h-1.3zm2.6 0.5h1.3v1.3h-1.3zm0.9 -0.4h1.3v1.3h-1.3zm5 -0.3h1.3v1.3h-1.3zm0.2 0.7h1.3v1.3h-1.3zm5.7 0h1.3v1.3h-1.3zm1.8 0h1.3v1.3h-1.3zm9.5 -0.3h1.3v1.3h-1.3zm34.7 -0.1h1.3v1.3h-1.3zm0.6 -0.4h1.3v1.3h-1.3zm3.1 0.5h1.3v1.3h-1.3zm0.7 -0.2h1.3v1.3h-1.3zm1.5 0.6h1.3v1.3h-1.3zm3.2 -0.7h1.3v1.3h-1.3zm2 0.4h1.3v1.3h-1.3zm0.7 -0.2h1.3v1.3h-1.3zm2.2 0.4h1.3v1.3h-1.3zm0.8 -0.8h1.3v1.3h-1.3zm0.6 0h1.3v1.3h-1.3zm0.8 0.5h1.3v1.3h-1.3zm2.2 0.2h1.3v1.3h-1.3zm5.4 -0.6h1.3v1.3h-1.3zm-87.6 1.5h1.3v1.3h-1.3zm8.7 0.2h1.3v1.3h-1.3zm0.9 -0.4h1.3v1.3h-1.3zm3.3 0.3h1.3v1.3h-1.3zm0.4 0.2h1.3v1.3h-1.3zm2 -0.5h1.3v1.3h-1.3zm0.7 -0.3h1.3v1.3h-1.3zm1 0h1.3v1.3h-1.3zm2.7 0.4h1.3v1.3h-1.3zm33.9 0.4h1.3v1.3h-1.3zm1.2 -0.1h1.3v1.3h-1.3zm3.2 -0.8h1.3v1.3h-1.3zm5.4 0h1.3v1.3h-1.3zm2.2 0.5h1.3v1.3h-1.3zm1.6 0.4h1.3v1.3h-1.3zm1.1 -0.7h1.3v1.3h-1.3zm5.5 0.1h1.3v1.3h-1.3zm2.2 0.1h1.3v1.3h-1.3zm3.6 -0.3h1.3v1.3h-1.3zm25.7 0.4h1.3v1.3h-1.3zm0 -0.5h1.3v1.3h-1.3zm-113.4 1.6h1.3v1.3h-1.3zm7.6 0.3h1.3v1.3h-1.3zm0.3 -0.3h1.3v1.3h-1.3zm2.2 -0.3h1.3v1.3h-1.3zm0.6 0.3h1.3v1.3h-1.3zm0.9 -0.4h1.3v1.3h-1.3zm0.4 0.5h1.3v1.3h-1.3zm2.4 -0.5h1.3v1.3h-1.3zm3.2 0.2h1.3v1.3h-1.3zm0.7 0h1.3v1.3h-1.3zm1.2 0.3h1.3v1.3h-1.3zm0.7 -0.2h1.3v1.3h-1.3zm0.2 0.2h1.3v1.3h-1.3zm0.1 -0.7h1.3v1.3h-1.3zm0.1 0.5h1.3v1.3h-1.3zm3.1 0.3h1.3v1.3h-1.3zm3.3 0h1.3v1.3h-1.3zm1.8 0.1h1.3v1.3h-1.3zm11.6 -0.8h1.3v1.3h-1.3zm8.4 -0.1h1.3v1.3h-1.3zm0.7 0.2h1.3v1.3h-1.3zm4.2 -0.1h1.3v1.3h-1.3zm11.2 0.6h1.3v1.3h-1.3zm5.3 -0.2h1.3v1.3h-1.3zm3.2 -0.2h1.3v1.3h-1.3zm7 0.4h1.3v1.3h-1.3zm0.2 -0.6h1.3v1.3h-1.3zm1.2 -0.1h1.3v1.3h-1.3zm0.6 0.1h1.3v1.3h-1.3zm1.6 0.5h1.3v1.3h-1.3zm0.1 0.3h1.3v1.3h-1.3zm0.7 -0.7h1.3v1.3h-1.3zm5.1 0.4h1.3v1.3h-1.3zm1.7 -0.6h1.3v1.3h-1.3zm1.3 0.5h1.3v1.3h-1.3zm-84.3 1.3h1.3v1.3h-1.3zm0.5 0h1.3v1.3h-1.3zm2.5 -0.5h1.3v1.3h-1.3zm2.6 0.3h1.3v1.3h-1.3zm1.7 -0.2h1.3v1.3h-1.3zm0.5 0h1.3v1.3h-1.3zm2.5 -0.3h1.3v1.3h-1.3zm3.7 -0.1h1.3v1.3h-1.3zm0.2 0.8h1.3v1.3h-1.3zm1.5 -0.4h1.3v1.3h-1.3zm12.8 0h1.3v1.3h-1.3zm15.7 -0.3h1.3v1.3h-1.3zm13.5 0.1h1.3v1.3h-1.3zm1.5 0h1.3v1.3h-1.3zm1.9 0.5h1.3v1.3h-1.3zm1.2 -0.1h1.3v1.3h-1.3zm0.3 0.2h1.3v1.3h-1.3zm2.5 -0.1h1.3v1.3h-1.3zm1.9 0h1.3v1.3h-1.3zm3 -0.5h1.3v1.3h-1.3zm0.7 0.1h1.3v1.3h-1.3zm6.4 0.1h1.3v1.3h-1.3zm2.4 -0.2h1.3v1.3h-1.3zm2.1 0.7h1.3v1.3h-1.3zm6 -0.2h1.3v1.3h-1.3zm9.1 0.2h1.3v1.3h-1.3zm-97 0.6h1.3v1.3h-1.3zm3.2 -0.1h1.3v1.3h-1.3zm0.9 -0.3h1.3v1.3h-1.3zm2.7 0.4h1.3v1.3h-1.3zm0.1 -0.3h1.3v1.3h-1.3zm1 0h1.3v1.3h-1.3zm0.9 0.4h1.3v1.3h-1.3zm1 0.1h1.3v1.3h-1.3zm4.4 -0.1h1.3v1.3h-1.3zm5 -0.6h1.3v1.3h-1.3zm0.2 0.7h1.3v1.3h-1.3zm2.8 0h1.3v1.3h-1.3zm3.5 -0.1h1.3v1.3h-1.3zm10.4 -0.1h1.3v1.3h-1.3zm22.3 0.4h1.3v1.3h-1.3zm2.6 -0.2h1.3v1.3h-1.3zm6.9 0.2h1.3v1.3h-1.3zm2.9 -0.1h1.3v1.3h-1.3zm6 -0.8h1.3v1.3h-1.3zm1.3 0.7h1.3v1.3h-1.3zm3.9 0.2h1.3v1.3h-1.3zm5.3 -0.1h1.3v1.3h-1.3zm10.6 -0.1h1.3v1.3h-1.3zm-109.9 1.1h1.3v1.3h-1.3zm6.6 -0.3h1.3v1.3h-1.3zm4.3 -0.4h1.3v1.3h-1.3zm1.4 0.1h1.3v1.3h-1.3zm3.8 0h1.3v1.3h-1.3zm2 0.1h1.3v1.3h-1.3zm1.4 0.3h1.3v1.3h-1.3zm1.4 -0.4h1.3v1.3h-1.3zm2 0.1h1.3v1.3h-1.3zm0.1 0.4h1.3v1.3h-1.3zm0.8 -0.4h1.3v1.3h-1.3zm0.6 0.1h1.3v1.3h-1.3zm1.8 -0.4h1.3v1.3h-1.3zm0 0.3h1.3v1.3h-1.3zm0.7 -0.1h1.3v1.3h-1.3zm1.3 0.1h1.3v1.3h-1.3zm2.3 0.3h1.3v1.3h-1.3zm6.9 -0.1h1.3v1.3h-1.3zm18.1 0.3h1.3v1.3h-1.3zm4.7 -0.3h1.3v1.3h-1.3zm4.3 -0.2h1.3v1.3h-1.3zm10.1 -0.3h1.3v1.3h-1.3zm1.8 0.5h1.3v1.3h-1.3zm2.4 -0.2h1.3v1.3h-1.3zm2.8 -0.1h1.3v1.3h-1.3zm5.2 -0.2h1.3v1.3h-1.3zm2.5 0.8h1.3v1.3h-1.3zm0.4 -0.4h1.3v1.3h-1.3zm3.6 0.5h1.3v1.3h-1.3zm5.3 -0.3h1.3v1.3h-1.3zm5 -0.2h1.3v1.3h-1.3zm0.9 0.3h1.3v1.3h-1.3zm15.7 -0.2h1.3v1.3h-1.3zm-122.4 1.2h1.3v1.3h-1.3zm3.8 -0.2h1.3v1.3h-1.3zm1.9 0.4h1.3v1.3h-1.3zm0.9 -0.1h1.3v1.3h-1.3zm0.7 -0.2h1.3v1.3h-1.3zm1.2 -0.2h1.3v1.3h-1.3zm2.3 0.2h1.3v1.3h-1.3zm1.4 -0.6h1.3v1.3h-1.3zm3.8 0.5h1.3v1.3h-1.3zm3.4 -0.3h1.3v1.3h-1.3zm1.9 -0.1h1.3v1.3h-1.3zm0.6 0.6h1.3v1.3h-1.3zm1.9 -0.6h1.3v1.3h-1.3zm2 0.8h1.3v1.3h-1.3zm0.5 -0.2h1.3v1.3h-1.3zm0.5 -0.2h1.3v1.3h-1.3zm1.7 -0.5h1.3v1.3h-1.3zm2.9 0.6h1.3v1.3h-1.3zm0.7 -0.1h1.3v1.3h-1.3zm0.4 -0.5h1.3v1.3h-1.3zm36.1 0.1h1.3v1.3h-1.3zm2.2 -0.1h1.3v1.3h-1.3zm0.6 0.8h1.3v1.3h-1.3zm1.5 -0.8h1.3v1.3h-1.3zm0.4 0.2h1.3v1.3h-1.3zm1.1 0h1.3v1.3h-1.3zm2.3 0.2h1.3v1.3h-1.3zm2.9 -0.2h1.3v1.3h-1.3zm4.2 0.2h1.3v1.3h-1.3zm1.3 0.5h1.3v1.3h-1.3zm3.7 -0.5h1.3v1.3h-1.3zm0.3 -0.3h1.3v1.3h-1.3zm4.4 0h1.3v1.3h-1.3zm0.3 0.6h1.3v1.3h-1.3zm0.4 -0.7h1.3v1.3h-1.3zm1.9 0.1h1.3v1.3h-1.3zm7.8 0.1h1.3v1.3h-1.3zm4.3 0.3h1.3v1.3h-1.3zm-110.1 1.3h1.3v1.3h-1.3zm2.9 -0.8h1.3v1.3h-1.3zm3.1 0.5h1.3v1.3h-1.3zm0.1 0.4h1.3v1.3h-1.3zm1.8 -0.7h1.3v1.3h-1.3zm0.5 0.5h1.3v1.3h-1.3zm1.5 -0.7h1.3v1.3h-1.3zm2.2 0.9h1.3v1.3h-1.3zm0.6 -0.1h1.3v1.3h-1.3zm2.4 0.1h1.3v1.3h-1.3zm0.7 0h1.3v1.3h-1.3zm1.6 -0.4h1.3v1.3h-1.3zm1.4 0h1.3v1.3h-1.3zm0.3 -0.4h1.3v1.3h-1.3zm0.9 0.1h1.3v1.3h-1.3zm2.3 0.4h1.3v1.3h-1.3zm0.5 -0.3h1.3v1.3h-1.3zm2.7 0.4h1.3v1.3h-1.3zm1.6 -0.2h1.3v1.3h-1.3zm0.4 -0.5h1.3v1.3h-1.3zm0.4 0.9h1.3v1.3h-1.3zm2.3 -0.4h1.3v1.3h-1.3zm0.5 0.1h1.3v1.3h-1.3zm3 -0.1h1.3v1.3h-1.3zm1 0.3h1.3v1.3h-1.3zm0.9 -0.5h1.3v1.3h-1.3zm2.3 0.5h1.3v1.3h-1.3zm37 -0.3h1.3v1.3h-1.3zm7.2 -0.1h1.3v1.3h-1.3zm0.6 0.5h1.3v1.3h-1.3zm0.1 -0.9h1.3v1.3h-1.3zm1.1 0.8h1.3v1.3h-1.3zm2.4 -0.7h1.3v1.3h-1.3zm3.5 0.5h1.3v1.3h-1.3zm0.6 0.3h1.3v1.3h-1.3zm4.3 -0.6h1.3v1.3h-1.3zm1.9 0.6h1.3v1.3h-1.3zm-92.4 0.6h1.3v1.3h-1.3zm0.9 0.3h1.3v1.3h-1.3zm0.3 -0.2h1.3v1.3h-1.3zm2 -0.5h1.3v1.3h-1.3zm0.5 -0.1h1.3v1.3h-1.3zm1.3 0.2h1.3v1.3h-1.3zm2.1 0.4h1.3v1.3h-1.3zm1.4 -0.2h1.3v1.3h-1.3zm2.2 0.4h1.3v1.3h-1.3zm0.6 -0.2h1.3v1.3h-1.3zm2.2 0.3h1.3v1.3h-1.3zm0.4 0h1.3v1.3h-1.3zm0.1 -0.6h1.3v1.3h-1.3zm0.9 0.6h1.3v1.3h-1.3zm0.2 -0.2h1.3v1.3h-1.3zm1.4 -0.6h1.3v1.3h-1.3zm0.9 0.5h1.3v1.3h-1.3zm1.9 -0.5h1.3v1.3h-1.3zm0.2 0.4h1.3v1.3h-1.3zm1.5 0.1h1.3v1.3h-1.3zm3.7 0.1h1.3v1.3h-1.3zm0.7 -0.3h1.3v1.3h-1.3zm0.7 0.1h1.3v1.3h-1.3zm0.6 0.4h1.3v1.3h-1.3zm1.1 -0.5h1.3v1.3h-1.3zm1.9 0h1.3v1.3h-1.3zm1.4 0.5h1.3v1.3h-1.3zm3.2 -0.7h1.3v1.3h-1.3zm2.1 0.2h1.3v1.3h-1.3zm20.2 0.2h1.3v1.3h-1.3zm10.9 -0.1h1.3v1.3h-1.3zm1.3 -0.4h1.3v1.3h-1.3zm1.2 0h1.3v1.3h-1.3zm1.1 0.8h1.3v1.3h-1.3zm4.1 -0.3h1.3v1.3h-1.3zm1.2 -0.4h1.3v1.3h-1.3zm7.6 -0.1h1.3v1.3h-1.3zm3.3 0.2h1.3v1.3h-1.3zm1 0.4h1.3v1.3h-1.3zm10.8 -0.6h1.3v1.3h-1.3zm3.6 0.2h1.3v1.3h-1.3zm1.7 0.1h1.3v1.3h-1.3zm-108.6 1.2h1.3v1.3h-1.3zm0.5 0h1.3v1.3h-1.3zm0.2 -0.1h1.3v1.3h-1.3zm0.3 -0.3h1.3v1.3h-1.3zm1.8 0.2h1.3v1.3h-1.3zm1.2 -0.3h1.3v1.3h-1.3zm1.9 0.1h1.3v1.3h-1.3zm2.2 -0.1h1.3v1.3h-1.3zm1 0h1.3v1.3h-1.3zm7.8 -0.1h1.3v1.3h-1.3zm3.2 0.3h1.3v1.3h-1.3zm2 -0.3h1.3v1.3h-1.3zm0.1 0.9h1.3v1.3h-1.3zm0.9 -0.7h1.3v1.3h-1.3zm1.1 -0.1h1.3v1.3h-1.3zm0.9 0.1h1.3v1.3h-1.3zm0.2 0.4h1.3v1.3h-1.3zm2.5 0.2h1.3v1.3h-1.3zm0.2 -0.8h1.3v1.3h-1.3zm0.3 0h1.3v1.3h-1.3zm1.4 0.6h1.3v1.3h-1.3zm0.9 0.1h1.3v1.3h-1.3zm1.1 0h1.3v1.3h-1.3zm0.8 -0.4h1.3v1.3h-1.3zm0.2 -0.1h1.3v1.3h-1.3zm1.2 0.4h1.3v1.3h-1.3zm1.3 -0.2h1.3v1.3h-1.3zm1.7 0.1h1.3v1.3h-1.3zm2.5 0.2h1.3v1.3h-1.3zm1.2 -0.3h1.3v1.3h-1.3zm0.2 -0.1h1.3v1.3h-1.3zm24.5 -0.1h1.3v1.3h-1.3zm5.4 0h1.3v1.3h-1.3zm6.1 0.2h1.3v1.3h-1.3zm0 0.5h1.3v1.3h-1.3zm3.1 -0.5h1.3v1.3h-1.3zm2 -0.1h1.3v1.3h-1.3zm6.3 -0.2h1.3v1.3h-1.3zm0.8 0.5h1.3v1.3h-1.3zm2 -0.2h1.3v1.3h-1.3zm2.9 -0.1h1.3v1.3h-1.3zm5 0.5h1.3v1.3h-1.3zm8.5 -0.7h1.3v1.3h-1.3zm5.1 0.1h1.3v1.3h-1.3zm-113.4 1.3h1.3v1.3h-1.3zm0.7 -0.2h1.3v1.3h-1.3zm0.6 0.4h1.3v1.3h-1.3zm0.6 -0.2h1.3v1.3h-1.3zm0.7 -0.4h1.3v1.3h-1.3zm22.6 -0.1h1.3v1.3h-1.3zm0.7 0h1.3v1.3h-1.3zm0.9 0h1.3v1.3h-1.3zm1.7 0.9h1.3v1.3h-1.3zm0.9 -0.6h1.3v1.3h-1.3zm0.2 0.6h1.3v1.3h-1.3zm1.2 -0.5h1.3v1.3h-1.3zm0.3 -0.1h1.3v1.3h-1.3zm1.4 0h1.3v1.3h-1.3zm2 -0.2h1.3v1.3h-1.3zm1.1 0.1h1.3v1.3h-1.3zm17 -0.2h1.3v1.3h-1.3zm4.5 0.4h1.3v1.3h-1.3zm6 -0.2h1.3v1.3h-1.3zm2.1 0.1h1.3v1.3h-1.3zm0.4 0.4h1.3v1.3h-1.3zm0.9 -0.5h1.3v1.3h-1.3zm1 0.3h1.3v1.3h-1.3zm4.8 -0.3h1.3v1.3h-1.3zm1.7 0.7h1.3v1.3h-1.3zm4.8 -0.7h1.3v1.3h-1.3zm8.8 0.2h1.3v1.3h-1.3zm0.9 0h1.3v1.3h-1.3zm1.8 -0.1h1.3v1.3h-1.3zm0 -0.3h1.3v1.3h-1.3zm5.2 0.1h1.3v1.3h-1.3zm1.9 0.2h1.3v1.3h-1.3zm2.3 0h1.3v1.3h-1.3zm0.4 0.3h1.3v1.3h-1.3zm4 0.3h1.3v1.3h-1.3zm-108.6 0.7h1.3v1.3h-1.3zm3.5 0.3h1.3v1.3h-1.3zm1.5 -0.4h1.3v1.3h-1.3zm26.4 0h1.3v1.3h-1.3zm0.9 0h1.3v1.3h-1.3zm1.3 0.1h1.3v1.3h-1.3zm2.7 -0.4h1.3v1.3h-1.3zm2.3 0.4h1.3v1.3h-1.3zm0.9 -0.3h1.3v1.3h-1.3zm3.4 -0.3h1.3v1.3h-1.3zm0.6 0.2h1.3v1.3h-1.3zm1.1 0.2h1.3v1.3h-1.3zm4.1 0.2h1.3v1.3h-1.3zm13.3 0.2h1.3v1.3h-1.3zm1.1 -0.5h1.3v1.3h-1.3zm6.6 0.3h1.3v1.3h-1.3zm2.1 -0.1h1.3v1.3h-1.3zm8.7 -0.1h1.3v1.3h-1.3zm0.4 0.4h1.3v1.3h-1.3zm2.9 0.1h1.3v1.3h-1.3zm4.1 -0.6h1.3v1.3h-1.3zm0.4 -0.2h1.3v1.3h-1.3zm2.2 0.7h1.3v1.3h-1.3zm3 -0.4h1.3v1.3h-1.3zm1.2 0.4h1.3v1.3h-1.3zm2.5 -0.1h1.3v1.3h-1.3zm5 -0.5h1.3v1.3h-1.3zm3.1 0h1.3v1.3h-1.3zm-73.3 1.1h1.3v1.3h-1.3zm0.3 0.4h1.3v1.3h-1.3zm0.8 0.2h1.3v1.3h-1.3zm0.3 -0.7h1.3v1.3h-1.3zm3.9 0.6h1.3v1.3h-1.3zm0.4 -0.5h1.3v1.3h-1.3zm0.7 0.4h1.3v1.3h-1.3zm3 0.2h1.3v1.3h-1.3zm5.2 0h1.3v1.3h-1.3zm0.6 -0.3h1.3v1.3h-1.3zm6.2 -0.1h1.3v1.3h-1.3zm4.4 -0.2h1.3v1.3h-1.3zm16 0.1h1.3v1.3h-1.3zm2.3 0.2h1.3v1.3h-1.3zm1 -0.2h1.3v1.3h-1.3zm5.1 0.3h1.3v1.3h-1.3zm0.7 -0.2h1.3v1.3h-1.3zm5.9 -0.2h1.3v1.3h-1.3zm0.4 0h1.3v1.3h-1.3zm1.3 -0.2h1.3v1.3h-1.3zm2.4 0.2h1.3v1.3h-1.3zm1.1 0.1h1.3v1.3h-1.3zm-97.4 0.8h1.3v1.3h-1.3zm1.7 0.4h1.3v1.3h-1.3zm0.9 0.1h1.3v1.3h-1.3zm34 -0.5h1.3v1.3h-1.3zm1.3 0.6h1.3v1.3h-1.3zm3.4 -0.7h1.3v1.3h-1.3zm2.5 0.4h1.3v1.3h-1.3zm0 -0.5h1.3v1.3h-1.3zm5.4 0.3h1.3v1.3h-1.3zm3.1 -0.1h1.3v1.3h-1.3zm9.3 0.7h1.3v1.3h-1.3zm3.2 -0.2h1.3v1.3h-1.3zm4.2 0h1.3v1.3h-1.3zm13 -0.7h1.3v1.3h-1.3zm8.7 0.9h1.3v1.3h-1.3zm2.3 0h1.3v1.3h-1.3zm2.7 -0.1h1.3v1.3h-1.3zm9.5 -0.5h1.3v1.3h-1.3zm8.5 0.3h1.3v1.3h-1.3zm-113.6 1.3h1.3v1.3h-1.3zm4.7 -0.9h1.3v1.3h-1.3zm33.5 0.3h1.3v1.3h-1.3zm1.2 0.2h1.3v1.3h-1.3zm3.7 -0.4h1.3v1.3h-1.3zm0 0.8h1.3v1.3h-1.3zm0.4 -0.4h1.3v1.3h-1.3zm7 -0.3h1.3v1.3h-1.3zm2.9 0.4h1.3v1.3h-1.3zm11.6 0.1h1.3v1.3h-1.3zm10.6 0.2h1.3v1.3h-1.3zm0.7 -0.8h1.3v1.3h-1.3zm3.9 0.8h1.3v1.3h-1.3zm1.5 -0.5h1.3v1.3h-1.3zm4.7 -0.3h1.3v1.3h-1.3zm1.8 0.8h1.3v1.3h-1.3zm1.9 -0.2h1.3v1.3h-1.3zm1.2 -0.2h1.3v1.3h-1.3zm1.5 -0.3h1.3v1.3h-1.3zm1.6 0h1.3v1.3h-1.3zm2.2 0.6h1.3v1.3h-1.3zm1.2 -0.8h1.3v1.3h-1.3zm23.5 0.8h1.3v1.3h-1.3zm-129.4 0.8h1.3v1.3h-1.3zm6.9 0.3h1.3v1.3h-1.3zm39.9 -0.1h1.3v1.3h-1.3zm7.2 0h1.3v1.3h-1.3zm0 -0.5h1.3v1.3h-1.3zm3.8 -0.1h1.3v1.3h-1.3zm1 0h1.3v1.3h-1.3zm0.3 0.2h1.3v1.3h-1.3zm8.7 0.5h1.3v1.3h-1.3zm2 -0.2h1.3v1.3h-1.3zm3.4 0.1h1.3v1.3h-1.3zm3.3 0.1h1.3v1.3h-1.3zm4.3 -0.5h1.3v1.3h-1.3zm2.2 -0.1h1.3v1.3h-1.3zm0.6 0.3h1.3v1.3h-1.3zm3 0.2h1.3v1.3h-1.3zm1.6 -0.5h1.3v1.3h-1.3zm0.9 0.3h1.3v1.3h-1.3zm3.3 -0.2h1.3v1.3h-1.3zm1.9 0.4h1.3v1.3h-1.3zm0 -0.5h1.3v1.3h-1.3zm0.1 -0.1h1.3v1.3h-1.3zm2.4 0.4h1.3v1.3h-1.3zm1.6 -0.5h1.3v1.3h-1.3zm0.1 0.5h1.3v1.3h-1.3zm0.3 0.3h1.3v1.3h-1.3zm0.1 -0.2h1.3v1.3h-1.3zm0.3 -0.1h1.3v1.3h-1.3zm2.7 -0.2h1.3v1.3h-1.3zm0.3 -0.4h1.3v1.3h-1.3zm1.8 0.9h1.3v1.3h-1.3zm2.3 -0.3h1.3v1.3h-1.3zm3.9 0.3h1.3v1.3h-1.3zm3.4 -0.2h1.3v1.3h-1.3zm4 -0.7h1.3v1.3h-1.3zm-108.2 1h1.3v1.3h-1.3zm37 0.6h1.3v1.3h-1.3zm3.6 -0.6h1.3v1.3h-1.3zm0.3 0.6h1.3v1.3h-1.3zm5.7 -0.2h1.3v1.3h-1.3zm0.9 0.1h1.3v1.3h-1.3zm7 0h1.3v1.3h-1.3zm11.6 0.3h1.3v1.3h-1.3zm3.8 0h1.3v1.3h-1.3zm2 -0.3h1.3v1.3h-1.3zm0.6 -0.1h1.3v1.3h-1.3zm2.3 0h1.3v1.3h-1.3zm6.4 0.5h1.3v1.3h-1.3zm0.8 -0.6h1.3v1.3h-1.3zm0.5 0.6h1.3v1.3h-1.3zm0.1 -0.8h1.3v1.3h-1.3zm2.1 0.3h1.3v1.3h-1.3zm1.1 0.5h1.3v1.3h-1.3zm0.2 0h1.3v1.3h-1.3zm1.7 -0.8h1.3v1.3h-1.3zm0.6 0.1h1.3v1.3h-1.3zm1.5 0.1h1.3v1.3h-1.3zm0.7 -0.2h1.3v1.3h-1.3zm5 0h1.3v1.3h-1.3zm0.4 0.2h1.3v1.3h-1.3zm0.1 -0.2h1.3v1.3h-1.3zm2.3 0.5h1.3v1.3h-1.3zm4.8 -0.6h1.3v1.3h-1.3zm-105.4 1.3h1.3v1.3h-1.3zm0.3 0.6h1.3v1.3h-1.3zm1.3 -0.6h1.3v1.3h-1.3zm0.9 0.2h1.3v1.3h-1.3zm37.2 0h1.3v1.3h-1.3zm4.7 0.1h1.3v1.3h-1.3zm1.6 0.3h1.3v1.3h-1.3zm0.9 -0.5h1.3v1.3h-1.3zm1.8 0h1.3v1.3h-1.3zm0.2 0.2h1.3v1.3h-1.3zm0.6 -0.3h1.3v1.3h-1.3zm3 -0.1h1.3v1.3h-1.3zm3.1 0.1h1.3v1.3h-1.3zm20.8 0.4h1.3v1.3h-1.3zm6.4 -0.1h1.3v1.3h-1.3zm2.5 0.3h1.3v1.3h-1.3zm3.8 -0.7h1.3v1.3h-1.3zm5 0.5h1.3v1.3h-1.3zm2 0h1.3v1.3h-1.3zm2 -0.7h1.3v1.3h-1.3zm2.8 0.6h1.3v1.3h-1.3zm1.2 0.1h1.3v1.3h-1.3zm0.9 0.1h1.3v1.3h-1.3zm1.3 -0.4h1.3v1.3h-1.3zm-106.6 1.4h1.3v1.3h-1.3zm42.4 -0.8h1.3v1.3h-1.3zm0.9 0.7h1.3v1.3h-1.3zm0.7 -0.3h1.3v1.3h-1.3zm1.3 0.4h1.3v1.3h-1.3zm0.6 -0.7h1.3v1.3h-1.3zm0.9 -0.1h1.3v1.3h-1.3zm0.8 0.3h1.3v1.3h-1.3zm2.7 -0.2h1.3v1.3h-1.3zm3.8 0.5h1.3v1.3h-1.3zm2.6 0.1h1.3v1.3h-1.3zm4.5 -0.1h1.3v1.3h-1.3zm0.6 -0.5h1.3v1.3h-1.3zm8.8 0.2h1.3v1.3h-1.3zm4.3 -0.2h1.3v1.3h-1.3zm0.4 0.5h1.3v1.3h-1.3zm10 0.3h1.3v1.3h-1.3zm7.3 -0.6h1.3v1.3h-1.3zm7.9 0.2h1.3v1.3h-1.3zm1.2 0.1h1.3v1.3h-1.3zm4.3 0.1h1.3v1.3h-1.3zm10.9 -0.1h1.3v1.3h-1.3zm-117.6 0.9h1.3v1.3h-1.3zm1.4 -0.2h1.3v1.3h-1.3zm0.9 0.2h1.3v1.3h-1.3zm0.1 0.1h1.3v1.3h-1.3zm0.4 0.1h1.3v1.3h-1.3zm0.1 -0.6h1.3v1.3h-1.3zm0.5 0.1h1.3v1.3h-1.3zm43.3 -0.2h1.3v1.3h-1.3zm3.5 0h1.3v1.3h-1.3zm4 0.7h1.3v1.3h-1.3zm0.2 -0.2h1.3v1.3h-1.3zm1.7 0.2h1.3v1.3h-1.3zm1.2 -0.4h1.3v1.3h-1.3zm1.3 0.5h1.3v1.3h-1.3zm7.1 0.1h1.3v1.3h-1.3zm2.5 -0.2h1.3v1.3h-1.3zm8.6 -0.6h1.3v1.3h-1.3zm1.8 0.1h1.3v1.3h-1.3zm11.7 0h1.3v1.3h-1.3zm2.5 0.1h1.3v1.3h-1.3zm1.4 -0.1h1.3v1.3h-1.3zm1.4 0h1.3v1.3h-1.3zm1 0.2h1.3v1.3h-1.3zm1 0.3h1.3v1.3h-1.3zm5.4 -0.1h1.3v1.3h-1.3zm-101.1 1.2h1.3v1.3h-1.3zm42.2 -0.3h1.3v1.3h-1.3zm1.5 -0.5h1.3v1.3h-1.3zm2.1 0.4h1.3v1.3h-1.3zm1.7 0.3h1.3v1.3h-1.3zm0.2 -0.1h1.3v1.3h-1.3zm0.7 -0.1h1.3v1.3h-1.3zm2.4 0.4h1.3v1.3h-1.3zm0.8 -0.5h1.3v1.3h-1.3zm1.9 -0.4h1.3v1.3h-1.3zm8.2 0.4h1.3v1.3h-1.3zm2.3 -0.4h1.3v1.3h-1.3zm17.1 0.2h1.3v1.3h-1.3zm4.5 0.6h1.3v1.3h-1.3zm0 -0.3h1.3v1.3h-1.3zm1.9 -0.4h1.3v1.3h-1.3zm0.8 0.3h1.3v1.3h-1.3zm0.5 0.1h1.3v1.3h-1.3zm2 0.3h1.3v1.3h-1.3zm5.6 -0.7h1.3v1.3h-1.3zm3.4 0.6h1.3v1.3h-1.3zm0.9 0.1h1.3v1.3h-1.3zm5.7 -0.7h1.3v1.3h-1.3zm0.9 0.7h1.3v1.3h-1.3zm31.8 -0.3h1.3v1.3h-1.3zm-142.3 0.6h1.3v1.3h-1.3zm0.2 -0.1h1.3v1.3h-1.3zm3.2 0.3h1.3v1.3h-1.3zm41.6 0h1.3v1.3h-1.3zm0.2 0.5h1.3v1.3h-1.3zm0.9 -0.8h1.3v1.3h-1.3zm0.5 0.9h1.3v1.3h-1.3zm0.1 -0.6h1.3v1.3h-1.3zm2.2 -0.2h1.3v1.3h-1.3zm0.3 0h1.3v1.3h-1.3zm1.3 0.2h1.3v1.3h-1.3zm0.7 -0.2h1.3v1.3h-1.3zm1.3 0.4h1.3v1.3h-1.3zm0.3 0.2h1.3v1.3h-1.3zm1 -0.5h1.3v1.3h-1.3zm2.1 0.5h1.3v1.3h-1.3zm1.2 -0.3h1.3v1.3h-1.3zm4.7 0.3h1.3v1.3h-1.3zm3.3 -0.6h1.3v1.3h-1.3zm7.5 0.4h1.3v1.3h-1.3zm2.6 0.2h1.3v1.3h-1.3zm1.4 -0.4h1.3v1.3h-1.3zm3.6 0h1.3v1.3h-1.3zm5.4 0.1h1.3v1.3h-1.3zm1.7 0.3h1.3v1.3h-1.3zm1.2 -0.3h1.3v1.3h-1.3zm1 0.1h1.3v1.3h-1.3zm1.1 -0.5h1.3v1.3h-1.3zm0.3 0.8h1.3v1.3h-1.3zm3 0h1.3v1.3h-1.3zm1.1 -0.4h1.3v1.3h-1.3zm1.1 -0.3h1.3v1.3h-1.3zm3.5 0.1h1.3v1.3h-1.3zm0.4 -0.2h1.3v1.3h-1.3zm0.3 0.3h1.3v1.3h-1.3zm3.3 -0.1h1.3v1.3h-1.3zm6.4 0.4h1.3v1.3h-1.3zm-111.6 0.6h1.3v1.3h-1.3zm2 0h1.3v1.3h-1.3zm45 0.1h1.3v1.3h-1.3zm2.2 -0.1h1.3v1.3h-1.3zm0.2 0.2h1.3v1.3h-1.3zm0.9 -0.2h1.3v1.3h-1.3zm1.2 -0.2h1.3v1.3h-1.3zm0.3 0.6h1.3v1.3h-1.3zm0.6 0.2h1.3v1.3h-1.3zm0.6 -0.2h1.3v1.3h-1.3zm0.2 0.2h1.3v1.3h-1.3zm1.8 -0.1h1.3v1.3h-1.3zm0.2 0.1h1.3v1.3h-1.3zm0.9 -0.5h1.3v1.3h-1.3zm2.4 0.4h1.3v1.3h-1.3zm0 -0.4h1.3v1.3h-1.3zm1.3 0.6h1.3v1.3h-1.3zm2.2 -0.7h1.3v1.3h-1.3zm1.9 0.1h1.3v1.3h-1.3zm0.3 -0.3h1.3v1.3h-1.3zm11.4 0.8h1.3v1.3h-1.3zm3.2 -0.8h1.3v1.3h-1.3zm1.8 0.2h1.3v1.3h-1.3zm5.4 0.4h1.3v1.3h-1.3zm0.3 -0.4h1.3v1.3h-1.3zm0.3 0h1.3v1.3h-1.3zm2.9 0.5h1.3v1.3h-1.3zm1.2 0h1.3v1.3h-1.3zm1.1 -0.4h1.3v1.3h-1.3zm1.7 -0.2h1.3v1.3h-1.3zm16.9 0.7h1.3v1.3h-1.3zm3.5 -0.8h1.3v1.3h-1.3zm8.9 0.2h1.3v1.3h-1.3zm-123.3 1.6h1.3v1.3h-1.3zm1 0h1.3v1.3h-1.3zm1.3 -0.8h1.3v1.3h-1.3zm44.1 0.9h1.3v1.3h-1.3zm1.2 -0.9h1.3v1.3h-1.3zm1 0.6h1.3v1.3h-1.3zm3.3 0h1.3v1.3h-1.3zm1.1 -0.1h1.3v1.3h-1.3zm0.5 -0.5h1.3v1.3h-1.3zm3.6 0.1h1.3v1.3h-1.3zm0.3 0h1.3v1.3h-1.3zm1.4 0.7h1.3v1.3h-1.3zm12.3 0.1h1.3v1.3h-1.3zm1.9 -0.2h1.3v1.3h-1.3zm9.2 -0.2h1.3v1.3h-1.3zm0.9 -0.4h1.3v1.3h-1.3zm2.4 0h1.3v1.3h-1.3zm2.6 0.4h1.3v1.3h-1.3zm1 -0.5h1.3v1.3h-1.3zm4.6 0.3h1.3v1.3h-1.3zm3.6 -0.2h1.3v1.3h-1.3zm3.8 0.7h1.3v1.3h-1.3zm5.1 -0.2h1.3v1.3h-1.3zm2.9 -0.4h1.3v1.3h-1.3zm5 0.5h1.3v1.3h-1.3zm2.4 -0.3h1.3v1.3h-1.3zm-118 1.1h1.3v1.3h-1.3zm3.3 0.1h1.3v1.3h-1.3zm0.7 -0.5h1.3v1.3h-1.3zm0.3 -0.1h1.3v1.3h-1.3zm0.2 0.9h1.3v1.3h-1.3zm0.1 -0.5h1.3v1.3h-1.3zm45 -0.1h1.3v1.3h-1.3zm2.3 0.2h1.3v1.3h-1.3zm0.4 -0.1h1.3v1.3h-1.3zm0.5 0.3h1.3v1.3h-1.3zm1.8 0.1h1.3v1.3h-1.3zm1.5 0h1.3v1.3h-1.3zm1.5 -0.1h1.3v1.3h-1.3zm9.7 -0.6h1.3v1.3h-1.3zm0.2 0.8h1.3v1.3h-1.3zm6.4 -0.3h1.3v1.3h-1.3zm11.6 0h1.3v1.3h-1.3zm1.5 -0.1h1.3v1.3h-1.3zm1.6 0.2h1.3v1.3h-1.3zm3.7 -0.3h1.3v1.3h-1.3zm1.1 0h1.3v1.3h-1.3zm2.2 0.4h1.3v1.3h-1.3zm3.3 -0.5h1.3v1.3h-1.3zm3.2 0.5h1.3v1.3h-1.3zm7.6 -0.4h1.3v1.3h-1.3zm0.9 -0.1h1.3v1.3h-1.3zm6.2 -0.2h1.3v1.3h-1.3zm1.9 0.8h1.3v1.3h-1.3zm32.4 -0.4h1.3v1.3h-1.3zm-103.3 0.9h1.3v1.3h-1.3zm0.2 -0.3h1.3v1.3h-1.3zm1 0h1.3v1.3h-1.3zm1.7 0.2h1.3v1.3h-1.3zm0.1 0.4h1.3v1.3h-1.3zm0.6 -0.3h1.3v1.3h-1.3zm0.1 -0.3h1.3v1.3h-1.3zm5.2 0.8h1.3v1.3h-1.3zm0.1 -0.8h1.3v1.3h-1.3zm0.7 0.2h1.3v1.3h-1.3zm10.7 0.5h1.3v1.3h-1.3zm4.6 -0.5h1.3v1.3h-1.3zm2.5 0.3h1.3v1.3h-1.3zm0.9 0.1h1.3v1.3h-1.3zm6.5 -0.6h1.3v1.3h-1.3zm0.7 0.2h1.3v1.3h-1.3zm0 -0.3h1.3v1.3h-1.3zm4.8 0.6h1.3v1.3h-1.3zm1.7 -0.1h1.3v1.3h-1.3zm17 0.3h1.3v1.3h-1.3zm0.4 -0.7h1.3v1.3h-1.3zm10.1 0.3h1.3v1.3h-1.3zm-115.2 1.4h1.3v1.3h-1.3zm2 -0.7h1.3v1.3h-1.3zm44.2 0.2h1.3v1.3h-1.3zm0.5 0.4h1.3v1.3h-1.3zm1.4 -0.4h1.3v1.3h-1.3zm0.8 0.2h1.3v1.3h-1.3zm0.8 -0.3h1.3v1.3h-1.3zm0.6 -0.2h1.3v1.3h-1.3zm0.6 0.9h1.3v1.3h-1.3zm1.8 -0.7h1.3v1.3h-1.3zm0.7 -0.2h1.3v1.3h-1.3zm1 0.5h1.3v1.3h-1.3zm2.9 0.3h1.3v1.3h-1.3zm0 -0.2h1.3v1.3h-1.3zm6 0.2h1.3v1.3h-1.3zm2.8 -0.4h1.3v1.3h-1.3zm1.8 -0.2h1.3v1.3h-1.3zm3.9 0.6h1.3v1.3h-1.3zm0.4 -0.3h1.3v1.3h-1.3zm1.7 0.1h1.3v1.3h-1.3zm0.4 -0.1h1.3v1.3h-1.3zm6.3 -0.4h1.3v1.3h-1.3zm4.1 0.4h1.3v1.3h-1.3zm5.7 0.2h1.3v1.3h-1.3zm3 -0.5h1.3v1.3h-1.3zm1.4 0.3h1.3v1.3h-1.3zm0.2 -0.2h1.3v1.3h-1.3zm1.5 0.3h1.3v1.3h-1.3zm1.3 -0.1h1.3v1.3h-1.3zm3.1 -0.4h1.3v1.3h-1.3zm0.8 0.2h1.3v1.3h-1.3zm2.4 -0.1h1.3v1.3h-1.3zm2 0.2h1.3v1.3h-1.3zm1.4 -0.2h1.3v1.3h-1.3zm-61.4 0.9h1.3v1.3h-1.3zm1.2 0h1.3v1.3h-1.3zm0.8 0.8h1.3v1.3h-1.3zm0.5 -0.2h1.3v1.3h-1.3zm0.5 -0.3h1.3v1.3h-1.3zm3.9 0.4h1.3v1.3h-1.3zm6.1 -0.7h1.3v1.3h-1.3zm3.6 0.5h1.3v1.3h-1.3zm2.2 0.2h1.3v1.3h-1.3zm0.5 -0.5h1.3v1.3h-1.3zm0.2 0.1h1.3v1.3h-1.3zm5.6 0.5h1.3v1.3h-1.3zm8.4 -0.7h1.3v1.3h-1.3zm1.5 0.5h1.3v1.3h-1.3zm11.5 -0.4h1.3v1.3h-1.3zm0.7 0.1h1.3v1.3h-1.3zm1.8 -0.1h1.3v1.3h-1.3zm1.1 -0.2h1.3v1.3h-1.3zm0.2 0.1h1.3v1.3h-1.3zm0.9 0.7h1.3v1.3h-1.3zm2 -0.1h1.3v1.3h-1.3zm5.5 -0.3h1.3v1.3h-1.3zm3.4 0.1h1.3v1.3h-1.3zm1.6 -0.6h1.3v1.3h-1.3zm-113.9 1.6h1.3v1.3h-1.3zm0.4 0.3h1.3v1.3h-1.3zm1.9 0h1.3v1.3h-1.3zm1.7 -0.6h1.3v1.3h-1.3zm1 0.3h1.3v1.3h-1.3zm44.6 -0.5h1.3v1.3h-1.3zm0.1 -0.1h1.3v1.3h-1.3zm1.9 0.6h1.3v1.3h-1.3zm0.3 0.2h1.3v1.3h-1.3zm1.8 -0.5h1.3v1.3h-1.3zm0.5 0h1.3v1.3h-1.3zm1.6 0.1h1.3v1.3h-1.3zm12.1 -0.3h1.3v1.3h-1.3zm0.3 0.7h1.3v1.3h-1.3zm13 -0.2h1.3v1.3h-1.3zm1 0.3h1.3v1.3h-1.3zm2.8 -0.5h1.3v1.3h-1.3zm0.2 -0.2h1.3v1.3h-1.3zm1 -0.1h1.3v1.3h-1.3zm5 0.2h1.3v1.3h-1.3zm3 -0.1h1.3v1.3h-1.3zm6.4 0.2h1.3v1.3h-1.3zm4.4 0.1h1.3v1.3h-1.3zm-101.9 0.9h1.3v1.3h-1.3zm49.3 -0.1h1.3v1.3h-1.3zm1.1 0.5h1.3v1.3h-1.3zm11.4 -0.6h1.3v1.3h-1.3zm4.3 0.4h1.3v1.3h-1.3zm3.6 -0.6h1.3v1.3h-1.3zm2.3 0.4h1.3v1.3h-1.3zm10.2 0.3h1.3v1.3h-1.3zm2.2 -0.2h1.3v1.3h-1.3zm0.8 -0.4h1.3v1.3h-1.3zm6.3 -0.1h1.3v1.3h-1.3zm0.3 0h1.3v1.3h-1.3zm6.3 0.7h1.3v1.3h-1.3zm9.7 -0.4h1.3v1.3h-1.3zm-107.4 1.4h1.3v1.3h-1.3zm0.6 -0.2h1.3v1.3h-1.3zm45.5 -0.3h1.3v1.3h-1.3zm3.9 0.1h1.3v1.3h-1.3zm0.6 -0.2h1.3v1.3h-1.3zm5.8 0.5h1.3v1.3h-1.3zm0.6 -0.4h1.3v1.3h-1.3zm2.3 0.5h1.3v1.3h-1.3zm5.6 -0.7h1.3v1.3h-1.3zm1.4 0h1.3v1.3h-1.3zm3.4 0.1h1.3v1.3h-1.3zm7.4 0.1h1.3v1.3h-1.3zm2.8 0.6h1.3v1.3h-1.3zm5.4 0h1.3v1.3h-1.3zm4.4 -0.2h1.3v1.3h-1.3zm1.9 0.3h1.3v1.3h-1.3zm6.8 -0.3h1.3v1.3h-1.3zm8.2 -0.2h1.3v1.3h-1.3zm33.4 -0.2h1.3v1.3h-1.3zm-139.9 1.2h1.3v1.3h-1.3zm0.6 -0.4h1.3v1.3h-1.3zm44.1 0.1h1.3v1.3h-1.3zm0.2 0.6h1.3v1.3h-1.3zm0.1 -0.7h1.3v1.3h-1.3zm0.7 0.5h1.3v1.3h-1.3zm0.3 0h1.3v1.3h-1.3zm0.8 0.2h1.3v1.3h-1.3zm0.1 -0.6h1.3v1.3h-1.3zm0.2 0h1.3v1.3h-1.3zm0.5 0.7h1.3v1.3h-1.3zm0.8 0.1h1.3v1.3h-1.3zm0.7 -0.8h1.3v1.3h-1.3zm2.1 0.5h1.3v1.3h-1.3zm0.5 -0.4h1.3v1.3h-1.3zm0.3 0.3h1.3v1.3h-1.3zm0.7 -0.3h1.3v1.3h-1.3zm0.8 0.3h1.3v1.3h-1.3zm18.8 -0.3h1.3v1.3h-1.3zm0.6 -0.2h1.3v1.3h-1.3zm0.8 0.2h1.3v1.3h-1.3zm12.1 0.3h1.3v1.3h-1.3zm1.5 -0.2h1.3v1.3h-1.3zm7.3 0.3h1.3v1.3h-1.3zm6.4 0.2h1.3v1.3h-1.3zm1.7 -0.7h1.3v1.3h-1.3zm-101.9 1.5h1.3v1.3h-1.3zm44.8 0.3h1.3v1.3h-1.3zm0.8 -0.1h1.3v1.3h-1.3zm0.5 -0.5h1.3v1.3h-1.3zm0.9 0h1.3v1.3h-1.3zm3.1 0.6h1.3v1.3h-1.3zm0.4 -0.7h1.3v1.3h-1.3zm2.8 0.2h1.3v1.3h-1.3zm5 0h1.3v1.3h-1.3zm8.8 -0.3h1.3v1.3h-1.3zm4.1 0.6h1.3v1.3h-1.3zm1.6 0.2h1.3v1.3h-1.3zm3.7 -0.3h1.3v1.3h-1.3zm10.1 0h1.3v1.3h-1.3zm21.8 0.1h1.3v1.3h-1.3zm-109.1 0.8h1.3v1.3h-1.3zm0.8 0.3h1.3v1.3h-1.3zm43 -0.4h1.3v1.3h-1.3zm0.3 0.5h1.3v1.3h-1.3zm0.2 -0.5h1.3v1.3h-1.3zm0.5 -0.2h1.3v1.3h-1.3zm0.3 0.7h1.3v1.3h-1.3zm1.2 -0.7h1.3v1.3h-1.3zm2.8 0.5h1.3v1.3h-1.3zm0.5 -0.7h1.3v1.3h-1.3zm1.4 0.2h1.3v1.3h-1.3zm2.2 0.4h1.3v1.3h-1.3zm8.7 -0.1h1.3v1.3h-1.3zm2.1 0.3h1.3v1.3h-1.3zm18.9 -0.6h1.3v1.3h-1.3zm1.1 0.1h1.3v1.3h-1.3zm2 0.4h1.3v1.3h-1.3zm4.4 0h1.3v1.3h-1.3zm0.7 -0.1h1.3v1.3h-1.3zm0.8 0.2h1.3v1.3h-1.3zm1.9 -0.6h1.3v1.3h-1.3zm10 0.2h1.3v1.3h-1.3zm-104.1 0.9h1.3v1.3h-1.3zm43.4 0h1.3v1.3h-1.3zm2.6 0.1h1.3v1.3h-1.3zm0.5 -0.2h1.3v1.3h-1.3zm6 0.6h1.3v1.3h-1.3zm3.6 -0.1h1.3v1.3h-1.3zm1.8 -0.2h1.3v1.3h-1.3zm13.4 -0.5h1.3v1.3h-1.3zm3 0.1h1.3v1.3h-1.3zm1 0.4h1.3v1.3h-1.3zm1.2 -0.4h1.3v1.3h-1.3zm1.8 0h1.3v1.3h-1.3zm4.2 0.3h1.3v1.3h-1.3zm2.9 -0.4h1.3v1.3h-1.3zm2.8 0.1h1.3v1.3h-1.3zm0 0.6h1.3v1.3h-1.3zm1.3 0.1h1.3v1.3h-1.3zm7.3 -0.6h1.3v1.3h-1.3zm0.8 -0.1h1.3v1.3h-1.3zm9.2 0.8h1.3v1.3h-1.3zm8.7 -0.3h1.3v1.3h-1.3zm-116.3 0.8h1.3v1.3h-1.3zm1.8 0.4h1.3v1.3h-1.3zm41.5 -0.5h1.3v1.3h-1.3zm0.4 0h1.3v1.3h-1.3zm3.8 -0.1h1.3v1.3h-1.3zm0.3 0.1h1.3v1.3h-1.3zm1.7 0.6h1.3v1.3h-1.3zm2.8 -0.3h1.3v1.3h-1.3zm8.1 -0.1h1.3v1.3h-1.3zm1 -0.1h1.3v1.3h-1.3zm0.7 -0.3h1.3v1.3h-1.3zm1 0.3h1.3v1.3h-1.3zm9.5 0.4h1.3v1.3h-1.3zm2.3 -0.6h1.3v1.3h-1.3zm1.7 -0.2h1.3v1.3h-1.3zm0.1 0.5h1.3v1.3h-1.3zm3.5 0.3h1.3v1.3h-1.3zm2.3 -0.4h1.3v1.3h-1.3zm0.9 -0.4h1.3v1.3h-1.3zm14.1 0.6h1.3v1.3h-1.3zm0.5 -0.6h1.3v1.3h-1.3zm2.2 0h1.3v1.3h-1.3zm0.4 0.9h1.3v1.3h-1.3zm1 -0.8h1.3v1.3h-1.3zm2.1 0h1.3v1.3h-1.3zm0.4 0.4h1.3v1.3h-1.3zm-103.3 0.6h1.3v1.3h-1.3zm0.5 0.5h1.3v1.3h-1.3zm40.8 -0.5h1.3v1.3h-1.3zm0.5 -0.1h1.3v1.3h-1.3zm0.1 0.8h1.3v1.3h-1.3zm0.4 -0.5h1.3v1.3h-1.3zm0 -0.3h1.3v1.3h-1.3zm0.5 0.7h1.3v1.3h-1.3zm2.9 -0.2h1.3v1.3h-1.3zm0.2 0.1h1.3v1.3h-1.3zm0.4 -0.6h1.3v1.3h-1.3zm1.7 0.6h1.3v1.3h-1.3zm1.6 -0.5h1.3v1.3h-1.3zm1.8 0.1h1.3v1.3h-1.3zm0.7 0.3h1.3v1.3h-1.3zm1.5 -0.5h1.3v1.3h-1.3zm0.9 0.4h1.3v1.3h-1.3zm2.1 0.3h1.3v1.3h-1.3zm0.7 -0.3h1.3v1.3h-1.3zm0.2 -0.4h1.3v1.3h-1.3zm0.9 0h1.3v1.3h-1.3zm2.6 0h1.3v1.3h-1.3zm0.8 0.2h1.3v1.3h-1.3zm1.7 0.4h1.3v1.3h-1.3zm3.4 0.2h1.3v1.3h-1.3zm1.3 -0.7h1.3v1.3h-1.3zm1.4 0.7h1.3v1.3h-1.3zm0.1 -0.3h1.3v1.3h-1.3zm0.4 0.1h1.3v1.3h-1.3zm0.3 -0.5h1.3v1.3h-1.3zm0.6 0.7h1.3v1.3h-1.3zm0 -0.7h1.3v1.3h-1.3zm0.7 0h1.3v1.3h-1.3zm1.2 0.1h1.3v1.3h-1.3zm1.1 0.1h1.3v1.3h-1.3zm0 -0.3h1.3v1.3h-1.3zm1.1 0.1h1.3v1.3h-1.3zm0.3 0.7h1.3v1.3h-1.3zm0.9 0h1.3v1.3h-1.3zm0.5 -0.4h1.3v1.3h-1.3zm1.2 -0.3h1.3v1.3h-1.3zm1.1 0.3h1.3v1.3h-1.3zm0.5 0.1h1.3v1.3h-1.3zm0.3 0.2h1.3v1.3h-1.3zm0.5 0.1h1.3v1.3h-1.3zm0.1 -0.6h1.3v1.3h-1.3zm0.6 0.7h1.3v1.3h-1.3zm0.7 -0.8h1.3v1.3h-1.3zm1.4 0.1h1.3v1.3h-1.3zm0.1 0.6h1.3v1.3h-1.3zm0.2 -0.8h1.3v1.3h-1.3zm0.6 0.5h1.3v1.3h-1.3zm0.2 0h1.3v1.3h-1.3zm0.2 0.4h1.3v1.3h-1.3zm0.3 -0.5h1.3v1.3h-1.3zm0.8 -0.3h1.3v1.3h-1.3zm0.1 0.6h1.3v1.3h-1.3zm0.9 -0.3h1.3v1.3h-1.3zm0.9 -0.4h1.3v1.3h-1.3zm0.4 0.8h1.3v1.3h-1.3zm2.4 -0.2h1.3v1.3h-1.3zm1.3 -0.1h1.3v1.3h-1.3zm1.1 -0.1h1.3v1.3h-1.3zm0.5 0.4h1.3v1.3h-1.3zm0 -0.2h1.3v1.3h-1.3zm2.1 -0.1h1.3v1.3h-1.3zm0.9 0.2h1.3v1.3h-1.3zm1.4 -0.3h1.3v1.3h-1.3zm0.6 0h1.3v1.3h-1.3zm0.1 -0.2h1.3v1.3h-1.3zm0.1 0.6h1.3v1.3h-1.3zm1 -0.4h1.3v1.3h-1.3zm0.6 0.4h1.3v1.3h-1.3zm3 -0.3h1.3v1.3h-1.3zm5.1 0.3h1.3v1.3h-1.3zm1.9 -0.4h1.3v1.3h-1.3zm-107.8 0.7h1.3v1.3h-1.3zm2.7 0h1.3v1.3h-1.3zm1.9 -0.1h1.3v1.3h-1.3zm0.5 0h1.3v1.3h-1.3zm0.6 0h1.3v1.3h-1.3zm2.4 0.2h1.3v1.3h-1.3zm1.9 -0.1h1.3v1.3h-1.3zm3 0h1.3v1.3h-1.3zm1.5 0.1h1.3v1.3h-1.3zm3.3 -0.2h1.3v1.3h-1.3zm1.9 0.2h1.3v1.3h-1.3zm1 0h1.3v1.3h-1.3zm0.5 -0.1h1.3v1.3h-1.3zm1.5 0.1h1.3v1.3h-1.3zm6.3 -0.2h1.3v1.3h-1.3zm0.3 0h1.3v1.3h-1.3zm2.7 0.1h1.3v1.3h-1.3zm1.2 0h1.3v1.3h-1.3zm3.1 0.1h1.3v1.3h-1.3zm3.1 -0.1h1.3v1.3h-1.3zm4.9 0.1h1.3v1.3h-1.3zm0.6 -0.1h1.3v1.3h-1.3zm0.9 -0.1h1.3v1.3h-1.3zm0.7 0.2h1.3v1.3h-1.3zm0.9 -0.2h1.3v1.3h-1.3zm1.2 0.1h1.3v1.3h-1.3zm4.2 -0.1h1.3v1.3h-1.3zm12.7 0.1h1.3v1.3h-1.3zm2.1 0h1.3v1.3h-1.3zm3.2 -0.1h1.3v1.3h-1.3zm3 0.2h1.3v1.3h-1.3zm1.5 -0.2h1.3v1.3h-1.3zm3.9 0.2h1.3v1.3h-1.3zm0.8 -0.1h1.3v1.3h-1.3zm0.1 -0.1h1.3v1.3h-1.3zm0.6 0.1h1.3v1.3h-1.3zm2.2 0.1h1.3v1.3h-1.3zm7 -0.1h1.3v1.3h-1.3zm2.1 -0.1h1.3v1.3h-1.3zm0.1 0.2h1.3v1.3h-1.3zm0.6 0h1.3v1.3h-1.3zm4.2 -0.2h1.3v1.3h-1.3z"/><path fill="#fbe6e8" d="M0 0m326.4 166.3h1v1h-1zm1.7 2.2h1v1h-1zm3.6 0.3h1v1h-1zm-5 1h1v1h-1zm-27 3.6h1v1h-1zm1.7 0.1h1v1h-1zm3.5 0.2h1v1h-1zm29.5 1.4h1v1h-1zm-37.8 3h1v1h-1zm-2.6 2.2h1v1h-1zm5.9 7.5h1v1h-1zm4 0.1h1v1h-1zm0.2 -0.1h1v1h-1zm-8.5 2.6h1v1h-1zm5.5 0.3h1v1h-1zm10.1 1.2h1v1h-1zm4.8 -0.3h1v1h-1zm7.1 0.4h1v1h-1zm-26.3 0.2h1v1h-1zm7.6 0.8h1v1h-1zm13.2 -0.5h1v1h-1zm4.5 -0.2h1v1h-1zm4.9 0.6h1v1h-1z"/><path stroke="#1a1a1a" stroke-width="1.15" fill="none" d="M326.5 22.5V194.5M271.5 138.5H440.5"/><rect x="271.5" y="22.5" width="169" height="172" fill="none" stroke="#1a1a1a" stroke-width="1.2"/><path stroke="#1a1a1a" stroke-width="1" fill="none" d="M271.5 194.5v4.5M271.5 194.5h-4.5M284.5 194.5v2.4M271.5 181.5h-2.4M291.5 194.5v2.4M271.5 173.5h-2.4M296.5 194.5v2.4M271.5 168.5h-2.4M300.5 194.5v2.4M271.5 164.5h-2.4M304.5 194.5v2.4M271.5 160.5h-2.4M307.5 194.5v2.4M271.5 158.5h-2.4M309.5 194.5v2.4M271.5 155.5h-2.4M311.5 194.5v2.4M271.5 153.5h-2.4M313.5 194.5v4.5M271.5 151.5h-4.5M326.5 194.5v2.4M271.5 138.5h-2.4M333.5 194.5v2.4M271.5 131.5h-2.4M338.5 194.5v2.4M271.5 125.5h-2.4M343.5 194.5v2.4M271.5 121.5h-2.4M346.5 194.5v2.4M271.5 118.5h-2.4M349.5 194.5v2.4M271.5 115.5h-2.4M351.5 194.5v2.4M271.5 112.5h-2.4M353.5 194.5v2.4M271.5 110.5h-2.4M355.5 194.5v4.5M271.5 108.5h-4.5M368.5 194.5v2.4M271.5 95.5h-2.4M375.5 194.5v2.4M271.5 88.5h-2.4M381.5 194.5v2.4M271.5 83.5h-2.4M385.5 194.5v2.4M271.5 78.5h-2.4M388.5 194.5v2.4M271.5 75.5h-2.4M391.5 194.5v2.4M271.5 72.5h-2.4M393.5 194.5v2.4M271.5 70.5h-2.4M396.5 194.5v2.4M271.5 68.5h-2.4M398.5 194.5v4.5M271.5 66.5h-4.5M410.5 194.5v2.4M271.5 53.5h-2.4M418.5 194.5v2.4M271.5 45.5h-2.4M423.5 194.5v2.4M271.5 40.5h-2.4M427.5 194.5v2.4M271.5 36.5h-2.4M430.5 194.5v2.4M271.5 32.5h-2.4M433.5 194.5v2.4M271.5 30.5h-2.4M436.5 194.5v2.4M271.5 27.5h-2.4M438.5 194.5v2.4M271.5 25.5h-2.4M440.5 194.5v4.5M271.5 23.5h-4.5"/><text x="271.3" y="210.6" font-size="10.6" text-anchor="middle">10<tspan font-size="7.8" dx="0.7" dy="-4.4">0</tspan></text><text x="313.6" y="210.6" font-size="10.6" text-anchor="middle">10<tspan font-size="7.8" dx="0.7" dy="-4.4">1</tspan></text><text x="355.8" y="210.6" font-size="10.6" text-anchor="middle">10<tspan font-size="7.8" dx="0.7" dy="-4.4">2</tspan></text><text x="398" y="210.6" font-size="10.6" text-anchor="middle">10<tspan font-size="7.8" dx="0.7" dy="-4.4">3</tspan></text><text x="440.3" y="210.6" font-size="10.6" text-anchor="middle">10<tspan font-size="7.8" dx="0.7" dy="-4.4">4</tspan></text><g transform="translate(262.8 194.1) rotate(-90)"><text x="0.3" y="0" font-size="10.6" text-anchor="middle">10<tspan font-size="7.8" dx="0.7" dy="-4.4">0</tspan></text></g><g transform="translate(262.8 151.4) rotate(-90)"><text x="0.3" y="0" font-size="10.6" text-anchor="middle">10<tspan font-size="7.8" dx="0.7" dy="-4.4">1</tspan></text></g><g transform="translate(262.8 108.8) rotate(-90)"><text x="0.3" y="0" font-size="10.6" text-anchor="middle">10<tspan font-size="7.8" dx="0.7" dy="-4.4">2</tspan></text></g><g transform="translate(262.8 66.2) rotate(-90)"><text x="0.3" y="0" font-size="10.6" text-anchor="middle">10<tspan font-size="7.8" dx="0.7" dy="-4.4">3</tspan></text></g><g transform="translate(262.8 23.5) rotate(-90)"><text x="0.3" y="0" font-size="10.6" text-anchor="middle">10<tspan font-size="7.8" dx="0.7" dy="-4.4">4</tspan></text></g>
<path fill="#e30a17" d="M513 194.5L513.5 188L516 180L520 174L525 168L530 164L536 161.5L542 160.5L549 160.3L555 161L560 164L562 170L562 182L560 190L556 194.5z"/><path fill="#e30a17" shape-rendering="crispEdges" d="M558 154h1v1h-1zM559 155h1v1h-1zM560 156h1v1h-1zM548 157h1v1h-1zM549 158h1v1h-1zM560 158h1v1h-1zM559 159h2v1h-2zM559 160h3v1h-3zM558 161h4v1h-4zM559 162h3v1h-3zM563 179h1v1h-1z"/><path fill="#d0202f" d="M0 0m652.3 59.7h1.3v1.3h-1.3zm10 0.3h1.3v1.3h-1.3zm-101.9 1.2h1.3v1.3h-1.3zm29.7 -0.1h1.3v1.3h-1.3zm63.6 1.2h1.3v1.3h-1.3zm-85.8 2h1.3v1.3h-1.3zm31.8 0.4h1.3v1.3h-1.3zm0.2 -0.8h1.3v1.3h-1.3zm-16.8 1h1.3v1.3h-1.3zm2.7 1.7h1.3v1.3h-1.3zm14.4 -0.4h1.3v1.3h-1.3zm-24.2 2.6h1.3v1.3h-1.3zm76.6 -0.7h1.3v1.3h-1.3zm2.9 0.2h1.3v1.3h-1.3zm-64.1 0.8h1.3v1.3h-1.3zm-0.7 0.8h1.3v1.3h-1.3zm14.3 0.9h1.3v1.3h-1.3zm4.6 -0.8h1.3v1.3h-1.3zm-6.8 1.3h1.3v1.3h-1.3zm23.4 -0.2h1.3v1.3h-1.3zm36.9 0.7h1.3v1.3h-1.3zm-62.5 0.6h1.3v1.3h-1.3zm13.4 0.1h1.3v1.3h-1.3zm10.4 0.1h1.3v1.3h-1.3zm18.2 -0.4h1.3v1.3h-1.3zm-25.4 1.6h1.3v1.3h-1.3zm41.9 0h1.3v1.3h-1.3zm-99.9 1h1.3v1.3h-1.3zm44.2 -0.3h1.3v1.3h-1.3zm3 0.3h1.3v1.3h-1.3zm28.8 0.6h1.3v1.3h-1.3zm4.4 -0.1h1.3v1.3h-1.3zm1.8 0.2h1.3v1.3h-1.3zm-48.3 0.8h1.3v1.3h-1.3zm6.1 -0.4h1.3v1.3h-1.3zm38 0h1.3v1.3h-1.3zm-75.1 1.8h1.3v1.3h-1.3zm8.2 0h1.3v1.3h-1.3zm5.8 -0.1h1.3v1.3h-1.3zm31.4 -0.1h1.3v1.3h-1.3zm26.4 0.2h1.3v1.3h-1.3zm-77.8 0.2h1.3v1.3h-1.3zm22.4 0.9h1.3v1.3h-1.3zm19.5 -0.2h1.3v1.3h-1.3zm18.9 -0.6h1.3v1.3h-1.3zm3.2 0.8h1.3v1.3h-1.3zm7.9 -0.9h1.3v1.3h-1.3zm4.1 0.8h1.3v1.3h-1.3zm3.7 -0.7h1.3v1.3h-1.3zm0.8 0.1h1.3v1.3h-1.3zm0.9 0.5h1.3v1.3h-1.3zm0.7 -0.1h1.3v1.3h-1.3zm1.3 0.1h1.3v1.3h-1.3zm1.6 -0.6h1.3v1.3h-1.3zm-77.1 1.2h1.3v1.3h-1.3zm32.3 0.2h1.3v1.3h-1.3zm0.9 0.2h1.3v1.3h-1.3zm6.5 -0.7h1.3v1.3h-1.3zm1.8 0.8h1.3v1.3h-1.3zm21.9 -0.5h1.3v1.3h-1.3zm0.1 -0.1h1.3v1.3h-1.3zm0.1 0.6h1.3v1.3h-1.3zm1.9 -0.4h1.3v1.3h-1.3zm1.6 -0.1h1.3v1.3h-1.3zm0.8 0.4h1.3v1.3h-1.3zm4.1 -0.3h1.3v1.3h-1.3zm3 -0.2h1.3v1.3h-1.3zm17 0.6h1.3v1.3h-1.3zm6.6 -0.3h1.3v1.3h-1.3zm-119.1 0.8h1.3v1.3h-1.3zm8.4 0.2h1.3v1.3h-1.3zm25.7 0.1h1.3v1.3h-1.3zm6.6 -0.1h1.3v1.3h-1.3zm1.4 -0.1h1.3v1.3h-1.3zm15 -0.3h1.3v1.3h-1.3zm1.8 0.1h1.3v1.3h-1.3zm14.6 0.2h1.3v1.3h-1.3zm1.6 0.2h1.3v1.3h-1.3zm12.1 0h1.3v1.3h-1.3zm3.3 -0.3h1.3v1.3h-1.3zm8 0.5h1.3v1.3h-1.3zm6.6 -0.8h1.3v1.3h-1.3zm-91.7 1h1.3v1.3h-1.3zm20.5 0.8h1.3v1.3h-1.3zm14.7 0.1h1.3v1.3h-1.3zm1.1 -0.1h1.3v1.3h-1.3zm3.1 0.1h1.3v1.3h-1.3zm4.2 -0.6h1.3v1.3h-1.3zm24.9 -0.1h1.3v1.3h-1.3zm3.4 0.3h1.3v1.3h-1.3zm0.9 0.2h1.3v1.3h-1.3zm2.6 0.2h1.3v1.3h-1.3zm1.4 -0.6h1.3v1.3h-1.3zm0.2 -0.3h1.3v1.3h-1.3zm1.9 0.1h1.3v1.3h-1.3zm0.2 0.7h1.3v1.3h-1.3zm1 -0.1h1.3v1.3h-1.3zm1.7 -0.6h1.3v1.3h-1.3zm2.8 0h1.3v1.3h-1.3zm0.6 0.8h1.3v1.3h-1.3zm0.3 -0.4h1.3v1.3h-1.3zm4.2 0.4h1.3v1.3h-1.3zm4.6 -0.6h1.3v1.3h-1.3zm12.2 0.4h1.3v1.3h-1.3zm-101.2 0.5h1.3v1.3h-1.3zm33 0.5h1.3v1.3h-1.3zm3.3 -0.6h1.3v1.3h-1.3zm10.2 0.3h1.3v1.3h-1.3zm5.9 0.4h1.3v1.3h-1.3zm0.6 -0.7h1.3v1.3h-1.3zm6.9 0.4h1.3v1.3h-1.3zm8.9 0h1.3v1.3h-1.3zm1.5 0h1.3v1.3h-1.3zm0.7 0.3h1.3v1.3h-1.3zm1.5 -0.7h1.3v1.3h-1.3zm0.8 0.5h1.3v1.3h-1.3zm0.4 0.3h1.3v1.3h-1.3zm3.7 -0.2h1.3v1.3h-1.3zm1.9 -0.3h1.3v1.3h-1.3zm-82.2 1.2h1.3v1.3h-1.3zm18.4 -0.4h1.3v1.3h-1.3zm6.3 0h1.3v1.3h-1.3zm7.9 0.2h1.3v1.3h-1.3zm4.5 0h1.3v1.3h-1.3zm1 0.5h1.3v1.3h-1.3zm4.2 0h1.3v1.3h-1.3zm2 -0.8h1.3v1.3h-1.3zm20.4 0.6h1.3v1.3h-1.3zm7.3 -0.4h1.3v1.3h-1.3zm2.1 0h1.3v1.3h-1.3zm0.4 0.4h1.3v1.3h-1.3zm1.6 0.2h1.3v1.3h-1.3zm1.2 -0.1h1.3v1.3h-1.3zm4.6 -0.5h1.3v1.3h-1.3zm1 0.5h1.3v1.3h-1.3zm2.6 0h1.3v1.3h-1.3zm8.3 -0.1h1.3v1.3h-1.3zm3.9 0.2h1.3v1.3h-1.3zm5.3 -0.4h1.3v1.3h-1.3zm-103.5 0.7h1.3v1.3h-1.3zm26.3 0.5h1.3v1.3h-1.3zm4.1 -0.3h1.3v1.3h-1.3zm0.5 -0.1h1.3v1.3h-1.3zm4 0.6h1.3v1.3h-1.3zm7.3 -0.7h1.3v1.3h-1.3zm19.2 0.7h1.3v1.3h-1.3zm6.9 -0.3h1.3v1.3h-1.3zm0.5 0.3h1.3v1.3h-1.3zm0.8 0h1.3v1.3h-1.3zm4.8 -0.9h1.3v1.3h-1.3zm7 0.2h1.3v1.3h-1.3zm0.5 0.4h1.3v1.3h-1.3zm0.4 0h1.3v1.3h-1.3zm0 -0.4h1.3v1.3h-1.3zm2.7 -0.2h1.3v1.3h-1.3zm0.1 0.3h1.3v1.3h-1.3zm2.3 0h1.3v1.3h-1.3zm2.9 0.5h1.3v1.3h-1.3zm-103.3 0.5h1.3v1.3h-1.3zm30.2 0.2h1.3v1.3h-1.3zm2.7 -0.4h1.3v1.3h-1.3zm2.3 0.2h1.3v1.3h-1.3zm7.9 0.2h1.3v1.3h-1.3zm8.8 0.4h1.3v1.3h-1.3zm23.7 -0.9h1.3v1.3h-1.3zm1.8 0.1h1.3v1.3h-1.3zm5.2 0.7h1.3v1.3h-1.3zm2.7 -0.2h1.3v1.3h-1.3zm2.3 -0.2h1.3v1.3h-1.3zm0 -0.3h1.3v1.3h-1.3zm2.8 0.3h1.3v1.3h-1.3zm1.3 -0.4h1.3v1.3h-1.3zm0.8 0.4h1.3v1.3h-1.3zm0 -0.3h1.3v1.3h-1.3zm0.8 0.6h1.3v1.3h-1.3zm2.9 0.2h1.3v1.3h-1.3zm1.1 -0.4h1.3v1.3h-1.3zm0.2 0.4h1.3v1.3h-1.3zm2.3 -0.8h1.3v1.3h-1.3zm11.1 0.2h1.3v1.3h-1.3zm-72.1 0.9h1.3v1.3h-1.3zm1.2 0h1.3v1.3h-1.3zm10.7 0.4h1.3v1.3h-1.3zm0.5 0.3h1.3v1.3h-1.3zm5.2 -0.2h1.3v1.3h-1.3zm1.4 0.1h1.3v1.3h-1.3zm1.1 -0.8h1.3v1.3h-1.3zm17 0.9h1.3v1.3h-1.3zm4.5 0h1.3v1.3h-1.3zm0.4 -0.4h1.3v1.3h-1.3zm2.4 -0.2h1.3v1.3h-1.3zm2.8 -0.1h1.3v1.3h-1.3zm4.7 0h1.3v1.3h-1.3zm0.4 0h1.3v1.3h-1.3zm1.7 -0.1h1.3v1.3h-1.3zm3.1 0.7h1.3v1.3h-1.3zm0.1 -0.6h1.3v1.3h-1.3zm0.7 -0.2h1.3v1.3h-1.3zm3.5 0.1h1.3v1.3h-1.3zm0.7 0.4h1.3v1.3h-1.3zm13.3 -0.4h1.3v1.3h-1.3zm3.6 0.8h1.3v1.3h-1.3zm-95.1 0.2h1.3v1.3h-1.3zm7.8 -0.1h1.3v1.3h-1.3zm7 0.1h1.3v1.3h-1.3zm6.3 0.7h1.3v1.3h-1.3zm1 -0.8h1.3v1.3h-1.3zm4.2 0.5h1.3v1.3h-1.3zm8.2 0.3h1.3v1.3h-1.3zm7.6 -0.4h1.3v1.3h-1.3zm16.2 -0.1h1.3v1.3h-1.3zm2 0.5h1.3v1.3h-1.3zm4.1 0h1.3v1.3h-1.3zm0.8 -0.8h1.3v1.3h-1.3zm0.6 0.1h1.3v1.3h-1.3zm0.6 0.8h1.3v1.3h-1.3zm1.8 -0.1h1.3v1.3h-1.3zm0.9 -0.8h1.3v1.3h-1.3zm1.3 0.4h1.3v1.3h-1.3zm1.2 0.2h1.3v1.3h-1.3zm0.7 0.1h1.3v1.3h-1.3zm0.4 -0.1h1.3v1.3h-1.3zm1.2 0.3h1.3v1.3h-1.3zm2.5 -0.2h1.3v1.3h-1.3zm0.2 0.1h1.3v1.3h-1.3zm1.4 -0.4h1.3v1.3h-1.3zm0.7 -0.1h1.3v1.3h-1.3zm-88.2 0.9h1.3v1.3h-1.3zm7.2 0.1h1.3v1.3h-1.3zm10 -0.1h1.3v1.3h-1.3zm5.9 -0.1h1.3v1.3h-1.3zm10.8 0.1h1.3v1.3h-1.3zm4.9 0.2h1.3v1.3h-1.3zm5.1 0.5h1.3v1.3h-1.3zm0.2 -0.4h1.3v1.3h-1.3zm2.7 -0.5h1.3v1.3h-1.3zm2.7 0.8h1.3v1.3h-1.3zm18.8 0h1.3v1.3h-1.3zm0.3 0.1h1.3v1.3h-1.3zm2.2 -0.7h1.3v1.3h-1.3zm1.4 0.6h1.3v1.3h-1.3zm2.7 -0.3h1.3v1.3h-1.3zm1.3 -0.5h1.3v1.3h-1.3zm1.6 0.2h1.3v1.3h-1.3zm0.3 0.7h1.3v1.3h-1.3zm0.8 -0.5h1.3v1.3h-1.3zm3.4 0.4h1.3v1.3h-1.3zm0.2 -0.4h1.3v1.3h-1.3zm1 0.3h1.3v1.3h-1.3zm2.6 -0.4h1.3v1.3h-1.3zm0.7 0h1.3v1.3h-1.3zm2.6 0.6h1.3v1.3h-1.3zm-87.9 0.5h1.3v1.3h-1.3zm14 -0.2h1.3v1.3h-1.3zm10 0h1.3v1.3h-1.3zm4.7 0h1.3v1.3h-1.3zm7 0h1.3v1.3h-1.3zm1.4 -0.1h1.3v1.3h-1.3zm9.3 -0.1h1.3v1.3h-1.3zm5.1 0.9h1.3v1.3h-1.3zm10.9 -0.3h1.3v1.3h-1.3zm1.6 -0.1h1.3v1.3h-1.3zm4.8 -0.2h1.3v1.3h-1.3zm1.4 0.6h1.3v1.3h-1.3zm1.7 -0.9h1.3v1.3h-1.3zm5.8 0.4h1.3v1.3h-1.3zm0.7 -0.3h1.3v1.3h-1.3zm0.6 0.6h1.3v1.3h-1.3zm1.4 0.2h1.3v1.3h-1.3zm1.6 -0.9h1.3v1.3h-1.3zm1.2 0.5h1.3v1.3h-1.3zm1.6 -0.4h1.3v1.3h-1.3zm0.2 0.7h1.3v1.3h-1.3zm9.6 0h1.3v1.3h-1.3zm8.3 0h1.3v1.3h-1.3zm-86.5 0.9h1.3v1.3h-1.3zm14.3 0h1.3v1.3h-1.3zm6.3 0.2h1.3v1.3h-1.3zm0.9 -0.1h1.3v1.3h-1.3zm4.5 -0.6h1.3v1.3h-1.3zm13 0.4h1.3v1.3h-1.3zm3.1 0.3h1.3v1.3h-1.3zm2.9 -0.5h1.3v1.3h-1.3zm0.3 0.2h1.3v1.3h-1.3zm1.4 0.3h1.3v1.3h-1.3zm3 0h1.3v1.3h-1.3zm1.7 -0.7h1.3v1.3h-1.3zm0.2 0.4h1.3v1.3h-1.3zm1.2 0.1h1.3v1.3h-1.3zm3.4 -0.2h1.3v1.3h-1.3zm0.6 0.4h1.3v1.3h-1.3zm1.6 -0.9h1.3v1.3h-1.3zm4.7 0.7h1.3v1.3h-1.3zm6.2 -0.5h1.3v1.3h-1.3zm2.2 -0.1h1.3v1.3h-1.3zm-83.2 1.3h1.3v1.3h-1.3zm6.8 0.2h1.3v1.3h-1.3zm14.5 -0.6h1.3v1.3h-1.3zm1.7 0.4h1.3v1.3h-1.3zm13.1 -0.2h1.3v1.3h-1.3zm0.7 -0.1h1.3v1.3h-1.3zm8 0h1.3v1.3h-1.3zm6.6 0.8h1.3v1.3h-1.3zm4.5 -0.9h1.3v1.3h-1.3zm0.3 0.2h1.3v1.3h-1.3zm4.7 0h1.3v1.3h-1.3zm3.9 0.2h1.3v1.3h-1.3zm2.7 -0.3h1.3v1.3h-1.3zm0.9 0.6h1.3v1.3h-1.3zm0.9 -0.7h1.3v1.3h-1.3zm2.4 0.6h1.3v1.3h-1.3zm1.9 -0.6h1.3v1.3h-1.3zm2.5 0.8h1.3v1.3h-1.3zm0.1 -0.7h1.3v1.3h-1.3zm5.7 0.6h1.3v1.3h-1.3zm2.2 -0.3h1.3v1.3h-1.3zm13.6 0h1.3v1.3h-1.3zm-87.6 1h1.3v1.3h-1.3zm25.5 0h1.3v1.3h-1.3zm4.2 0h1.3v1.3h-1.3zm14.9 0h1.3v1.3h-1.3zm12.8 0.2h1.3v1.3h-1.3zm0.4 -0.6h1.3v1.3h-1.3zm9.4 0.8h1.3v1.3h-1.3zm2.2 -0.1h1.3v1.3h-1.3zm5.8 -0.2h1.3v1.3h-1.3zm1 0.2h1.3v1.3h-1.3zm11.7 0h1.3v1.3h-1.3zm-67.2 0.4h1.3v1.3h-1.3zm3.2 -0.1h1.3v1.3h-1.3zm12.5 0h1.3v1.3h-1.3zm13.2 0.3h1.3v1.3h-1.3zm2.1 0.5h1.3v1.3h-1.3zm4 -0.1h1.3v1.3h-1.3zm1.3 0.1h1.3v1.3h-1.3zm2.2 0.1h1.3v1.3h-1.3zm1.7 -0.3h1.3v1.3h-1.3zm0.2 0.2h1.3v1.3h-1.3zm0.9 -0.4h1.3v1.3h-1.3zm0.3 0.3h1.3v1.3h-1.3zm3.7 -0.7h1.3v1.3h-1.3zm2.7 0.8h1.3v1.3h-1.3zm0.4 -0.3h1.3v1.3h-1.3zm15.7 0h1.3v1.3h-1.3zm-83.7 0.8h1.3v1.3h-1.3zm2.3 -0.3h1.3v1.3h-1.3zm2.9 0.5h1.3v1.3h-1.3zm0.9 0h1.3v1.3h-1.3zm16.2 -0.3h1.3v1.3h-1.3zm22.8 -0.2h1.3v1.3h-1.3zm12 0.4h1.3v1.3h-1.3zm0.3 -0.3h1.3v1.3h-1.3zm2.1 0.1h1.3v1.3h-1.3zm3.8 0h1.3v1.3h-1.3zm0.8 0.5h1.3v1.3h-1.3zm-65.2 0.5h1.3v1.3h-1.3zm13.8 0.6h1.3v1.3h-1.3zm17.8 -0.8h1.3v1.3h-1.3zm1 0.1h1.3v1.3h-1.3zm4.1 0.8h1.3v1.3h-1.3zm6.3 -0.5h1.3v1.3h-1.3zm10.7 0.3h1.3v1.3h-1.3zm0.4 -0.2h1.3v1.3h-1.3zm11.8 -0.4h1.3v1.3h-1.3zm1.4 0.4h1.3v1.3h-1.3zm-70.7 0.5h1.3v1.3h-1.3zm6 0.1h1.3v1.3h-1.3zm28.5 0.5h1.3v1.3h-1.3zm28.4 -0.2h1.3v1.3h-1.3zm3 0.1h1.3v1.3h-1.3zm1 -0.3h1.3v1.3h-1.3zm0.2 -0.2h1.3v1.3h-1.3zm1.1 0h1.3v1.3h-1.3zm1.9 0h1.3v1.3h-1.3zm21.5 0.2h1.3v1.3h-1.3zm-95.9 1.2h1.3v1.3h-1.3zm0.6 -0.3h1.3v1.3h-1.3zm21.6 0.6h1.3v1.3h-1.3zm2.2 0.2h1.3v1.3h-1.3zm0.6 -0.9h1.3v1.3h-1.3zm13.6 0.1h1.3v1.3h-1.3zm4.8 1.1h1.3v1.3h-1.3zm14.5 0.1h1.3v1.3h-1.3zm6.9 -0.2h1.3v1.3h-1.3zm2.5 0h1.3v1.3h-1.3zm2.5 0.8h1.3v1.3h-1.3zm0.2 -0.7h1.3v1.3h-1.3zm6.5 0.5h1.3v1.3h-1.3zm-66.1 0.3h1.3v1.3h-1.3zm8.1 0.5h1.3v1.3h-1.3zm1.1 -0.5h1.3v1.3h-1.3zm13.2 0.5h1.3v1.3h-1.3zm5.4 0h1.3v1.3h-1.3zm22.9 0.3h1.3v1.3h-1.3zm7 0h1.3v1.3h-1.3zm-72.9 0.3h1.3v1.3h-1.3zm77.6 0.1h1.3v1.3h-1.3zm11.8 0.4h1.3v1.3h-1.3zm-90.6 1h1.3v1.3h-1.3zm72.8 -0.3h1.3v1.3h-1.3zm2.8 -0.3h1.3v1.3h-1.3zm-5.4 1.4h1.3v1.3h-1.3zm3.4 0.8h1.3v1.3h-1.3zm3.6 0.2h1.3v1.3h-1.3zm0.5 -0.3h1.3v1.3h-1.3zm8.1 0.9h1.3v1.3h-1.3zm-19 1.8h1.3v1.3h-1.3zm11.5 -0.1h1.3v1.3h-1.3zm3.5 0h1.3v1.3h-1.3zm-0.7 1h1.3v1.3h-1.3zm-7.5 0.5h1.3v1.3h-1.3zm3.6 0h1.3v1.3h-1.3zm-1.5 1.9h1.3v1.3h-1.3zm-20.9 1.1h1.3v1.3h-1.3zm2.3 0.7h1.3v1.3h-1.3zm11.3 0h1.3v1.3h-1.3zm6.2 -0.1h1.3v1.3h-1.3zm0.4 0.1h1.3v1.3h-1.3zm2.7 0.9h1.3v1.3h-1.3zm-54.3 0.7h1.3v1.3h-1.3zm32.9 0.2h1.3v1.3h-1.3zm6.7 -0.4h1.3v1.3h-1.3zm6.4 0.4h1.3v1.3h-1.3zm11.1 -0.2h1.3v1.3h-1.3zm-17.4 1.4h1.3v1.3h-1.3zm2.2 -0.5h1.3v1.3h-1.3zm4.8 0.2h1.3v1.3h-1.3zm4.8 0.2h1.3v1.3h-1.3zm1.3 -0.6h1.3v1.3h-1.3zm0.2 1.2h1.3v1.3h-1.3zm1.3 -0.1h1.3v1.3h-1.3zm1.4 -0.1h1.3v1.3h-1.3zm-15 1h1.3v1.3h-1.3zm6.5 0.2h1.3v1.3h-1.3zm-47.7 1.1h1.3v1.3h-1.3zm8.2 -0.4h1.3v1.3h-1.3zm16.5 0.5h1.3v1.3h-1.3zm16.2 1h1.3v1.3h-1.3zm9.4 0h1.3v1.3h-1.3zm-10.5 0.4h1.3v1.3h-1.3zm19.7 0h1.3v1.3h-1.3zm2.8 0.3h1.3v1.3h-1.3zm-9.1 0.7h1.3v1.3h-1.3zm1.6 0.4h1.3v1.3h-1.3zm-73.8 1.1h1.3v1.3h-1.3zm7.2 0.2h1.3v1.3h-1.3zm44.3 -0.1h1.3v1.3h-1.3zm7.7 0h1.3v1.3h-1.3zm2.1 -0.4h1.3v1.3h-1.3zm2.9 0.6h1.3v1.3h-1.3zm5.1 1h1.3v1.3h-1.3zm1.2 -0.6h1.3v1.3h-1.3zm-0.7 1.2h1.3v1.3h-1.3zm-79.3 0.8h1.3v1.3h-1.3zm68 -0.2h1.3v1.3h-1.3zm12.2 0h1.3v1.3h-1.3zm3.5 0.5h1.3v1.3h-1.3zm9.4 -0.4h1.3v1.3h-1.3zm-91.3 0.9h1.3v1.3h-1.3zm70.6 0.3h1.3v1.3h-1.3zm2.5 0.1h1.3v1.3h-1.3zm15.3 -0.4h1.3v1.3h-1.3zm9.8 0.9h1.3v1.3h-1.3zm-24.3 0.9h1.3v1.3h-1.3zm-5.2 1.1h1.3v1.3h-1.3zm4.3 -0.4h1.3v1.3h-1.3zm8.1 -0.3h1.3v1.3h-1.3zm-79.3 1.5h1.3v1.3h-1.3zm76.9 -0.2h1.3v1.3h-1.3zm-84.7 1.3h1.3v1.3h-1.3zm19.6 0h1.3v1.3h-1.3zm61.9 -0.6h1.3v1.3h-1.3zm16.8 0.1h1.3v1.3h-1.3zm-21.6 1.1h1.3v1.3h-1.3zm11.1 -0.3h1.3v1.3h-1.3zm-83.5 1.7h1.3v1.3h-1.3zm71.7 0h1.3v1.3h-1.3zm4.8 -0.8h1.3v1.3h-1.3zm-93.4 1.5h1.3v1.3h-1.3zm17.9 0.4h1.3v1.3h-1.3zm37.3 -0.2h1.3v1.3h-1.3zm31.8 -0.2h1.3v1.3h-1.3zm6.7 0h1.3v1.3h-1.3zm-79.8 0.6h1.3v1.3h-1.3zm5.3 0.2h1.3v1.3h-1.3zm4.9 0.2h1.3v1.3h-1.3zm2.7 0.4h1.3v1.3h-1.3zm67.9 -0.7h1.3v1.3h-1.3zm3.6 0h1.3v1.3h-1.3zm0.9 0.1h1.3v1.3h-1.3zm-45 1.1h1.3v1.3h-1.3zm46.6 0.2h1.3v1.3h-1.3zm4.8 0.2h1.3v1.3h-1.3zm-75.8 0.7h1.3v1.3h-1.3zm2.4 -0.5h1.3v1.3h-1.3zm45.5 0.3h1.3v1.3h-1.3zm4.3 -0.3h1.3v1.3h-1.3zm-67.9 1.9h1.3v1.3h-1.3zm5.3 -0.3h1.3v1.3h-1.3zm3.8 -0.6h1.3v1.3h-1.3zm0.2 0.9h1.3v1.3h-1.3zm64.6 -0.7h1.3v1.3h-1.3zm2.8 0.2h1.3v1.3h-1.3zm1.1 0.1h1.3v1.3h-1.3zm-70.3 0.6h1.3v1.3h-1.3zm2.3 0.2h1.3v1.3h-1.3zm77.8 0.6h1.3v1.3h-1.3zm-78.4 0.7h1.3v1.3h-1.3zm-11.3 1.1h1.3v1.3h-1.3zm4.9 -0.1h1.3v1.3h-1.3zm2.8 -0.5h1.3v1.3h-1.3zm2 0.7h1.3v1.3h-1.3zm0.7 -0.2h1.3v1.3h-1.3zm0.1 0.1h1.3v1.3h-1.3zm4.5 -0.7h1.3v1.3h-1.3zm3 0.7h1.3v1.3h-1.3zm-23.4 0.5h1.3v1.3h-1.3zm6.3 -0.2h1.3v1.3h-1.3zm11.8 0.8h1.3v1.3h-1.3zm9.1 -0.8h1.3v1.3h-1.3zm74.9 0.9h1.3v1.3h-1.3zm-108 0.7h1.3v1.3h-1.3zm6.6 0.3h1.3v1.3h-1.3zm2.6 -0.3h1.3v1.3h-1.3zm3.8 -0.6h1.3v1.3h-1.3zm0.5 0.4h1.3v1.3h-1.3zm2.1 0.2h1.3v1.3h-1.3zm0.6 0h1.3v1.3h-1.3zm3.7 0.1h1.3v1.3h-1.3zm1.6 -0.3h1.3v1.3h-1.3zm4.9 -0.2h1.3v1.3h-1.3zm0.7 0.4h1.3v1.3h-1.3zm43.9 -0.6h1.3v1.3h-1.3zm27.3 0.5h1.3v1.3h-1.3zm-90.4 1.3h1.3v1.3h-1.3zm4.2 0h1.3v1.3h-1.3zm3.7 -0.7h1.3v1.3h-1.3zm2.3 0h1.3v1.3h-1.3zm0.2 0.6h1.3v1.3h-1.3zm0.5 0.2h1.3v1.3h-1.3zm5.5 -0.6h1.3v1.3h-1.3zm0.4 0.5h1.3v1.3h-1.3zm46.4 -0.3h1.3v1.3h-1.3zm20.4 0h1.3v1.3h-1.3zm0.2 0.2h1.3v1.3h-1.3zm4.9 -0.7h1.3v1.3h-1.3zm5.7 0.6h1.3v1.3h-1.3zm5.7 -0.2h1.3v1.3h-1.3zm-105.3 1h1.3v1.3h-1.3zm4.9 0.1h1.3v1.3h-1.3zm4.8 -0.1h1.3v1.3h-1.3zm0.1 -0.4h1.3v1.3h-1.3zm0.3 0.9h1.3v1.3h-1.3zm3.7 -0.5h1.3v1.3h-1.3zm1.1 0.2h1.3v1.3h-1.3zm3.2 0.2h1.3v1.3h-1.3zm0 -0.5h1.3v1.3h-1.3zm1.1 0.2h1.3v1.3h-1.3zm1.8 -0.1h1.3v1.3h-1.3zm0.6 -0.4h1.3v1.3h-1.3zm0.5 0.8h1.3v1.3h-1.3zm0.8 -0.1h1.3v1.3h-1.3zm6.5 -0.6h1.3v1.3h-1.3zm7.9 0.2h1.3v1.3h-1.3zm0.8 0.1h1.3v1.3h-1.3zm2 -0.4h1.3v1.3h-1.3zm1 0.4h1.3v1.3h-1.3zm6.5 -0.1h1.3v1.3h-1.3zm27 0.5h1.3v1.3h-1.3zm10.7 -0.5h1.3v1.3h-1.3zm9.6 0.4h1.3v1.3h-1.3zm-82.7 0.7h1.3v1.3h-1.3zm3.5 0h1.3v1.3h-1.3zm1.1 0.3h1.3v1.3h-1.3zm0.8 0.2h1.3v1.3h-1.3zm2.5 -0.5h1.3v1.3h-1.3zm1.1 0.4h1.3v1.3h-1.3zm0 -0.4h1.3v1.3h-1.3zm0.2 -0.4h1.3v1.3h-1.3zm3.7 0.7h1.3v1.3h-1.3zm-22.9 1.2h1.3v1.3h-1.3zm3 -0.1h1.3v1.3h-1.3zm1.6 0.1h1.3v1.3h-1.3zm1.4 -0.3h1.3v1.3h-1.3zm6.6 0.2h1.3v1.3h-1.3zm0.3 -0.3h1.3v1.3h-1.3zm1.1 0.4h1.3v1.3h-1.3zm0 -0.8h1.3v1.3h-1.3zm0.5 0.2h1.3v1.3h-1.3zm3.9 0.4h1.3v1.3h-1.3zm1 0.2h1.3v1.3h-1.3zm3.4 0h1.3v1.3h-1.3zm0.8 -0.2h1.3v1.3h-1.3zm20.3 0.2h1.3v1.3h-1.3zm1.2 -0.9h1.3v1.3h-1.3zm6.8 0.9h1.3v1.3h-1.3zm-60.2 0.1h1.3v1.3h-1.3zm6.5 0.5h1.3v1.3h-1.3zm0.2 -0.4h1.3v1.3h-1.3zm1.2 -0.1h1.3v1.3h-1.3zm5.6 0.6h1.3v1.3h-1.3zm2.1 0.1h1.3v1.3h-1.3zm1.9 0h1.3v1.3h-1.3zm2.9 -0.4h1.3v1.3h-1.3zm0.1 -0.2h1.3v1.3h-1.3zm0.5 0.8h1.3v1.3h-1.3zm0.3 -0.5h1.3v1.3h-1.3zm1.1 0.4h1.3v1.3h-1.3zm2.6 -0.7h1.3v1.3h-1.3zm10.4 0.2h1.3v1.3h-1.3zm30.2 0.6h1.3v1.3h-1.3zm7 -0.4h1.3v1.3h-1.3zm2.2 0.2h1.3v1.3h-1.3zm17.1 -0.3h1.3v1.3h-1.3zm0.6 0.3h1.3v1.3h-1.3zm5.2 0h1.3v1.3h-1.3zm1.2 0h1.3v1.3h-1.3zm1.3 -0.7h1.3v1.3h-1.3zm-91.1 1.2h1.3v1.3h-1.3zm0.6 0.4h1.3v1.3h-1.3zm6.6 -0.2h1.3v1.3h-1.3zm3.9 -0.2h1.3v1.3h-1.3zm3.2 0.3h1.3v1.3h-1.3zm0.2 0.3h1.3v1.3h-1.3zm0.4 -0.4h1.3v1.3h-1.3zm1.2 -0.3h1.3v1.3h-1.3zm0.9 0.7h1.3v1.3h-1.3zm0 0.1h1.3v1.3h-1.3zm0 -0.5h1.3v1.3h-1.3zm0.9 0.1h1.3v1.3h-1.3zm0.3 0h1.3v1.3h-1.3zm1 0.4h1.3v1.3h-1.3zm0.7 -0.1h1.3v1.3h-1.3zm5.2 -0.1h1.3v1.3h-1.3zm1.5 -0.7h1.3v1.3h-1.3zm51.1 0.1h1.3v1.3h-1.3zm-78.4 0.9h1.3v1.3h-1.3zm0.7 0.8h1.3v1.3h-1.3zm1.4 0.1h1.3v1.3h-1.3zm0.9 -0.6h1.3v1.3h-1.3zm4.5 -0.2h1.3v1.3h-1.3zm0.6 0.1h1.3v1.3h-1.3zm2 0.2h1.3v1.3h-1.3zm0.9 0h1.3v1.3h-1.3zm0.7 0.1h1.3v1.3h-1.3zm0.2 -0.2h1.3v1.3h-1.3zm5.1 -0.3h1.3v1.3h-1.3zm0.9 0.3h1.3v1.3h-1.3zm1.5 0h1.3v1.3h-1.3zm2 -0.2h1.3v1.3h-1.3zm1.1 0.7h1.3v1.3h-1.3zm4.2 -0.1h1.3v1.3h-1.3zm46 0h1.3v1.3h-1.3zm0.1 0.1h1.3v1.3h-1.3zm9.8 -0.3h1.3v1.3h-1.3zm5.3 -0.2h1.3v1.3h-1.3zm0.1 0.4h1.3v1.3h-1.3zm7.8 0h1.3v1.3h-1.3zm5.2 0.1h1.3v1.3h-1.3zm-101.5 0.8h1.3v1.3h-1.3zm1.3 0.1h1.3v1.3h-1.3zm3 -0.3h1.3v1.3h-1.3zm5.7 0.2h1.3v1.3h-1.3zm2.7 0.1h1.3v1.3h-1.3zm2.6 -0.1h1.3v1.3h-1.3zm2.7 -0.3h1.3v1.3h-1.3zm1.9 0.3h1.3v1.3h-1.3zm0.5 -0.2h1.3v1.3h-1.3zm2.2 -0.1h1.3v1.3h-1.3zm2 0.2h1.3v1.3h-1.3zm1.4 -0.1h1.3v1.3h-1.3zm1.2 0.5h1.3v1.3h-1.3zm0.4 -0.7h1.3v1.3h-1.3zm0.4 0.1h1.3v1.3h-1.3zm0.4 0h1.3v1.3h-1.3zm40.5 0.5h1.3v1.3h-1.3zm5.2 -0.5h1.3v1.3h-1.3zm2.2 0.3h1.3v1.3h-1.3zm7.5 -0.6h1.3v1.3h-1.3zm6.9 0.9h1.3v1.3h-1.3zm2.2 -0.8h1.3v1.3h-1.3zm-99.9 0.9h1.3v1.3h-1.3zm10.1 0.1h1.3v1.3h-1.3zm0.7 0.1h1.3v1.3h-1.3zm1.5 0.7h1.3v1.3h-1.3zm0.6 0h1.3v1.3h-1.3zm1.5 -0.6h1.3v1.3h-1.3zm0.5 0.5h1.3v1.3h-1.3zm0.3 -0.3h1.3v1.3h-1.3zm2.1 -0.3h1.3v1.3h-1.3zm1.6 0.3h1.3v1.3h-1.3zm0.2 -0.4h1.3v1.3h-1.3zm1.9 0.2h1.3v1.3h-1.3zm1.2 -0.3h1.3v1.3h-1.3zm0.8 0.9h1.3v1.3h-1.3zm1 -0.3h1.3v1.3h-1.3zm0.4 0.3h1.3v1.3h-1.3zm0.6 -0.6h1.3v1.3h-1.3zm0.4 -0.3h1.3v1.3h-1.3zm2.8 0.3h1.3v1.3h-1.3zm11.9 -0.1h1.3v1.3h-1.3zm0.4 0.6h1.3v1.3h-1.3zm34.7 0h1.3v1.3h-1.3zm1.2 0.1h1.3v1.3h-1.3zm11.7 -0.5h1.3v1.3h-1.3zm-80.5 0.6h1.3v1.3h-1.3zm1.7 0.2h1.3v1.3h-1.3zm2.4 0.3h1.3v1.3h-1.3zm3 -0.1h1.3v1.3h-1.3zm1.8 0.2h1.3v1.3h-1.3zm0.5 -0.5h1.3v1.3h-1.3zm1.9 0h1.3v1.3h-1.3zm0.4 0.8h1.3v1.3h-1.3zm0.9 -0.6h1.3v1.3h-1.3zm1.4 0.2h1.3v1.3h-1.3zm3.3 -0.1h1.3v1.3h-1.3zm0.9 -0.3h1.3v1.3h-1.3zm3.3 0.4h1.3v1.3h-1.3zm1 0.4h1.3v1.3h-1.3zm12.7 0h1.3v1.3h-1.3zm29.4 -0.9h1.3v1.3h-1.3zm11 0.9h1.3v1.3h-1.3zm13.4 -0.7h1.3v1.3h-1.3zm0.9 0.6h1.3v1.3h-1.3zm-91.9 0.4h1.3v1.3h-1.3zm6.5 0.2h1.3v1.3h-1.3zm0.1 -0.4h1.3v1.3h-1.3zm3.5 0.8h1.3v1.3h-1.3zm0.7 -0.3h1.3v1.3h-1.3zm5 0.3h1.3v1.3h-1.3zm1.2 -0.6h1.3v1.3h-1.3zm0.7 0.6h1.3v1.3h-1.3zm0.7 0.1h1.3v1.3h-1.3zm2.1 -0.1h1.3v1.3h-1.3zm0.2 -0.7h1.3v1.3h-1.3zm1.8 0.2h1.3v1.3h-1.3zm0.8 0.6h1.3v1.3h-1.3zm0.1 -0.6h1.3v1.3h-1.3zm16.1 0.4h1.3v1.3h-1.3zm1.7 -0.5h1.3v1.3h-1.3zm77.1 0h1.3v1.3h-1.3zm-117.3 1.4h1.3v1.3h-1.3zm3.5 0.2h1.3v1.3h-1.3zm0.4 -0.4h1.3v1.3h-1.3zm2.4 -0.3h1.3v1.3h-1.3zm0.8 0.5h1.3v1.3h-1.3zm4.8 -0.2h1.3v1.3h-1.3zm0.1 0.4h1.3v1.3h-1.3zm0.9 -0.1h1.3v1.3h-1.3zm0.6 -0.6h1.3v1.3h-1.3zm0.8 0.5h1.3v1.3h-1.3zm8.9 -0.2h1.3v1.3h-1.3zm3.2 -0.3h1.3v1.3h-1.3zm16.6 0.1h1.3v1.3h-1.3zm21.9 0.5h1.3v1.3h-1.3zm3.2 -0.1h1.3v1.3h-1.3zm19.9 0.2h1.3v1.3h-1.3zm-86.4 0.2h1.3v1.3h-1.3zm1.2 0h1.3v1.3h-1.3zm3.3 0.8h1.3v1.3h-1.3zm1.6 -0.8h1.3v1.3h-1.3zm0.9 0.4h1.3v1.3h-1.3zm1.2 0.3h1.3v1.3h-1.3zm0.3 -0.4h1.3v1.3h-1.3zm1.4 0h1.3v1.3h-1.3zm1 0.6h1.3v1.3h-1.3zm0.3 -0.2h1.3v1.3h-1.3zm1.3 -0.5h1.3v1.3h-1.3zm1.2 0.3h1.3v1.3h-1.3zm3.4 0.4h1.3v1.3h-1.3zm3.3 -0.4h1.3v1.3h-1.3zm1.9 0.3h1.3v1.3h-1.3zm2.4 -0.8h1.3v1.3h-1.3zm1.3 0.6h1.3v1.3h-1.3zm4 -0.5h1.3v1.3h-1.3zm0.8 0.7h1.3v1.3h-1.3zm32.4 -0.7h1.3v1.3h-1.3zm12.4 0.4h1.3v1.3h-1.3zm1 -0.3h1.3v1.3h-1.3zm15.4 0.3h1.3v1.3h-1.3zm-111.2 1.4h1.3v1.3h-1.3zm18.5 -0.4h1.3v1.3h-1.3zm3.6 -0.3h1.3v1.3h-1.3zm2.7 -0.2h1.3v1.3h-1.3zm1.7 0h1.3v1.3h-1.3zm0.6 0.5h1.3v1.3h-1.3zm1.5 0.1h1.3v1.3h-1.3zm0.3 -0.4h1.3v1.3h-1.3zm3.3 0h1.3v1.3h-1.3zm0.2 -0.1h1.3v1.3h-1.3zm1.3 -0.1h1.3v1.3h-1.3zm0.6 0.9h1.3v1.3h-1.3zm0.6 0h1.3v1.3h-1.3zm5.7 -0.8h1.3v1.3h-1.3zm2 0.5h1.3v1.3h-1.3zm0.3 -0.4h1.3v1.3h-1.3zm2.8 0.3h1.3v1.3h-1.3zm38.2 0.3h1.3v1.3h-1.3zm1 -0.1h1.3v1.3h-1.3zm0.7 -0.3h1.3v1.3h-1.3zm-70.8 0.9h1.3v1.3h-1.3zm5.7 -0.3h1.3v1.3h-1.3zm1.4 0h1.3v1.3h-1.3zm4.8 0h1.3v1.3h-1.3zm1.2 0.3h1.3v1.3h-1.3zm0.3 0.4h1.3v1.3h-1.3zm1.9 -0.4h1.3v1.3h-1.3zm1.2 -0.3h1.3v1.3h-1.3zm0.5 0.7h1.3v1.3h-1.3zm2.9 -0.1h1.3v1.3h-1.3zm1.8 -0.4h1.3v1.3h-1.3zm0.1 -0.1h1.3v1.3h-1.3zm0.6 0h1.3v1.3h-1.3zm0.2 0.7h1.3v1.3h-1.3zm1.8 0.1h1.3v1.3h-1.3zm1.4 0h1.3v1.3h-1.3zm0.1 -0.6h1.3v1.3h-1.3zm0.3 0.5h1.3v1.3h-1.3zm0.9 -0.8h1.3v1.3h-1.3zm6.3 0.9h1.3v1.3h-1.3zm45.9 -0.6h1.3v1.3h-1.3zm8.9 0.6h1.3v1.3h-1.3zm-86.6 0.5h1.3v1.3h-1.3zm3 0.4h1.3v1.3h-1.3zm0.8 0.1h1.3v1.3h-1.3zm0.8 -0.9h1.3v1.3h-1.3zm1.4 0.6h1.3v1.3h-1.3zm0.1 0.1h1.3v1.3h-1.3zm0.3 -0.7h1.3v1.3h-1.3zm1.1 0.1h1.3v1.3h-1.3zm1.6 0.6h1.3v1.3h-1.3zm1.7 -0.4h1.3v1.3h-1.3zm0.7 -0.2h1.3v1.3h-1.3zm2.4 0.4h1.3v1.3h-1.3zm2.3 -0.5h1.3v1.3h-1.3zm1.2 0.5h1.3v1.3h-1.3zm0.1 0.2h1.3v1.3h-1.3zm0.3 -0.5h1.3v1.3h-1.3zm0.6 -0.1h1.3v1.3h-1.3zm0.8 0.4h1.3v1.3h-1.3zm0.4 0.4h1.3v1.3h-1.3zm0.1 -0.7h1.3v1.3h-1.3zm3.4 0.5h1.3v1.3h-1.3zm1.8 -0.1h1.3v1.3h-1.3zm1 0.3h1.3v1.3h-1.3zm0.1 -0.6h1.3v1.3h-1.3zm13.7 0.5h1.3v1.3h-1.3zm35.7 -0.2h1.3v1.3h-1.3zm3.8 -0.5h1.3v1.3h-1.3zm13.6 0h1.3v1.3h-1.3zm-93.2 1.4h1.3v1.3h-1.3zm0.9 -0.1h1.3v1.3h-1.3zm1.3 -0.4h1.3v1.3h-1.3zm0.5 0.3h1.3v1.3h-1.3zm0.5 0.1h1.3v1.3h-1.3zm1.3 0.4h1.3v1.3h-1.3zm5.5 -0.5h1.3v1.3h-1.3zm0.8 0.2h1.3v1.3h-1.3zm0.8 0h1.3v1.3h-1.3zm1.5 -0.4h1.3v1.3h-1.3zm0 0.8h1.3v1.3h-1.3zm0 -0.6h1.3v1.3h-1.3zm0.5 0.6h1.3v1.3h-1.3zm0.6 -0.9h1.3v1.3h-1.3zm1.2 0.9h1.3v1.3h-1.3zm0.7 -0.5h1.3v1.3h-1.3zm0.2 0.1h1.3v1.3h-1.3zm3.3 0.3h1.3v1.3h-1.3zm1.5 -0.4h1.3v1.3h-1.3zm1.3 0.3h1.3v1.3h-1.3zm1.1 -0.1h1.3v1.3h-1.3zm1.1 0.2h1.3v1.3h-1.3zm3.7 -0.2h1.3v1.3h-1.3zm3.2 0.2h1.3v1.3h-1.3zm3.6 -0.4h1.3v1.3h-1.3zm11 0.1h1.3v1.3h-1.3zm19.9 0.3h1.3v1.3h-1.3zm21.9 -0.3h1.3v1.3h-1.3zm4.4 0.1h1.3v1.3h-1.3zm-109.2 1.1h1.3v1.3h-1.3zm8.7 -0.1h1.3v1.3h-1.3zm2 0.3h1.3v1.3h-1.3zm1.3 -0.1h1.3v1.3h-1.3zm0.6 0.1h1.3v1.3h-1.3zm2.6 -0.3h1.3v1.3h-1.3zm1.7 0.3h1.3v1.3h-1.3zm0.1 -0.9h1.3v1.3h-1.3zm1.8 0.4h1.3v1.3h-1.3zm0.2 0.3h1.3v1.3h-1.3zm0.3 -0.3h1.3v1.3h-1.3zm2.5 -0.1h1.3v1.3h-1.3zm0.9 0.1h1.3v1.3h-1.3zm0.2 0.4h1.3v1.3h-1.3zm1 -0.6h1.3v1.3h-1.3zm1 0.3h1.3v1.3h-1.3zm1.9 -0.3h1.3v1.3h-1.3zm0.6 0.1h1.3v1.3h-1.3zm0.1 -0.2h1.3v1.3h-1.3zm1.2 0.8h1.3v1.3h-1.3zm0.3 -0.6h1.3v1.3h-1.3zm0.9 0.3h1.3v1.3h-1.3zm0.7 0h1.3v1.3h-1.3zm4.8 -0.5h1.3v1.3h-1.3zm0.2 0.6h1.3v1.3h-1.3zm2.4 -0.6h1.3v1.3h-1.3zm2.8 0.1h1.3v1.3h-1.3zm1.6 0.7h1.3v1.3h-1.3zm0.4 -0.3h1.3v1.3h-1.3zm6.3 0h1.3v1.3h-1.3zm9.3 -0.2h1.3v1.3h-1.3zm18.6 0.4h1.3v1.3h-1.3zm11.5 -0.7h1.3v1.3h-1.3zm0.4 0.5h1.3v1.3h-1.3zm19.4 0h1.3v1.3h-1.3zm-108.1 1.2h1.3v1.3h-1.3zm5.8 -0.1h1.3v1.3h-1.3zm3.5 -0.1h1.3v1.3h-1.3zm0.9 -0.1h1.3v1.3h-1.3zm1.7 0h1.3v1.3h-1.3zm0.6 -0.1h1.3v1.3h-1.3zm1.1 0.2h1.3v1.3h-1.3zm0.6 0.1h1.3v1.3h-1.3zm0.2 0h1.3v1.3h-1.3zm1.7 -0.5h1.3v1.3h-1.3zm0.7 0.7h1.3v1.3h-1.3zm0.5 -0.1h1.3v1.3h-1.3zm1.9 -0.8h1.3v1.3h-1.3zm0.8 0.2h1.3v1.3h-1.3zm0.2 0.1h1.3v1.3h-1.3zm2 0.4h1.3v1.3h-1.3zm0.6 0h1.3v1.3h-1.3zm0.3 -0.2h1.3v1.3h-1.3zm0.3 0.1h1.3v1.3h-1.3zm0.9 -0.4h1.3v1.3h-1.3zm0 0h1.3v1.3h-1.3zm0.3 0.2h1.3v1.3h-1.3zm1.8 0.3h1.3v1.3h-1.3zm0.3 -0.2h1.3v1.3h-1.3zm1.1 -0.2h1.3v1.3h-1.3zm0.8 0.4h1.3v1.3h-1.3zm0.4 -0.5h1.3v1.3h-1.3zm0.7 -0.1h1.3v1.3h-1.3zm2.2 0.3h1.3v1.3h-1.3zm2.8 -0.3h1.3v1.3h-1.3zm0.7 -0.1h1.3v1.3h-1.3zm2.8 0.3h1.3v1.3h-1.3zm1.6 0.3h1.3v1.3h-1.3zm3.9 -0.5h1.3v1.3h-1.3zm1.1 0.3h1.3v1.3h-1.3zm1.9 -0.3h1.3v1.3h-1.3zm3 0h1.3v1.3h-1.3zm1.1 0.2h1.3v1.3h-1.3zm16.6 0.1h1.3v1.3h-1.3zm3.5 0.4h1.3v1.3h-1.3zm9.2 -0.2h1.3v1.3h-1.3zm1 -0.4h1.3v1.3h-1.3zm1.9 -0.2h1.3v1.3h-1.3zm4 0.5h1.3v1.3h-1.3zm5 0.3h1.3v1.3h-1.3zm0.3 -0.8h1.3v1.3h-1.3zm4.4 0.3h1.3v1.3h-1.3zm4.4 -0.3h1.3v1.3h-1.3zm-99.5 1.1h1.3v1.3h-1.3zm1.5 0.6h1.3v1.3h-1.3zm1.1 -0.1h1.3v1.3h-1.3zm0.5 0.1h1.3v1.3h-1.3zm2.5 -0.6h1.3v1.3h-1.3zm0.2 0.6h1.3v1.3h-1.3zm1.3 -0.2h1.3v1.3h-1.3zm1.7 0.3h1.3v1.3h-1.3zm0.5 -0.8h1.3v1.3h-1.3zm1.8 0.4h1.3v1.3h-1.3zm0.9 -0.3h1.3v1.3h-1.3zm15.7 0.1h1.3v1.3h-1.3zm0.2 0.3h1.3v1.3h-1.3zm0.3 0.3h1.3v1.3h-1.3zm0.1 -0.7h1.3v1.3h-1.3zm0.3 0h1.3v1.3h-1.3zm0.5 0.6h1.3v1.3h-1.3zm1.8 -0.5h1.3v1.3h-1.3zm3.8 -0.1h1.3v1.3h-1.3zm1.8 -0.1h1.3v1.3h-1.3zm0.3 0.9h1.3v1.3h-1.3zm0.7 -0.2h1.3v1.3h-1.3zm2.9 0h1.3v1.3h-1.3zm3.6 -0.5h1.3v1.3h-1.3zm2.5 0.2h1.3v1.3h-1.3zm34.9 0.5h1.3v1.3h-1.3zm3.6 -0.6h1.3v1.3h-1.3zm5 0h1.3v1.3h-1.3zm7.4 -0.2h1.3v1.3h-1.3zm-92.9 1.1h1.3v1.3h-1.3zm0.8 0.2h1.3v1.3h-1.3zm0.7 0.4h1.3v1.3h-1.3zm0.4 -0.5h1.3v1.3h-1.3zm0.2 -0.2h1.3v1.3h-1.3zm22.2 0.1h1.3v1.3h-1.3zm0.1 0.1h1.3v1.3h-1.3zm0.9 0.1h1.3v1.3h-1.3zm0.7 0.1h1.3v1.3h-1.3zm4.7 -0.5h1.3v1.3h-1.3zm0.7 0h1.3v1.3h-1.3zm4.1 0.6h1.3v1.3h-1.3zm1.3 -0.3h1.3v1.3h-1.3zm4 -0.2h1.3v1.3h-1.3zm44 0.5h1.3v1.3h-1.3zm2.2 -0.2h1.3v1.3h-1.3zm4.6 -0.1h1.3v1.3h-1.3zm5.4 -0.3h1.3v1.3h-1.3zm-102.9 1.8h1.3v1.3h-1.3zm1.4 0h1.3v1.3h-1.3zm0.4 -0.5h1.3v1.3h-1.3zm29.4 -0.3h1.3v1.3h-1.3zm1 0.3h1.3v1.3h-1.3zm0.2 -0.2h1.3v1.3h-1.3zm1.3 0.6h1.3v1.3h-1.3zm0.1 0h1.3v1.3h-1.3zm0.4 -0.1h1.3v1.3h-1.3zm2 -0.2h1.3v1.3h-1.3zm0 -0.3h1.3v1.3h-1.3zm0.9 0h1.3v1.3h-1.3zm0.2 0.8h1.3v1.3h-1.3zm0.6 -0.3h1.3v1.3h-1.3zm2.3 -0.4h1.3v1.3h-1.3zm0.7 0.5h1.3v1.3h-1.3zm1 0h1.3v1.3h-1.3zm2.4 0h1.3v1.3h-1.3zm39 -0.2h1.3v1.3h-1.3zm4.1 -0.2h1.3v1.3h-1.3zm19.7 0.1h1.3v1.3h-1.3zm-104.5 1.2h1.3v1.3h-1.3zm0.7 -0.2h1.3v1.3h-1.3zm30.3 0h1.3v1.3h-1.3zm0.5 0.4h1.3v1.3h-1.3zm0.7 0.1h1.3v1.3h-1.3zm0.8 -0.4h1.3v1.3h-1.3zm2 0.2h1.3v1.3h-1.3zm0.9 -0.2h1.3v1.3h-1.3zm0.3 -0.5h1.3v1.3h-1.3zm0.5 0.9h1.3v1.3h-1.3zm0.5 -0.7h1.3v1.3h-1.3zm0.4 0h1.3v1.3h-1.3zm4 0.5h1.3v1.3h-1.3zm1.1 0h1.3v1.3h-1.3zm2 -0.5h1.3v1.3h-1.3zm34.2 0.2h1.3v1.3h-1.3zm5.7 0h1.3v1.3h-1.3zm1.3 0.1h1.3v1.3h-1.3zm18.4 -0.3h1.3v1.3h-1.3zm-107.7 1.6h1.3v1.3h-1.3zm0.1 -0.3h1.3v1.3h-1.3zm1.6 -0.4h1.3v1.3h-1.3zm0.5 -0.1h1.3v1.3h-1.3zm32.4 0.5h1.3v1.3h-1.3zm1 -0.2h1.3v1.3h-1.3zm1.4 -0.3h1.3v1.3h-1.3zm2 0.6h1.3v1.3h-1.3zm1.4 -0.2h1.3v1.3h-1.3zm0.9 0.5h1.3v1.3h-1.3zm1.9 -0.1h1.3v1.3h-1.3zm0.8 0h1.3v1.3h-1.3zm5.2 -0.4h1.3v1.3h-1.3zm29.1 -0.3h1.3v1.3h-1.3zm0.7 0.8h1.3v1.3h-1.3zm5.7 -0.5h1.3v1.3h-1.3zm4.4 -0.1h1.3v1.3h-1.3zm5 -0.3h1.3v1.3h-1.3zm0.3 0.3h1.3v1.3h-1.3zm3.5 0.3h1.3v1.3h-1.3zm2.9 0.2h1.3v1.3h-1.3zm-102.7 0.7h1.3v1.3h-1.3zm2.5 -0.4h1.3v1.3h-1.3zm0.1 0.3h1.3v1.3h-1.3zm0.1 0.4h1.3v1.3h-1.3zm0.3 -0.1h1.3v1.3h-1.3zm0.2 -0.7h1.3v1.3h-1.3zm36.4 0.5h1.3v1.3h-1.3zm0.6 0.4h1.3v1.3h-1.3zm0.8 -0.2h1.3v1.3h-1.3zm1.8 -0.3h1.3v1.3h-1.3zm1.7 -0.2h1.3v1.3h-1.3zm49.6 -0.2h1.3v1.3h-1.3zm0.2 0.4h1.3v1.3h-1.3zm-98.8 1.2h1.3v1.3h-1.3zm5.1 0.2h1.3v1.3h-1.3zm1.5 -0.8h1.3v1.3h-1.3zm35.3 0.1h1.3v1.3h-1.3zm0.1 0.1h1.3v1.3h-1.3zm0.9 0h1.3v1.3h-1.3zm1.7 0.4h1.3v1.3h-1.3zm2.4 -0.2h1.3v1.3h-1.3zm0.3 -0.4h1.3v1.3h-1.3zm3.1 0.4h1.3v1.3h-1.3zm0.4 0.5h1.3v1.3h-1.3zm33.5 -0.1h1.3v1.3h-1.3zm3.9 -0.7h1.3v1.3h-1.3zm4.3 0.6h1.3v1.3h-1.3zm3.3 -0.4h1.3v1.3h-1.3zm-94 1.5h1.3v1.3h-1.3zm3.3 0.1h1.3v1.3h-1.3zm37.4 -0.3h1.3v1.3h-1.3zm0.9 0.3h1.3v1.3h-1.3zm0 -0.6h1.3v1.3h-1.3zm0.3 -0.3h1.3v1.3h-1.3zm0.6 0.1h1.3v1.3h-1.3zm0.4 0.5h1.3v1.3h-1.3zm0.5 -0.6h1.3v1.3h-1.3zm3.3 0.2h1.3v1.3h-1.3zm6.4 0.5h1.3v1.3h-1.3zm23 -0.4h1.3v1.3h-1.3zm21.2 0.3h1.3v1.3h-1.3zm1.1 0.1h1.3v1.3h-1.3zm-97.2 0.5h1.3v1.3h-1.3zm39.6 0.2h1.3v1.3h-1.3zm0.1 -0.4h1.3v1.3h-1.3zm0.4 0.8h1.3v1.3h-1.3zm3 -0.2h1.3v1.3h-1.3zm2.5 -0.6h1.3v1.3h-1.3zm2.5 0.2h1.3v1.3h-1.3zm2.3 -0.2h1.3v1.3h-1.3zm4.4 0.1h1.3v1.3h-1.3zm20.9 0.4h1.3v1.3h-1.3zm26.9 -0.2h1.3v1.3h-1.3zm11.1 -0.3h1.3v1.3h-1.3zm-121.8 1.3h1.3v1.3h-1.3zm47.6 -0.3h1.3v1.3h-1.3zm0.7 0.6h1.3v1.3h-1.3zm0.3 0.1h1.3v1.3h-1.3zm2.8 -0.2h1.3v1.3h-1.3zm0.5 -0.3h1.3v1.3h-1.3zm1.1 0.4h1.3v1.3h-1.3zm0 -0.6h1.3v1.3h-1.3zm0.8 0.6h1.3v1.3h-1.3zm0.8 -0.6h1.3v1.3h-1.3zm1.3 0.7h1.3v1.3h-1.3zm1.3 -0.4h1.3v1.3h-1.3zm10.6 0.3h1.3v1.3h-1.3zm8.7 -0.1h1.3v1.3h-1.3zm1.4 -0.2h1.3v1.3h-1.3zm18.8 0.3h1.3v1.3h-1.3zm2.6 -0.1h1.3v1.3h-1.3zm11.2 0.4h1.3v1.3h-1.3zm-105 0.3h1.3v1.3h-1.3zm0.6 0.5h1.3v1.3h-1.3zm1.1 -0.7h1.3v1.3h-1.3zm41 0h1.3v1.3h-1.3zm0.4 0.7h1.3v1.3h-1.3zm0.8 -0.4h1.3v1.3h-1.3zm0.4 0.1h1.3v1.3h-1.3zm6 0.3h1.3v1.3h-1.3zm1.7 -0.1h1.3v1.3h-1.3zm1.1 -0.2h1.3v1.3h-1.3zm0.4 0.3h1.3v1.3h-1.3zm34 -0.6h1.3v1.3h-1.3zm5.2 0.6h1.3v1.3h-1.3zm9.6 -0.6h1.3v1.3h-1.3zm4.2 0.1h1.3v1.3h-1.3zm1 0.3h1.3v1.3h-1.3zm-111.2 1.4h1.3v1.3h-1.3zm1.6 -0.4h1.3v1.3h-1.3zm0.9 0.3h1.3v1.3h-1.3zm1.2 0h1.3v1.3h-1.3zm1.3 0.1h1.3v1.3h-1.3zm0.8 -0.7h1.3v1.3h-1.3zm40.4 0.1h1.3v1.3h-1.3zm0.6 -0.2h1.3v1.3h-1.3zm1.5 0.5h1.3v1.3h-1.3zm0.8 0.3h1.3v1.3h-1.3zm0.5 -0.5h1.3v1.3h-1.3zm1 -0.3h1.3v1.3h-1.3zm3 0.2h1.3v1.3h-1.3zm0.9 -0.3h1.3v1.3h-1.3zm0.3 0.4h1.3v1.3h-1.3zm2.7 0.5h1.3v1.3h-1.3zm35.2 -0.6h1.3v1.3h-1.3zm16.8 0.1h1.3v1.3h-1.3zm2 0.5h1.3v1.3h-1.3zm3.9 -0.6h1.3v1.3h-1.3zm8.6 -0.2h1.3v1.3h-1.3zm-121.1 1.5h1.3v1.3h-1.3zm1 -0.3h1.3v1.3h-1.3zm43.1 0.2h1.3v1.3h-1.3zm0.6 0h1.3v1.3h-1.3zm1.2 -0.1h1.3v1.3h-1.3zm0.2 0.3h1.3v1.3h-1.3zm0.7 -0.1h1.3v1.3h-1.3zm1.1 -0.2h1.3v1.3h-1.3zm2.1 0.3h1.3v1.3h-1.3zm1.3 -0.5h1.3v1.3h-1.3zm1.9 0.7h1.3v1.3h-1.3zm2.9 -0.5h1.3v1.3h-1.3zm37.2 0.2h1.3v1.3h-1.3zm-93.5 0.6h1.3v1.3h-1.3zm0.2 0.2h1.3v1.3h-1.3zm0.5 0.1h1.3v1.3h-1.3zm42.7 -0.1h1.3v1.3h-1.3zm0.6 0h1.3v1.3h-1.3zm0.1 0.2h1.3v1.3h-1.3zm0.6 -0.4h1.3v1.3h-1.3zm0.1 -0.2h1.3v1.3h-1.3zm0.9 0h1.3v1.3h-1.3zm2.8 0.7h1.3v1.3h-1.3zm0.3 -0.3h1.3v1.3h-1.3zm3.6 -0.3h1.3v1.3h-1.3zm4.7 0.5h1.3v1.3h-1.3zm26.6 0.3h1.3v1.3h-1.3zm3.3 0h1.3v1.3h-1.3zm7.1 -0.4h1.3v1.3h-1.3zm9.9 0.4h1.3v1.3h-1.3zm2.8 0h1.3v1.3h-1.3zm-109.1 0.4h1.3v1.3h-1.3zm1.3 0.6h1.3v1.3h-1.3zm0.2 -0.3h1.3v1.3h-1.3zm1 0.1h1.3v1.3h-1.3zm0 -0.7h1.3v1.3h-1.3zm0.5 0h1.3v1.3h-1.3zm43.1 0h1.3v1.3h-1.3zm2 0.1h1.3v1.3h-1.3zm0 0.3h1.3v1.3h-1.3zm0.3 0.5h1.3v1.3h-1.3zm1.3 -0.9h1.3v1.3h-1.3zm0.2 0.3h1.3v1.3h-1.3zm3.7 0.5h1.3v1.3h-1.3zm2.1 -0.1h1.3v1.3h-1.3zm0.2 -0.4h1.3v1.3h-1.3zm31.7 0.5h1.3v1.3h-1.3zm32.4 -0.7h1.3v1.3h-1.3zm-121 1.7h1.3v1.3h-1.3zm0.8 -0.8h1.3v1.3h-1.3zm1.3 0.7h1.3v1.3h-1.3zm0.4 -0.7h1.3v1.3h-1.3zm0.2 0.9h1.3v1.3h-1.3zm44.1 -0.8h1.3v1.3h-1.3zm0.1 0.7h1.3v1.3h-1.3zm0.2 -0.3h1.3v1.3h-1.3zm0.3 -0.4h1.3v1.3h-1.3zm0.2 0.2h1.3v1.3h-1.3zm0.4 -0.1h1.3v1.3h-1.3zm0 0.5h1.3v1.3h-1.3zm0.9 0h1.3v1.3h-1.3zm0.7 -0.3h1.3v1.3h-1.3zm1.2 0.3h1.3v1.3h-1.3zm2.2 -0.2h1.3v1.3h-1.3zm3 0.2h1.3v1.3h-1.3zm1.1 -0.2h1.3v1.3h-1.3zm4.4 -0.4h1.3v1.3h-1.3zm33.7 0.8h1.3v1.3h-1.3zm3 -0.6h1.3v1.3h-1.3zm-99.6 1.6h1.3v1.3h-1.3zm0.2 -0.2h1.3v1.3h-1.3zm2.1 -0.3h1.3v1.3h-1.3zm45.7 0.1h1.3v1.3h-1.3zm12.2 0.2h1.3v1.3h-1.3zm2.9 -0.6h1.3v1.3h-1.3zm33.3 0.4h1.3v1.3h-1.3zm5.2 -0.1h1.3v1.3h-1.3zm11.2 0.4h1.3v1.3h-1.3zm10.9 -0.8h1.3v1.3h-1.3zm-122.7 1.9h1.3v1.3h-1.3zm1 -0.9h1.3v1.3h-1.3zm1.3 0h1.3v1.3h-1.3zm44.7 0.6h1.3v1.3h-1.3zm2.6 0h1.3v1.3h-1.3zm0.5 0.3h1.3v1.3h-1.3zm1.9 -0.2h1.3v1.3h-1.3zm0.1 -0.7h1.3v1.3h-1.3zm0.1 0.4h1.3v1.3h-1.3zm3.6 -0.4h1.3v1.3h-1.3zm0.6 0.8h1.3v1.3h-1.3zm0.9 -0.6h1.3v1.3h-1.3zm0.8 0.2h1.3v1.3h-1.3zm0.6 -0.2h1.3v1.3h-1.3zm35.4 -0.2h1.3v1.3h-1.3zm1.2 0.4h1.3v1.3h-1.3zm18.4 -0.1h1.3v1.3h-1.3zm-112.3 1.5h1.3v1.3h-1.3zm0.3 -0.6h1.3v1.3h-1.3zm45.4 -0.2h1.3v1.3h-1.3zm0.9 0.2h1.3v1.3h-1.3zm0.4 0.1h1.3v1.3h-1.3zm0.7 0.4h1.3v1.3h-1.3zm1.9 -0.7h1.3v1.3h-1.3zm3.2 0.1h1.3v1.3h-1.3zm0.5 0.2h1.3v1.3h-1.3zm-55.9 1h1.3v1.3h-1.3zm2.2 0.1h1.3v1.3h-1.3zm46.1 -0.4h1.3v1.3h-1.3zm0.1 0.1h1.3v1.3h-1.3zm0.7 0.3h1.3v1.3h-1.3zm2.2 -0.1h1.3v1.3h-1.3zm3.2 0.6h1.3v1.3h-1.3zm1.6 -0.3h1.3v1.3h-1.3zm0.4 0.3h1.3v1.3h-1.3zm4.7 -0.4h1.3v1.3h-1.3zm7.8 0.2h1.3v1.3h-1.3zm25.3 -0.4h1.3v1.3h-1.3zm19 0.3h1.3v1.3h-1.3zm-117.6 0.9h1.3v1.3h-1.3zm4.8 -0.1h1.3v1.3h-1.3zm1.2 0.5h1.3v1.3h-1.3zm46.8 -0.8h1.3v1.3h-1.3zm0.2 0.2h1.3v1.3h-1.3zm1 -0.3h1.3v1.3h-1.3zm0.6 0.8h1.3v1.3h-1.3zm1.8 0h1.3v1.3h-1.3zm1.6 -0.7h1.3v1.3h-1.3zm14.6 -0.1h1.3v1.3h-1.3zm12.8 0.4h1.3v1.3h-1.3zm42.7 0.5h1.3v1.3h-1.3zm-125.8 0.9h1.3v1.3h-1.3zm0.1 -0.8h1.3v1.3h-1.3zm3.3 0.3h1.3v1.3h-1.3zm48 0.3h1.3v1.3h-1.3zm1 0.3h1.3v1.3h-1.3zm0.5 -0.3h1.3v1.3h-1.3zm0.7 -0.3h1.3v1.3h-1.3zm0.2 -0.3h1.3v1.3h-1.3zm0.3 0.6h1.3v1.3h-1.3zm3.5 0.1h1.3v1.3h-1.3zm1.8 0h1.3v1.3h-1.3zm50.8 0.1h1.3v1.3h-1.3zm7.3 -0.4h1.3v1.3h-1.3zm-118.6 1.5h1.3v1.3h-1.3zm51.4 0h1.3v1.3h-1.3zm0.8 -0.4h1.3v1.3h-1.3zm0.9 -0.3h1.3v1.3h-1.3zm1 -0.2h1.3v1.3h-1.3zm0.9 0.6h1.3v1.3h-1.3zm1.9 0.3h1.3v1.3h-1.3zm5.6 -0.1h1.3v1.3h-1.3zm13.1 0.1h1.3v1.3h-1.3zm-24.8 0.9h1.3v1.3h-1.3zm0.2 -0.7h1.3v1.3h-1.3zm0 0.3h1.3v1.3h-1.3zm4.2 0.4h1.3v1.3h-1.3zm7.8 -0.6h1.3v1.3h-1.3zm-73.7 1.7h1.3v1.3h-1.3zm61.7 0h1.3v1.3h-1.3zm0.6 -0.9h1.3v1.3h-1.3zm2.7 0.2h1.3v1.3h-1.3zm0 0.4h1.3v1.3h-1.3zm0.3 0.1h1.3v1.3h-1.3zm0.9 -0.2h1.3v1.3h-1.3zm0.5 0.1h1.3v1.3h-1.3zm5.2 -0.2h1.3v1.3h-1.3zm1 -0.2h1.3v1.3h-1.3zm5.8 0h1.3v1.3h-1.3zm-65.7 0.8h1.3v1.3h-1.3zm0.2 0.7h1.3v1.3h-1.3zm0.6 -0.4h1.3v1.3h-1.3zm47.7 0.6h1.3v1.3h-1.3zm0.2 -0.7h1.3v1.3h-1.3zm0 0.7h1.3v1.3h-1.3zm0.5 -0.5h1.3v1.3h-1.3zm2.1 0h1.3v1.3h-1.3zm1.6 -0.1h1.3v1.3h-1.3zm3.6 0.2h1.3v1.3h-1.3zm53.2 0.4h1.3v1.3h-1.3zm12.2 -0.8h1.3v1.3h-1.3zm-123.6 1.5h1.3v1.3h-1.3zm1.3 -0.6h1.3v1.3h-1.3zm0.9 0.5h1.3v1.3h-1.3zm48.1 0.3h1.3v1.3h-1.3zm0.7 -0.7h1.3v1.3h-1.3zm1.3 0.4h1.3v1.3h-1.3zm2 0h1.3v1.3h-1.3zm0.9 -0.5h1.3v1.3h-1.3zm0.1 0.3h1.3v1.3h-1.3zm1.5 -0.3h1.3v1.3h-1.3zm0.3 0.2h1.3v1.3h-1.3zm1.2 0.5h1.3v1.3h-1.3zm-61.2 0.5h1.3v1.3h-1.3zm2.1 0.5h1.3v1.3h-1.3zm2.3 -0.3h1.3v1.3h-1.3zm0.1 0.5h1.3v1.3h-1.3zm0.1 -0.8h1.3v1.3h-1.3zm47.6 0.5h1.3v1.3h-1.3zm0.4 -0.2h1.3v1.3h-1.3zm0.6 -0.2h1.3v1.3h-1.3zm2.2 0.7h1.3v1.3h-1.3zm0.5 -0.7h1.3v1.3h-1.3zm0.6 0.3h1.3v1.3h-1.3zm2 0h1.3v1.3h-1.3zm8.1 0.4h1.3v1.3h-1.3zm-63.2 1h1.3v1.3h-1.3zm0.6 -0.2h1.3v1.3h-1.3zm0.7 0h1.3v1.3h-1.3zm0.2 0h1.3v1.3h-1.3zm47.2 -0.6h1.3v1.3h-1.3zm0.4 0.7h1.3v1.3h-1.3zm0.6 -0.6h1.3v1.3h-1.3zm0.1 0.2h1.3v1.3h-1.3zm1.9 0h1.3v1.3h-1.3zm2.1 0h1.3v1.3h-1.3zm5.5 0.2h1.3v1.3h-1.3zm5.3 -0.5h1.3v1.3h-1.3zm-68 1.3h1.3v1.3h-1.3zm2.7 0.4h1.3v1.3h-1.3zm1.3 -0.6h1.3v1.3h-1.3zm0 0.2h1.3v1.3h-1.3zm48 0.5h1.3v1.3h-1.3zm0.1 -0.5h1.3v1.3h-1.3zm0.9 0.1h1.3v1.3h-1.3zm0.4 -0.4h1.3v1.3h-1.3zm0.2 0.8h1.3v1.3h-1.3zm0.2 -0.2h1.3v1.3h-1.3zm0.2 -0.7h1.3v1.3h-1.3zm0.4 0.4h1.3v1.3h-1.3zm0.7 -0.3h1.3v1.3h-1.3zm2.6 -0.1h1.3v1.3h-1.3zm0.7 0.3h1.3v1.3h-1.3zm4.3 0.6h1.3v1.3h-1.3zm30.9 -0.7h1.3v1.3h-1.3zm13.1 0h1.3v1.3h-1.3zm-104.9 1h1.3v1.3h-1.3zm0.2 0.6h1.3v1.3h-1.3zm0.7 -0.4h1.3v1.3h-1.3zm1.1 -0.4h1.3v1.3h-1.3zm48.6 0.6h1.3v1.3h-1.3zm2.8 0.2h1.3v1.3h-1.3zm1.2 -0.6h1.3v1.3h-1.3zm1.1 -0.1h1.3v1.3h-1.3zm42.4 -0.1h1.3v1.3h-1.3zm-95.8 1.4h1.3v1.3h-1.3zm0.4 -0.3h1.3v1.3h-1.3zm0 0.2h1.3v1.3h-1.3zm45.6 0.4h1.3v1.3h-1.3zm0.2 -0.7h1.3v1.3h-1.3zm2.6 0.2h1.3v1.3h-1.3zm0.2 0.7h1.3v1.3h-1.3zm0.7 -0.1h1.3v1.3h-1.3zm2.9 -0.2h1.3v1.3h-1.3zm0.4 -0.6h1.3v1.3h-1.3zm0.3 0.8h1.3v1.3h-1.3zm5.3 -0.1h1.3v1.3h-1.3zm8.6 -0.2h1.3v1.3h-1.3zm51.9 0.3h1.3v1.3h-1.3zm-123.6 0.8h1.3v1.3h-1.3zm0.5 0h1.3v1.3h-1.3zm2.1 -0.4h1.3v1.3h-1.3zm1.3 0h1.3v1.3h-1.3zm0.9 0.3h1.3v1.3h-1.3zm46.2 -0.3h1.3v1.3h-1.3zm0.6 0.3h1.3v1.3h-1.3zm0.4 0.2h1.3v1.3h-1.3zm1.1 0.1h1.3v1.3h-1.3zm0.5 -0.3h1.3v1.3h-1.3zm0.2 0h1.3v1.3h-1.3zm2.4 0.4h1.3v1.3h-1.3zm0.8 -0.7h1.3v1.3h-1.3zm0.2 0.7h1.3v1.3h-1.3zm2 -0.4h1.3v1.3h-1.3zm0.3 0.2h1.3v1.3h-1.3zm0.2 -0.7h1.3v1.3h-1.3zm1.5 0.1h1.3v1.3h-1.3zm3.1 0.7h1.3v1.3h-1.3zm59.7 -0.3h1.3v1.3h-1.3zm-121.9 1h1.3v1.3h-1.3zm1.5 -0.4h1.3v1.3h-1.3zm0.9 0.4h1.3v1.3h-1.3zm44.4 0.1h1.3v1.3h-1.3zm0.2 -0.5h1.3v1.3h-1.3zm0.5 0.5h1.3v1.3h-1.3zm0.3 -0.5h1.3v1.3h-1.3zm0.2 0.4h1.3v1.3h-1.3zm0.4 0h1.3v1.3h-1.3zm0.6 0.2h1.3v1.3h-1.3zm1.1 -0.6h1.3v1.3h-1.3zm0.9 0.3h1.3v1.3h-1.3zm1.4 0.4h1.3v1.3h-1.3zm0 -0.5h1.3v1.3h-1.3zm0.6 -0.3h1.3v1.3h-1.3zm11 0.6h1.3v1.3h-1.3z"/><path fill="#fbe6e8" d="M0 0m539.3 161.6h1v1h-1zm15.7 -0.5h1v1h-1zm-23.2 2h1v1h-1zm27.5 1.5h1v1h-1zm-35.7 4h1v1h-1zm-1 1.6h1v1h-1zm0.7 0.1h1v1h-1zm3.7 -0.1h1v1h-1zm-11.3 11.7h1v1h-1zm25.8 8.3h1v1h-1zm4.7 0.3h1v1h-1zm11.1 1h1v1h-1zm-26.7 1.8h1v1h-1zm1.3 0.7h1v1h-1z"/><path stroke="#1a1a1a" stroke-width="1.15" fill="none" d="M549.5 22.5V194.5M493.5 138.5H664.5"/><rect x="493.5" y="22.5" width="171" height="172" fill="none" stroke="#1a1a1a" stroke-width="1.2"/><path stroke="#1a1a1a" stroke-width="1" fill="none" d="M494.5 194.5v4.5M493.5 194.5h-4.5M506.5 194.5v2.4M493.5 181.5h-2.4M514.5 194.5v2.4M493.5 174.5h-2.4M519.5 194.5v2.4M493.5 168.5h-2.4M523.5 194.5v2.4M493.5 164.5h-2.4M527.5 194.5v2.4M493.5 161.5h-2.4M529.5 194.5v2.4M493.5 158.5h-2.4M532.5 194.5v2.4M493.5 156.5h-2.4M534.5 194.5v2.4M493.5 153.5h-2.4M536.5 194.5v4.5M493.5 151.5h-4.5M549.5 194.5v2.4M493.5 138.5h-2.4M556.5 194.5v2.4M493.5 131.5h-2.4M562.5 194.5v2.4M493.5 126.5h-2.4M566.5 194.5v2.4M493.5 121.5h-2.4M569.5 194.5v2.4M493.5 118.5h-2.4M572.5 194.5v2.4M493.5 115.5h-2.4M574.5 194.5v2.4M493.5 113.5h-2.4M577.5 194.5v2.4M493.5 110.5h-2.4M579.5 194.5v4.5M493.5 109.5h-4.5M591.5 194.5v2.4M493.5 96.5h-2.4M599.5 194.5v2.4M493.5 88.5h-2.4M604.5 194.5v2.4M493.5 83.5h-2.4M608.5 194.5v2.4M493.5 79.5h-2.4M612.5 194.5v2.4M493.5 75.5h-2.4M614.5 194.5v2.4M493.5 72.5h-2.4M617.5 194.5v2.4M493.5 70.5h-2.4M619.5 194.5v2.4M493.5 68.5h-2.4M621.5 194.5v4.5M493.5 66.5h-4.5M634.5 194.5v2.4M493.5 53.5h-2.4M641.5 194.5v2.4M493.5 45.5h-2.4M647.5 194.5v2.4M493.5 40.5h-2.4M651.5 194.5v2.4M493.5 36.5h-2.4M654.5 194.5v2.4M493.5 32.5h-2.4M657.5 194.5v2.4M493.5 29.5h-2.4M659.5 194.5v2.4M493.5 27.5h-2.4M662.5 194.5v2.4M493.5 25.5h-2.4M664.5 194.5v4.5M493.5 23.5h-4.5"/><text x="494.1" y="211.2" font-size="10.6" text-anchor="middle">10<tspan font-size="7.8" dx="0.7" dy="-4.4">0</tspan></text><text x="536.6" y="211.2" font-size="10.6" text-anchor="middle">10<tspan font-size="7.8" dx="0.7" dy="-4.4">1</tspan></text><text x="579.1" y="211.2" font-size="10.6" text-anchor="middle">10<tspan font-size="7.8" dx="0.7" dy="-4.4">2</tspan></text><text x="621.5" y="211.2" font-size="10.6" text-anchor="middle">10<tspan font-size="7.8" dx="0.7" dy="-4.4">3</tspan></text><text x="664" y="211.2" font-size="10.6" text-anchor="middle">10<tspan font-size="7.8" dx="0.7" dy="-4.4">4</tspan></text><g transform="translate(485.6 194.7) rotate(-90)"><text x="0.3" y="0" font-size="10.6" text-anchor="middle">10<tspan font-size="7.8" dx="0.7" dy="-4.4">0</tspan></text></g><g transform="translate(485.6 151.8) rotate(-90)"><text x="0.3" y="0" font-size="10.6" text-anchor="middle">10<tspan font-size="7.8" dx="0.7" dy="-4.4">1</tspan></text></g><g transform="translate(485.6 109) rotate(-90)"><text x="0.3" y="0" font-size="10.6" text-anchor="middle">10<tspan font-size="7.8" dx="0.7" dy="-4.4">2</tspan></text></g><g transform="translate(485.6 66.2) rotate(-90)"><text x="0.3" y="0" font-size="10.6" text-anchor="middle">10<tspan font-size="7.8" dx="0.7" dy="-4.4">3</tspan></text></g><g transform="translate(485.6 23.3) rotate(-90)"><text x="0.3" y="0" font-size="10.6" text-anchor="middle">10<tspan font-size="7.8" dx="0.7" dy="-4.4">4</tspan></text></g>
<path fill="#e30a17" d="M70.5 424L71 416L72 408L75.5 404L80 400.5L85 397L90 393.5L95 390.5L99.5 388L103 387.5L107 388.5L110 391L112 396L112.5 410L111 420L108 424z"/><path fill="#e30a17" shape-rendering="crispEdges" d="M182 317h2v1h-2zM181 318h3v1h-3zM182 319h1v1h-1zM99 384h6v1h-6zM99 385h10v1h-10zM100 386h9v1h-9zM106 387h3v1h-3zM111 390h2v1h-2zM112 402h2v1h-2zM112 403h3v1h-3zM113 404h2v1h-2zM113 405h2v1h-2zM113 406h2v1h-2zM113 407h2v1h-2zM113 408h2v1h-2zM113 409h2v1h-2zM113 417h2v1h-2zM112 418h3v1h-3zM112 419h2v1h-2zM112 420h2v1h-2z"/><path fill="#d0202f" d="M0 0m111.1 290.3h1.3v1.3h-1.3zm83.9 0.1h1.3v1.3h-1.3zm-66.7 1.2h1.3v1.3h-1.3zm69.5 1.1h1.3v1.3h-1.3zm-36.2 1.5h1.3v1.3h-1.3zm29.5 0.3h1.3v1.3h-1.3zm-58.1 2.1h1.3v1.3h-1.3zm50.5 0.8h1.3v1.3h-1.3zm26.9 -0.3h1.3v1.3h-1.3zm-30.5 2.1h1.3v1.3h-1.3zm-41.4 1.4h1.3v1.3h-1.3zm26.9 -0.3h1.3v1.3h-1.3zm-5.1 0.7h1.3v1.3h-1.3zm16.2 -0.1h1.3v1.3h-1.3zm-30.8 1.1h1.3v1.3h-1.3zm16.8 0.4h1.3v1.3h-1.3zm27.6 0.3h1.3v1.3h-1.3zm-71.9 0.6h1.3v1.3h-1.3zm47 0.2h1.3v1.3h-1.3zm47.3 -0.2h1.3v1.3h-1.3zm-65.5 0.7h1.3v1.3h-1.3zm59.4 0.4h1.3v1.3h-1.3zm-33.9 0.8h1.3v1.3h-1.3zm4.6 0.4h1.3v1.3h-1.3zm4 -0.6h1.3v1.3h-1.3zm5.2 1.1h1.3v1.3h-1.3zm15 0.5h1.3v1.3h-1.3zm-40.6 1h1.3v1.3h-1.3zm2 -0.1h1.3v1.3h-1.3zm3.7 -0.5h1.3v1.3h-1.3zm22.1 0.4h1.3v1.3h-1.3zm1.3 -0.4h1.3v1.3h-1.3zm1.3 0.5h1.3v1.3h-1.3zm1.3 0h1.3v1.3h-1.3zm-12.2 1.3h1.3v1.3h-1.3zm1.1 0h1.3v1.3h-1.3zm9.3 -0.4h1.3v1.3h-1.3zm-68.8 0.5h1.3v1.3h-1.3zm4.2 0.3h1.3v1.3h-1.3zm9 0.2h1.3v1.3h-1.3zm11.7 -0.5h1.3v1.3h-1.3zm40.6 0.9h1.3v1.3h-1.3zm19.7 -0.4h1.3v1.3h-1.3zm-58.6 0.9h1.3v1.3h-1.3zm19.1 -0.2h1.3v1.3h-1.3zm11.5 0.7h1.3v1.3h-1.3zm1.7 -0.1h1.3v1.3h-1.3zm10.4 -0.7h1.3v1.3h-1.3zm4.4 0.2h1.3v1.3h-1.3zm2.2 0.4h1.3v1.3h-1.3zm3.4 -0.4h1.3v1.3h-1.3zm11.2 0h1.3v1.3h-1.3zm-102 1.3h1.3v1.3h-1.3zm15.4 -0.3h1.3v1.3h-1.3zm6.5 0.2h1.3v1.3h-1.3zm6 -0.1h1.3v1.3h-1.3zm3.9 0.2h1.3v1.3h-1.3zm2.2 0h1.3v1.3h-1.3zm25.1 0.3h1.3v1.3h-1.3zm3.5 0h1.3v1.3h-1.3zm1.8 -0.1h1.3v1.3h-1.3zm3.6 0.1h1.3v1.3h-1.3zm3.3 -0.8h1.3v1.3h-1.3zm0.3 0h1.3v1.3h-1.3zm8.6 0.1h1.3v1.3h-1.3zm1.4 0.7h1.3v1.3h-1.3zm3 -0.7h1.3v1.3h-1.3zm-77.4 1.5h1.3v1.3h-1.3zm6.1 -0.7h1.3v1.3h-1.3zm2.9 0h1.3v1.3h-1.3zm4.8 0.4h1.3v1.3h-1.3zm31.1 0.2h1.3v1.3h-1.3zm4.7 0.1h1.3v1.3h-1.3zm3.2 0.1h1.3v1.3h-1.3zm0.7 -0.6h1.3v1.3h-1.3zm1.4 0.2h1.3v1.3h-1.3zm4.3 0.3h1.3v1.3h-1.3zm0.6 -0.4h1.3v1.3h-1.3zm2 0.4h1.3v1.3h-1.3zm6.9 -0.1h1.3v1.3h-1.3zm3.6 0.1h1.3v1.3h-1.3zm20.1 0.1h1.3v1.3h-1.3zm-84 0.5h1.3v1.3h-1.3zm1.4 0.2h1.3v1.3h-1.3zm1.5 -0.3h1.3v1.3h-1.3zm0.7 0.2h1.3v1.3h-1.3zm1.5 -0.2h1.3v1.3h-1.3zm1.1 0.3h1.3v1.3h-1.3zm0.6 -0.1h1.3v1.3h-1.3zm5.1 -0.4h1.3v1.3h-1.3zm0.3 0.9h1.3v1.3h-1.3zm1.9 -0.3h1.3v1.3h-1.3zm32.2 -0.5h1.3v1.3h-1.3zm5.7 0h1.3v1.3h-1.3zm1.6 0.8h1.3v1.3h-1.3zm0.5 -0.9h1.3v1.3h-1.3zm3.1 0.3h1.3v1.3h-1.3zm0.9 0.5h1.3v1.3h-1.3zm0.5 0h1.3v1.3h-1.3zm1.1 0.1h1.3v1.3h-1.3zm1.2 -0.7h1.3v1.3h-1.3zm0.3 0h1.3v1.3h-1.3zm1.6 -0.2h1.3v1.3h-1.3zm1.6 0.7h1.3v1.3h-1.3zm2.2 -0.6h1.3v1.3h-1.3zm2.2 0.5h1.3v1.3h-1.3zm0.7 -0.4h1.3v1.3h-1.3zm-73.2 1.3h1.3v1.3h-1.3zm4.1 0.1h1.3v1.3h-1.3zm7.9 -0.2h1.3v1.3h-1.3zm3.8 0.5h1.3v1.3h-1.3zm0.3 -0.8h1.3v1.3h-1.3zm1 0.7h1.3v1.3h-1.3zm3.2 -0.1h1.3v1.3h-1.3zm8.4 -0.6h1.3v1.3h-1.3zm11.8 0.2h1.3v1.3h-1.3zm6 0.2h1.3v1.3h-1.3zm3.6 0.3h1.3v1.3h-1.3zm0.4 -0.1h1.3v1.3h-1.3zm4.6 -0.7h1.3v1.3h-1.3zm0.1 0.4h1.3v1.3h-1.3zm0.5 -0.1h1.3v1.3h-1.3zm5.5 -0.1h1.3v1.3h-1.3zm0.5 0.7h1.3v1.3h-1.3zm0.5 -0.6h1.3v1.3h-1.3zm1.4 0.6h1.3v1.3h-1.3zm0.3 -0.4h1.3v1.3h-1.3zm0.7 -0.1h1.3v1.3h-1.3zm2.8 0h1.3v1.3h-1.3zm0.9 0.1h1.3v1.3h-1.3zm0.6 -0.1h1.3v1.3h-1.3zm1 0.1h1.3v1.3h-1.3zm0.3 -0.2h1.3v1.3h-1.3zm0.4 0.3h1.3v1.3h-1.3zm0.4 0.3h1.3v1.3h-1.3zm5.9 -0.6h1.3v1.3h-1.3zm0.6 0.5h1.3v1.3h-1.3zm4.5 -0.2h1.3v1.3h-1.3zm-79.5 0.7h1.3v1.3h-1.3zm4.9 0.6h1.3v1.3h-1.3zm0.7 -0.2h1.3v1.3h-1.3zm0.9 -0.1h1.3v1.3h-1.3zm1.8 -0.6h1.3v1.3h-1.3zm1.3 0.8h1.3v1.3h-1.3zm1.4 -0.7h1.3v1.3h-1.3zm6.4 0.7h1.3v1.3h-1.3zm1.3 0.1h1.3v1.3h-1.3zm1.3 -0.7h1.3v1.3h-1.3zm23.2 -0.2h1.3v1.3h-1.3zm1.6 0.2h1.3v1.3h-1.3zm2 -0.1h1.3v1.3h-1.3zm0.4 0.5h1.3v1.3h-1.3zm1.2 0.1h1.3v1.3h-1.3zm1.5 0h1.3v1.3h-1.3zm0.7 -0.6h1.3v1.3h-1.3zm1.5 0.5h1.3v1.3h-1.3zm1.3 -0.2h1.3v1.3h-1.3zm3.4 0.5h1.3v1.3h-1.3zm0.5 0h1.3v1.3h-1.3zm0.4 0h1.3v1.3h-1.3zm0.7 -0.5h1.3v1.3h-1.3zm0 -0.3h1.3v1.3h-1.3zm1.4 0.3h1.3v1.3h-1.3zm1.3 0.5h1.3v1.3h-1.3zm2.6 -0.1h1.3v1.3h-1.3zm0.1 -0.4h1.3v1.3h-1.3zm0.5 0.3h1.3v1.3h-1.3zm0.2 0h1.3v1.3h-1.3zm1.6 -0.2h1.3v1.3h-1.3zm0.7 -0.4h1.3v1.3h-1.3zm0.8 0.5h1.3v1.3h-1.3zm3.7 -0.5h1.3v1.3h-1.3zm-74.6 1.2h1.3v1.3h-1.3zm4.4 0.5h1.3v1.3h-1.3zm2 -0.3h1.3v1.3h-1.3zm1.1 0.2h1.3v1.3h-1.3zm1.2 -0.4h1.3v1.3h-1.3zm5.9 0.5h1.3v1.3h-1.3zm0 -0.4h1.3v1.3h-1.3zm0.3 0.5h1.3v1.3h-1.3zm0 -0.5h1.3v1.3h-1.3zm0.4 -0.2h1.3v1.3h-1.3zm0.8 0.1h1.3v1.3h-1.3zm0.2 0h1.3v1.3h-1.3zm0.8 0.5h1.3v1.3h-1.3zm0.5 -0.2h1.3v1.3h-1.3zm10.8 -0.3h1.3v1.3h-1.3zm12.2 0.6h1.3v1.3h-1.3zm4.6 0h1.3v1.3h-1.3zm0.2 -0.8h1.3v1.3h-1.3zm7 0.6h1.3v1.3h-1.3zm1.9 0.1h1.3v1.3h-1.3zm1.3 -0.2h1.3v1.3h-1.3zm0.4 -0.1h1.3v1.3h-1.3zm1.5 0h1.3v1.3h-1.3zm0.1 -0.4h1.3v1.3h-1.3zm1.6 0.4h1.3v1.3h-1.3zm2.1 -0.5h1.3v1.3h-1.3zm1.5 0.9h1.3v1.3h-1.3zm2.5 -0.6h1.3v1.3h-1.3zm0 0.5h1.3v1.3h-1.3zm0.8 -0.4h1.3v1.3h-1.3zm0.6 0h1.3v1.3h-1.3zm1.6 0.2h1.3v1.3h-1.3zm0.7 -0.3h1.3v1.3h-1.3zm0.1 0.4h1.3v1.3h-1.3zm0.2 -0.4h1.3v1.3h-1.3zm0.7 0.1h1.3v1.3h-1.3zm0.3 -0.3h1.3v1.3h-1.3zm1.2 0h1.3v1.3h-1.3zm0.8 0.2h1.3v1.3h-1.3zm3.3 0.6h1.3v1.3h-1.3zm0.8 -0.1h1.3v1.3h-1.3zm0.6 -0.8h1.3v1.3h-1.3zm0.9 0.1h1.3v1.3h-1.3zm4.8 0.7h1.3v1.3h-1.3zm-85.2 0.8h1.3v1.3h-1.3zm1.1 -0.6h1.3v1.3h-1.3zm6.4 0.5h1.3v1.3h-1.3zm1.1 0.2h1.3v1.3h-1.3zm12.5 -0.6h1.3v1.3h-1.3zm3 0.5h1.3v1.3h-1.3zm0.9 -0.4h1.3v1.3h-1.3zm2.6 0.4h1.3v1.3h-1.3zm0.6 -0.4h1.3v1.3h-1.3zm7.3 -0.1h1.3v1.3h-1.3zm4.3 0.5h1.3v1.3h-1.3zm2.1 -0.2h1.3v1.3h-1.3zm4.2 -0.2h1.3v1.3h-1.3zm3.5 0.3h1.3v1.3h-1.3zm0.1 -0.5h1.3v1.3h-1.3zm4.8 0.5h1.3v1.3h-1.3zm1.9 0.1h1.3v1.3h-1.3zm4.2 0h1.3v1.3h-1.3zm0.4 -0.1h1.3v1.3h-1.3zm4.9 0h1.3v1.3h-1.3zm0.7 -0.2h1.3v1.3h-1.3zm0.4 -0.3h1.3v1.3h-1.3zm0.8 0.5h1.3v1.3h-1.3zm0.5 -0.1h1.3v1.3h-1.3zm1.2 -0.2h1.3v1.3h-1.3zm1.4 0.3h1.3v1.3h-1.3zm2.1 0.3h1.3v1.3h-1.3zm0.1 -0.6h1.3v1.3h-1.3zm3.1 0.2h1.3v1.3h-1.3zm0.2 -0.2h1.3v1.3h-1.3zm2.2 0.5h1.3v1.3h-1.3zm-95.3 1h1.3v1.3h-1.3zm19.7 -0.5h1.3v1.3h-1.3zm0.8 0.2h1.3v1.3h-1.3zm4.7 0.4h1.3v1.3h-1.3zm2 -0.7h1.3v1.3h-1.3zm0.4 0.8h1.3v1.3h-1.3zm1 -0.8h1.3v1.3h-1.3zm0.3 0.2h1.3v1.3h-1.3zm0.2 -0.2h1.3v1.3h-1.3zm1.6 0.3h1.3v1.3h-1.3zm1.6 0.5h1.3v1.3h-1.3zm0.9 -0.7h1.3v1.3h-1.3zm1.4 0.7h1.3v1.3h-1.3zm2.3 0h1.3v1.3h-1.3zm8.2 -0.3h1.3v1.3h-1.3zm3.4 -0.5h1.3v1.3h-1.3zm0.2 0.4h1.3v1.3h-1.3zm3.8 0.3h1.3v1.3h-1.3zm17.9 -0.1h1.3v1.3h-1.3zm0.4 0.1h1.3v1.3h-1.3zm4.1 -0.7h1.3v1.3h-1.3zm0.9 0.1h1.3v1.3h-1.3zm0.4 0.4h1.3v1.3h-1.3zm2 0.1h1.3v1.3h-1.3zm2.1 0.1h1.3v1.3h-1.3zm2.8 -0.1h1.3v1.3h-1.3zm0.8 -0.7h1.3v1.3h-1.3zm0.8 0.8h1.3v1.3h-1.3zm0.2 -0.5h1.3v1.3h-1.3zm0.4 -0.2h1.3v1.3h-1.3zm0.2 0.1h1.3v1.3h-1.3zm0.8 0.2h1.3v1.3h-1.3zm0.5 0.5h1.3v1.3h-1.3zm2.1 0h1.3v1.3h-1.3zm0.4 -0.5h1.3v1.3h-1.3zm0.7 0.2h1.3v1.3h-1.3zm0.3 0.2h1.3v1.3h-1.3zm1.1 -0.6h1.3v1.3h-1.3zm1.3 0.1h1.3v1.3h-1.3zm1.3 -0.1h1.3v1.3h-1.3zm2.5 0.3h1.3v1.3h-1.3zm13.6 0h1.3v1.3h-1.3zm0.6 0.1h1.3v1.3h-1.3zm-100.9 1.1h1.3v1.3h-1.3zm7.1 0.2h1.3v1.3h-1.3zm11.4 -0.1h1.3v1.3h-1.3zm1.7 -0.1h1.3v1.3h-1.3zm1.8 -0.3h1.3v1.3h-1.3zm2.4 0h1.3v1.3h-1.3zm7.8 -0.3h1.3v1.3h-1.3zm7.4 0.8h1.3v1.3h-1.3zm0.3 -0.1h1.3v1.3h-1.3zm9.5 -0.2h1.3v1.3h-1.3zm1.3 -0.6h1.3v1.3h-1.3zm9.8 0.5h1.3v1.3h-1.3zm1.7 0.3h1.3v1.3h-1.3zm3.2 -0.2h1.3v1.3h-1.3zm0.2 -0.1h1.3v1.3h-1.3zm1.2 -0.5h1.3v1.3h-1.3zm1.1 0.4h1.3v1.3h-1.3zm0.7 0.4h1.3v1.3h-1.3zm6 -0.8h1.3v1.3h-1.3zm0.6 0.8h1.3v1.3h-1.3zm1.2 0h1.3v1.3h-1.3zm1.1 -0.5h1.3v1.3h-1.3zm0.6 -0.2h1.3v1.3h-1.3zm0.2 0.6h1.3v1.3h-1.3zm1.3 0.2h1.3v1.3h-1.3zm0.8 -0.6h1.3v1.3h-1.3zm1.1 -0.1h1.3v1.3h-1.3zm-65.6 1.7h1.3v1.3h-1.3zm0.5 -0.4h1.3v1.3h-1.3zm0.3 -0.5h1.3v1.3h-1.3zm1.3 0.9h1.3v1.3h-1.3zm1.8 -0.1h1.3v1.3h-1.3zm1 -0.7h1.3v1.3h-1.3zm1.8 0.1h1.3v1.3h-1.3zm3 -0.2h1.3v1.3h-1.3zm3.1 0.2h1.3v1.3h-1.3zm12.1 0.1h1.3v1.3h-1.3zm11.1 0.5h1.3v1.3h-1.3zm6 -0.3h1.3v1.3h-1.3zm2.4 -0.4h1.3v1.3h-1.3zm1.1 -0.1h1.3v1.3h-1.3zm0.7 0.7h1.3v1.3h-1.3zm0.8 -0.2h1.3v1.3h-1.3zm0.3 -0.3h1.3v1.3h-1.3zm4.1 0.3h1.3v1.3h-1.3zm1.2 -0.2h1.3v1.3h-1.3zm1.8 0.2h1.3v1.3h-1.3zm1 -0.4h1.3v1.3h-1.3zm2.4 0.1h1.3v1.3h-1.3zm0.2 0.5h1.3v1.3h-1.3zm1.5 0h1.3v1.3h-1.3zm2.5 0.2h1.3v1.3h-1.3zm1.1 -0.2h1.3v1.3h-1.3zm0 -0.5h1.3v1.3h-1.3zm0.6 0.7h1.3v1.3h-1.3zm2.4 -0.3h1.3v1.3h-1.3zm2.4 -0.6h1.3v1.3h-1.3zm-93.9 1.1h1.3v1.3h-1.3zm21.2 0.1h1.3v1.3h-1.3zm8.4 0.6h1.3v1.3h-1.3zm0.1 -0.5h1.3v1.3h-1.3zm8.7 0.4h1.3v1.3h-1.3zm0.8 0h1.3v1.3h-1.3zm11.6 0.1h1.3v1.3h-1.3zm1.6 -0.2h1.3v1.3h-1.3zm2.1 -0.5h1.3v1.3h-1.3zm4.6 0.1h1.3v1.3h-1.3zm5.2 0.3h1.3v1.3h-1.3zm0.9 -0.3h1.3v1.3h-1.3zm2.5 0.7h1.3v1.3h-1.3zm3.9 -0.9h1.3v1.3h-1.3zm0.3 0h1.3v1.3h-1.3zm1.6 0.3h1.3v1.3h-1.3zm0.8 -0.3h1.3v1.3h-1.3zm1 0h1.3v1.3h-1.3zm0.3 0.9h1.3v1.3h-1.3zm1.3 -0.7h1.3v1.3h-1.3zm3.7 0.2h1.3v1.3h-1.3zm1.2 -0.1h1.3v1.3h-1.3zm2.1 -0.2h1.3v1.3h-1.3zm2.8 0.6h1.3v1.3h-1.3zm3.9 0h1.3v1.3h-1.3zm1.9 0.2h1.3v1.3h-1.3zm8.5 -0.1h1.3v1.3h-1.3zm-76.7 0.2h1.3v1.3h-1.3zm5.2 0.5h1.3v1.3h-1.3zm0.5 0.4h1.3v1.3h-1.3zm0.2 0h1.3v1.3h-1.3zm2.6 -0.7h1.3v1.3h-1.3zm5.8 0.5h1.3v1.3h-1.3zm0.1 -0.3h1.3v1.3h-1.3zm5.2 0h1.3v1.3h-1.3zm8.3 -0.3h1.3v1.3h-1.3zm2.6 0.6h1.3v1.3h-1.3zm2.3 -0.7h1.3v1.3h-1.3zm13.1 0.5h1.3v1.3h-1.3zm4.1 0.4h1.3v1.3h-1.3zm2.4 -0.8h1.3v1.3h-1.3zm4.1 0h1.3v1.3h-1.3zm0.6 0.1h1.3v1.3h-1.3zm1 0.7h1.3v1.3h-1.3zm6.8 -0.9h1.3v1.3h-1.3zm1.4 0.5h1.3v1.3h-1.3zm0.5 0.2h1.3v1.3h-1.3zm-95 0.3h1.3v1.3h-1.3zm27.8 0.8h1.3v1.3h-1.3zm2.3 -0.6h1.3v1.3h-1.3zm4.4 0h1.3v1.3h-1.3zm1.7 -0.2h1.3v1.3h-1.3zm4.1 0.5h1.3v1.3h-1.3zm3.6 0.3h1.3v1.3h-1.3zm4.5 -0.1h1.3v1.3h-1.3zm3 -0.3h1.3v1.3h-1.3zm15.6 0.5h1.3v1.3h-1.3zm4.2 -0.3h1.3v1.3h-1.3zm2.2 0.2h1.3v1.3h-1.3zm8.8 -0.4h1.3v1.3h-1.3zm2.5 0h1.3v1.3h-1.3zm1.7 0h1.3v1.3h-1.3zm5.9 -0.3h1.3v1.3h-1.3zm2.9 0.7h1.3v1.3h-1.3zm-74.4 0.2h1.3v1.3h-1.3zm22.2 0.5h1.3v1.3h-1.3zm31.9 -0.4h1.3v1.3h-1.3zm0.9 0.3h1.3v1.3h-1.3zm6.2 -0.1h1.3v1.3h-1.3zm3 0.5h1.3v1.3h-1.3zm0.6 -0.7h1.3v1.3h-1.3zm1.3 0.7h1.3v1.3h-1.3zm4.9 -0.1h1.3v1.3h-1.3zm0.8 -0.1h1.3v1.3h-1.3zm1.9 -0.1h1.3v1.3h-1.3zm3.3 -0.1h1.3v1.3h-1.3zm3.6 -0.2h1.3v1.3h-1.3zm-66.9 0.9h1.3v1.3h-1.3zm1.9 0.2h1.3v1.3h-1.3zm7.6 -0.1h1.3v1.3h-1.3zm2.1 -0.1h1.3v1.3h-1.3zm33.1 0.3h1.3v1.3h-1.3zm5.5 0h1.3v1.3h-1.3zm1.9 0.3h1.3v1.3h-1.3zm2 -0.3h1.3v1.3h-1.3zm0.1 0.5h1.3v1.3h-1.3zm-21.8 0.2h1.3v1.3h-1.3zm4.8 0.6h1.3v1.3h-1.3zm10.7 0h1.3v1.3h-1.3zm4.9 -0.4h1.3v1.3h-1.3zm-58.5 1.2h1.3v1.3h-1.3zm12.2 0h1.3v1.3h-1.3zm11.1 -0.1h1.3v1.3h-1.3zm12.1 -0.2h1.3v1.3h-1.3zm9.5 -0.1h1.3v1.3h-1.3zm7.2 0.1h1.3v1.3h-1.3zm5 -0.2h1.3v1.3h-1.3zm5.8 0h1.3v1.3h-1.3zm8.6 0.8h1.3v1.3h-1.3zm5.9 -0.7h1.3v1.3h-1.3zm-73.8 1.1h1.3v1.3h-1.3zm21.8 0.1h1.3v1.3h-1.3zm1 -0.3h1.3v1.3h-1.3zm26.4 0.5h1.3v1.3h-1.3zm6.7 -0.4h1.3v1.3h-1.3zm0.3 0.3h1.3v1.3h-1.3zm12.5 0.5h1.3v1.3h-1.3zm1.8 -0.8h1.3v1.3h-1.3zm6.3 0.2h1.3v1.3h-1.3zm-40.4 0.8h1.3v1.3h-1.3zm5 0.6h1.3v1.3h-1.3zm8.5 -0.7h1.3v1.3h-1.3zm2.4 0.3h1.3v1.3h-1.3zm10.2 0h1.3v1.3h-1.3zm2.8 0.5h1.3v1.3h-1.3zm7.1 -0.5h1.3v1.3h-1.3zm-100.8 1.2h1.3v1.3h-1.3zm25.6 -0.4h1.3v1.3h-1.3zm9.9 0.2h1.3v1.3h-1.3zm17.1 0.1h1.3v1.3h-1.3zm37.8 0.4h1.3v1.3h-1.3zm-45.4 0.2h1.3v1.3h-1.3zm23.7 0.9h1.3v1.3h-1.3zm18.7 -0.4h1.3v1.3h-1.3zm-21.2 1h1.3v1.3h-1.3zm7.1 -0.4h1.3v1.3h-1.3zm3.1 0.7h1.3v1.3h-1.3zm-39.7 0.6h1.3v1.3h-1.3zm9.2 0.1h1.3v1.3h-1.3zm23.6 0.4h1.3v1.3h-1.3zm9.4 -0.1h1.3v1.3h-1.3zm6 -0.8h1.3v1.3h-1.3zm6.7 0.3h1.3v1.3h-1.3zm6.7 1.4h1.3v1.3h-1.3zm-81.6 1.2h1.3v1.3h-1.3zm78.5 -0.4h1.3v1.3h-1.3zm-32.8 1h1.3v1.3h-1.3zm-22.6 0.9h1.3v1.3h-1.3zm43.4 -0.1h1.3v1.3h-1.3zm-56.8 0.8h1.3v1.3h-1.3zm42.6 0.7h1.3v1.3h-1.3zm-51.9 1.1h1.3v1.3h-1.3zm47.1 0h1.3v1.3h-1.3zm1.6 -0.3h1.3v1.3h-1.3zm6.3 0.1h1.3v1.3h-1.3zm2.3 0.3h1.3v1.3h-1.3zm2.4 0.2h1.3v1.3h-1.3zm-61.1 1h1.3v1.3h-1.3zm-12.5 1.7h1.3v1.3h-1.3zm55.1 -0.4h1.3v1.3h-1.3zm5.1 -0.3h1.3v1.3h-1.3zm5.7 0.6h1.3v1.3h-1.3zm5.4 0.1h1.3v1.3h-1.3zm9.6 -0.5h1.3v1.3h-1.3zm-73.7 0.8h1.3v1.3h-1.3zm55.3 0.5h1.3v1.3h-1.3zm4.4 -0.7h1.3v1.3h-1.3zm1 0.3h1.3v1.3h-1.3zm5.3 0h1.3v1.3h-1.3zm0.4 0.2h1.3v1.3h-1.3zm2.6 -0.2h1.3v1.3h-1.3zm1.1 0.6h1.3v1.3h-1.3zm-70.2 0.7h1.3v1.3h-1.3zm25.7 -0.1h1.3v1.3h-1.3zm14.2 -0.1h1.3v1.3h-1.3zm25.4 0.2h1.3v1.3h-1.3zm1.4 -0.5h1.3v1.3h-1.3zm5.8 0.3h1.3v1.3h-1.3zm0.1 -0.3h1.3v1.3h-1.3zm9.1 0.2h1.3v1.3h-1.3zm-25.1 0.8h1.3v1.3h-1.3zm8.2 0.5h1.3v1.3h-1.3zm-42.6 0.6h1.3v1.3h-1.3zm38.9 -0.2h1.3v1.3h-1.3zm3.1 0.7h1.3v1.3h-1.3zm6.5 -0.3h1.3v1.3h-1.3zm4.7 0.2h1.3v1.3h-1.3zm3.1 -0.2h1.3v1.3h-1.3zm4.6 0h1.3v1.3h-1.3zm1 -0.4h1.3v1.3h-1.3zm3.7 0.5h1.3v1.3h-1.3zm-23.3 1.3h1.3v1.3h-1.3zm1.4 -0.8h1.3v1.3h-1.3zm4.3 0.1h1.3v1.3h-1.3zm7.7 0.3h1.3v1.3h-1.3zm8 0.1h1.3v1.3h-1.3zm-60.5 0.5h1.3v1.3h-1.3zm33.2 0.7h1.3v1.3h-1.3zm6.5 0.2h1.3v1.3h-1.3zm11.2 -0.4h1.3v1.3h-1.3zm8 0.2h1.3v1.3h-1.3zm5.1 0h1.3v1.3h-1.3zm-15.9 1h1.3v1.3h-1.3zm10.9 -0.3h1.3v1.3h-1.3zm8.6 0.4h1.3v1.3h-1.3zm-83 0.8h1.3v1.3h-1.3zm14.4 -0.6h1.3v1.3h-1.3zm0.5 0.6h1.3v1.3h-1.3zm29.8 -0.4h1.3v1.3h-1.3zm7.4 -0.2h1.3v1.3h-1.3zm14.6 0.3h1.3v1.3h-1.3zm4.3 0.3h1.3v1.3h-1.3zm-37.5 1h1.3v1.3h-1.3zm32.5 -0.5h1.3v1.3h-1.3zm2.6 0.5h1.3v1.3h-1.3zm17.4 -0.1h1.3v1.3h-1.3zm-57.9 1.2h1.3v1.3h-1.3zm20.3 -0.7h1.3v1.3h-1.3zm-39.5 1h1.3v1.3h-1.3zm16.2 0.7h1.3v1.3h-1.3zm30.1 -0.3h1.3v1.3h-1.3zm6.4 -0.4h1.3v1.3h-1.3zm11.6 0.3h1.3v1.3h-1.3zm7.4 0h1.3v1.3h-1.3zm-81.5 1.1h1.3v1.3h-1.3zm20 -0.1h1.3v1.3h-1.3zm35.3 0.5h1.3v1.3h-1.3zm6.3 -0.6h1.3v1.3h-1.3zm0.2 0h1.3v1.3h-1.3zm1 0h1.3v1.3h-1.3zm6.2 -0.1h1.3v1.3h-1.3zm3.9 0.6h1.3v1.3h-1.3zm-5.5 1.1h1.3v1.3h-1.3zm-72.3 1.9h1.3v1.3h-1.3zm43.2 -0.4h1.3v1.3h-1.3zm29 0.4h1.3v1.3h-1.3zm-32.4 0.8h1.3v1.3h-1.3zm8.2 -0.1h1.3v1.3h-1.3zm3.4 0.5h1.3v1.3h-1.3zm1.3 -0.6h1.3v1.3h-1.3zm2.3 0h1.3v1.3h-1.3zm2.9 0.3h1.3v1.3h-1.3zm18.6 -0.2h1.3v1.3h-1.3zm1.9 -0.4h1.3v1.3h-1.3zm-92.7 1.2h1.3v1.3h-1.3zm1.1 0.3h1.3v1.3h-1.3zm67.1 0.3h1.3v1.3h-1.3zm19 -0.6h1.3v1.3h-1.3zm-51.6 1.3h1.3v1.3h-1.3zm51.3 -0.5h1.3v1.3h-1.3zm1.7 0h1.3v1.3h-1.3zm8.2 0.9h1.3v1.3h-1.3zm-22.9 1h1.3v1.3h-1.3zm5.6 -0.2h1.3v1.3h-1.3zm1.6 -0.1h1.3v1.3h-1.3zm0.6 -0.4h1.3v1.3h-1.3zm6.8 0.6h1.3v1.3h-1.3zm-99.9 1.1h1.3v1.3h-1.3zm24.4 -0.3h1.3v1.3h-1.3zm64.5 0.3h1.3v1.3h-1.3zm15.3 -0.4h1.3v1.3h-1.3zm8.7 -0.2h1.3v1.3h-1.3zm-76 0.7h1.3v1.3h-1.3zm17.4 0.2h1.3v1.3h-1.3zm22 -0.1h1.3v1.3h-1.3zm8 0.2h1.3v1.3h-1.3zm3.7 0.5h1.3v1.3h-1.3zm9.6 -0.1h1.3v1.3h-1.3zm-89.3 0.7h1.3v1.3h-1.3zm6.3 -0.3h1.3v1.3h-1.3zm10.5 0.2h1.3v1.3h-1.3zm63.5 -0.3h1.3v1.3h-1.3zm-63.5 1.2h1.3v1.3h-1.3zm36.1 0.7h1.3v1.3h-1.3zm23 0h1.3v1.3h-1.3zm-91.9 0.4h1.3v1.3h-1.3zm15.9 0h1.3v1.3h-1.3zm10 0.1h1.3v1.3h-1.3zm8 -0.2h1.3v1.3h-1.3zm55.5 -0.2h1.3v1.3h-1.3zm0.8 0.6h1.3v1.3h-1.3zm2.6 -0.3h1.3v1.3h-1.3zm6.3 0.6h1.3v1.3h-1.3zm0.6 -0.6h1.3v1.3h-1.3zm5 -0.1h1.3v1.3h-1.3zm7.2 -0.1h1.3v1.3h-1.3zm-93.1 1.3h1.3v1.3h-1.3zm65.4 0.1h1.3v1.3h-1.3zm4.3 -0.3h1.3v1.3h-1.3zm17.9 0.2h1.3v1.3h-1.3zm-79.7 1.4h1.3v1.3h-1.3zm8.8 -0.4h1.3v1.3h-1.3zm1.2 0.1h1.3v1.3h-1.3zm7 -0.1h1.3v1.3h-1.3zm50.8 -0.4h1.3v1.3h-1.3zm1.8 0.9h1.3v1.3h-1.3zm6.5 -0.2h1.3v1.3h-1.3zm-86.4 0.5h1.3v1.3h-1.3zm3.6 0h1.3v1.3h-1.3zm1.8 0.6h1.3v1.3h-1.3zm0.2 -0.6h1.3v1.3h-1.3zm2.9 0.3h1.3v1.3h-1.3zm8.9 -0.3h1.3v1.3h-1.3zm2 0.6h1.3v1.3h-1.3zm1.9 -0.2h1.3v1.3h-1.3zm52.3 0.1h1.3v1.3h-1.3zm0.6 -0.4h1.3v1.3h-1.3zm4.7 0.3h1.3v1.3h-1.3zm4.1 -0.1h1.3v1.3h-1.3zm1.7 -0.4h1.3v1.3h-1.3zm-78.5 0.9h1.3v1.3h-1.3zm8.3 0.1h1.3v1.3h-1.3zm4.3 0.8h1.3v1.3h-1.3zm5.4 -0.3h1.3v1.3h-1.3zm2.5 0.1h1.3v1.3h-1.3zm51.9 -0.2h1.3v1.3h-1.3zm10.2 0.3h1.3v1.3h-1.3zm3.2 0h1.3v1.3h-1.3zm-95.2 0.8h1.3v1.3h-1.3zm1.8 0.2h1.3v1.3h-1.3zm1.6 0h1.3v1.3h-1.3zm0.4 0.1h1.3v1.3h-1.3zm6.2 0h1.3v1.3h-1.3zm0.4 -0.9h1.3v1.3h-1.3zm4.3 0.9h1.3v1.3h-1.3zm2 0h1.3v1.3h-1.3zm0.6 -0.6h1.3v1.3h-1.3zm5.9 0.3h1.3v1.3h-1.3zm7.6 0.1h1.3v1.3h-1.3zm11.5 -0.2h1.3v1.3h-1.3zm31.3 0.3h1.3v1.3h-1.3zm20.6 -0.1h1.3v1.3h-1.3zm6.1 -0.4h1.3v1.3h-1.3zm-93.6 1.1h1.3v1.3h-1.3zm1.1 0.2h1.3v1.3h-1.3zm2.2 0.1h1.3v1.3h-1.3zm1.3 -0.5h1.3v1.3h-1.3zm6.8 0.3h1.3v1.3h-1.3zm0.3 0.2h1.3v1.3h-1.3zm6.4 -0.2h1.3v1.3h-1.3zm0.1 -0.4h1.3v1.3h-1.3zm1.2 -0.1h1.3v1.3h-1.3zm2.1 0.4h1.3v1.3h-1.3zm7.3 0.5h1.3v1.3h-1.3zm37.9 -0.3h1.3v1.3h-1.3zm2.5 -0.2h1.3v1.3h-1.3zm10.2 0.4h1.3v1.3h-1.3zm6.8 -0.5h1.3v1.3h-1.3zm7.8 0h1.3v1.3h-1.3zm-97.6 1.3h1.3v1.3h-1.3zm3.8 -0.1h1.3v1.3h-1.3zm1.7 0h1.3v1.3h-1.3zm0.4 -0.1h1.3v1.3h-1.3zm0.3 0.2h1.3v1.3h-1.3zm1.1 -0.6h1.3v1.3h-1.3zm3.3 0.1h1.3v1.3h-1.3zm2.8 0.7h1.3v1.3h-1.3zm0.5 0h1.3v1.3h-1.3zm2.4 -0.6h1.3v1.3h-1.3zm0.4 0.6h1.3v1.3h-1.3zm6.7 0h1.3v1.3h-1.3zm47.1 -0.3h1.3v1.3h-1.3zm6.3 -0.5h1.3v1.3h-1.3zm5.1 0.1h1.3v1.3h-1.3zm-86.3 1.2h1.3v1.3h-1.3zm13.9 0h1.3v1.3h-1.3zm0.2 -0.3h1.3v1.3h-1.3zm1.2 0.7h1.3v1.3h-1.3zm2.5 -0.4h1.3v1.3h-1.3zm0.4 0.4h1.3v1.3h-1.3zm0.8 -0.5h1.3v1.3h-1.3zm2.6 0.4h1.3v1.3h-1.3zm1.8 -0.3h1.3v1.3h-1.3zm42.9 -0.2h1.3v1.3h-1.3zm18.9 0.3h1.3v1.3h-1.3zm8.7 0.3h1.3v1.3h-1.3zm7.5 -0.2h1.3v1.3h-1.3zm-102.9 1.2h1.3v1.3h-1.3zm5 -0.7h1.3v1.3h-1.3zm3.4 0.7h1.3v1.3h-1.3zm2.5 0.1h1.3v1.3h-1.3zm3.4 -0.2h1.3v1.3h-1.3zm2 -0.1h1.3v1.3h-1.3zm0.5 0.2h1.3v1.3h-1.3zm0 -0.1h1.3v1.3h-1.3zm0.5 -0.4h1.3v1.3h-1.3zm0.4 -0.2h1.3v1.3h-1.3zm1.1 0.7h1.3v1.3h-1.3zm5.7 -0.5h1.3v1.3h-1.3zm1.6 0.4h1.3v1.3h-1.3zm14.6 0.1h1.3v1.3h-1.3zm47 -0.4h1.3v1.3h-1.3zm19.8 -0.2h1.3v1.3h-1.3zm-111.1 1h1.3v1.3h-1.3zm9.9 -0.1h1.3v1.3h-1.3zm1.7 0.7h1.3v1.3h-1.3zm1.5 -0.6h1.3v1.3h-1.3zm0.3 0.3h1.3v1.3h-1.3zm1.9 0.5h1.3v1.3h-1.3zm0.3 -0.6h1.3v1.3h-1.3zm0.2 0.6h1.3v1.3h-1.3zm2 -0.1h1.3v1.3h-1.3zm0.3 -0.3h1.3v1.3h-1.3zm1.4 -0.2h1.3v1.3h-1.3zm1.3 0.5h1.3v1.3h-1.3zm0.5 -0.4h1.3v1.3h-1.3zm1 0h1.3v1.3h-1.3zm0.1 0.4h1.3v1.3h-1.3zm2.4 0h1.3v1.3h-1.3zm0.3 -0.5h1.3v1.3h-1.3zm0.9 0.1h1.3v1.3h-1.3zm0.8 -0.3h1.3v1.3h-1.3zm0.8 0.6h1.3v1.3h-1.3zm0.8 -0.4h1.3v1.3h-1.3zm0.6 0.3h1.3v1.3h-1.3zm7.7 -0.6h1.3v1.3h-1.3zm1.7 0.7h1.3v1.3h-1.3zm1.6 0h1.3v1.3h-1.3zm41.9 0h1.3v1.3h-1.3zm-70.3 0.5h1.3v1.3h-1.3zm2.6 0h1.3v1.3h-1.3zm1.3 0.2h1.3v1.3h-1.3zm1.4 0.3h1.3v1.3h-1.3zm0.5 -0.2h1.3v1.3h-1.3zm7.2 0.1h1.3v1.3h-1.3zm3.2 -0.3h1.3v1.3h-1.3zm4.2 0.6h1.3v1.3h-1.3zm0.3 -0.1h1.3v1.3h-1.3zm17.1 0h1.3v1.3h-1.3zm12.8 -0.4h1.3v1.3h-1.3zm7.3 -0.1h1.3v1.3h-1.3zm5.7 0.1h1.3v1.3h-1.3zm11 0.4h1.3v1.3h-1.3zm6.6 -0.5h1.3v1.3h-1.3zm1.6 0.5h1.3v1.3h-1.3zm17.4 -0.4h1.3v1.3h-1.3zm-107.9 1.4h1.3v1.3h-1.3zm6.5 0.1h1.3v1.3h-1.3zm1.3 0h1.3v1.3h-1.3zm2.6 -0.2h1.3v1.3h-1.3zm0.5 0.2h1.3v1.3h-1.3zm0.2 -0.7h1.3v1.3h-1.3zm1.3 -0.1h1.3v1.3h-1.3zm1.7 0.7h1.3v1.3h-1.3zm2.8 -0.2h1.3v1.3h-1.3zm0.1 0.3h1.3v1.3h-1.3zm1.4 -0.2h1.3v1.3h-1.3zm0.4 -0.5h1.3v1.3h-1.3zm1.1 -0.1h1.3v1.3h-1.3zm1.6 0.5h1.3v1.3h-1.3zm0.8 0.1h1.3v1.3h-1.3zm0.7 0.1h1.3v1.3h-1.3zm3.6 0.1h1.3v1.3h-1.3zm76.5 -0.2h1.3v1.3h-1.3zm-102.3 1.1h1.3v1.3h-1.3zm6 0.1h1.3v1.3h-1.3zm1.4 -0.6h1.3v1.3h-1.3zm1 0h1.3v1.3h-1.3zm2.4 -0.2h1.3v1.3h-1.3zm3 0.5h1.3v1.3h-1.3zm0.6 -0.1h1.3v1.3h-1.3zm3.5 -0.5h1.3v1.3h-1.3zm4.4 0.4h1.3v1.3h-1.3zm0.2 0.2h1.3v1.3h-1.3zm1.7 -0.3h1.3v1.3h-1.3zm11.1 0.2h1.3v1.3h-1.3zm40.9 0.3h1.3v1.3h-1.3zm15.4 -0.7h1.3v1.3h-1.3zm11.7 0h1.3v1.3h-1.3zm4.9 0.4h1.3v1.3h-1.3zm-110.6 0.5h1.3v1.3h-1.3zm3.5 0.8h1.3v1.3h-1.3zm4.3 -0.6h1.3v1.3h-1.3zm2.3 0.4h1.3v1.3h-1.3zm0.3 -0.3h1.3v1.3h-1.3zm1.8 0.4h1.3v1.3h-1.3zm2.1 -0.6h1.3v1.3h-1.3zm0.7 0.1h1.3v1.3h-1.3zm0.5 0h1.3v1.3h-1.3zm0.4 0h1.3v1.3h-1.3zm2.9 0.7h1.3v1.3h-1.3zm0.6 -0.6h1.3v1.3h-1.3zm1 0.5h1.3v1.3h-1.3zm0.3 -0.6h1.3v1.3h-1.3zm0.6 0.6h1.3v1.3h-1.3zm0.8 0h1.3v1.3h-1.3zm0.9 0.1h1.3v1.3h-1.3zm0.8 -0.8h1.3v1.3h-1.3zm2.6 0.8h1.3v1.3h-1.3zm2.3 -0.6h1.3v1.3h-1.3zm2.4 0.6h1.3v1.3h-1.3zm38.7 -0.3h1.3v1.3h-1.3zm23.3 -0.3h1.3v1.3h-1.3zm3.4 -0.1h1.3v1.3h-1.3zm-98.6 1.7h1.3v1.3h-1.3zm3 -0.2h1.3v1.3h-1.3zm2 -0.1h1.3v1.3h-1.3zm1.2 0.3h1.3v1.3h-1.3zm0 -0.5h1.3v1.3h-1.3zm0.4 -0.4h1.3v1.3h-1.3zm1 0.2h1.3v1.3h-1.3zm0 0.6h1.3v1.3h-1.3zm2 -0.1h1.3v1.3h-1.3zm3.5 -0.7h1.3v1.3h-1.3zm0.3 0.6h1.3v1.3h-1.3zm0.1 -0.1h1.3v1.3h-1.3zm6.4 -0.2h1.3v1.3h-1.3zm2 0.5h1.3v1.3h-1.3zm1.1 -0.3h1.3v1.3h-1.3zm4.6 0.2h1.3v1.3h-1.3zm6.9 -0.2h1.3v1.3h-1.3zm0.6 -0.4h1.3v1.3h-1.3zm24.6 0.7h1.3v1.3h-1.3zm40.1 -0.8h1.3v1.3h-1.3zm-100.7 1.8h1.3v1.3h-1.3zm4.9 -0.3h1.3v1.3h-1.3zm2.2 0h1.3v1.3h-1.3zm0.7 0.3h1.3v1.3h-1.3zm0.2 0.1h1.3v1.3h-1.3zm1.4 -0.5h1.3v1.3h-1.3zm1.4 -0.3h1.3v1.3h-1.3zm0.6 0.7h1.3v1.3h-1.3zm0.3 -0.4h1.3v1.3h-1.3zm1.5 0.2h1.3v1.3h-1.3zm0.3 0.2h1.3v1.3h-1.3zm0.8 0h1.3v1.3h-1.3zm0.7 -0.6h1.3v1.3h-1.3zm1.7 0.1h1.3v1.3h-1.3zm0.5 0.5h1.3v1.3h-1.3zm1.5 -0.7h1.3v1.3h-1.3zm0.6 0.6h1.3v1.3h-1.3zm4 -0.2h1.3v1.3h-1.3zm0.1 -0.2h1.3v1.3h-1.3zm0.4 -0.3h1.3v1.3h-1.3zm0.2 0.7h1.3v1.3h-1.3zm2.8 -0.1h1.3v1.3h-1.3zm4.8 -0.5h1.3v1.3h-1.3zm0.3 0.8h1.3v1.3h-1.3zm0.5 -0.9h1.3v1.3h-1.3zm1.5 0.8h1.3v1.3h-1.3zm27.7 0.1h1.3v1.3h-1.3zm23.3 -0.1h1.3v1.3h-1.3zm12.2 -0.5h1.3v1.3h-1.3zm2.6 0.5h1.3v1.3h-1.3zm-101.1 0.8h1.3v1.3h-1.3zm4.1 0.1h1.3v1.3h-1.3zm4.2 -0.3h1.3v1.3h-1.3zm2 0h1.3v1.3h-1.3zm0.5 0h1.3v1.3h-1.3zm0.8 0h1.3v1.3h-1.3zm1.8 -0.4h1.3v1.3h-1.3zm2 0.4h1.3v1.3h-1.3zm1.1 -0.2h1.3v1.3h-1.3zm0 -0.1h1.3v1.3h-1.3zm3.9 0.2h1.3v1.3h-1.3zm1.1 0.5h1.3v1.3h-1.3zm0.4 -0.1h1.3v1.3h-1.3zm0.6 -0.3h1.3v1.3h-1.3zm1.7 0.3h1.3v1.3h-1.3zm1.9 0h1.3v1.3h-1.3zm0 0h1.3v1.3h-1.3zm0.2 -0.3h1.3v1.3h-1.3zm1.3 0.5h1.3v1.3h-1.3zm3.3 -0.3h1.3v1.3h-1.3zm0.9 -0.5h1.3v1.3h-1.3zm48.3 0.6h1.3v1.3h-1.3zm9 0.1h1.3v1.3h-1.3zm8.3 0.1h1.3v1.3h-1.3zm4.1 -0.9h1.3v1.3h-1.3zm19.8 0.7h1.3v1.3h-1.3zm-116.4 0.7h1.3v1.3h-1.3zm2.7 -0.1h1.3v1.3h-1.3zm1.9 -0.3h1.3v1.3h-1.3zm7.5 0.4h1.3v1.3h-1.3zm1.6 -0.3h1.3v1.3h-1.3zm1.1 0h1.3v1.3h-1.3zm2.9 -0.1h1.3v1.3h-1.3zm0.2 0.8h1.3v1.3h-1.3zm1.3 -0.6h1.3v1.3h-1.3zm0.4 0.5h1.3v1.3h-1.3zm1.3 -0.1h1.3v1.3h-1.3zm3.2 -0.6h1.3v1.3h-1.3zm1.2 0.1h1.3v1.3h-1.3zm3.2 -0.1h1.3v1.3h-1.3zm1.6 0.4h1.3v1.3h-1.3zm58.4 -0.4h1.3v1.3h-1.3zm0.3 0.8h1.3v1.3h-1.3zm-93.9 0.9h1.3v1.3h-1.3zm9.6 -0.2h1.3v1.3h-1.3zm0.6 0h1.3v1.3h-1.3zm0.7 0.4h1.3v1.3h-1.3zm9.4 -0.8h1.3v1.3h-1.3zm1 0.4h1.3v1.3h-1.3zm0.5 0.1h1.3v1.3h-1.3zm2.9 -0.1h1.3v1.3h-1.3zm0.1 0.4h1.3v1.3h-1.3zm1.1 -0.4h1.3v1.3h-1.3zm0.1 -0.4h1.3v1.3h-1.3zm2.2 0.1h1.3v1.3h-1.3zm0.3 0.1h1.3v1.3h-1.3zm2.9 -0.3h1.3v1.3h-1.3zm3.6 0.4h1.3v1.3h-1.3zm51.8 0.1h1.3v1.3h-1.3zm2.3 0.3h1.3v1.3h-1.3zm4.3 -0.3h1.3v1.3h-1.3zm2.1 -0.3h1.3v1.3h-1.3zm-94.3 1.5h1.3v1.3h-1.3zm4.1 0h1.3v1.3h-1.3zm1.7 -0.1h1.3v1.3h-1.3zm1.7 -0.2h1.3v1.3h-1.3zm0.9 -0.1h1.3v1.3h-1.3zm0.7 0h1.3v1.3h-1.3zm1.6 0.3h1.3v1.3h-1.3zm1.6 0h1.3v1.3h-1.3zm0.8 0.3h1.3v1.3h-1.3zm1.5 -0.2h1.3v1.3h-1.3zm4.6 0.2h1.3v1.3h-1.3zm7.3 -0.7h1.3v1.3h-1.3zm0.3 0.3h1.3v1.3h-1.3zm0.9 0.1h1.3v1.3h-1.3zm7.6 0.3h1.3v1.3h-1.3zm33.8 -0.6h1.3v1.3h-1.3zm7 0h1.3v1.3h-1.3zm13.6 -0.3h1.3v1.3h-1.3zm2.3 0.2h1.3v1.3h-1.3zm1.6 -0.1h1.3v1.3h-1.3zm8 0.1h1.3v1.3h-1.3zm4.8 -0.1h1.3v1.3h-1.3zm-107.7 1.7h1.3v1.3h-1.3zm4.6 -0.3h1.3v1.3h-1.3zm6.4 -0.4h1.3v1.3h-1.3zm0.6 0.2h1.3v1.3h-1.3zm0.6 -0.2h1.3v1.3h-1.3zm2.6 0h1.3v1.3h-1.3zm1 0.1h1.3v1.3h-1.3zm1.8 0.6h1.3v1.3h-1.3zm0.6 0h1.3v1.3h-1.3zm2.4 -0.3h1.3v1.3h-1.3zm2.3 -0.1h1.3v1.3h-1.3zm0.6 0.3h1.3v1.3h-1.3zm4.2 -0.4h1.3v1.3h-1.3zm1.4 0.4h1.3v1.3h-1.3zm0.5 -0.1h1.3v1.3h-1.3zm3.4 -0.5h1.3v1.3h-1.3zm25.9 0.3h1.3v1.3h-1.3zm16.8 0.5h1.3v1.3h-1.3zm11.1 -0.9h1.3v1.3h-1.3zm2.3 0.8h1.3v1.3h-1.3zm-88.2 0.2h1.3v1.3h-1.3zm1.3 0.1h1.3v1.3h-1.3zm0.3 0.3h1.3v1.3h-1.3zm1.9 0.5h1.3v1.3h-1.3zm1.5 -0.8h1.3v1.3h-1.3zm1 -0.1h1.3v1.3h-1.3zm0.4 0.7h1.3v1.3h-1.3zm0.5 -0.5h1.3v1.3h-1.3zm0 -0.1h1.3v1.3h-1.3zm10.8 0h1.3v1.3h-1.3zm0.7 0h1.3v1.3h-1.3zm0.2 0.2h1.3v1.3h-1.3zm0.1 0.5h1.3v1.3h-1.3zm2.2 -0.6h1.3v1.3h-1.3zm1.6 0.1h1.3v1.3h-1.3zm1.1 0.4h1.3v1.3h-1.3zm0.8 -0.2h1.3v1.3h-1.3zm0.8 -0.5h1.3v1.3h-1.3zm2.7 0.8h1.3v1.3h-1.3zm1 -0.6h1.3v1.3h-1.3zm0.5 0.6h1.3v1.3h-1.3zm2.5 -0.5h1.3v1.3h-1.3zm6.7 0.5h1.3v1.3h-1.3zm37.3 -0.6h1.3v1.3h-1.3zm12 0.5h1.3v1.3h-1.3zm4.8 -0.3h1.3v1.3h-1.3zm13.6 0.2h1.3v1.3h-1.3zm1.5 0.2h1.3v1.3h-1.3zm-107.5 1.1h1.3v1.3h-1.3zm4.9 -0.1h1.3v1.3h-1.3zm0.2 -0.1h1.3v1.3h-1.3zm1.1 -0.6h1.3v1.3h-1.3zm13.9 0.8h1.3v1.3h-1.3zm0.2 -0.6h1.3v1.3h-1.3zm0.5 0.5h1.3v1.3h-1.3zm0.2 -0.2h1.3v1.3h-1.3zm1 -0.5h1.3v1.3h-1.3zm2.8 0h1.3v1.3h-1.3zm0.4 0.6h1.3v1.3h-1.3zm1.4 -0.5h1.3v1.3h-1.3zm3.3 0.4h1.3v1.3h-1.3zm0.3 0.2h1.3v1.3h-1.3zm5 0h1.3v1.3h-1.3zm65.9 -0.4h1.3v1.3h-1.3zm8.5 -0.4h1.3v1.3h-1.3zm-110.9 1.7h1.3v1.3h-1.3zm2.3 -0.6h1.3v1.3h-1.3zm0.4 0.8h1.3v1.3h-1.3zm1.1 0h1.3v1.3h-1.3zm0.2 -0.5h1.3v1.3h-1.3zm0.8 0.3h1.3v1.3h-1.3zm17.1 -0.4h1.3v1.3h-1.3zm0.6 0.3h1.3v1.3h-1.3zm1.3 -0.1h1.3v1.3h-1.3zm1.1 0.3h1.3v1.3h-1.3zm0.7 -0.4h1.3v1.3h-1.3zm0.1 0.1h1.3v1.3h-1.3zm0.6 0h1.3v1.3h-1.3zm0.4 0h1.3v1.3h-1.3zm0.8 0.1h1.3v1.3h-1.3zm0.7 0h1.3v1.3h-1.3zm38.2 -0.6h1.3v1.3h-1.3zm30.9 0.1h1.3v1.3h-1.3zm10.3 0.3h1.3v1.3h-1.3zm7 0.4h1.3v1.3h-1.3zm1 0h1.3v1.3h-1.3zm8.6 -0.3h1.3v1.3h-1.3zm-134.4 0.7h1.3v1.3h-1.3zm12.3 0.5h1.3v1.3h-1.3zm0.1 0.2h1.3v1.3h-1.3zm0.7 -0.2h1.3v1.3h-1.3zm0.3 -0.2h1.3v1.3h-1.3zm20 -0.5h1.3v1.3h-1.3zm0.5 0.2h1.3v1.3h-1.3zm1.1 0.7h1.3v1.3h-1.3zm0.5 -0.2h1.3v1.3h-1.3zm1.5 -0.7h1.3v1.3h-1.3zm0.5 0.5h1.3v1.3h-1.3zm0.5 0.4h1.3v1.3h-1.3zm2 -0.1h1.3v1.3h-1.3zm4.3 -0.6h1.3v1.3h-1.3zm4.7 0.3h1.3v1.3h-1.3zm2 -0.5h1.3v1.3h-1.3zm24 0.8h1.3v1.3h-1.3zm23.8 -0.5h1.3v1.3h-1.3zm1.4 0.3h1.3v1.3h-1.3zm0.5 -0.1h1.3v1.3h-1.3zm1.9 -0.3h1.3v1.3h-1.3zm-92.7 0.8h1.3v1.3h-1.3zm0.4 0.8h1.3v1.3h-1.3zm22.5 -0.8h1.3v1.3h-1.3zm1.1 0.9h1.3v1.3h-1.3zm0.9 -0.3h1.3v1.3h-1.3zm0.2 0.2h1.3v1.3h-1.3zm0.6 -0.6h1.3v1.3h-1.3zm0.7 0.4h1.3v1.3h-1.3zm0.7 0.1h1.3v1.3h-1.3zm1.2 -0.4h1.3v1.3h-1.3zm0.8 -0.3h1.3v1.3h-1.3zm3 0.7h1.3v1.3h-1.3zm1.5 0h1.3v1.3h-1.3zm47.6 -0.7h1.3v1.3h-1.3zm26.7 0.6h1.3v1.3h-1.3zm-115.5 0.6h1.3v1.3h-1.3zm2.1 0.7h1.3v1.3h-1.3zm2.8 -0.5h1.3v1.3h-1.3zm2.1 0.3h1.3v1.3h-1.3zm1.6 -0.4h1.3v1.3h-1.3zm22 0.5h1.3v1.3h-1.3zm0 -0.5h1.3v1.3h-1.3zm0.9 -0.1h1.3v1.3h-1.3zm1.6 0.5h1.3v1.3h-1.3zm1.6 -0.7h1.3v1.3h-1.3zm0.5 0.4h1.3v1.3h-1.3zm0.4 0.2h1.3v1.3h-1.3zm0.1 -0.6h1.3v1.3h-1.3zm0.1 0.9h1.3v1.3h-1.3zm1.6 0h1.3v1.3h-1.3zm0.2 -0.9h1.3v1.3h-1.3zm0.9 0.5h1.3v1.3h-1.3zm0.9 0.2h1.3v1.3h-1.3zm9.7 -0.3h1.3v1.3h-1.3zm-43.7 1.4h1.3v1.3h-1.3zm0.2 0h1.3v1.3h-1.3zm1 -0.2h1.3v1.3h-1.3zm24.3 -0.2h1.3v1.3h-1.3zm0.2 -0.1h1.3v1.3h-1.3zm0.9 0.2h1.3v1.3h-1.3zm1.8 0.4h1.3v1.3h-1.3zm4.1 -0.7h1.3v1.3h-1.3zm1.7 0.2h1.3v1.3h-1.3zm0.1 0.4h1.3v1.3h-1.3zm1.1 -0.8h1.3v1.3h-1.3zm1.8 0.3h1.3v1.3h-1.3zm1.3 0.4h1.3v1.3h-1.3zm40.4 -0.1h1.3v1.3h-1.3zm4.9 0.2h1.3v1.3h-1.3zm-86.1 1h1.3v1.3h-1.3zm1.4 -0.3h1.3v1.3h-1.3zm0.4 -0.1h1.3v1.3h-1.3zm26.8 0.3h1.3v1.3h-1.3zm1 -0.3h1.3v1.3h-1.3zm0.4 0.1h1.3v1.3h-1.3zm0.3 -0.5h1.3v1.3h-1.3zm0.2 0.4h1.3v1.3h-1.3zm0.6 0.4h1.3v1.3h-1.3zm4 -0.8h1.3v1.3h-1.3zm0.7 0.1h1.3v1.3h-1.3zm0.3 0.7h1.3v1.3h-1.3zm2 -0.5h1.3v1.3h-1.3zm35.8 0.6h1.3v1.3h-1.3zm13.7 -0.4h1.3v1.3h-1.3zm1.1 -0.3h1.3v1.3h-1.3zm-97.4 1.4h1.3v1.3h-1.3zm6.9 0h1.3v1.3h-1.3zm1.9 -0.3h1.3v1.3h-1.3zm28.6 0.3h1.3v1.3h-1.3zm0.2 -0.1h1.3v1.3h-1.3zm0.6 -0.4h1.3v1.3h-1.3zm0.2 0.7h1.3v1.3h-1.3zm1.3 -0.1h1.3v1.3h-1.3zm0.5 -0.4h1.3v1.3h-1.3zm1.8 0.3h1.3v1.3h-1.3zm1.1 0.3h1.3v1.3h-1.3zm0.6 -0.8h1.3v1.3h-1.3zm0.7 0.2h1.3v1.3h-1.3zm0.7 0.5h1.3v1.3h-1.3zm47.3 -0.7h1.3v1.3h-1.3zm6.8 0.5h1.3v1.3h-1.3zm3.3 -0.6h1.3v1.3h-1.3zm15.8 0.3h1.3v1.3h-1.3zm0.7 0.5h1.3v1.3h-1.3zm-114.6 0.5h1.3v1.3h-1.3zm2.1 0h1.3v1.3h-1.3zm0.3 -0.3h1.3v1.3h-1.3zm0.9 0.1h1.3v1.3h-1.3zm29.5 0h1.3v1.3h-1.3zm0.5 0h1.3v1.3h-1.3zm3.1 0.1h1.3v1.3h-1.3zm0.5 -0.1h1.3v1.3h-1.3zm0.1 0.6h1.3v1.3h-1.3zm2.4 -0.6h1.3v1.3h-1.3zm0.8 0.7h1.3v1.3h-1.3zm0.5 -0.1h1.3v1.3h-1.3zm39.2 -0.5h1.3v1.3h-1.3zm9.5 -0.2h1.3v1.3h-1.3zm-90.3 1.2h1.3v1.3h-1.3zm2.5 0.7h1.3v1.3h-1.3zm0.2 -0.3h1.3v1.3h-1.3zm31.5 -0.4h1.3v1.3h-1.3zm1.7 0.3h1.3v1.3h-1.3zm0.5 -0.2h1.3v1.3h-1.3zm1.3 -0.3h1.3v1.3h-1.3zm1.5 0.7h1.3v1.3h-1.3zm1.5 -0.4h1.3v1.3h-1.3zm1.2 -0.1h1.3v1.3h-1.3zm0.8 0.5h1.3v1.3h-1.3zm6.8 0h1.3v1.3h-1.3zm21.9 -0.1h1.3v1.3h-1.3zm9.8 0.3h1.3v1.3h-1.3zm2.9 0h1.3v1.3h-1.3zm14 -0.9h1.3v1.3h-1.3zm4.5 0.3h1.3v1.3h-1.3zm1.2 0.4h1.3v1.3h-1.3zm8.8 -0.2h1.3v1.3h-1.3zm-111.4 0.9h1.3v1.3h-1.3zm32.6 -0.1h1.3v1.3h-1.3zm0.4 0.5h1.3v1.3h-1.3zm0.4 -0.5h1.3v1.3h-1.3zm0.3 -0.3h1.3v1.3h-1.3zm0.3 0.2h1.3v1.3h-1.3zm1.3 0.7h1.3v1.3h-1.3zm0.6 -0.8h1.3v1.3h-1.3zm1.8 0.4h1.3v1.3h-1.3zm47.1 0.3h1.3v1.3h-1.3zm13.3 -0.7h1.3v1.3h-1.3zm6.4 0.1h1.3v1.3h-1.3zm24.2 0.5h1.3v1.3h-1.3zm-133.1 0.8h1.3v1.3h-1.3zm0.6 0.1h1.3v1.3h-1.3zm36.8 0.2h1.3v1.3h-1.3zm0.8 -0.8h1.3v1.3h-1.3zm3.2 0.2h1.3v1.3h-1.3zm0.8 -0.1h1.3v1.3h-1.3zm0.7 0.5h1.3v1.3h-1.3zm2.2 -0.4h1.3v1.3h-1.3zm5 0.6h1.3v1.3h-1.3zm38.5 -0.4h1.3v1.3h-1.3zm19 -0.4h1.3v1.3h-1.3zm-111.5 1.6h1.3v1.3h-1.3zm2.5 0.3h1.3v1.3h-1.3zm3 -0.9h1.3v1.3h-1.3zm37.2 0.1h1.3v1.3h-1.3zm1.8 0h1.3v1.3h-1.3zm0.9 0.3h1.3v1.3h-1.3zm0.6 0.2h1.3v1.3h-1.3zm4.5 -0.1h1.3v1.3h-1.3zm1.7 -0.3h1.3v1.3h-1.3zm4.9 0.4h1.3v1.3h-1.3zm28.2 -0.1h1.3v1.3h-1.3zm26.1 0.3h1.3v1.3h-1.3zm-107.5 0.5h1.3v1.3h-1.3zm38.6 -0.1h1.3v1.3h-1.3zm0.5 0.2h1.3v1.3h-1.3zm0.9 -0.1h1.3v1.3h-1.3zm0.9 0.5h1.3v1.3h-1.3zm0.2 -0.4h1.3v1.3h-1.3zm0.3 0.2h1.3v1.3h-1.3zm5.9 -0.6h1.3v1.3h-1.3zm1.3 0.3h1.3v1.3h-1.3zm1.9 -0.3h1.3v1.3h-1.3zm15.9 0.3h1.3v1.3h-1.3zm9.3 0.5h1.3v1.3h-1.3zm22.4 -0.6h1.3v1.3h-1.3zm33.4 0.2h1.3v1.3h-1.3zm-135 0.9h1.3v1.3h-1.3zm0.6 0h1.3v1.3h-1.3zm42.7 -0.3h1.3v1.3h-1.3zm1 0.3h1.3v1.3h-1.3zm2.6 0.2h1.3v1.3h-1.3zm1.1 -0.3h1.3v1.3h-1.3zm1 0.7h1.3v1.3h-1.3zm0.8 -0.7h1.3v1.3h-1.3zm1.8 -0.2h1.3v1.3h-1.3zm40.1 0.2h1.3v1.3h-1.3zm5.2 0.3h1.3v1.3h-1.3zm6.5 0.2h1.3v1.3h-1.3zm-102.9 0.7h1.3v1.3h-1.3zm1.6 0.1h1.3v1.3h-1.3zm38.5 -0.3h1.3v1.3h-1.3zm0.4 -0.2h1.3v1.3h-1.3zm2.8 0.6h1.3v1.3h-1.3zm0.5 0.1h1.3v1.3h-1.3zm0 0.2h1.3v1.3h-1.3zm0.5 -0.9h1.3v1.3h-1.3zm2.7 0.5h1.3v1.3h-1.3zm3 0.2h1.3v1.3h-1.3zm26.4 0.2h1.3v1.3h-1.3zm12.4 0h1.3v1.3h-1.3zm0.1 -0.8h1.3v1.3h-1.3zm0.8 0.3h1.3v1.3h-1.3zm10.9 -0.1h1.3v1.3h-1.3zm6 -0.2h1.3v1.3h-1.3zm-107.8 1.3h1.3v1.3h-1.3zm1.8 0.5h1.3v1.3h-1.3zm0.3 -0.7h1.3v1.3h-1.3zm39.6 0.1h1.3v1.3h-1.3zm3 0.6h1.3v1.3h-1.3zm1.3 -0.7h1.3v1.3h-1.3zm0.8 0.3h1.3v1.3h-1.3zm0.6 -0.4h1.3v1.3h-1.3zm1.8 0.1h1.3v1.3h-1.3zm3.3 0.1h1.3v1.3h-1.3zm3 0h1.3v1.3h-1.3zm3.3 -0.1h1.3v1.3h-1.3zm2 0.1h1.3v1.3h-1.3zm7.9 0.3h1.3v1.3h-1.3zm6.8 -0.4h1.3v1.3h-1.3zm4.2 0.1h1.3v1.3h-1.3zm0.8 -0.2h1.3v1.3h-1.3zm14.7 -0.1h1.3v1.3h-1.3zm-95.6 1.7h1.3v1.3h-1.3zm0 -0.7h1.3v1.3h-1.3zm0.8 0.9h1.3v1.3h-1.3zm0.9 -0.7h1.3v1.3h-1.3zm44.7 0.2h1.3v1.3h-1.3zm0.8 0.1h1.3v1.3h-1.3zm0 0.3h1.3v1.3h-1.3zm0.5 -0.6h1.3v1.3h-1.3zm0.4 0.7h1.3v1.3h-1.3zm2.8 -0.4h1.3v1.3h-1.3zm0.2 0.4h1.3v1.3h-1.3zm0.7 -0.8h1.3v1.3h-1.3zm0.5 0.7h1.3v1.3h-1.3zm0.9 -0.3h1.3v1.3h-1.3zm1.1 -0.3h1.3v1.3h-1.3zm34 0.4h1.3v1.3h-1.3zm1.7 0.1h1.3v1.3h-1.3zm5.7 -0.2h1.3v1.3h-1.3zm-95.3 1.2h1.3v1.3h-1.3zm0 -0.4h1.3v1.3h-1.3zm41.2 -0.2h1.3v1.3h-1.3zm0.4 0.2h1.3v1.3h-1.3zm2.6 0.4h1.3v1.3h-1.3zm0.4 -0.1h1.3v1.3h-1.3zm0.5 0.1h1.3v1.3h-1.3zm0.4 -0.1h1.3v1.3h-1.3zm0.1 -0.6h1.3v1.3h-1.3zm2.3 0.9h1.3v1.3h-1.3zm4 -0.6h1.3v1.3h-1.3zm1.1 0h1.3v1.3h-1.3zm0.2 0h1.3v1.3h-1.3zm0.4 0.5h1.3v1.3h-1.3zm8 -0.4h1.3v1.3h-1.3zm2 0h1.3v1.3h-1.3zm21.2 0.2h1.3v1.3h-1.3zm6.9 0.2h1.3v1.3h-1.3zm-91.7 0.3h1.3v1.3h-1.3zm41.5 0.8h1.3v1.3h-1.3zm2.8 -0.7h1.3v1.3h-1.3zm0.3 0.3h1.3v1.3h-1.3zm2.5 -0.4h1.3v1.3h-1.3zm2.5 0.8h1.3v1.3h-1.3zm44.7 -0.1h1.3v1.3h-1.3zm4.9 -0.6h1.3v1.3h-1.3zm-100.3 1h1.3v1.3h-1.3zm0.1 0.5h1.3v1.3h-1.3zm0.1 0h1.3v1.3h-1.3zm0.5 0.2h1.3v1.3h-1.3zm41.7 -0.1h1.3v1.3h-1.3zm1.3 -0.2h1.3v1.3h-1.3zm0.1 0.3h1.3v1.3h-1.3zm1.7 -0.1h1.3v1.3h-1.3zm1.8 -0.6h1.3v1.3h-1.3zm0.2 0.3h1.3v1.3h-1.3zm0.1 -0.4h1.3v1.3h-1.3zm0.4 0.7h1.3v1.3h-1.3zm2.1 -0.4h1.3v1.3h-1.3zm2.2 0.3h1.3v1.3h-1.3zm0 -0.2h1.3v1.3h-1.3zm0.5 0.1h1.3v1.3h-1.3zm-52.9 0.8h1.3v1.3h-1.3zm0.6 0.3h1.3v1.3h-1.3zm0.2 -0.1h1.3v1.3h-1.3zm0.5 -0.5h1.3v1.3h-1.3zm0.1 0.6h1.3v1.3h-1.3zm41.1 -0.2h1.3v1.3h-1.3zm1.2 -0.3h1.3v1.3h-1.3zm2.2 0.6h1.3v1.3h-1.3zm0.9 -0.7h1.3v1.3h-1.3zm0 0.4h1.3v1.3h-1.3zm0.6 0.1h1.3v1.3h-1.3zm2 -0.5h1.3v1.3h-1.3zm3.3 0.3h1.3v1.3h-1.3zm1.4 -0.3h1.3v1.3h-1.3zm22.9 0.2h1.3v1.3h-1.3zm9 0.2h1.3v1.3h-1.3zm4.2 0.1h1.3v1.3h-1.3zm12.8 0.3h1.3v1.3h-1.3zm-104.4 1h1.3v1.3h-1.3zm1.8 -0.9h1.3v1.3h-1.3zm42.3 0.5h1.3v1.3h-1.3zm0.5 0h1.3v1.3h-1.3zm0.1 -0.1h1.3v1.3h-1.3zm1 0.5h1.3v1.3h-1.3zm1.2 0h1.3v1.3h-1.3zm0.7 -0.7h1.3v1.3h-1.3zm0.2 -0.2h1.3v1.3h-1.3zm1.7 0.9h1.3v1.3h-1.3zm1.2 -0.4h1.3v1.3h-1.3zm2.3 -0.5h1.3v1.3h-1.3zm2.3 0.4h1.3v1.3h-1.3zm0.7 -0.3h1.3v1.3h-1.3zm38.7 0.4h1.3v1.3h-1.3zm-93 1.1h1.3v1.3h-1.3zm0.5 -0.4h1.3v1.3h-1.3zm0.4 0.3h1.3v1.3h-1.3zm41.4 0.2h1.3v1.3h-1.3zm2.5 -0.6h1.3v1.3h-1.3zm2.5 0.2h1.3v1.3h-1.3zm1 0.3h1.3v1.3h-1.3zm0.2 0.1h1.3v1.3h-1.3zm6.6 -0.1h1.3v1.3h-1.3zm9.1 -0.4h1.3v1.3h-1.3zm15.5 0.3h1.3v1.3h-1.3zm32.9 0.3h1.3v1.3h-1.3zm-112.5 0.4h1.3v1.3h-1.3zm0.5 0.3h1.3v1.3h-1.3zm46.7 0.2h1.3v1.3h-1.3zm1.6 -0.7h1.3v1.3h-1.3zm2.6 0.4h1.3v1.3h-1.3zm1.3 0.3h1.3v1.3h-1.3zm37.4 -0.1h1.3v1.3h-1.3zm1.3 -0.1h1.3v1.3h-1.3zm4.4 -0.5h1.3v1.3h-1.3zm-98.3 1h1.3v1.3h-1.3zm1.5 0.6h1.3v1.3h-1.3zm42.4 -0.1h1.3v1.3h-1.3zm5.9 0.2h1.3v1.3h-1.3zm3.2 -0.1h1.3v1.3h-1.3zm35.2 0h1.3v1.3h-1.3zm12.2 0.3h1.3v1.3h-1.3zm-55.2 0.4h1.3v1.3h-1.3zm0.1 0h1.3v1.3h-1.3zm1.3 0.4h1.3v1.3h-1.3zm1.2 -0.6h1.3v1.3h-1.3zm0.8 0.4h1.3v1.3h-1.3zm0.8 -0.2h1.3v1.3h-1.3zm1.7 0h1.3v1.3h-1.3zm3 0.3h1.3v1.3h-1.3zm1.6 -0.2h1.3v1.3h-1.3zm-56.8 0.6h1.3v1.3h-1.3zm1.6 0.4h1.3v1.3h-1.3zm1.8 -0.4h1.3v1.3h-1.3zm0.2 0.4h1.3v1.3h-1.3zm41.7 0.2h1.3v1.3h-1.3zm0.1 0h1.3v1.3h-1.3zm0.7 -0.5h1.3v1.3h-1.3zm3.2 0.6h1.3v1.3h-1.3zm29.6 -0.5h1.3v1.3h-1.3zm3.5 0.6h1.3v1.3h-1.3zm1.6 0.1h1.3v1.3h-1.3zm1.4 -0.1h1.3v1.3h-1.3zm13.2 -0.8h1.3v1.3h-1.3zm0.7 0.4h1.3v1.3h-1.3zm9.8 0.1h1.3v1.3h-1.3zm-107.3 1.2h1.3v1.3h-1.3zm0.8 0.1h1.3v1.3h-1.3zm0.6 -0.7h1.3v1.3h-1.3zm0.4 -0.1h1.3v1.3h-1.3zm45.8 0.9h1.3v1.3h-1.3zm0.4 -0.3h1.3v1.3h-1.3zm0.5 -0.1h1.3v1.3h-1.3zm3 0.3h1.3v1.3h-1.3zm0.2 -0.1h1.3v1.3h-1.3zm1.2 -0.6h1.3v1.3h-1.3zm2 0.4h1.3v1.3h-1.3zm39.2 0.2h1.3v1.3h-1.3zm4.1 -0.7h1.3v1.3h-1.3zm16.2 0.8h1.3v1.3h-1.3zm-113.1 1.1h1.3v1.3h-1.3zm41.3 -0.7h1.3v1.3h-1.3zm0.4 0.7h1.3v1.3h-1.3zm3.8 -0.8h1.3v1.3h-1.3zm0.3 0.3h1.3v1.3h-1.3zm0.2 -0.2h1.3v1.3h-1.3zm0.4 0.2h1.3v1.3h-1.3zm5.9 0.3h1.3v1.3h-1.3zm1 -0.3h1.3v1.3h-1.3zm9.7 0.5h1.3v1.3h-1.3zm15.3 -0.9h1.3v1.3h-1.3zm20.8 0.4h1.3v1.3h-1.3zm1.4 -0.1h1.3v1.3h-1.3zm21.3 -0.3h1.3v1.3h-1.3zm-123.8 1.2h1.3v1.3h-1.3zm43.3 0.7h1.3v1.3h-1.3zm3.1 -0.7h1.3v1.3h-1.3zm7.8 0.6h1.3v1.3h-1.3zm0.9 -0.2h1.3v1.3h-1.3zm2.5 -0.4h1.3v1.3h-1.3zm29.1 0h1.3v1.3h-1.3zm11.9 0.1h1.3v1.3h-1.3zm31.8 0.2h1.3v1.3h-1.3zm-127.9 0.7h1.3v1.3h-1.3zm40.2 0.3h1.3v1.3h-1.3zm0.3 -0.2h1.3v1.3h-1.3zm0.3 0.5h1.3v1.3h-1.3zm0.5 -0.3h1.3v1.3h-1.3zm0.3 0.4h1.3v1.3h-1.3zm1.2 -0.4h1.3v1.3h-1.3zm1.2 -0.1h1.3v1.3h-1.3zm2.6 0.2h1.3v1.3h-1.3zm1.7 0.1h1.3v1.3h-1.3zm0.9 0.2h1.3v1.3h-1.3zm11.1 0h1.3v1.3h-1.3zm19.7 -0.2h1.3v1.3h-1.3zm11.7 0.1h1.3v1.3h-1.3zm4.1 -0.6h1.3v1.3h-1.3zm-52.7 0.8h1.3v1.3h-1.3zm0 0.3h1.3v1.3h-1.3zm0.6 -0.2h1.3v1.3h-1.3zm1.8 0.2h1.3v1.3h-1.3zm0.9 0h1.3v1.3h-1.3zm2.8 0.2h1.3v1.3h-1.3zm1.7 -0.5h1.3v1.3h-1.3zm2 0.2h1.3v1.3h-1.3zm26.9 0.5h1.3v1.3h-1.3zm8.8 -0.7h1.3v1.3h-1.3zm31.5 0.9h1.3v1.3h-1.3zm-120.1 0.4h1.3v1.3h-1.3zm0 0.6h1.3v1.3h-1.3zm38.2 -0.1h1.3v1.3h-1.3zm0.4 -0.3h1.3v1.3h-1.3zm0.1 -0.4h1.3v1.3h-1.3zm0.2 0.1h1.3v1.3h-1.3zm2.4 0.3h1.3v1.3h-1.3zm0.7 -0.3h1.3v1.3h-1.3zm0.9 0.4h1.3v1.3h-1.3zm0.5 -0.6h1.3v1.3h-1.3zm2.1 0.9h1.3v1.3h-1.3zm0.2 -0.8h1.3v1.3h-1.3zm0.3 0.4h1.3v1.3h-1.3zm1 0.4h1.3v1.3h-1.3zm4.4 -0.6h1.3v1.3h-1.3zm30.9 0.4h1.3v1.3h-1.3zm5.1 -0.2h1.3v1.3h-1.3zm4.6 -0.1h1.3v1.3h-1.3zm9 0.1h1.3v1.3h-1.3zm-58.9 0.7h1.3v1.3h-1.3zm2.9 -0.2h1.3v1.3h-1.3zm3.4 0.2h1.3v1.3h-1.3zm38.8 0h1.3v1.3h-1.3z"/><path fill="#fbe6e8" d="M0 0m98.4 388.7h1v1h-1zm3.4 0.9h1v1h-1zm6.3 0.1h1v1h-1zm-14.2 3.1h1v1h-1zm-5 1h1v1h-1zm-10.8 7.5h1v1h-1zm4.9 0.2h1v1h-1zm27.8 4.7h1v1h-1zm-38.5 1.5h1v1h-1zm0.4 -0.2h1v1h-1zm33.1 2.7h1v1h-1zm-33.8 2.4h1v1h-1zm38.4 4.4h1v1h-1zm-14.1 4.3h1v1h-1zm11.5 0.7h1v1h-1zm-15.5 0.7h1v1h-1zm-6.3 0.8h1v1h-1zm3 -0.3h1v1h-1zm8.5 -0.1h1v1h-1z"/><path stroke="#1a1a1a" stroke-width="1.15" fill="none" d="M102.5 257.5V424.5M48.5 370.5H214.5"/><rect x="48.5" y="257.5" width="166" height="167" fill="none" stroke="#1a1a1a" stroke-width="1.2"/><path stroke="#1a1a1a" stroke-width="1" fill="none" d="M49.5 424.5v4.5M48.5 424.5h-4.5M61.5 424.5v2.4M48.5 411.5h-2.4M68.5 424.5v2.4M48.5 404.5h-2.4M73.5 424.5v2.4M48.5 399.5h-2.4M77.5 424.5v2.4M48.5 395.5h-2.4M81.5 424.5v2.4M48.5 391.5h-2.4M83.5 424.5v2.4M48.5 389.5h-2.4M86.5 424.5v2.4M48.5 386.5h-2.4M88.5 424.5v2.4M48.5 384.5h-2.4M90.5 424.5v4.5M48.5 382.5h-4.5M102.5 424.5v2.4M48.5 370.5h-2.4M109.5 424.5v2.4M48.5 362.5h-2.4M114.5 424.5v2.4M48.5 357.5h-2.4M118.5 424.5v2.4M48.5 353.5h-2.4M122.5 424.5v2.4M48.5 350.5h-2.4M124.5 424.5v2.4M48.5 347.5h-2.4M127.5 424.5v2.4M48.5 345.5h-2.4M129.5 424.5v2.4M48.5 343.5h-2.4M131.5 424.5v4.5M48.5 341.5h-4.5M143.5 424.5v2.4M48.5 328.5h-2.4M150.5 424.5v2.4M48.5 321.5h-2.4M155.5 424.5v2.4M48.5 316.5h-2.4M159.5 424.5v2.4M48.5 312.5h-2.4M163.5 424.5v2.4M48.5 308.5h-2.4M165.5 424.5v2.4M48.5 306.5h-2.4M168.5 424.5v2.4M48.5 303.5h-2.4M170.5 424.5v2.4M48.5 301.5h-2.4M172.5 424.5v4.5M48.5 299.5h-4.5M184.5 424.5v2.4M48.5 287.5h-2.4M191.5 424.5v2.4M48.5 279.5h-2.4M197.5 424.5v2.4M48.5 274.5h-2.4M201.5 424.5v2.4M48.5 270.5h-2.4M204.5 424.5v2.4M48.5 267.5h-2.4M207.5 424.5v2.4M48.5 264.5h-2.4M209.5 424.5v2.4M48.5 262.5h-2.4M211.5 424.5v2.4M48.5 260.5h-2.4M213.5 424.5v4.5M48.5 258.5h-4.5"/><text x="49.1" y="440.6" font-size="10.6" text-anchor="middle">10<tspan font-size="7.8" dx="0.7" dy="-4.4">0</tspan></text><text x="90.2" y="440.6" font-size="10.6" text-anchor="middle">10<tspan font-size="7.8" dx="0.7" dy="-4.4">1</tspan></text><text x="131.2" y="440.6" font-size="10.6" text-anchor="middle">10<tspan font-size="7.8" dx="0.7" dy="-4.4">2</tspan></text><text x="172.3" y="440.6" font-size="10.6" text-anchor="middle">10<tspan font-size="7.8" dx="0.7" dy="-4.4">3</tspan></text><text x="213.4" y="440.6" font-size="10.6" text-anchor="middle">10<tspan font-size="7.8" dx="0.7" dy="-4.4">4</tspan></text><g transform="translate(40.6 424.1) rotate(-90)"><text x="0.3" y="0" font-size="10.6" text-anchor="middle">10<tspan font-size="7.8" dx="0.7" dy="-4.4">0</tspan></text></g><g transform="translate(40.6 382.7) rotate(-90)"><text x="0.3" y="0" font-size="10.6" text-anchor="middle">10<tspan font-size="7.8" dx="0.7" dy="-4.4">1</tspan></text></g><g transform="translate(40.6 341.2) rotate(-90)"><text x="0.3" y="0" font-size="10.6" text-anchor="middle">10<tspan font-size="7.8" dx="0.7" dy="-4.4">2</tspan></text></g><g transform="translate(40.6 299.8) rotate(-90)"><text x="0.3" y="0" font-size="10.6" text-anchor="middle">10<tspan font-size="7.8" dx="0.7" dy="-4.4">3</tspan></text></g><g transform="translate(40.6 258.3) rotate(-90)"><text x="0.3" y="0" font-size="10.6" text-anchor="middle">10<tspan font-size="7.8" dx="0.7" dy="-4.4">4</tspan></text></g>
<path fill="#e30a17" d="M292 427L292.5 422L296 416L301 410.5L306 405L311 400L316 396L321 393L326 391.5L331 392L335.5 395L337.5 402L338 412L337 422L335 427z"/><path fill="#e30a17" shape-rendering="crispEdges" d="M408 321h1v1h-1zM415 323h2v1h-2zM328 388h4v1h-4zM327 389h6v1h-6zM327 390h7v1h-7zM332 391h3v1h-3zM333 392h2v1h-2zM335 393h1v1h-1zM335 394h4v1h-4zM336 395h3v1h-3zM337 396h1v1h-1zM338 399h1v1h-1zM338 400h2v1h-2zM338 401h3v1h-3zM338 402h4v1h-4zM338 403h3v1h-3zM338 404h3v1h-3zM338 405h2v1h-2zM338 406h2v1h-2zM338 407h2v1h-2zM338 419h2v1h-2zM338 420h2v1h-2zM337 425h2v1h-2z"/><path fill="#d0202f" d="M0 0m355.4 288.4h1.3v1.3h-1.3zm-13.5 0.6h1.3v1.3h-1.3zm-1.8 2.9h1.3v1.3h-1.3zm14.1 0.5h1.3v1.3h-1.3zm51.7 0.7h1.3v1.3h-1.3zm-68.1 1.6h1.3v1.3h-1.3zm50.8 -0.8h1.3v1.3h-1.3zm-23.7 1.6h1.3v1.3h-1.3zm43.9 -0.6h1.3v1.3h-1.3zm19.8 0.8h1.3v1.3h-1.3zm9.1 0.9h1.3v1.3h-1.3zm-81 4.6h1.3v1.3h-1.3zm19.9 2.5h1.3v1.3h-1.3zm16.7 -0.4h1.3v1.3h-1.3zm17.6 0.5h1.3v1.3h-1.3zm-8.1 1.4h1.3v1.3h-1.3zm-14.6 2.3h1.3v1.3h-1.3zm22.5 -0.2h1.3v1.3h-1.3zm-7.2 1.3h1.3v1.3h-1.3zm3.2 -0.5h1.3v1.3h-1.3zm2.9 0.3h1.3v1.3h-1.3zm8.7 -0.5h1.3v1.3h-1.3zm2 0.8h1.3v1.3h-1.3zm-12.2 1.1h1.3v1.3h-1.3zm-43.6 0.3h1.3v1.3h-1.3zm7.7 -0.2h1.3v1.3h-1.3zm23 0.3h1.3v1.3h-1.3zm7.7 0.5h1.3v1.3h-1.3zm1.1 -0.3h1.3v1.3h-1.3zm3.3 0.1h1.3v1.3h-1.3zm4.8 0h1.3v1.3h-1.3zm-45.2 0.8h1.3v1.3h-1.3zm23.8 0.1h1.3v1.3h-1.3zm18.5 -0.5h1.3v1.3h-1.3zm0.7 0.8h1.3v1.3h-1.3zm3.8 -0.1h1.3v1.3h-1.3zm2.8 -0.2h1.3v1.3h-1.3zm-65.4 0.9h1.3v1.3h-1.3zm3.9 0.1h1.3v1.3h-1.3zm2.9 -0.3h1.3v1.3h-1.3zm2.4 0.4h1.3v1.3h-1.3zm2.8 0.2h1.3v1.3h-1.3zm2.6 -0.4h1.3v1.3h-1.3zm4.1 0.3h1.3v1.3h-1.3zm0 0.1h1.3v1.3h-1.3zm5.3 -0.1h1.3v1.3h-1.3zm4.8 0.2h1.3v1.3h-1.3zm8.3 -0.9h1.3v1.3h-1.3zm15.6 0.7h1.3v1.3h-1.3zm7.8 0h1.3v1.3h-1.3zm0 -0.5h1.3v1.3h-1.3zm2 0.2h1.3v1.3h-1.3zm0.2 0.2h1.3v1.3h-1.3zm2.9 -0.1h1.3v1.3h-1.3zm3.1 0.1h1.3v1.3h-1.3zm-68.2 1h1.3v1.3h-1.3zm11.5 -0.3h1.3v1.3h-1.3zm9.9 -0.3h1.3v1.3h-1.3zm15.3 0.1h1.3v1.3h-1.3zm0.5 0.7h1.3v1.3h-1.3zm7.2 0.1h1.3v1.3h-1.3zm10.1 -0.1h1.3v1.3h-1.3zm0.8 -0.6h1.3v1.3h-1.3zm1.5 0.3h1.3v1.3h-1.3zm1 0h1.3v1.3h-1.3zm1.3 0.4h1.3v1.3h-1.3zm0.5 -0.3h1.3v1.3h-1.3zm1.8 -0.3h1.3v1.3h-1.3zm2.1 -0.3h1.3v1.3h-1.3zm2.4 0.4h1.3v1.3h-1.3zm-70.5 1.1h1.3v1.3h-1.3zm5.4 0.3h1.3v1.3h-1.3zm3.3 -0.1h1.3v1.3h-1.3zm9.1 0h1.3v1.3h-1.3zm3.2 -0.4h1.3v1.3h-1.3zm7 -0.1h1.3v1.3h-1.3zm7.7 0.7h1.3v1.3h-1.3zm14.9 0h1.3v1.3h-1.3zm0 -0.1h1.3v1.3h-1.3zm5.4 0.1h1.3v1.3h-1.3zm2.8 -0.6h1.3v1.3h-1.3zm2.1 -0.2h1.3v1.3h-1.3zm1.7 0.8h1.3v1.3h-1.3zm3 -0.6h1.3v1.3h-1.3zm0.1 0h1.3v1.3h-1.3zm4 0.6h1.3v1.3h-1.3zm0.1 -0.2h1.3v1.3h-1.3zm0.4 0.1h1.3v1.3h-1.3zm1.8 0h1.3v1.3h-1.3zm1.8 0.1h1.3v1.3h-1.3zm0.9 -0.4h1.3v1.3h-1.3zm-77.4 0.7h1.3v1.3h-1.3zm6.5 0.1h1.3v1.3h-1.3zm4.7 0.1h1.3v1.3h-1.3zm14.1 -0.4h1.3v1.3h-1.3zm1.2 0.2h1.3v1.3h-1.3zm0.9 -0.2h1.3v1.3h-1.3zm3.6 0h1.3v1.3h-1.3zm9.7 0.3h1.3v1.3h-1.3zm9 -0.2h1.3v1.3h-1.3zm8.2 0.8h1.3v1.3h-1.3zm0.7 -0.3h1.3v1.3h-1.3zm2 -0.6h1.3v1.3h-1.3zm0.2 0.6h1.3v1.3h-1.3zm1.4 0.3h1.3v1.3h-1.3zm1.2 -0.5h1.3v1.3h-1.3zm2.5 -0.1h1.3v1.3h-1.3zm1.3 -0.3h1.3v1.3h-1.3zm3.2 0.1h1.3v1.3h-1.3zm0.1 0.4h1.3v1.3h-1.3zm0.5 -0.5h1.3v1.3h-1.3zm0.9 0.5h1.3v1.3h-1.3zm2.1 0.2h1.3v1.3h-1.3zm1.8 -0.6h1.3v1.3h-1.3zm5.6 -0.1h1.3v1.3h-1.3zm2.1 0.5h1.3v1.3h-1.3zm0.5 0.4h1.3v1.3h-1.3zm-83.9 0.5h1.3v1.3h-1.3zm4.5 0.1h1.3v1.3h-1.3zm2.5 0h1.3v1.3h-1.3zm1.3 -0.4h1.3v1.3h-1.3zm5.9 0.6h1.3v1.3h-1.3zm3.6 -0.1h1.3v1.3h-1.3zm1 -0.3h1.3v1.3h-1.3zm17.8 0h1.3v1.3h-1.3zm1.3 0h1.3v1.3h-1.3zm16.1 0.2h1.3v1.3h-1.3zm1.7 0.2h1.3v1.3h-1.3zm3.3 -0.2h1.3v1.3h-1.3zm1.1 -0.5h1.3v1.3h-1.3zm0.1 0.5h1.3v1.3h-1.3zm1.4 0.1h1.3v1.3h-1.3zm1.3 0.2h1.3v1.3h-1.3zm2.1 -0.2h1.3v1.3h-1.3zm1.1 -0.1h1.3v1.3h-1.3zm1.3 -0.3h1.3v1.3h-1.3zm0.2 -0.2h1.3v1.3h-1.3zm1.5 0.5h1.3v1.3h-1.3zm0.4 -0.2h1.3v1.3h-1.3zm0.8 -0.2h1.3v1.3h-1.3zm1.1 0.4h1.3v1.3h-1.3zm0.4 0.3h1.3v1.3h-1.3zm6.4 0h1.3v1.3h-1.3zm10.1 0h1.3v1.3h-1.3zm-85.9 0.4h1.3v1.3h-1.3zm0.2 0.4h1.3v1.3h-1.3zm3.6 -0.4h1.3v1.3h-1.3zm12.1 -0.2h1.3v1.3h-1.3zm15.9 0.8h1.3v1.3h-1.3zm14.6 -0.8h1.3v1.3h-1.3zm7.2 0.8h1.3v1.3h-1.3zm1.8 -0.4h1.3v1.3h-1.3zm0.2 0.5h1.3v1.3h-1.3zm0.6 -0.5h1.3v1.3h-1.3zm0.1 0.4h1.3v1.3h-1.3zm1.9 -0.2h1.3v1.3h-1.3zm2.8 -0.3h1.3v1.3h-1.3zm0.1 -0.2h1.3v1.3h-1.3zm0.8 0.3h1.3v1.3h-1.3zm1.4 -0.2h1.3v1.3h-1.3zm0.8 0.7h1.3v1.3h-1.3zm0.2 -0.6h1.3v1.3h-1.3zm1.6 0.6h1.3v1.3h-1.3zm1.8 -0.1h1.3v1.3h-1.3zm0.4 -0.5h1.3v1.3h-1.3zm0.6 0.5h1.3v1.3h-1.3zm6.1 -0.7h1.3v1.3h-1.3zm2.7 0.7h1.3v1.3h-1.3zm16.5 -0.3h1.3v1.3h-1.3zm-103 0.6h1.3v1.3h-1.3zm12 0h1.3v1.3h-1.3zm1 0.6h1.3v1.3h-1.3zm1.9 0h1.3v1.3h-1.3zm9.7 -0.6h1.3v1.3h-1.3zm0.3 0.8h1.3v1.3h-1.3zm1.3 -0.7h1.3v1.3h-1.3zm2.4 0h1.3v1.3h-1.3zm1.9 0.1h1.3v1.3h-1.3zm3.7 0.6h1.3v1.3h-1.3zm1.3 -0.6h1.3v1.3h-1.3zm2.4 0.6h1.3v1.3h-1.3zm7.9 -0.4h1.3v1.3h-1.3zm15.4 0.2h1.3v1.3h-1.3zm3.9 -0.6h1.3v1.3h-1.3zm1.9 0.1h1.3v1.3h-1.3zm2 -0.2h1.3v1.3h-1.3zm1.3 0.5h1.3v1.3h-1.3zm0.5 0.2h1.3v1.3h-1.3zm0.8 0.1h1.3v1.3h-1.3zm0.5 -0.1h1.3v1.3h-1.3zm1.3 0h1.3v1.3h-1.3zm3.9 -0.3h1.3v1.3h-1.3zm0.6 -0.3h1.3v1.3h-1.3zm0.4 0.3h1.3v1.3h-1.3zm2.6 -0.4h1.3v1.3h-1.3zm1.7 0.7h1.3v1.3h-1.3zm20.8 -0.1h1.3v1.3h-1.3zm-84.4 1.1h1.3v1.3h-1.3zm2.1 0.1h1.3v1.3h-1.3zm0.5 0.1h1.3v1.3h-1.3zm0 -0.7h1.3v1.3h-1.3zm9 0.5h1.3v1.3h-1.3zm7.3 0h1.3v1.3h-1.3zm10.1 0h1.3v1.3h-1.3zm6.8 -0.2h1.3v1.3h-1.3zm8.4 -0.3h1.3v1.3h-1.3zm1.8 -0.2h1.3v1.3h-1.3zm0.6 0.9h1.3v1.3h-1.3zm0 -0.9h1.3v1.3h-1.3zm2.1 0.3h1.3v1.3h-1.3zm0.4 0.5h1.3v1.3h-1.3zm0.4 0.1h1.3v1.3h-1.3zm0.5 -0.6h1.3v1.3h-1.3zm0.1 0.6h1.3v1.3h-1.3zm0.5 -0.4h1.3v1.3h-1.3zm1.2 0.2h1.3v1.3h-1.3zm0.8 0h1.3v1.3h-1.3zm1.4 -0.6h1.3v1.3h-1.3zm0.5 0.4h1.3v1.3h-1.3zm0.4 -0.3h1.3v1.3h-1.3zm0.9 -0.2h1.3v1.3h-1.3zm0.7 0.7h1.3v1.3h-1.3zm0 -0.6h1.3v1.3h-1.3zm0.1 0.5h1.3v1.3h-1.3zm0.2 -0.3h1.3v1.3h-1.3zm0.8 -0.1h1.3v1.3h-1.3zm1 -0.2h1.3v1.3h-1.3zm1.6 0.2h1.3v1.3h-1.3zm0.5 0.3h1.3v1.3h-1.3zm2.2 -0.2h1.3v1.3h-1.3zm4 0.3h1.3v1.3h-1.3zm11.1 0.2h1.3v1.3h-1.3zm-146.8 0.3h1.3v1.3h-1.3zm25.8 0.2h1.3v1.3h-1.3zm19.8 0.1h1.3v1.3h-1.3zm15.4 -0.4h1.3v1.3h-1.3zm5.1 0.5h1.3v1.3h-1.3zm1.2 -0.3h1.3v1.3h-1.3zm4.9 0.5h1.3v1.3h-1.3zm1.2 -0.4h1.3v1.3h-1.3zm8.2 0.2h1.3v1.3h-1.3zm0.6 0h1.3v1.3h-1.3zm2.7 0h1.3v1.3h-1.3zm11.1 -0.3h1.3v1.3h-1.3zm13.7 0.3h1.3v1.3h-1.3zm1 -0.5h1.3v1.3h-1.3zm0.2 0.4h1.3v1.3h-1.3zm1 0.1h1.3v1.3h-1.3zm1.7 0.3h1.3v1.3h-1.3zm0.1 -0.5h1.3v1.3h-1.3zm0.4 -0.1h1.3v1.3h-1.3zm3.5 0.4h1.3v1.3h-1.3zm0.6 0.1h1.3v1.3h-1.3zm1 0.2h1.3v1.3h-1.3zm0.1 -0.8h1.3v1.3h-1.3zm0.8 -0.1h1.3v1.3h-1.3zm1.4 0.5h1.3v1.3h-1.3zm0.9 0.2h1.3v1.3h-1.3zm1.5 -0.6h1.3v1.3h-1.3zm3.8 0.6h1.3v1.3h-1.3zm1.1 0.2h1.3v1.3h-1.3zm4 -0.6h1.3v1.3h-1.3zm1.5 0.6h1.3v1.3h-1.3zm-90.5 0.9h1.3v1.3h-1.3zm21.1 -0.8h1.3v1.3h-1.3zm3.6 0.5h1.3v1.3h-1.3zm3.9 -0.3h1.3v1.3h-1.3zm0.3 0.1h1.3v1.3h-1.3zm2.9 0.3h1.3v1.3h-1.3zm2.9 -0.2h1.3v1.3h-1.3zm4.3 0.4h1.3v1.3h-1.3zm2.2 -0.6h1.3v1.3h-1.3zm5.6 0.7h1.3v1.3h-1.3zm13.6 0h1.3v1.3h-1.3zm3.5 -0.1h1.3v1.3h-1.3zm0.1 -0.7h1.3v1.3h-1.3zm1.6 0.8h1.3v1.3h-1.3zm0.7 -0.8h1.3v1.3h-1.3zm0.5 0.7h1.3v1.3h-1.3zm4.3 -0.3h1.3v1.3h-1.3zm0.5 -0.1h1.3v1.3h-1.3zm0.9 0.3h1.3v1.3h-1.3zm0.4 0h1.3v1.3h-1.3zm1.7 -0.6h1.3v1.3h-1.3zm1 0.6h1.3v1.3h-1.3zm1.6 -0.4h1.3v1.3h-1.3zm0.2 -0.1h1.3v1.3h-1.3zm1.4 -0.2h1.3v1.3h-1.3zm0.5 0.3h1.3v1.3h-1.3zm0.1 0.3h1.3v1.3h-1.3zm0.2 0.2h1.3v1.3h-1.3zm1.8 -0.6h1.3v1.3h-1.3zm0.4 -0.2h1.3v1.3h-1.3zm0.6 0.1h1.3v1.3h-1.3zm0.4 0.6h1.3v1.3h-1.3zm0.6 -0.2h1.3v1.3h-1.3zm3.1 0.3h1.3v1.3h-1.3zm23.3 -0.3h1.3v1.3h-1.3zm-93.1 0.7h1.3v1.3h-1.3zm4.4 0.4h1.3v1.3h-1.3zm5.8 -0.5h1.3v1.3h-1.3zm6.3 0.3h1.3v1.3h-1.3zm4.3 0.3h1.3v1.3h-1.3zm1.4 0.1h1.3v1.3h-1.3zm19.5 -0.6h1.3v1.3h-1.3zm9.5 0.1h1.3v1.3h-1.3zm2.7 0.5h1.3v1.3h-1.3zm4.1 -0.8h1.3v1.3h-1.3zm1.2 0.7h1.3v1.3h-1.3zm0.5 -0.1h1.3v1.3h-1.3zm1.7 -0.5h1.3v1.3h-1.3zm1.2 0.1h1.3v1.3h-1.3zm0.7 -0.2h1.3v1.3h-1.3zm1.4 0.9h1.3v1.3h-1.3zm0.5 -0.4h1.3v1.3h-1.3zm1 -0.1h1.3v1.3h-1.3zm1.8 0.3h1.3v1.3h-1.3zm0.1 -0.7h1.3v1.3h-1.3zm0.4 0.2h1.3v1.3h-1.3zm0.2 0.7h1.3v1.3h-1.3zm0.4 -0.2h1.3v1.3h-1.3zm1.8 0.1h1.3v1.3h-1.3zm21.5 0h1.3v1.3h-1.3zm0.5 -0.4h1.3v1.3h-1.3zm-87.2 1.5h1.3v1.3h-1.3zm11.6 -0.8h1.3v1.3h-1.3zm2.7 0.4h1.3v1.3h-1.3zm7.3 0.4h1.3v1.3h-1.3zm2 -0.7h1.3v1.3h-1.3zm6.3 -0.2h1.3v1.3h-1.3zm9.5 0.1h1.3v1.3h-1.3zm0.9 0.7h1.3v1.3h-1.3zm0.7 -0.8h1.3v1.3h-1.3zm3 0.6h1.3v1.3h-1.3zm0.4 0.2h1.3v1.3h-1.3zm0.2 -0.8h1.3v1.3h-1.3zm8.5 0.7h1.3v1.3h-1.3zm0.6 -0.3h1.3v1.3h-1.3zm1.5 0.3h1.3v1.3h-1.3zm0.8 -0.4h1.3v1.3h-1.3zm0.5 -0.3h1.3v1.3h-1.3zm2.8 0.4h1.3v1.3h-1.3zm1.2 0.1h1.3v1.3h-1.3zm0.4 0h1.3v1.3h-1.3zm3.6 -0.2h1.3v1.3h-1.3zm9.5 -0.2h1.3v1.3h-1.3zm12.7 0.3h1.3v1.3h-1.3zm-112.9 0.8h1.3v1.3h-1.3zm13.7 0.3h1.3v1.3h-1.3zm25 0.3h1.3v1.3h-1.3zm0.1 -0.7h1.3v1.3h-1.3zm8.6 0h1.3v1.3h-1.3zm12.2 0.4h1.3v1.3h-1.3zm3.5 0h1.3v1.3h-1.3zm12.6 -0.5h1.3v1.3h-1.3zm1.3 0.7h1.3v1.3h-1.3zm3.1 -0.2h1.3v1.3h-1.3zm2.5 -0.1h1.3v1.3h-1.3zm2.5 0.1h1.3v1.3h-1.3zm1.8 0.2h1.3v1.3h-1.3zm1.2 -0.6h1.3v1.3h-1.3zm0.7 0.8h1.3v1.3h-1.3zm0.6 -0.5h1.3v1.3h-1.3zm2.2 -0.4h1.3v1.3h-1.3zm1.6 0.8h1.3v1.3h-1.3zm8.9 -0.6h1.3v1.3h-1.3zm5.5 0.1h1.3v1.3h-1.3zm5.6 -0.1h1.3v1.3h-1.3zm-88 0.9h1.3v1.3h-1.3zm30.1 0.7h1.3v1.3h-1.3zm8.8 -0.3h1.3v1.3h-1.3zm6.2 -0.2h1.3v1.3h-1.3zm0.4 -0.3h1.3v1.3h-1.3zm5.8 0.2h1.3v1.3h-1.3zm6 0.3h1.3v1.3h-1.3zm0.8 -0.2h1.3v1.3h-1.3zm2.3 0h1.3v1.3h-1.3zm3.5 0.5h1.3v1.3h-1.3zm3.1 -0.2h1.3v1.3h-1.3zm0.1 -0.6h1.3v1.3h-1.3zm2.9 0h1.3v1.3h-1.3zm-67.9 1.1h1.3v1.3h-1.3zm5.4 0.4h1.3v1.3h-1.3zm13.3 0.1h1.3v1.3h-1.3zm26.5 -0.4h1.3v1.3h-1.3zm2 0.5h1.3v1.3h-1.3zm2.4 -0.4h1.3v1.3h-1.3zm3.9 0h1.3v1.3h-1.3zm-61.9 1.2h1.3v1.3h-1.3zm5 -0.2h1.3v1.3h-1.3zm12.6 0h1.3v1.3h-1.3zm4.9 -0.2h1.3v1.3h-1.3zm16.7 0.7h1.3v1.3h-1.3zm4.5 -0.4h1.3v1.3h-1.3zm13.5 -0.2h1.3v1.3h-1.3zm7.1 -0.2h1.3v1.3h-1.3zm0.5 0h1.3v1.3h-1.3zm28.5 0.8h1.3v1.3h-1.3zm1.3 -0.5h1.3v1.3h-1.3zm-68.3 1.4h1.3v1.3h-1.3zm12.8 -0.3h1.3v1.3h-1.3zm1.2 0.3h1.3v1.3h-1.3zm14.8 0h1.3v1.3h-1.3zm1.1 -0.5h1.3v1.3h-1.3zm3.3 0.6h1.3v1.3h-1.3zm2.6 -0.7h1.3v1.3h-1.3zm5.9 0.4h1.3v1.3h-1.3zm0.7 0.3h1.3v1.3h-1.3zm3.4 0.1h1.3v1.3h-1.3zm-54 0.8h1.3v1.3h-1.3zm42.7 0.1h1.3v1.3h-1.3zm9.9 -0.2h1.3v1.3h-1.3zm23.9 -0.6h1.3v1.3h-1.3zm-50 1.6h1.3v1.3h-1.3zm6.5 -0.2h1.3v1.3h-1.3zm7.1 -0.3h1.3v1.3h-1.3zm4.1 0.3h1.3v1.3h-1.3zm-37.4 0.9h1.3v1.3h-1.3zm7.6 0.2h1.3v1.3h-1.3zm19.2 -0.5h1.3v1.3h-1.3zm24.2 0.6h1.3v1.3h-1.3zm1.5 0.1h1.3v1.3h-1.3zm13.5 0.2h1.3v1.3h-1.3zm-38.5 0.5h1.3v1.3h-1.3zm-47.5 0.9h1.3v1.3h-1.3zm53.1 0.6h1.3v1.3h-1.3zm2.5 -0.6h1.3v1.3h-1.3zm-35.4 1h1.3v1.3h-1.3zm28.2 0h1.3v1.3h-1.3zm7 -0.1h1.3v1.3h-1.3zm3 0.2h1.3v1.3h-1.3zm5.3 0.2h1.3v1.3h-1.3zm10.1 -0.1h1.3v1.3h-1.3zm-20.7 2.1h1.3v1.3h-1.3zm0.8 -0.3h1.3v1.3h-1.3zm-0.9 1h1.3v1.3h-1.3zm12.1 0h1.3v1.3h-1.3zm4.4 -0.3h1.3v1.3h-1.3zm-11 1.6h1.3v1.3h-1.3zm7.2 0.3h1.3v1.3h-1.3zm-11.4 0.9h1.3v1.3h-1.3zm3.3 -0.4h1.3v1.3h-1.3zm-47.3 0.6h1.3v1.3h-1.3zm37.5 0.4h1.3v1.3h-1.3zm4.2 0.3h1.3v1.3h-1.3zm7.2 1h1.3v1.3h-1.3zm8.2 -0.1h1.3v1.3h-1.3zm-17 0.9h1.3v1.3h-1.3zm6.8 -0.1h1.3v1.3h-1.3zm-17.5 0.9h1.3v1.3h-1.3zm6.8 0.3h1.3v1.3h-1.3zm10.4 -0.2h1.3v1.3h-1.3zm2.3 0.5h1.3v1.3h-1.3zm7.2 -0.2h1.3v1.3h-1.3zm-27.6 0.8h1.3v1.3h-1.3zm25 -0.4h1.3v1.3h-1.3zm6.3 0.4h1.3v1.3h-1.3zm-26.8 1.3h1.3v1.3h-1.3zm5.2 -0.7h1.3v1.3h-1.3zm-61.1 1h1.3v1.3h-1.3zm70 0h1.3v1.3h-1.3zm4.7 1.6h1.3v1.3h-1.3zm17 0.2h1.3v1.3h-1.3zm-36.7 0.1h1.3v1.3h-1.3zm6.3 0.4h1.3v1.3h-1.3zm11.6 0.1h1.3v1.3h-1.3zm10.6 0.2h1.3v1.3h-1.3zm3.6 -0.2h1.3v1.3h-1.3zm-62.6 1.3h1.3v1.3h-1.3zm34.2 -0.7h1.3v1.3h-1.3zm7.7 0.7h1.3v1.3h-1.3zm5.9 -0.7h1.3v1.3h-1.3zm2.9 0h1.3v1.3h-1.3zm0.6 0.4h1.3v1.3h-1.3zm-27.3 1.2h1.3v1.3h-1.3zm5.2 0.2h1.3v1.3h-1.3zm5.5 -0.3h1.3v1.3h-1.3zm4.8 -0.5h1.3v1.3h-1.3zm11.4 0.2h1.3v1.3h-1.3zm1.9 0.6h1.3v1.3h-1.3zm-33.8 0.3h1.3v1.3h-1.3zm9.7 0.4h1.3v1.3h-1.3zm3.7 -0.5h1.3v1.3h-1.3zm12.4 0.2h1.3v1.3h-1.3zm1.3 0.1h1.3v1.3h-1.3zm-41.5 0.6h1.3v1.3h-1.3zm26.9 0.9h1.3v1.3h-1.3zm5.3 -0.8h1.3v1.3h-1.3zm2.3 0.1h1.3v1.3h-1.3zm10.5 0.3h1.3v1.3h-1.3zm7 -0.2h1.3v1.3h-1.3zm5.9 0.6h1.3v1.3h-1.3zm-70.3 0.1h1.3v1.3h-1.3zm49.1 0.7h1.3v1.3h-1.3zm1.3 -0.5h1.3v1.3h-1.3zm7.6 -0.2h1.3v1.3h-1.3zm6 0.4h1.3v1.3h-1.3zm1.1 0h1.3v1.3h-1.3zm-78.2 1.4h1.3v1.3h-1.3zm29 -0.4h1.3v1.3h-1.3zm8.1 -0.3h1.3v1.3h-1.3zm19.7 0.6h1.3v1.3h-1.3zm2.5 -0.6h1.3v1.3h-1.3zm1 0.6h1.3v1.3h-1.3zm5.7 -0.4h1.3v1.3h-1.3zm3.9 0.6h1.3v1.3h-1.3zm5.1 -0.9h1.3v1.3h-1.3zm10.8 0.3h1.3v1.3h-1.3zm-29.2 1h1.3v1.3h-1.3zm1.7 -0.1h1.3v1.3h-1.3zm-2.6 1.2h1.3v1.3h-1.3zm8.6 0h1.3v1.3h-1.3zm-5.9 0.7h1.3v1.3h-1.3zm9.5 0.5h1.3v1.3h-1.3zm0.4 -0.6h1.3v1.3h-1.3zm1.7 0.4h1.3v1.3h-1.3zm6.2 0.3h1.3v1.3h-1.3zm7.3 0h1.3v1.3h-1.3zm-27.1 0.6h1.3v1.3h-1.3zm25.7 0.5h1.3v1.3h-1.3zm-60.9 0.4h1.3v1.3h-1.3zm12.2 -0.2h1.3v1.3h-1.3zm18.8 0.2h1.3v1.3h-1.3zm3.1 0.2h1.3v1.3h-1.3zm8.6 -0.2h1.3v1.3h-1.3zm1.5 -0.1h1.3v1.3h-1.3zm0.7 0.8h1.3v1.3h-1.3zm0.5 -0.8h1.3v1.3h-1.3zm7.3 -0.1h1.3v1.3h-1.3zm4.6 0.5h1.3v1.3h-1.3zm-83.3 0.7h1.3v1.3h-1.3zm4.8 0.3h1.3v1.3h-1.3zm1.6 0.2h1.3v1.3h-1.3zm6.9 -0.6h1.3v1.3h-1.3zm52.8 0.2h1.3v1.3h-1.3zm4 -0.1h1.3v1.3h-1.3zm1 0h1.3v1.3h-1.3zm8.7 0.5h1.3v1.3h-1.3zm-86.8 1.1h1.3v1.3h-1.3zm53.1 -0.5h1.3v1.3h-1.3zm25 0h1.3v1.3h-1.3zm0.9 -0.1h1.3v1.3h-1.3zm4.6 0.5h1.3v1.3h-1.3zm11.5 -0.2h1.3v1.3h-1.3zm-21.7 0.9h1.3v1.3h-1.3zm-56.7 0.9h1.3v1.3h-1.3zm1.8 0h1.3v1.3h-1.3zm33.9 0.1h1.3v1.3h-1.3zm15.9 0.5h1.3v1.3h-1.3zm6.3 -0.1h1.3v1.3h-1.3zm0.9 -0.2h1.3v1.3h-1.3zm5.8 -0.6h1.3v1.3h-1.3zm0.5 0.4h1.3v1.3h-1.3zm0.5 -0.2h1.3v1.3h-1.3zm1.4 0.4h1.3v1.3h-1.3zm21.3 -0.4h1.3v1.3h-1.3zm-65.4 1.6h1.3v1.3h-1.3zm20 0.1h1.3v1.3h-1.3zm10.3 -0.7h1.3v1.3h-1.3zm4.9 0.6h1.3v1.3h-1.3zm2 -0.2h1.3v1.3h-1.3zm4.5 0.2h1.3v1.3h-1.3zm2.5 -0.5h1.3v1.3h-1.3zm9 0.5h1.3v1.3h-1.3zm-85.7 0.7h1.3v1.3h-1.3zm57.8 0.3h1.3v1.3h-1.3zm7.7 0.1h1.3v1.3h-1.3zm4.4 -0.1h1.3v1.3h-1.3zm2.7 -0.5h1.3v1.3h-1.3zm8.6 -0.3h1.3v1.3h-1.3zm-86.3 1.5h1.3v1.3h-1.3zm1.7 0.2h1.3v1.3h-1.3zm63.6 -0.3h1.3v1.3h-1.3zm3.9 0.2h1.3v1.3h-1.3zm5 -0.2h1.3v1.3h-1.3zm12.6 -0.1h1.3v1.3h-1.3zm0.6 0.2h1.3v1.3h-1.3zm0.4 -0.4h1.3v1.3h-1.3zm12.4 0.7h1.3v1.3h-1.3zm-109.5 0.8h1.3v1.3h-1.3zm3.3 -0.5h1.3v1.3h-1.3zm6.4 -0.1h1.3v1.3h-1.3zm18.8 0.6h1.3v1.3h-1.3zm34 -0.1h1.3v1.3h-1.3zm7.7 0.4h1.3v1.3h-1.3zm22.4 -0.4h1.3v1.3h-1.3zm11.5 0.1h1.3v1.3h-1.3zm-95.3 1.1h1.3v1.3h-1.3zm9.2 -0.2h1.3v1.3h-1.3zm7.5 -0.4h1.3v1.3h-1.3zm55.4 0.4h1.3v1.3h-1.3zm7.6 0.4h1.3v1.3h-1.3zm6.8 -0.2h1.3v1.3h-1.3zm-97.5 0.5h1.3v1.3h-1.3zm48.2 0.2h1.3v1.3h-1.3zm6.4 0.2h1.3v1.3h-1.3zm11.8 -0.2h1.3v1.3h-1.3zm12.8 0.2h1.3v1.3h-1.3zm-71 0.6h1.3v1.3h-1.3zm0.5 0.5h1.3v1.3h-1.3zm6.1 -0.4h1.3v1.3h-1.3zm66.3 0h1.3v1.3h-1.3zm3.7 0.4h1.3v1.3h-1.3zm14.2 0h1.3v1.3h-1.3zm3.1 -0.3h1.3v1.3h-1.3zm-105.4 0.6h1.3v1.3h-1.3zm4.7 0.5h1.3v1.3h-1.3zm1.3 0h1.3v1.3h-1.3zm0.4 -0.3h1.3v1.3h-1.3zm0.1 0.3h1.3v1.3h-1.3zm4.3 -0.1h1.3v1.3h-1.3zm0.3 -0.1h1.3v1.3h-1.3zm8.8 0.3h1.3v1.3h-1.3zm2.6 0h1.3v1.3h-1.3zm47 0.3h1.3v1.3h-1.3zm8.5 -0.1h1.3v1.3h-1.3zm1.6 0.1h1.3v1.3h-1.3zm0.6 -0.4h1.3v1.3h-1.3zm13.8 0.1h1.3v1.3h-1.3zm-84.6 0.4h1.3v1.3h-1.3zm1.5 0.1h1.3v1.3h-1.3zm0.6 0.5h1.3v1.3h-1.3zm0.1 -0.4h1.3v1.3h-1.3zm2.1 0.6h1.3v1.3h-1.3zm1.4 0h1.3v1.3h-1.3zm3.9 0h1.3v1.3h-1.3zm0.1 -0.5h1.3v1.3h-1.3zm1.6 0h1.3v1.3h-1.3zm5.6 0.5h1.3v1.3h-1.3zm4.1 -0.6h1.3v1.3h-1.3zm3.5 0.2h1.3v1.3h-1.3zm0.8 -0.3h1.3v1.3h-1.3zm28.1 -0.1h1.3v1.3h-1.3zm12.3 0.4h1.3v1.3h-1.3zm7.6 0.1h1.3v1.3h-1.3zm11.3 0.4h1.3v1.3h-1.3zm4.6 -0.2h1.3v1.3h-1.3zm-89.4 0.7h1.3v1.3h-1.3zm2.4 0.5h1.3v1.3h-1.3zm12.4 -0.5h1.3v1.3h-1.3zm52.3 -0.4h1.3v1.3h-1.3zm11.6 0.3h1.3v1.3h-1.3zm6.1 0.3h1.3v1.3h-1.3zm-93.9 1.2h1.3v1.3h-1.3zm4.1 -0.8h1.3v1.3h-1.3zm4 0.5h1.3v1.3h-1.3zm0.5 -0.3h1.3v1.3h-1.3zm1.6 0.1h1.3v1.3h-1.3zm5.2 0.5h1.3v1.3h-1.3zm3.2 0.1h1.3v1.3h-1.3zm1.3 -0.9h1.3v1.3h-1.3zm1.8 0.7h1.3v1.3h-1.3zm3.8 -0.6h1.3v1.3h-1.3zm0.8 0.3h1.3v1.3h-1.3zm2.5 0h1.3v1.3h-1.3zm34.4 -0.1h1.3v1.3h-1.3zm20 0h1.3v1.3h-1.3zm2.1 0.2h1.3v1.3h-1.3zm2.6 -0.4h1.3v1.3h-1.3zm5.3 -0.1h1.3v1.3h-1.3zm-90.5 1.6h1.3v1.3h-1.3zm9.1 0h1.3v1.3h-1.3zm6.4 0h1.3v1.3h-1.3zm1.8 -0.5h1.3v1.3h-1.3zm2.3 0.2h1.3v1.3h-1.3zm58.2 -0.3h1.3v1.3h-1.3zm16.7 0.2h1.3v1.3h-1.3zm0.5 0h1.3v1.3h-1.3zm-90.8 1.3h1.3v1.3h-1.3zm7.3 -0.1h1.3v1.3h-1.3zm1 0.4h1.3v1.3h-1.3zm2.5 0.1h1.3v1.3h-1.3zm0.6 0h1.3v1.3h-1.3zm0.3 -0.2h1.3v1.3h-1.3zm1 0h1.3v1.3h-1.3zm0.2 -0.6h1.3v1.3h-1.3zm0.6 0.4h1.3v1.3h-1.3zm4.4 -0.2h1.3v1.3h-1.3zm0.2 0.6h1.3v1.3h-1.3zm41.2 -0.9h1.3v1.3h-1.3zm18.6 0.5h1.3v1.3h-1.3zm5.7 -0.5h1.3v1.3h-1.3zm19.2 0.8h1.3v1.3h-1.3zm-106.6 0.2h1.3v1.3h-1.3zm2.6 0.5h1.3v1.3h-1.3zm1 0h1.3v1.3h-1.3zm1.4 0.2h1.3v1.3h-1.3zm1.4 -0.4h1.3v1.3h-1.3zm7.5 -0.2h1.3v1.3h-1.3zm0.5 0.2h1.3v1.3h-1.3zm0.4 0.3h1.3v1.3h-1.3zm3.1 -0.6h1.3v1.3h-1.3zm1.3 0.8h1.3v1.3h-1.3zm0.1 -0.2h1.3v1.3h-1.3zm0.6 -0.3h1.3v1.3h-1.3zm4.9 -0.2h1.3v1.3h-1.3zm7 0.3h1.3v1.3h-1.3zm50.5 0.1h1.3v1.3h-1.3zm11 -0.1h1.3v1.3h-1.3zm11.1 0.2h1.3v1.3h-1.3zm-116.4 0.5h1.3v1.3h-1.3zm13.8 -0.1h1.3v1.3h-1.3zm0.1 0.6h1.3v1.3h-1.3zm2.8 -0.6h1.3v1.3h-1.3zm1 0.4h1.3v1.3h-1.3zm2.1 0.1h1.3v1.3h-1.3zm2.4 -0.2h1.3v1.3h-1.3zm1.1 -0.2h1.3v1.3h-1.3zm1.5 0.8h1.3v1.3h-1.3zm0.5 -0.9h1.3v1.3h-1.3zm2.7 0.2h1.3v1.3h-1.3zm0.2 0.7h1.3v1.3h-1.3zm2.6 -0.5h1.3v1.3h-1.3zm1.4 0.4h1.3v1.3h-1.3zm2 -0.5h1.3v1.3h-1.3zm2.4 0.5h1.3v1.3h-1.3zm1.1 -0.2h1.3v1.3h-1.3zm2 -0.6h1.3v1.3h-1.3zm58.2 0.2h1.3v1.3h-1.3zm8.2 0.1h1.3v1.3h-1.3zm13.1 0.6h1.3v1.3h-1.3zm-108.8 0.9h1.3v1.3h-1.3zm3.4 0h1.3v1.3h-1.3zm1.1 -0.1h1.3v1.3h-1.3zm1.1 -0.1h1.3v1.3h-1.3zm4.9 -0.2h1.3v1.3h-1.3zm2.9 0.5h1.3v1.3h-1.3zm2.2 -0.5h1.3v1.3h-1.3zm2.6 0.4h1.3v1.3h-1.3zm0.3 -0.3h1.3v1.3h-1.3zm0.3 -0.3h1.3v1.3h-1.3zm1.2 0.7h1.3v1.3h-1.3zm0.6 -0.4h1.3v1.3h-1.3zm0.3 -0.3h1.3v1.3h-1.3zm1 0.7h1.3v1.3h-1.3zm3.5 -0.8h1.3v1.3h-1.3zm5 0.2h1.3v1.3h-1.3zm46.5 0.2h1.3v1.3h-1.3zm1.1 0.1h1.3v1.3h-1.3zm-77.7 0.4h1.3v1.3h-1.3zm4.2 0.2h1.3v1.3h-1.3zm0.3 0.7h1.3v1.3h-1.3zm0.1 -0.2h1.3v1.3h-1.3zm4.3 0.2h1.3v1.3h-1.3zm0 -0.6h1.3v1.3h-1.3zm1.6 0.1h1.3v1.3h-1.3zm0.8 0.5h1.3v1.3h-1.3zm4.3 -0.2h1.3v1.3h-1.3zm1.6 -0.4h1.3v1.3h-1.3zm2.2 0h1.3v1.3h-1.3zm0.2 0.2h1.3v1.3h-1.3zm1.3 -0.2h1.3v1.3h-1.3zm0.3 0.1h1.3v1.3h-1.3zm2.5 0.4h1.3v1.3h-1.3zm2.1 -0.2h1.3v1.3h-1.3zm34.1 0.3h1.3v1.3h-1.3zm7.9 -0.6h1.3v1.3h-1.3zm0.5 0.3h1.3v1.3h-1.3zm3.9 0h1.3v1.3h-1.3zm4.6 -0.1h1.3v1.3h-1.3zm10.1 0.1h1.3v1.3h-1.3zm5.7 -0.1h1.3v1.3h-1.3zm16.3 0.3h1.3v1.3h-1.3zm-106.6 0.3h1.3v1.3h-1.3zm3.2 0.2h1.3v1.3h-1.3zm3.1 0.3h1.3v1.3h-1.3zm2.8 0h1.3v1.3h-1.3zm3.6 0.2h1.3v1.3h-1.3zm3.3 0.1h1.3v1.3h-1.3zm4.1 -0.5h1.3v1.3h-1.3zm0.6 0.1h1.3v1.3h-1.3zm3.3 -0.4h1.3v1.3h-1.3zm1.5 0.5h1.3v1.3h-1.3zm5.7 0.3h1.3v1.3h-1.3zm42.4 -0.4h1.3v1.3h-1.3zm2.5 0.3h1.3v1.3h-1.3zm1.3 0.1h1.3v1.3h-1.3zm13.2 -0.3h1.3v1.3h-1.3zm-94.8 0.8h1.3v1.3h-1.3zm2.2 0.5h1.3v1.3h-1.3zm2 -0.6h1.3v1.3h-1.3zm4.3 0.1h1.3v1.3h-1.3zm0.9 0.1h1.3v1.3h-1.3zm0.2 0.3h1.3v1.3h-1.3zm0.4 -0.7h1.3v1.3h-1.3zm2.8 0.3h1.3v1.3h-1.3zm1.1 0.2h1.3v1.3h-1.3zm0.6 -0.4h1.3v1.3h-1.3zm0.2 -0.1h1.3v1.3h-1.3zm1.5 0.1h1.3v1.3h-1.3zm0.5 -0.1h1.3v1.3h-1.3zm2.2 0.1h1.3v1.3h-1.3zm0.6 0.1h1.3v1.3h-1.3zm1.8 0.1h1.3v1.3h-1.3zm0.7 -0.3h1.3v1.3h-1.3zm0.2 0.5h1.3v1.3h-1.3zm1.2 0.1h1.3v1.3h-1.3zm0.6 0.1h1.3v1.3h-1.3zm1.2 -0.2h1.3v1.3h-1.3zm0.5 0.2h1.3v1.3h-1.3zm1.7 -0.8h1.3v1.3h-1.3zm0.4 0.7h1.3v1.3h-1.3zm42 0h1.3v1.3h-1.3zm11.5 -0.6h1.3v1.3h-1.3zm29.6 0.3h1.3v1.3h-1.3zm9.5 0.2h1.3v1.3h-1.3zm-118.6 0.5h1.3v1.3h-1.3zm1.4 0.6h1.3v1.3h-1.3zm1.2 -0.6h1.3v1.3h-1.3zm2.2 0.7h1.3v1.3h-1.3zm0.6 -0.3h1.3v1.3h-1.3zm1.1 0.2h1.3v1.3h-1.3zm1 -0.3h1.3v1.3h-1.3zm1.4 0h1.3v1.3h-1.3zm0.6 0.4h1.3v1.3h-1.3zm1.7 0h1.3v1.3h-1.3zm0.6 0h1.3v1.3h-1.3zm2.8 -0.8h1.3v1.3h-1.3zm2.7 0.7h1.3v1.3h-1.3zm4.6 -0.2h1.3v1.3h-1.3zm1.1 -0.3h1.3v1.3h-1.3zm4.4 0h1.3v1.3h-1.3zm0.9 0h1.3v1.3h-1.3zm1.3 0.2h1.3v1.3h-1.3zm3.5 -0.1h1.3v1.3h-1.3zm41.1 0.2h1.3v1.3h-1.3zm6 -0.5h1.3v1.3h-1.3zm9.9 0.1h1.3v1.3h-1.3zm-87.7 1.8h1.3v1.3h-1.3zm6.7 -0.6h1.3v1.3h-1.3zm1.6 -0.1h1.3v1.3h-1.3zm1.3 0.2h1.3v1.3h-1.3zm2 0.5h1.3v1.3h-1.3zm1 -0.1h1.3v1.3h-1.3zm3.6 -0.7h1.3v1.3h-1.3zm0 0.7h1.3v1.3h-1.3zm1.7 -0.1h1.3v1.3h-1.3zm1 0.2h1.3v1.3h-1.3zm0.1 -0.4h1.3v1.3h-1.3zm0.6 -0.5h1.3v1.3h-1.3zm4.2 0.1h1.3v1.3h-1.3zm32 0h1.3v1.3h-1.3zm11.4 0.8h1.3v1.3h-1.3zm20 -0.6h1.3v1.3h-1.3zm6.3 -0.1h1.3v1.3h-1.3zm2.5 -0.2h1.3v1.3h-1.3zm-104.9 1.7h1.3v1.3h-1.3zm3.8 -0.4h1.3v1.3h-1.3zm1.9 0h1.3v1.3h-1.3zm0.5 0.6h1.3v1.3h-1.3zm1.9 -0.9h1.3v1.3h-1.3zm2.1 0.4h1.3v1.3h-1.3zm0.5 -0.2h1.3v1.3h-1.3zm0.6 0.6h1.3v1.3h-1.3zm0.6 -0.7h1.3v1.3h-1.3zm0.2 0.1h1.3v1.3h-1.3zm0.8 0.4h1.3v1.3h-1.3zm1 -0.1h1.3v1.3h-1.3zm2.5 -0.4h1.3v1.3h-1.3zm1.9 0.2h1.3v1.3h-1.3zm0.5 -0.3h1.3v1.3h-1.3zm0.3 0.8h1.3v1.3h-1.3zm1.6 -0.5h1.3v1.3h-1.3zm1.3 0.5h1.3v1.3h-1.3zm0.4 -0.8h1.3v1.3h-1.3zm4.2 0.8h1.3v1.3h-1.3zm1.5 -0.1h1.3v1.3h-1.3zm1 0.2h1.3v1.3h-1.3zm0.2 -0.4h1.3v1.3h-1.3zm4.3 -0.2h1.3v1.3h-1.3zm1.2 -0.2h1.3v1.3h-1.3zm62.9 0.4h1.3v1.3h-1.3zm-91.9 1.1h1.3v1.3h-1.3zm1.4 0.2h1.3v1.3h-1.3zm5.6 -0.7h1.3v1.3h-1.3zm0.5 0.2h1.3v1.3h-1.3zm0.5 0.6h1.3v1.3h-1.3zm0.6 0h1.3v1.3h-1.3zm0.5 -0.3h1.3v1.3h-1.3zm1.5 -0.6h1.3v1.3h-1.3zm1.9 0.9h1.3v1.3h-1.3zm1.8 0h1.3v1.3h-1.3zm0.8 -0.7h1.3v1.3h-1.3zm1 0.1h1.3v1.3h-1.3zm0.4 0.2h1.3v1.3h-1.3zm0.5 0h1.3v1.3h-1.3zm0.3 0.3h1.3v1.3h-1.3zm0.4 -0.6h1.3v1.3h-1.3zm0.4 0.6h1.3v1.3h-1.3zm0.2 -0.4h1.3v1.3h-1.3zm0.4 -0.2h1.3v1.3h-1.3zm0.2 -0.1h1.3v1.3h-1.3zm2.6 0.1h1.3v1.3h-1.3zm3.8 0h1.3v1.3h-1.3zm0.6 0.3h1.3v1.3h-1.3zm13.4 0h1.3v1.3h-1.3zm44.9 -0.2h1.3v1.3h-1.3zm-84.9 1.6h1.3v1.3h-1.3zm0.9 -0.4h1.3v1.3h-1.3zm2 -0.3h1.3v1.3h-1.3zm0.6 -0.2h1.3v1.3h-1.3zm1 0.3h1.3v1.3h-1.3zm1.2 -0.2h1.3v1.3h-1.3zm1.3 0h1.3v1.3h-1.3zm6.8 0.8h1.3v1.3h-1.3zm0.6 -0.9h1.3v1.3h-1.3zm0.6 0.4h1.3v1.3h-1.3zm0.7 0h1.3v1.3h-1.3zm2.9 0.1h1.3v1.3h-1.3zm1.7 0.3h1.3v1.3h-1.3zm0.8 -0.5h1.3v1.3h-1.3zm0.2 0.5h1.3v1.3h-1.3zm0.6 -0.7h1.3v1.3h-1.3zm0.8 0.3h1.3v1.3h-1.3zm7.2 0.5h1.3v1.3h-1.3zm17 -0.9h1.3v1.3h-1.3zm28.5 0.9h1.3v1.3h-1.3zm8.9 -0.7h1.3v1.3h-1.3zm0.6 0.2h1.3v1.3h-1.3zm-78.2 1.3h1.3v1.3h-1.3zm0.7 -0.6h1.3v1.3h-1.3zm7 0h1.3v1.3h-1.3zm0.1 -0.1h1.3v1.3h-1.3zm0.8 0.1h1.3v1.3h-1.3zm4.2 0.1h1.3v1.3h-1.3zm0.9 0.4h1.3v1.3h-1.3zm1.3 -0.1h1.3v1.3h-1.3zm0.7 0.3h1.3v1.3h-1.3zm3.1 -0.8h1.3v1.3h-1.3zm3.5 0.6h1.3v1.3h-1.3zm5.2 0.1h1.3v1.3h-1.3zm19.1 0.2h1.3v1.3h-1.3zm19.9 -0.3h1.3v1.3h-1.3zm31.2 -0.6h1.3v1.3h-1.3zm-103.3 1.4h1.3v1.3h-1.3zm1.7 -0.4h1.3v1.3h-1.3zm1 0.1h1.3v1.3h-1.3zm1.5 -0.1h1.3v1.3h-1.3zm0 0.8h1.3v1.3h-1.3zm1.6 -0.6h1.3v1.3h-1.3zm0.2 -0.2h1.3v1.3h-1.3zm0.3 0.2h1.3v1.3h-1.3zm6.9 -0.1h1.3v1.3h-1.3zm3.1 0.5h1.3v1.3h-1.3zm0.7 0.1h1.3v1.3h-1.3zm2.2 0h1.3v1.3h-1.3zm2.3 -0.2h1.3v1.3h-1.3zm0.5 0.3h1.3v1.3h-1.3zm1.5 -0.7h1.3v1.3h-1.3zm0.9 0.4h1.3v1.3h-1.3zm1 0.2h1.3v1.3h-1.3zm31.1 0.2h1.3v1.3h-1.3zm8.8 -0.3h1.3v1.3h-1.3zm3 -0.4h1.3v1.3h-1.3zm15.4 0.6h1.3v1.3h-1.3zm15.2 -0.7h1.3v1.3h-1.3zm6.9 0.3h1.3v1.3h-1.3zm-112.3 1.1h1.3v1.3h-1.3zm4.1 0.3h1.3v1.3h-1.3zm2.9 -0.2h1.3v1.3h-1.3zm1 -0.4h1.3v1.3h-1.3zm2.1 0.4h1.3v1.3h-1.3zm0.4 0.1h1.3v1.3h-1.3zm1.3 0.1h1.3v1.3h-1.3zm0.9 -0.4h1.3v1.3h-1.3zm0 0.4h1.3v1.3h-1.3zm1.3 0.1h1.3v1.3h-1.3zm2.1 -0.2h1.3v1.3h-1.3zm0.3 0.2h1.3v1.3h-1.3zm0.7 -0.1h1.3v1.3h-1.3zm0.6 0h1.3v1.3h-1.3zm0.2 0.1h1.3v1.3h-1.3zm2.4 -0.6h1.3v1.3h-1.3zm3.2 0.5h1.3v1.3h-1.3zm2.4 -0.5h1.3v1.3h-1.3zm1.2 0.5h1.3v1.3h-1.3zm4.3 -0.3h1.3v1.3h-1.3zm0.8 0.3h1.3v1.3h-1.3zm1.1 -0.4h1.3v1.3h-1.3zm3.9 0.2h1.3v1.3h-1.3zm34.1 -0.2h1.3v1.3h-1.3zm18.3 0.5h1.3v1.3h-1.3zm-83.2 0.3h1.3v1.3h-1.3zm0.6 0h1.3v1.3h-1.3zm1.1 0.7h1.3v1.3h-1.3zm0.2 -0.3h1.3v1.3h-1.3zm8.5 -0.6h1.3v1.3h-1.3zm5 0.8h1.3v1.3h-1.3zm0.6 -0.2h1.3v1.3h-1.3zm1.3 -0.3h1.3v1.3h-1.3zm1.1 0.3h1.3v1.3h-1.3zm1 0.2h1.3v1.3h-1.3zm0.2 -0.2h1.3v1.3h-1.3zm0.4 -0.6h1.3v1.3h-1.3zm0.3 0.6h1.3v1.3h-1.3zm1.8 -0.6h1.3v1.3h-1.3zm2.5 0.8h1.3v1.3h-1.3zm0.9 -0.3h1.3v1.3h-1.3zm56 -0.3h1.3v1.3h-1.3zm1.5 0.6h1.3v1.3h-1.3zm-90.1 0.3h1.3v1.3h-1.3zm3.8 0h1.3v1.3h-1.3zm3.3 0.1h1.3v1.3h-1.3zm0 0.6h1.3v1.3h-1.3zm0.1 -0.3h1.3v1.3h-1.3zm0 -0.4h1.3v1.3h-1.3zm0.9 0.2h1.3v1.3h-1.3zm11 -0.2h1.3v1.3h-1.3zm0.6 0.5h1.3v1.3h-1.3zm1.4 -0.1h1.3v1.3h-1.3zm0.2 0.1h1.3v1.3h-1.3zm0 0.2h1.3v1.3h-1.3zm0.6 -0.4h1.3v1.3h-1.3zm3.2 0.4h1.3v1.3h-1.3zm3.1 -0.8h1.3v1.3h-1.3zm0.5 0.5h1.3v1.3h-1.3zm0.4 0.4h1.3v1.3h-1.3zm5.6 -0.9h1.3v1.3h-1.3zm3.5 0.2h1.3v1.3h-1.3zm20.6 0.7h1.3v1.3h-1.3zm9.6 0h1.3v1.3h-1.3zm4.7 -0.3h1.3v1.3h-1.3zm9 -0.1h1.3v1.3h-1.3zm8.5 -0.3h1.3v1.3h-1.3zm0 0.5h1.3v1.3h-1.3zm6.9 -0.7h1.3v1.3h-1.3zm20.3 0.5h1.3v1.3h-1.3zm-117.5 1.3h1.3v1.3h-1.3zm1.5 -0.6h1.3v1.3h-1.3zm4.4 0h1.3v1.3h-1.3zm16.8 0h1.3v1.3h-1.3zm3.5 0h1.3v1.3h-1.3zm1.3 0.1h1.3v1.3h-1.3zm1.2 0.6h1.3v1.3h-1.3zm0.5 -0.2h1.3v1.3h-1.3zm0.1 -0.7h1.3v1.3h-1.3zm2.7 0.4h1.3v1.3h-1.3zm1.1 -0.1h1.3v1.3h-1.3zm0.6 0.4h1.3v1.3h-1.3zm0.7 -0.1h1.3v1.3h-1.3zm1.6 -0.5h1.3v1.3h-1.3zm6.4 0.5h1.3v1.3h-1.3zm41.3 0.3h1.3v1.3h-1.3zm34.2 -0.5h1.3v1.3h-1.3zm-120 1.2h1.3v1.3h-1.3zm2.8 -0.3h1.3v1.3h-1.3zm0.6 0.4h1.3v1.3h-1.3zm0.2 -0.6h1.3v1.3h-1.3zm2 0.5h1.3v1.3h-1.3zm0.4 -0.5h1.3v1.3h-1.3zm0.4 0.3h1.3v1.3h-1.3zm18.2 0.5h1.3v1.3h-1.3zm4.4 -0.2h1.3v1.3h-1.3zm0.8 -0.4h1.3v1.3h-1.3zm0.8 -0.1h1.3v1.3h-1.3zm3.6 0.4h1.3v1.3h-1.3zm39 -0.6h1.3v1.3h-1.3zm11.7 0.2h1.3v1.3h-1.3zm6 0.4h1.3v1.3h-1.3zm-88.8 1.1h1.3v1.3h-1.3zm0.9 -0.4h1.3v1.3h-1.3zm1.9 -0.3h1.3v1.3h-1.3zm19.9 0.5h1.3v1.3h-1.3zm0.2 0.1h1.3v1.3h-1.3zm0.5 -0.1h1.3v1.3h-1.3zm2 0h1.3v1.3h-1.3zm0.7 0.4h1.3v1.3h-1.3zm0.4 -0.6h1.3v1.3h-1.3zm5.5 0.2h1.3v1.3h-1.3zm3.6 -0.3h1.3v1.3h-1.3zm4.1 0.1h1.3v1.3h-1.3zm5.9 0h1.3v1.3h-1.3zm24.9 -0.3h1.3v1.3h-1.3zm0.1 0.8h1.3v1.3h-1.3zm22.1 -0.8h1.3v1.3h-1.3zm7.6 0h1.3v1.3h-1.3zm-103.7 1.9h1.3v1.3h-1.3zm2.9 -0.1h1.3v1.3h-1.3zm0.2 -0.5h1.3v1.3h-1.3zm0.4 -0.1h1.3v1.3h-1.3zm1.4 0h1.3v1.3h-1.3zm21.3 -0.2h1.3v1.3h-1.3zm4 0.4h1.3v1.3h-1.3zm0.2 -0.4h1.3v1.3h-1.3zm0.9 0.6h1.3v1.3h-1.3zm0.4 0h1.3v1.3h-1.3zm0.4 -0.5h1.3v1.3h-1.3zm0.2 -0.1h1.3v1.3h-1.3zm0.7 0.3h1.3v1.3h-1.3zm1.5 0.2h1.3v1.3h-1.3zm1 0.4h1.3v1.3h-1.3zm0.3 -0.2h1.3v1.3h-1.3zm0.3 -0.2h1.3v1.3h-1.3zm0.4 -0.5h1.3v1.3h-1.3zm1.8 0.9h1.3v1.3h-1.3zm0.3 -0.6h1.3v1.3h-1.3zm6.8 -0.3h1.3v1.3h-1.3zm0.5 0.7h1.3v1.3h-1.3zm33.2 -0.6h1.3v1.3h-1.3zm3.8 0.1h1.3v1.3h-1.3zm9.1 0.6h1.3v1.3h-1.3zm-92 1h1.3v1.3h-1.3zm2.5 -0.2h1.3v1.3h-1.3zm24.6 0.3h1.3v1.3h-1.3zm0.3 -0.5h1.3v1.3h-1.3zm0.9 0.1h1.3v1.3h-1.3zm2.2 0.1h1.3v1.3h-1.3zm0.3 -0.5h1.3v1.3h-1.3zm0.2 0.7h1.3v1.3h-1.3zm0.3 -0.4h1.3v1.3h-1.3zm1.1 -0.1h1.3v1.3h-1.3zm1.4 0.2h1.3v1.3h-1.3zm4.8 0h1.3v1.3h-1.3zm1.8 0.4h1.3v1.3h-1.3zm24.4 -0.8h1.3v1.3h-1.3zm11.5 0.8h1.3v1.3h-1.3zm2.9 0h1.3v1.3h-1.3zm4.5 -0.4h1.3v1.3h-1.3zm2.2 -0.4h1.3v1.3h-1.3zm5.2 0.2h1.3v1.3h-1.3zm0.5 -0.1h1.3v1.3h-1.3zm-93.4 1.3h1.3v1.3h-1.3zm1.4 -0.5h1.3v1.3h-1.3zm0.6 0.8h1.3v1.3h-1.3zm26.3 -0.7h1.3v1.3h-1.3zm0.7 0h1.3v1.3h-1.3zm0.7 0.2h1.3v1.3h-1.3zm0.4 -0.1h1.3v1.3h-1.3zm1 0.7h1.3v1.3h-1.3zm0.2 -0.5h1.3v1.3h-1.3zm3 0.5h1.3v1.3h-1.3zm0.3 -0.5h1.3v1.3h-1.3zm0.8 0.2h1.3v1.3h-1.3zm0.6 -0.3h1.3v1.3h-1.3zm5.2 -0.2h1.3v1.3h-1.3zm19.2 0.8h1.3v1.3h-1.3zm12.9 -0.2h1.3v1.3h-1.3zm2 -0.5h1.3v1.3h-1.3zm1.2 -0.1h1.3v1.3h-1.3zm15.3 0.7h1.3v1.3h-1.3zm1 -0.8h1.3v1.3h-1.3zm-95 1.1h1.3v1.3h-1.3zm0.4 0.6h1.3v1.3h-1.3zm0.4 0.1h1.3v1.3h-1.3zm1.6 -0.6h1.3v1.3h-1.3zm1.8 0.7h1.3v1.3h-1.3zm26.6 -0.8h1.3v1.3h-1.3zm3.1 0.1h1.3v1.3h-1.3zm0.2 -0.1h1.3v1.3h-1.3zm1.1 -0.1h1.3v1.3h-1.3zm0.5 0.1h1.3v1.3h-1.3zm2.2 -0.1h1.3v1.3h-1.3zm1 0.6h1.3v1.3h-1.3zm1.2 -0.6h1.3v1.3h-1.3zm3.1 0.4h1.3v1.3h-1.3zm25.8 -0.1h1.3v1.3h-1.3zm14.6 0.6h1.3v1.3h-1.3zm-83.6 0.6h1.3v1.3h-1.3zm1.3 0.4h1.3v1.3h-1.3zm0.8 0h1.3v1.3h-1.3zm1.6 -0.6h1.3v1.3h-1.3zm28 0.4h1.3v1.3h-1.3zm0.1 -0.5h1.3v1.3h-1.3zm2.7 0.1h1.3v1.3h-1.3zm0.6 0h1.3v1.3h-1.3zm0.8 0.4h1.3v1.3h-1.3zm0.3 -0.6h1.3v1.3h-1.3zm1.3 0.3h1.3v1.3h-1.3zm0.7 0.1h1.3v1.3h-1.3zm1.5 0.3h1.3v1.3h-1.3zm0.9 -0.8h1.3v1.3h-1.3zm1 0.7h1.3v1.3h-1.3zm0.9 -0.2h1.3v1.3h-1.3zm3 -0.1h1.3v1.3h-1.3zm5.4 0.4h1.3v1.3h-1.3zm10.5 -0.7h1.3v1.3h-1.3zm41.3 0.2h1.3v1.3h-1.3zm24.2 0.4h1.3v1.3h-1.3zm-125.9 0.9h1.3v1.3h-1.3zm0.8 0.3h1.3v1.3h-1.3zm1.2 -0.8h1.3v1.3h-1.3zm28.7 0.8h1.3v1.3h-1.3zm4.7 -0.2h1.3v1.3h-1.3zm0.3 -0.7h1.3v1.3h-1.3zm1.1 0.5h1.3v1.3h-1.3zm1 0.4h1.3v1.3h-1.3zm1.5 -0.4h1.3v1.3h-1.3zm19.2 0.2h1.3v1.3h-1.3zm3.9 -0.5h1.3v1.3h-1.3zm7.9 0.4h1.3v1.3h-1.3zm0.6 -0.5h1.3v1.3h-1.3zm11 0h1.3v1.3h-1.3zm11.2 0.8h1.3v1.3h-1.3zm0.1 -0.8h1.3v1.3h-1.3zm2.9 0.2h1.3v1.3h-1.3zm-98.3 1.4h1.3v1.3h-1.3zm0.7 -0.4h1.3v1.3h-1.3zm1.9 -0.3h1.3v1.3h-1.3zm30.2 0.6h1.3v1.3h-1.3zm0.3 0h1.3v1.3h-1.3zm3.9 0h1.3v1.3h-1.3zm0.3 0.3h1.3v1.3h-1.3zm0.6 -0.2h1.3v1.3h-1.3zm1 -0.4h1.3v1.3h-1.3zm3.4 0h1.3v1.3h-1.3zm2.6 0h1.3v1.3h-1.3zm2.7 0h1.3v1.3h-1.3zm0.3 0.4h1.3v1.3h-1.3zm1.2 0.2h1.3v1.3h-1.3zm29.1 -0.5h1.3v1.3h-1.3zm8.7 0.5h1.3v1.3h-1.3zm3.6 -0.7h1.3v1.3h-1.3zm-92.8 1.1h1.3v1.3h-1.3zm1.8 0.4h1.3v1.3h-1.3zm1.6 -0.6h1.3v1.3h-1.3zm0.4 0.3h1.3v1.3h-1.3zm37.6 -0.2h1.3v1.3h-1.3zm0.8 0.4h1.3v1.3h-1.3zm0.1 -0.4h1.3v1.3h-1.3zm1.3 -0.1h1.3v1.3h-1.3zm0.2 0.7h1.3v1.3h-1.3zm0.2 -0.2h1.3v1.3h-1.3zm4.3 0h1.3v1.3h-1.3zm14.4 -0.6h1.3v1.3h-1.3zm23.3 0.6h1.3v1.3h-1.3zm9 0.1h1.3v1.3h-1.3zm0.1 -0.3h1.3v1.3h-1.3zm-59.9 1.2h1.3v1.3h-1.3zm0.1 0.2h1.3v1.3h-1.3zm3.3 -0.3h1.3v1.3h-1.3zm0.9 0.4h1.3v1.3h-1.3zm1.1 -0.3h1.3v1.3h-1.3zm5.4 -0.6h1.3v1.3h-1.3zm2 0.7h1.3v1.3h-1.3zm21.8 -0.5h1.3v1.3h-1.3zm2.2 0.6h1.3v1.3h-1.3zm20.9 -0.6h1.3v1.3h-1.3zm-93.1 1.3h1.3v1.3h-1.3zm1.2 -0.4h1.3v1.3h-1.3zm1.6 0.1h1.3v1.3h-1.3zm32.7 0.5h1.3v1.3h-1.3zm3.9 -0.2h1.3v1.3h-1.3zm1.1 -0.5h1.3v1.3h-1.3zm1 0h1.3v1.3h-1.3zm3.3 0.4h1.3v1.3h-1.3zm2.4 0.1h1.3v1.3h-1.3zm1.1 -0.1h1.3v1.3h-1.3zm2.8 0.4h1.3v1.3h-1.3zm2.8 -0.6h1.3v1.3h-1.3zm19.9 0.1h1.3v1.3h-1.3zm7.9 -0.2h1.3v1.3h-1.3zm28.7 0.7h1.3v1.3h-1.3zm-112.9 0.9h1.3v1.3h-1.3zm2.2 -0.1h1.3v1.3h-1.3zm0.3 -0.5h1.3v1.3h-1.3zm0.8 0.6h1.3v1.3h-1.3zm0.5 0.1h1.3v1.3h-1.3zm34.1 -0.4h1.3v1.3h-1.3zm3.7 0h1.3v1.3h-1.3zm2.1 0.1h1.3v1.3h-1.3zm4.7 0.3h1.3v1.3h-1.3zm3.4 -0.6h1.3v1.3h-1.3zm10.4 0.3h1.3v1.3h-1.3zm17.3 0.2h1.3v1.3h-1.3zm2.3 -0.7h1.3v1.3h-1.3zm2.1 0.6h1.3v1.3h-1.3zm24.1 -0.3h1.3v1.3h-1.3zm-108 1.4h1.3v1.3h-1.3zm1.9 0.1h1.3v1.3h-1.3zm36.3 -0.2h1.3v1.3h-1.3zm0 0.2h1.3v1.3h-1.3zm0.3 0h1.3v1.3h-1.3zm1.2 -0.3h1.3v1.3h-1.3zm0.3 0.2h1.3v1.3h-1.3zm0.9 -0.6h1.3v1.3h-1.3zm1.5 0.2h1.3v1.3h-1.3zm0.2 0.1h1.3v1.3h-1.3zm0.6 0.3h1.3v1.3h-1.3zm1.1 0.1h1.3v1.3h-1.3zm6.4 -0.2h1.3v1.3h-1.3zm16.4 -0.4h1.3v1.3h-1.3zm4.2 0.4h1.3v1.3h-1.3zm20.2 -0.6h1.3v1.3h-1.3zm7.5 0.8h1.3v1.3h-1.3zm-102.3 0.3h1.3v1.3h-1.3zm3.4 0.4h1.3v1.3h-1.3zm1.9 -0.1h1.3v1.3h-1.3zm0.6 -0.3h1.3v1.3h-1.3zm36.1 0.4h1.3v1.3h-1.3zm0.5 -0.1h1.3v1.3h-1.3zm1.7 0.4h1.3v1.3h-1.3zm1.2 -0.1h1.3v1.3h-1.3zm0.2 0.2h1.3v1.3h-1.3zm1.3 -0.3h1.3v1.3h-1.3zm2.7 0.1h1.3v1.3h-1.3zm1.8 0h1.3v1.3h-1.3zm0.6 0.2h1.3v1.3h-1.3zm3.7 -0.7h1.3v1.3h-1.3zm0.6 -0.1h1.3v1.3h-1.3zm14.6 0.8h1.3v1.3h-1.3zm7.5 -0.7h1.3v1.3h-1.3zm2.2 0.6h1.3v1.3h-1.3zm17.2 0.1h1.3v1.3h-1.3zm-96.4 0.8h1.3v1.3h-1.3zm2.8 -0.6h1.3v1.3h-1.3zm37.6 0.3h1.3v1.3h-1.3zm0.1 -0.4h1.3v1.3h-1.3zm2.2 0.5h1.3v1.3h-1.3zm2.4 0.1h1.3v1.3h-1.3zm2 -0.6h1.3v1.3h-1.3zm0.8 0.8h1.3v1.3h-1.3zm3.1 -0.3h1.3v1.3h-1.3zm16.6 0.3h1.3v1.3h-1.3zm23.4 0h1.3v1.3h-1.3zm-89.8 0.7h1.3v1.3h-1.3zm0.6 -0.5h1.3v1.3h-1.3zm38.3 0.6h1.3v1.3h-1.3zm0 0.3h1.3v1.3h-1.3zm0.9 -0.8h1.3v1.3h-1.3zm0.2 0.6h1.3v1.3h-1.3zm0.5 -0.3h1.3v1.3h-1.3zm0.4 -0.4h1.3v1.3h-1.3zm0.5 0.4h1.3v1.3h-1.3zm0.7 0.3h1.3v1.3h-1.3zm0.2 -0.3h1.3v1.3h-1.3zm0.5 0.5h1.3v1.3h-1.3zm0.5 -0.7h1.3v1.3h-1.3zm11.7 0.4h1.3v1.3h-1.3zm10 -0.4h1.3v1.3h-1.3zm6.6 0.5h1.3v1.3h-1.3zm5.1 -0.3h1.3v1.3h-1.3zm-78.7 0.9h1.3v1.3h-1.3zm41.6 0h1.3v1.3h-1.3zm1.6 0.5h1.3v1.3h-1.3zm0 -0.2h1.3v1.3h-1.3zm0.8 0h1.3v1.3h-1.3zm2.8 -0.1h1.3v1.3h-1.3zm5.2 -0.2h1.3v1.3h-1.3zm2.4 -0.3h1.3v1.3h-1.3zm0.8 0.6h1.3v1.3h-1.3zm0.3 -0.5h1.3v1.3h-1.3zm0.5 -0.1h1.3v1.3h-1.3zm9.1 0.7h1.3v1.3h-1.3zm6.7 0.1h1.3v1.3h-1.3zm-75.1 0.2h1.3v1.3h-1.3zm1.3 0.6h1.3v1.3h-1.3zm1.5 -0.3h1.3v1.3h-1.3zm0.6 0h1.3v1.3h-1.3zm40.9 0.1h1.3v1.3h-1.3zm0.1 0.4h1.3v1.3h-1.3zm0.5 -0.6h1.3v1.3h-1.3zm0.6 -0.2h1.3v1.3h-1.3zm0.4 0.4h1.3v1.3h-1.3zm1.3 0h1.3v1.3h-1.3zm1.8 -0.4h1.3v1.3h-1.3zm0.6 0.5h1.3v1.3h-1.3zm0.5 -0.5h1.3v1.3h-1.3zm0.3 0.6h1.3v1.3h-1.3zm5.2 -0.6h1.3v1.3h-1.3zm6.8 0.4h1.3v1.3h-1.3zm9.4 0.1h1.3v1.3h-1.3zm30.4 0.3h1.3v1.3h-1.3zm-100.8 0.9h1.3v1.3h-1.3zm2 0.1h1.3v1.3h-1.3zm0.2 -0.1h1.3v1.3h-1.3zm40.8 -0.3h1.3v1.3h-1.3zm0.6 -0.2h1.3v1.3h-1.3zm3.4 0.3h1.3v1.3h-1.3zm2.7 0.4h1.3v1.3h-1.3zm1.6 -0.7h1.3v1.3h-1.3zm31.8 0h1.3v1.3h-1.3zm46 0.6h1.3v1.3h-1.3zm-130.7 0.5h1.3v1.3h-1.3zm2.6 0.2h1.3v1.3h-1.3zm0.4 0.2h1.3v1.3h-1.3zm41.6 -0.2h1.3v1.3h-1.3zm0.1 -0.1h1.3v1.3h-1.3zm0.9 0h1.3v1.3h-1.3zm0.7 0.4h1.3v1.3h-1.3zm1 -0.8h1.3v1.3h-1.3zm0.5 0.1h1.3v1.3h-1.3zm0.7 0.8h1.3v1.3h-1.3zm0.1 -0.4h1.3v1.3h-1.3zm0.4 0.1h1.3v1.3h-1.3zm1 -0.4h1.3v1.3h-1.3zm0.4 -0.2h1.3v1.3h-1.3zm1.3 0.9h1.3v1.3h-1.3zm5.9 0h1.3v1.3h-1.3zm79.1 -0.9h1.3v1.3h-1.3zm-137.5 1.4h1.3v1.3h-1.3zm1.7 0.3h1.3v1.3h-1.3zm1 -0.5h1.3v1.3h-1.3zm0.5 0.1h1.3v1.3h-1.3zm41.5 0.3h1.3v1.3h-1.3zm0.9 -0.2h1.3v1.3h-1.3zm0.2 -0.3h1.3v1.3h-1.3zm0.4 0.4h1.3v1.3h-1.3zm25.1 -0.1h1.3v1.3h-1.3zm6.6 -0.4h1.3v1.3h-1.3zm7 0.8h1.3v1.3h-1.3zm-87.3 0.8h1.3v1.3h-1.3zm48.3 0h1.3v1.3h-1.3zm1.8 0.3h1.3v1.3h-1.3zm3.8 -0.2h1.3v1.3h-1.3zm0.5 -0.7h1.3v1.3h-1.3zm2.3 0.5h1.3v1.3h-1.3zm4.3 -0.1h1.3v1.3h-1.3zm23.7 -0.3h1.3v1.3h-1.3zm28.7 0h1.3v1.3h-1.3zm-111.5 1.3h1.3v1.3h-1.3zm0.8 0.3h1.3v1.3h-1.3zm46.2 0h1.3v1.3h-1.3zm3.1 -0.3h1.3v1.3h-1.3zm2.3 -0.1h1.3v1.3h-1.3zm1.4 -0.1h1.3v1.3h-1.3zm1 0.1h1.3v1.3h-1.3zm0.2 0.6h1.3v1.3h-1.3zm-53.2 0.5h1.3v1.3h-1.3zm43.7 0.2h1.3v1.3h-1.3zm0.1 -0.6h1.3v1.3h-1.3zm5.1 0h1.3v1.3h-1.3zm4.7 0.3h1.3v1.3h-1.3zm4.3 0.1h1.3v1.3h-1.3zm15.6 0.1h1.3v1.3h-1.3zm4.1 -0.2h1.3v1.3h-1.3zm9.5 0h1.3v1.3h-1.3zm3.9 0.1h1.3v1.3h-1.3zm-94 1.3h1.3v1.3h-1.3zm2.4 -0.7h1.3v1.3h-1.3zm0.2 0h1.3v1.3h-1.3zm47.2 0.3h1.3v1.3h-1.3zm0.8 0.4h1.3v1.3h-1.3zm4 0.1h1.3v1.3h-1.3zm1.4 -0.5h1.3v1.3h-1.3zm63 -0.1h1.3v1.3h-1.3zm5 0.2h1.3v1.3h-1.3zm-124.9 0.8h1.3v1.3h-1.3zm47 0.2h1.3v1.3h-1.3zm0 -0.4h1.3v1.3h-1.3zm0.1 0h1.3v1.3h-1.3zm1.3 0.7h1.3v1.3h-1.3zm0.4 -0.1h1.3v1.3h-1.3zm0.3 0h1.3v1.3h-1.3zm15.6 -0.1h1.3v1.3h-1.3zm12.3 0.2h1.3v1.3h-1.3zm-77.8 1.1h1.3v1.3h-1.3zm47.5 0h1.3v1.3h-1.3zm0.7 0h1.3v1.3h-1.3zm0.3 -0.8h1.3v1.3h-1.3zm1.6 0.3h1.3v1.3h-1.3zm3.4 0.3h1.3v1.3h-1.3zm0.8 0.2h1.3v1.3h-1.3zm4 -0.6h1.3v1.3h-1.3zm31.3 0.4h1.3v1.3h-1.3zm2.9 0.2h1.3v1.3h-1.3zm7 -0.5h1.3v1.3h-1.3zm44.7 0.4h1.3v1.3h-1.3zm-141.6 0.5h1.3v1.3h-1.3zm45.9 0.7h1.3v1.3h-1.3zm2.9 -0.5h1.3v1.3h-1.3zm0.4 -0.2h1.3v1.3h-1.3zm0.4 0.6h1.3v1.3h-1.3zm1.7 -0.4h1.3v1.3h-1.3zm5.2 -0.3h1.3v1.3h-1.3zm39.2 0.5h1.3v1.3h-1.3zm-99.9 0.7h1.3v1.3h-1.3zm2.5 0.2h1.3v1.3h-1.3zm0.7 0.4h1.3v1.3h-1.3zm0.7 -0.2h1.3v1.3h-1.3zm0 -0.5h1.3v1.3h-1.3zm0.2 0.3h1.3v1.3h-1.3zm44.5 -0.5h1.3v1.3h-1.3zm1.2 0.8h1.3v1.3h-1.3zm0.3 0h1.3v1.3h-1.3zm0.6 -0.2h1.3v1.3h-1.3zm0.5 -0.5h1.3v1.3h-1.3zm0.6 0.4h1.3v1.3h-1.3zm0.5 -0.3h1.3v1.3h-1.3zm11.4 0.2h1.3v1.3h-1.3zm4 0.3h1.3v1.3h-1.3zm22.6 -0.2h1.3v1.3h-1.3zm16.7 -0.2h1.3v1.3h-1.3zm-104.4 0.8h1.3v1.3h-1.3zm0.4 0.8h1.3v1.3h-1.3zm0.8 0h1.3v1.3h-1.3zm44.7 -0.3h1.3v1.3h-1.3zm0 -0.6h1.3v1.3h-1.3zm2.5 0.4h1.3v1.3h-1.3zm0.3 -0.3h1.3v1.3h-1.3zm1.7 0.1h1.3v1.3h-1.3zm2.7 0.2h1.3v1.3h-1.3zm1.4 -0.1h1.3v1.3h-1.3zm2.1 0h1.3v1.3h-1.3zm1.1 0.5h1.3v1.3h-1.3zm1.1 0h1.3v1.3h-1.3zm4.7 -0.6h1.3v1.3h-1.3zm37 0.4h1.3v1.3h-1.3zm-101.1 1h1.3v1.3h-1.3zm0.2 0.2h1.3v1.3h-1.3zm1.7 -0.2h1.3v1.3h-1.3zm43.7 0.1h1.3v1.3h-1.3zm1 -0.4h1.3v1.3h-1.3zm0.3 0.1h1.3v1.3h-1.3zm1.4 0.4h1.3v1.3h-1.3zm0.2 0.1h1.3v1.3h-1.3zm0.6 -0.3h1.3v1.3h-1.3zm0.6 -0.4h1.3v1.3h-1.3zm0.4 -0.2h1.3v1.3h-1.3zm1 0.3h1.3v1.3h-1.3zm0.3 0h1.3v1.3h-1.3zm0.7 0.3h1.3v1.3h-1.3zm1.5 0.2h1.3v1.3h-1.3zm1.5 -0.4h1.3v1.3h-1.3zm4.9 -0.2h1.3v1.3h-1.3zm24.7 0.1h1.3v1.3h-1.3zm-85.9 0.7h1.3v1.3h-1.3zm47.3 0.4h1.3v1.3h-1.3zm1.7 -0.4h1.3v1.3h-1.3zm1.1 0.1h1.3v1.3h-1.3zm3.2 -0.1h1.3v1.3h-1.3zm4.2 0.1h1.3v1.3h-1.3zm29.5 -0.1h1.3v1.3h-1.3zm15.4 0.1h1.3v1.3h-1.3z"/><path fill="#fbe6e8" d="M0 0m330.9 392.7h1v1h-1zm-7.8 1.1h1v1h-1zm5.4 0.5h1v1h-1zm6.2 0.2h1v1h-1zm-12.8 1h1v1h-1zm11.4 10.4h1v1h-1zm0.5 -0.2h1v1h-1zm-31.7 5.4h1v1h-1zm34.9 3.1h1v1h-1zm-1 2.1h1v1h-1zm-43.2 7h1v1h-1zm11.9 3h1v1h-1zm7 0.2h1v1h-1zm18.3 -0.3h1v1h-1zm2.6 0.2h1v1h-1z"/><path stroke="#1a1a1a" stroke-width="1.15" fill="none" d="M327.5 255.5V427.5M272.5 371.5H442.5"/><rect x="272.5" y="255.5" width="170" height="172" fill="none" stroke="#1a1a1a" stroke-width="1.2"/><path stroke="#1a1a1a" stroke-width="1" fill="none" d="M272.5 427.5v4.5M272.5 427.5h-4.5M285.5 427.5v2.4M272.5 414.5h-2.4M292.5 427.5v2.4M272.5 406.5h-2.4M298.5 427.5v2.4M272.5 401.5h-2.4M302.5 427.5v2.4M272.5 397.5h-2.4M305.5 427.5v2.4M272.5 393.5h-2.4M308.5 427.5v2.4M272.5 391.5h-2.4M310.5 427.5v2.4M272.5 388.5h-2.4M312.5 427.5v2.4M272.5 386.5h-2.4M314.5 427.5v4.5M272.5 384.5h-4.5M327.5 427.5v2.4M272.5 371.5h-2.4M335.5 427.5v2.4M272.5 364.5h-2.4M340.5 427.5v2.4M272.5 358.5h-2.4M344.5 427.5v2.4M272.5 354.5h-2.4M347.5 427.5v2.4M272.5 351.5h-2.4M350.5 427.5v2.4M272.5 348.5h-2.4M353.5 427.5v2.4M272.5 345.5h-2.4M355.5 427.5v2.4M272.5 343.5h-2.4M357.5 427.5v4.5M272.5 341.5h-4.5M370.5 427.5v2.4M272.5 328.5h-2.4M377.5 427.5v2.4M272.5 321.5h-2.4M382.5 427.5v2.4M272.5 315.5h-2.4M387.5 427.5v2.4M272.5 311.5h-2.4M390.5 427.5v2.4M272.5 308.5h-2.4M393.5 427.5v2.4M272.5 305.5h-2.4M395.5 427.5v2.4M272.5 303.5h-2.4M397.5 427.5v2.4M272.5 300.5h-2.4M399.5 427.5v4.5M272.5 298.5h-4.5M412.5 427.5v2.4M272.5 286.5h-2.4M420.5 427.5v2.4M272.5 278.5h-2.4M425.5 427.5v2.4M272.5 273.5h-2.4M429.5 427.5v2.4M272.5 268.5h-2.4M432.5 427.5v2.4M272.5 265.5h-2.4M435.5 427.5v2.4M272.5 262.5h-2.4M438.5 427.5v2.4M272.5 260.5h-2.4M440.5 427.5v2.4M272.5 258.5h-2.4M442.5 427.5v4.5M272.5 256.5h-4.5"/><text x="272.5" y="443.8" font-size="10.6" text-anchor="middle">10<tspan font-size="7.8" dx="0.7" dy="-4.4">0</tspan></text><text x="314.9" y="443.8" font-size="10.6" text-anchor="middle">10<tspan font-size="7.8" dx="0.7" dy="-4.4">1</tspan></text><text x="357.4" y="443.8" font-size="10.6" text-anchor="middle">10<tspan font-size="7.8" dx="0.7" dy="-4.4">2</tspan></text><text x="399.8" y="443.8" font-size="10.6" text-anchor="middle">10<tspan font-size="7.8" dx="0.7" dy="-4.4">3</tspan></text><text x="442.2" y="443.8" font-size="10.6" text-anchor="middle">10<tspan font-size="7.8" dx="0.7" dy="-4.4">4</tspan></text><g transform="translate(264 427.3) rotate(-90)"><text x="0.3" y="0" font-size="10.6" text-anchor="middle">10<tspan font-size="7.8" dx="0.7" dy="-4.4">0</tspan></text></g><g transform="translate(264 384.5) rotate(-90)"><text x="0.3" y="0" font-size="10.6" text-anchor="middle">10<tspan font-size="7.8" dx="0.7" dy="-4.4">1</tspan></text></g><g transform="translate(264 341.7) rotate(-90)"><text x="0.3" y="0" font-size="10.6" text-anchor="middle">10<tspan font-size="7.8" dx="0.7" dy="-4.4">2</tspan></text></g><g transform="translate(264 298.9) rotate(-90)"><text x="0.3" y="0" font-size="10.6" text-anchor="middle">10<tspan font-size="7.8" dx="0.7" dy="-4.4">3</tspan></text></g><g transform="translate(264 256.1) rotate(-90)"><text x="0.3" y="0" font-size="10.6" text-anchor="middle">10<tspan font-size="7.8" dx="0.7" dy="-4.4">4</tspan></text></g>
<rect x="515.4" y="338.6" width="22.4" height="50.4" fill="#0a0a0a"/><path stroke="#1a1a1a" stroke-width="1.1" fill="none" d="M526.6 338.6V338M521.6 338H531.6"/><path stroke="#1a1a1a" stroke-width="1.1" d="M526.6 389v3"/><rect x="546.4" y="293" width="22.4" height="96" fill="#a5a5a5"/><path stroke="#1a1a1a" stroke-width="1.1" fill="none" d="M557.6 293V289.5M552.6 289.5H562.6"/><path stroke="#1a1a1a" stroke-width="1.1" d="M557.6 389v3"/><rect x="577.4" y="341.5" width="22.4" height="47.5" fill="#878787"/><path stroke="#1a1a1a" stroke-width="1.1" fill="none" d="M588.6 341.5V341M583.6 341H593.6"/><path stroke="#1a1a1a" stroke-width="1.1" d="M588.6 389v3"/><rect x="608.4" y="336.4" width="22.4" height="52.6" fill="#dcdcdc"/><path stroke="#1a1a1a" stroke-width="1.1" fill="none" d="M619.6 336.4V335.8M614.6 335.8H624.6"/><path stroke="#1a1a1a" stroke-width="1.1" d="M619.6 389v3"/><rect x="639.5" y="338.6" width="22.4" height="50.4" fill="#5e5e5e"/><path stroke="#1a1a1a" stroke-width="1.1" fill="none" d="M650.7 338.6V338M645.7 338H655.7"/><path stroke="#1a1a1a" stroke-width="1.1" d="M650.7 389v3"/><path stroke="#1a1a1a" stroke-width="1.3" fill="none" d="M505.5 278.2V388.5M504.9 388.5H672"/><path stroke="#1a1a1a" stroke-width="1.1" d="M506 389h-3"/><path stroke="#1a1a1a" stroke-width="1.1" d="M506 352.1h-3"/><path stroke="#1a1a1a" stroke-width="1.1" d="M506 315.1h-3"/><path stroke="#1a1a1a" stroke-width="1.1" d="M506 278.2h-3"/><path stroke="#1a1a1a" stroke-width="1.1" fill="none" d="M556.5 273.3V263.6H653.8V273.4M618.4 263.6V272.7"/><g fill="#111"><polygon points="551.70,280.05 552.48,281.73 554.32,281.95 552.96,283.21 553.32,285.02 551.70,284.12 550.08,285.02 550.44,283.21 549.08,281.95 550.92,281.73"/><polygon points="557.60,280.05 558.38,281.73 560.22,281.95 558.86,283.21 559.22,285.02 557.60,284.12 555.98,285.02 556.34,283.21 554.98,281.95 556.82,281.73"/><polygon points="563.50,280.05 564.28,281.73 566.12,281.95 564.76,283.21 565.12,285.02 563.50,284.12 561.88,285.02 562.24,283.21 560.88,281.95 562.72,281.73"/><polygon points="613.40,254.95 614.18,256.63 616.02,256.85 614.66,258.11 615.02,259.92 613.40,259.02 611.78,259.92 612.14,258.11 610.78,256.85 612.62,256.63"/><polygon points="619.30,254.95 620.08,256.63 621.92,256.85 620.56,258.11 620.92,259.92 619.30,259.02 617.68,259.92 618.04,258.11 616.68,256.85 618.52,256.63"/><polygon points="625.20,254.95 625.98,256.63 627.82,256.85 626.46,258.11 626.82,259.92 625.20,259.02 623.58,259.92 623.94,258.11 622.58,256.85 624.42,256.63"/><polygon points="644.60,254.95 645.38,256.63 647.22,256.85 645.86,258.11 646.22,259.92 644.60,259.02 642.98,259.92 643.34,258.11 641.98,256.85 643.82,256.63"/><polygon points="650.50,254.95 651.28,256.63 653.12,256.85 651.76,258.11 652.12,259.92 650.50,259.02 648.88,259.92 649.24,258.11 647.88,256.85 649.72,256.63"/><polygon points="656.40,254.95 657.18,256.63 659.02,256.85 657.66,258.11 658.02,259.92 656.40,259.02 654.78,259.92 655.14,258.11 653.78,256.85 655.62,256.63"/></g>
<g class="tx"><text transform="translate(115.15 17.00) scale(1.017 1)" font-size="11.2">NC</text><text transform="translate(335.25 16.80) scale(1.011 1)" font-size="11.2">rhIL-1β</text><text transform="translate(550.14 17.10) scale(1.019 1)" font-size="11.2">rhIL-1RA</text><text transform="translate(91.58 249.40) scale(0.969 1)" font-size="11.2">rhIL-1β+1RA</text><text transform="translate(326.27 249.00) scale(0.983 1)" font-size="11.2">rhIL-1β+RAPA</text><text transform="translate(102.55 224.40) scale(0.976 1)" font-size="11.2">Annexin V</text><text transform="translate(327.85 224.30) scale(0.990 1)" font-size="11.2">Annexin V</text><text transform="translate(551.95 224.30) scale(0.976 1)" font-size="11.2">Annexin V</text><text transform="translate(105.65 452.00) scale(0.976 1)" font-size="11.2">Annexin V</text><text transform="translate(329.85 455.30) scale(0.978 1)" font-size="11.2">Annexin V</text><text transform="translate(20.10 114.68) scale(1 1.082) rotate(-90)" font-size="11.2">PI</text><text transform="translate(245.20 114.96) scale(1 1.059) rotate(-90)" font-size="11.2">PI</text><text transform="translate(467.90 114.21) scale(1 1.059) rotate(-90)" font-size="11.2">PI</text><text transform="translate(23.80 347.42) scale(1 1.024) rotate(-90)" font-size="11.2">PI</text><text transform="translate(246.30 346.81) scale(1 1.059) rotate(-90)" font-size="11.2">PI</text><text transform="translate(3.15 16.50) scale(1.046 1)" font-size="17">C</text><text transform="translate(478.60 379.24) scale(1 1.006) rotate(-90)" font-size="11.2">Apoptosis rate (%)</text><text transform="translate(530.20 412.05) scale(1 1.048) rotate(-90)" font-size="11.2">NC</text><text transform="translate(560.10 430.21) scale(1 0.983) rotate(-90)" font-size="11.2">rhIL-1β</text><text transform="translate(593.30 440.93) scale(1 1.013) rotate(-90)" font-size="11.2">rhIL-1RA</text><text transform="translate(625.30 458.00) scale(1 0.974) rotate(-90)" font-size="11.2">rhIL-1β+1RA</text><text transform="translate(655.60 465.61) scale(1 0.975) rotate(-90)" font-size="11.2">rhIL-1β+RAPA</text><text transform="translate(487.19 282.80) scale(1.077 1)" font-size="10.8">60</text><text transform="translate(487.73 319.50) scale(1.047 1)" font-size="10.8">40</text><text transform="translate(487.60 356.00) scale(1.076 1)" font-size="10.8">20</text><text transform="translate(493.97 392.50) scale(1.108 1)" font-size="10.8">0</text></g></g>
</svg>
</body></html>
